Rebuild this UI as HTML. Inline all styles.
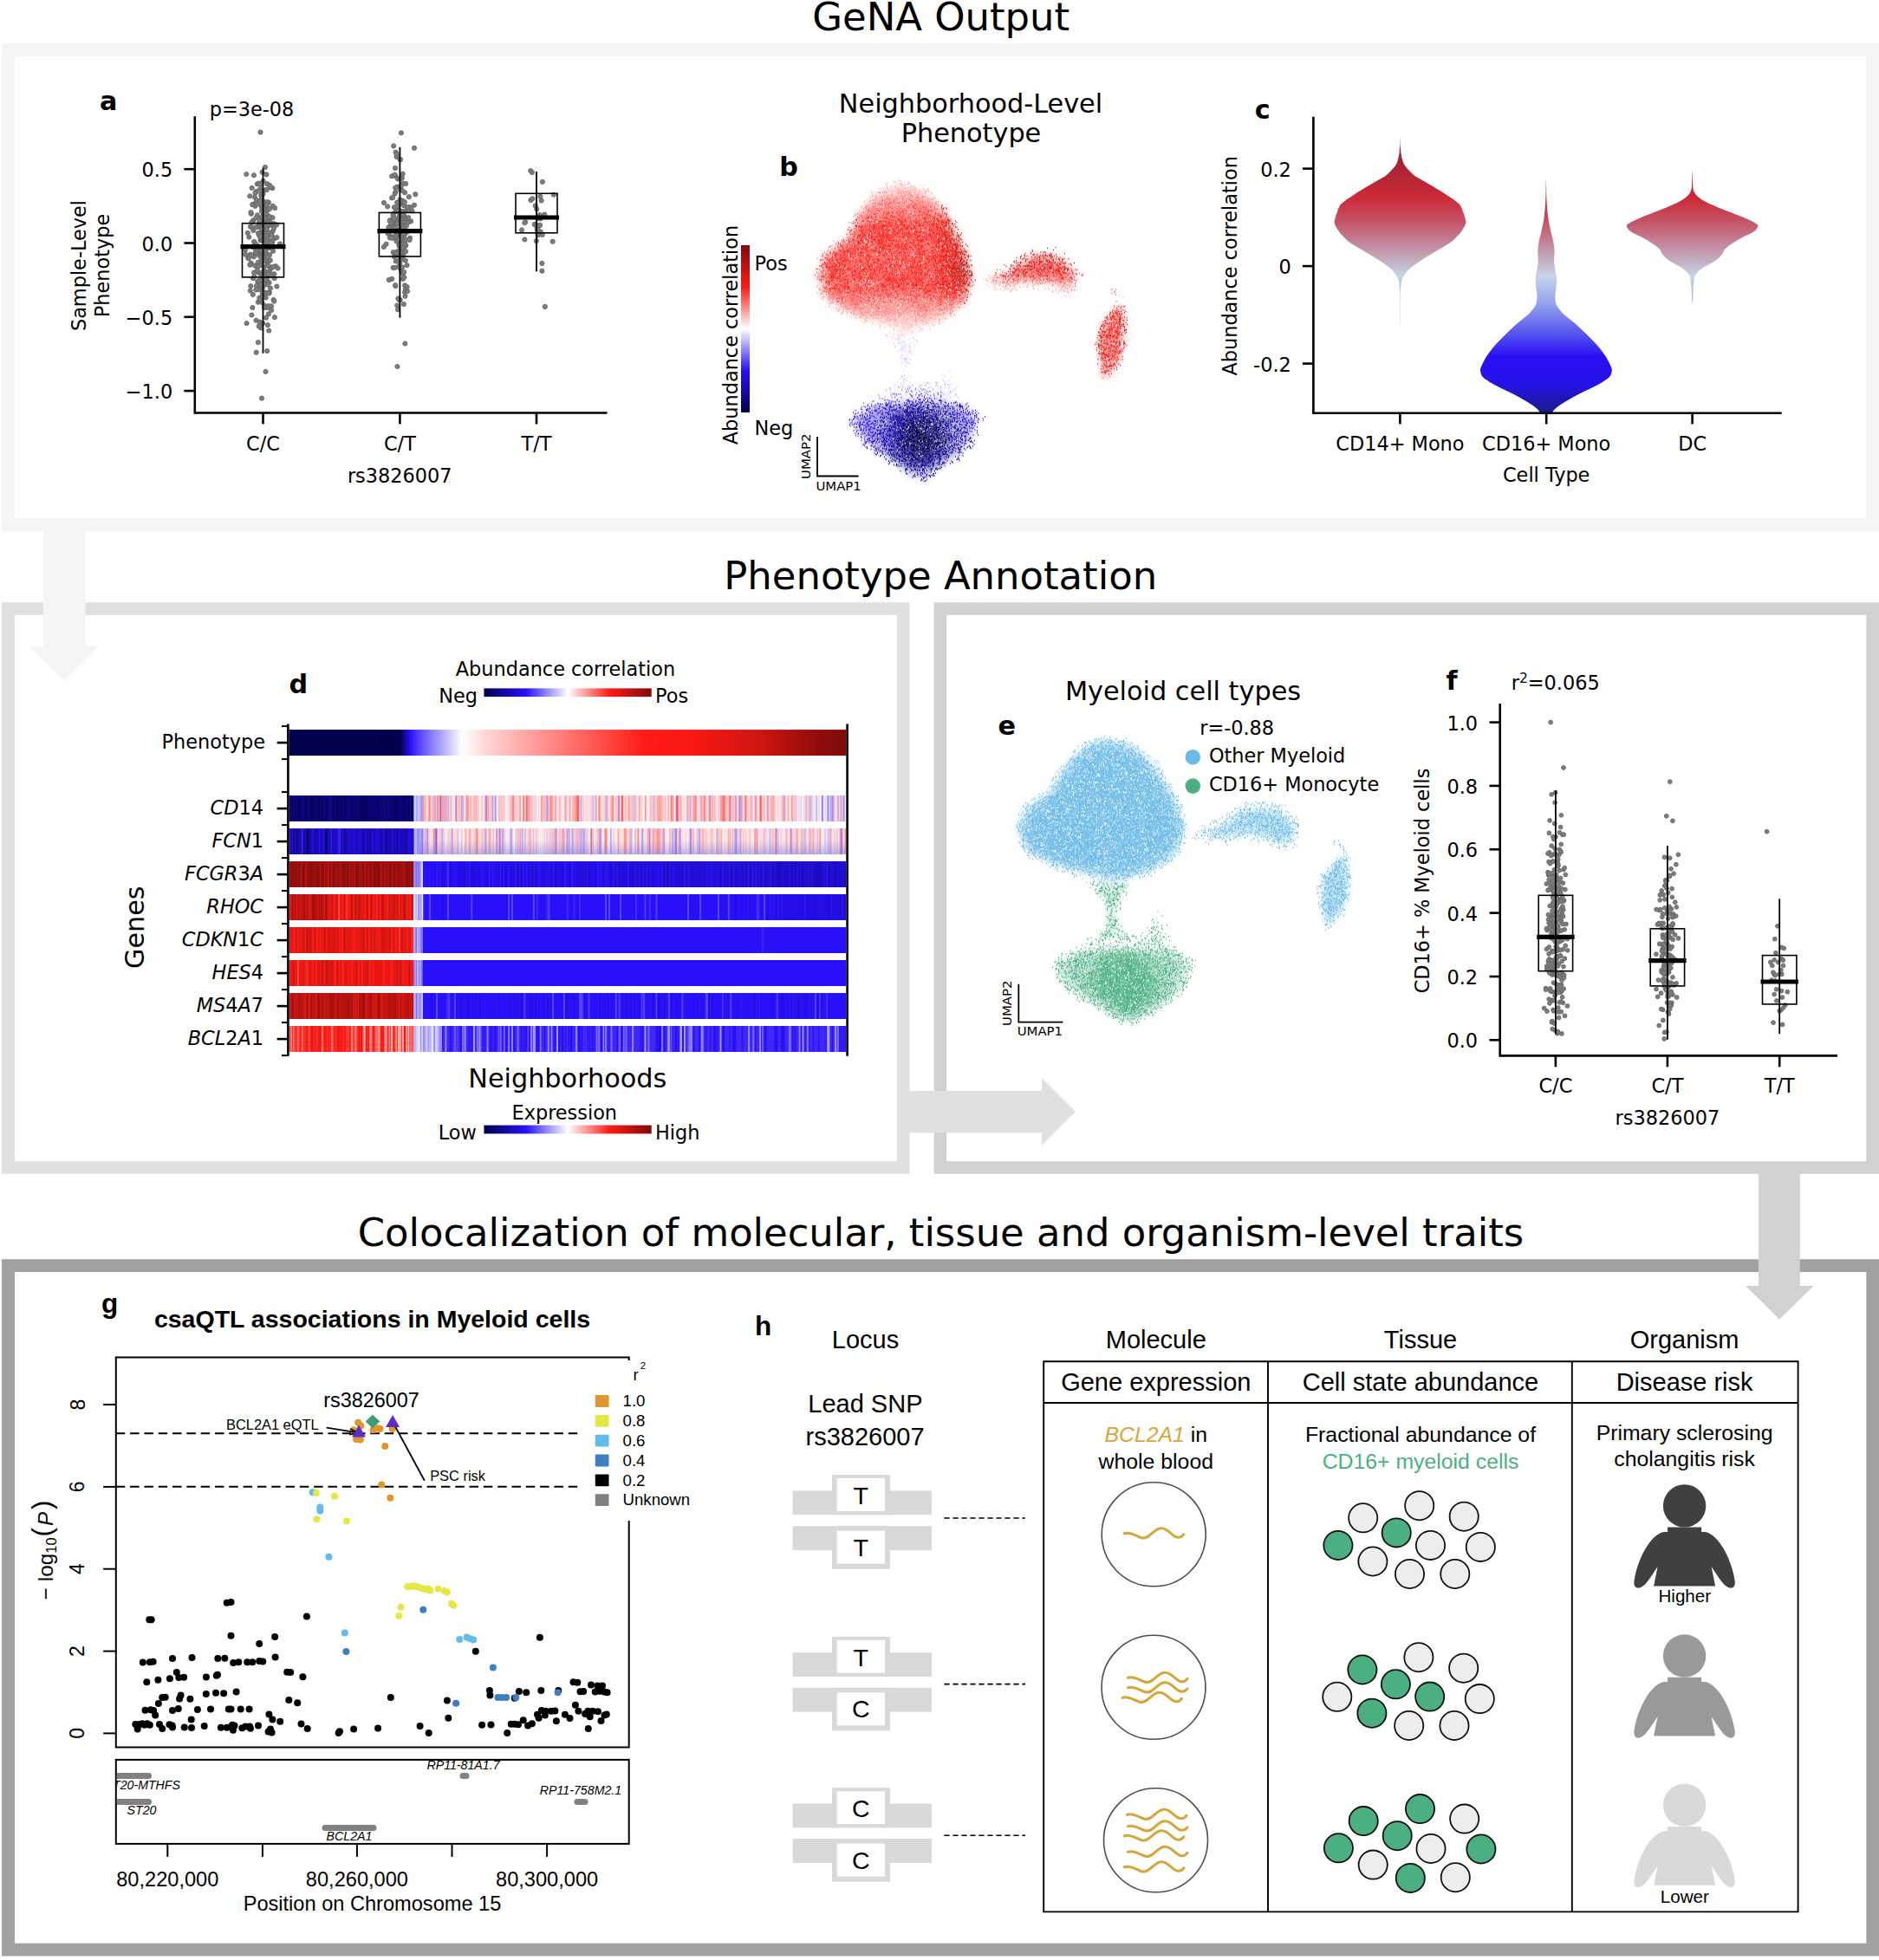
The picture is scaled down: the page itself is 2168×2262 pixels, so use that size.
<!DOCTYPE html><html><head><meta charset="utf-8"><title>GeNA figure</title><style>html,body{margin:0;padding:0;background:#fff}svg{display:block}text{font-family:"DejaVu Sans","Liberation Sans",sans-serif}text.l{font-family:"Liberation Sans","DejaVu Sans",sans-serif}</style></head><body><svg width="2168" height="2262" viewBox="0 0 2168 2262"><defs><linearGradient id="cbv" x1="0" x2="0" y1="0" y2="1"><stop offset="0.0" stop-color="#7f0a0a"/><stop offset="0.25" stop-color="#ff1a14"/><stop offset="0.5" stop-color="#ffffff"/><stop offset="0.75" stop-color="#2810f8"/><stop offset="1.0" stop-color="#00004c"/></linearGradient><linearGradient id="vg" gradientUnits="userSpaceOnUse" x1="0" y1="155.2" x2="0" y2="475.9"><stop offset="0.0000" stop-color="#8e1f33"/><stop offset="0.0789" stop-color="#a02234"/><stop offset="0.2298" stop-color="#cc2a36"/><stop offset="0.3184" stop-color="#c4566b"/><stop offset="0.3947" stop-color="#c4889c"/><stop offset="0.4572" stop-color="#c3b0c3"/><stop offset="0.5088" stop-color="#c5d5e8"/><stop offset="0.6140" stop-color="#8fa0ec"/><stop offset="0.7088" stop-color="#5a5cf0"/><stop offset="0.7982" stop-color="#2a10f5"/><stop offset="0.8947" stop-color="#2412e8"/><stop offset="1.0000" stop-color="#1a1a8c"/></linearGradient><linearGradient id="cb1" x1="0" x2="1" y1="0" y2="0"><stop offset="0.0" stop-color="#00004c"/><stop offset="0.25" stop-color="#2810f8"/><stop offset="0.5" stop-color="#ffffff"/><stop offset="0.75" stop-color="#ff1a14"/><stop offset="1.0" stop-color="#7f0a0a"/></linearGradient><linearGradient id="cb2" x1="0" x2="1" y1="0" y2="0"><stop offset="0.0" stop-color="#00004c"/><stop offset="0.25" stop-color="#2810f8"/><stop offset="0.5" stop-color="#ffffff"/><stop offset="0.75" stop-color="#ff1a14"/><stop offset="1.0" stop-color="#7f0a0a"/></linearGradient><linearGradient id="phg" x1="0" x2="1" y1="0" y2="0"><stop offset="0" stop-color="#00004c"/><stop offset="0.2" stop-color="#00004c"/><stop offset="0.2" stop-color="#020156"/><stop offset="0.218" stop-color="#2810f8"/><stop offset="0.232" stop-color="#5340f9"/><stop offset="0.31" stop-color="#ffffff"/><stop offset="0.36" stop-color="#ffd1d0"/><stop offset="0.5" stop-color="#ff7672"/><stop offset="0.64" stop-color="#ff1a14"/><stop offset="0.72" stop-color="#fa1914"/><stop offset="0.85" stop-color="#cc1410"/><stop offset="0.95" stop-color="#910c0b"/><stop offset="1" stop-color="#7f0a0a"/></linearGradient><linearGradient id="fcg" x1="0" x2="0" y1="0" y2="1"><stop offset="0.45" stop-color="#7070e0" stop-opacity="0"/><stop offset="1" stop-color="#7070e0" stop-opacity="0.42"/></linearGradient><filter id="hb" x="0" y="-5%" width="100%" height="110%"><feGaussianBlur stdDeviation="0.7 0"/></filter><filter id="bl" x="-5%" y="-5%" width="110%" height="110%"><feGaussianBlur stdDeviation="3"/></filter></defs><rect width="2168" height="2262" fill="#fff"/><path fill="#f5f5f5" fill-rule="evenodd" d="M2,50H2168V613.2H2ZM17,65V598H2153V65Z"/><path fill="#dfe1e0" fill-rule="evenodd" d="M2,695.2H1049.5V1354.8H2ZM17,709.7V1340.2H1035V709.7Z"/><path fill="#d1d1d1" fill-rule="evenodd" d="M1077.7,695.2H2168V1354.8H1077.7ZM1092.2,709.7V1340.2H2153.3V709.7Z"/><path fill="#a1a1a1" fill-rule="evenodd" d="M2,1453.3H2168V2257.5H2ZM17,1467.9V2242.7H2153.3V1467.9Z"/><path fill="#f5f5f5" d="M49.8,600H98.5V746H114.4L74.5,786L34.6,746H49.8Z"/><path fill="#dfe1e0" d="M1036,1259H1202V1243.9L1241,1283L1202,1322.1V1307.3H1036Z"/><path fill="#d1d1d1" d="M2029,1342H2076.8V1484H2092.3L2053,1522.7L2014,1484H2029Z"/><text x="1085.7" y="35.2" font-size="44.9" text-anchor="middle">GeNA Output</text><text x="1085.2" y="679.8" font-size="44.9" text-anchor="middle">Phenotype Annotation</text><text x="1085.4" y="1438.3" font-size="44.9" text-anchor="middle">Colocalization of molecular, tissue and organism-level traits</text><text x="115.0" y="127.0" font-size="30.2" font-weight="bold">a</text><text x="241.8" y="134.3" font-size="22.4">p=3e-08</text><g fill="#7d7d7d" stroke="#666" stroke-width="0.9"><circle cx="307.3" cy="297.4" r="2.6"/><circle cx="301.1" cy="296.0" r="2.6"/><circle cx="301.9" cy="328.5" r="2.6"/><circle cx="306.7" cy="234.4" r="2.6"/><circle cx="305.4" cy="237.9" r="2.6"/><circle cx="304.9" cy="267.4" r="2.6"/><circle cx="309.9" cy="362.4" r="2.6"/><circle cx="307.2" cy="262.3" r="2.6"/><circle cx="290.4" cy="363.5" r="2.6"/><circle cx="300.0" cy="326.6" r="2.6"/><circle cx="303.2" cy="271.5" r="2.6"/><circle cx="298.7" cy="261.6" r="2.6"/><circle cx="306.5" cy="271.4" r="2.6"/><circle cx="316.4" cy="316.1" r="2.6"/><circle cx="312.5" cy="260.0" r="2.6"/><circle cx="298.0" cy="314.2" r="2.6"/><circle cx="302.7" cy="301.5" r="2.6"/><circle cx="305.4" cy="256.5" r="2.6"/><circle cx="296.3" cy="306.2" r="2.6"/><circle cx="312.7" cy="309.6" r="2.6"/><circle cx="305.3" cy="322.8" r="2.6"/><circle cx="292.3" cy="266.0" r="2.6"/><circle cx="313.3" cy="283.4" r="2.6"/><circle cx="301.1" cy="378.4" r="2.6"/><circle cx="297.4" cy="290.5" r="2.6"/><circle cx="303.0" cy="262.7" r="2.6"/><circle cx="309.7" cy="353.1" r="2.6"/><circle cx="310.6" cy="254.8" r="2.6"/><circle cx="306.2" cy="219.3" r="2.6"/><circle cx="293.8" cy="280.1" r="2.6"/><circle cx="298.9" cy="257.3" r="2.6"/><circle cx="294.0" cy="306.5" r="2.6"/><circle cx="299.5" cy="330.2" r="2.6"/><circle cx="288.3" cy="226.3" r="2.6"/><circle cx="305.3" cy="352.8" r="2.6"/><circle cx="307.8" cy="219.1" r="2.6"/><circle cx="284.6" cy="373.1" r="2.6"/><circle cx="298.0" cy="269.2" r="2.6"/><circle cx="310.8" cy="337.2" r="2.6"/><circle cx="304.7" cy="234.9" r="2.6"/><circle cx="306.8" cy="274.3" r="2.6"/><circle cx="308.1" cy="212.2" r="2.6"/><circle cx="307.6" cy="261.7" r="2.6"/><circle cx="313.1" cy="357.9" r="2.6"/><circle cx="307.5" cy="241.6" r="2.6"/><circle cx="298.7" cy="376.5" r="2.6"/><circle cx="289.9" cy="246.8" r="2.6"/><circle cx="311.1" cy="294.1" r="2.6"/><circle cx="315.6" cy="346.0" r="2.6"/><circle cx="302.4" cy="260.2" r="2.6"/><circle cx="308.4" cy="270.7" r="2.6"/><circle cx="312.1" cy="280.1" r="2.6"/><circle cx="300.4" cy="316.1" r="2.6"/><circle cx="303.7" cy="237.6" r="2.6"/><circle cx="310.6" cy="326.2" r="2.6"/><circle cx="300.2" cy="218.1" r="2.6"/><circle cx="302.5" cy="349.2" r="2.6"/><circle cx="301.3" cy="292.5" r="2.6"/><circle cx="295.8" cy="220.9" r="2.6"/><circle cx="294.0" cy="227.6" r="2.6"/><circle cx="308.2" cy="321.9" r="2.6"/><circle cx="309.9" cy="233.6" r="2.6"/><circle cx="304.6" cy="269.7" r="2.6"/><circle cx="307.8" cy="278.6" r="2.6"/><circle cx="305.6" cy="293.7" r="2.6"/><circle cx="303.5" cy="259.2" r="2.6"/><circle cx="307.7" cy="250.4" r="2.6"/><circle cx="305.9" cy="193.0" r="2.6"/><circle cx="300.7" cy="305.3" r="2.6"/><circle cx="310.4" cy="286.2" r="2.6"/><circle cx="306.4" cy="301.1" r="2.6"/><circle cx="284.3" cy="201.0" r="2.6"/><circle cx="305.3" cy="337.4" r="2.6"/><circle cx="305.3" cy="267.3" r="2.6"/><circle cx="308.4" cy="305.5" r="2.6"/><circle cx="299.6" cy="272.6" r="2.6"/><circle cx="299.3" cy="269.3" r="2.6"/><circle cx="301.8" cy="290.2" r="2.6"/><circle cx="283.0" cy="288.5" r="2.6"/><circle cx="311.1" cy="308.0" r="2.6"/><circle cx="303.0" cy="339.4" r="2.6"/><circle cx="309.9" cy="241.7" r="2.6"/><circle cx="290.7" cy="216.9" r="2.6"/><circle cx="300.9" cy="301.9" r="2.6"/><circle cx="311.7" cy="256.9" r="2.6"/><circle cx="292.6" cy="235.5" r="2.6"/><circle cx="292.3" cy="254.2" r="2.6"/><circle cx="312.5" cy="277.5" r="2.6"/><circle cx="304.9" cy="292.5" r="2.6"/><circle cx="304.6" cy="248.9" r="2.6"/><circle cx="315.0" cy="289.7" r="2.6"/><circle cx="301.3" cy="237.3" r="2.6"/><circle cx="310.4" cy="338.4" r="2.6"/><circle cx="304.5" cy="297.9" r="2.6"/><circle cx="305.2" cy="253.1" r="2.6"/><circle cx="292.0" cy="256.2" r="2.6"/><circle cx="308.1" cy="355.1" r="2.6"/><circle cx="295.8" cy="330.0" r="2.6"/><circle cx="313.0" cy="353.3" r="2.6"/><circle cx="314.5" cy="251.2" r="2.6"/><circle cx="303.5" cy="328.8" r="2.6"/><circle cx="309.2" cy="338.1" r="2.6"/><circle cx="296.8" cy="212.4" r="2.6"/><circle cx="310.9" cy="213.7" r="2.6"/><circle cx="288.7" cy="293.8" r="2.6"/><circle cx="302.8" cy="220.8" r="2.6"/><circle cx="306.5" cy="313.4" r="2.6"/><circle cx="314.7" cy="266.7" r="2.6"/><circle cx="312.0" cy="332.6" r="2.6"/><circle cx="314.4" cy="217.1" r="2.6"/><circle cx="297.9" cy="293.9" r="2.6"/><circle cx="304.4" cy="238.7" r="2.6"/><circle cx="314.2" cy="279.9" r="2.6"/><circle cx="286.3" cy="297.8" r="2.6"/><circle cx="289.6" cy="303.5" r="2.6"/><circle cx="305.9" cy="247.9" r="2.6"/><circle cx="303.4" cy="313.8" r="2.6"/><circle cx="304.1" cy="247.3" r="2.6"/><circle cx="303.0" cy="224.5" r="2.6"/><circle cx="314.7" cy="237.7" r="2.6"/><circle cx="298.5" cy="211.5" r="2.6"/><circle cx="289.4" cy="245.1" r="2.6"/><circle cx="288.8" cy="335.5" r="2.6"/><circle cx="294.3" cy="236.4" r="2.6"/><circle cx="302.1" cy="286.2" r="2.6"/><circle cx="299.1" cy="286.9" r="2.6"/><circle cx="316.9" cy="274.9" r="2.6"/><circle cx="307.5" cy="283.6" r="2.6"/><circle cx="302.0" cy="239.5" r="2.6"/><circle cx="299.3" cy="343.6" r="2.6"/><circle cx="291.2" cy="236.2" r="2.6"/><circle cx="311.1" cy="313.2" r="2.6"/><circle cx="303.6" cy="249.1" r="2.6"/><circle cx="304.7" cy="248.5" r="2.6"/><circle cx="291.8" cy="339.9" r="2.6"/><circle cx="310.4" cy="315.0" r="2.6"/><circle cx="296.7" cy="311.7" r="2.6"/><circle cx="292.0" cy="321.1" r="2.6"/><circle cx="294.7" cy="291.0" r="2.6"/><circle cx="285.8" cy="268.8" r="2.6"/><circle cx="298.7" cy="270.5" r="2.6"/><circle cx="308.9" cy="375.1" r="2.6"/><circle cx="286.8" cy="298.3" r="2.6"/><circle cx="305.7" cy="325.9" r="2.6"/><circle cx="309.3" cy="306.7" r="2.6"/><circle cx="308.5" cy="251.2" r="2.6"/><circle cx="313.5" cy="270.6" r="2.6"/><circle cx="306.9" cy="255.2" r="2.6"/><circle cx="310.2" cy="381.6" r="2.6"/><circle cx="301.3" cy="225.3" r="2.6"/><circle cx="318.1" cy="307.2" r="2.6"/><circle cx="307.0" cy="366.6" r="2.6"/><circle cx="308.7" cy="328.3" r="2.6"/><circle cx="302.6" cy="198.7" r="2.6"/><circle cx="310.3" cy="259.8" r="2.6"/><circle cx="302.8" cy="327.3" r="2.6"/><circle cx="309.7" cy="272.1" r="2.6"/><circle cx="302.0" cy="287.2" r="2.6"/><circle cx="300.8" cy="332.4" r="2.6"/><circle cx="304.3" cy="244.5" r="2.6"/><circle cx="297.2" cy="324.9" r="2.6"/><circle cx="308.3" cy="233.1" r="2.6"/><circle cx="308.2" cy="405.1" r="2.6"/><circle cx="316.1" cy="263.5" r="2.6"/><circle cx="303.0" cy="265.9" r="2.6"/><circle cx="288.9" cy="261.6" r="2.6"/><circle cx="305.9" cy="238.0" r="2.6"/><circle cx="313.4" cy="318.0" r="2.6"/><circle cx="293.0" cy="202.3" r="2.6"/><circle cx="305.7" cy="316.3" r="2.6"/><circle cx="300.5" cy="277.2" r="2.6"/><circle cx="319.4" cy="330.5" r="2.6"/><circle cx="294.5" cy="237.8" r="2.6"/><circle cx="316.3" cy="347.6" r="2.6"/><circle cx="317.2" cy="240.1" r="2.6"/><circle cx="297.0" cy="248.3" r="2.6"/><circle cx="287.3" cy="273.6" r="2.6"/><circle cx="303.1" cy="320.1" r="2.6"/><circle cx="298.0" cy="261.5" r="2.6"/><circle cx="306.9" cy="291.3" r="2.6"/><circle cx="308.3" cy="268.3" r="2.6"/><circle cx="301.1" cy="276.0" r="2.6"/><circle cx="303.9" cy="249.3" r="2.6"/><circle cx="298.8" cy="323.7" r="2.6"/><circle cx="302.7" cy="285.6" r="2.6"/><circle cx="303.5" cy="278.4" r="2.6"/><circle cx="302.5" cy="277.5" r="2.6"/><circle cx="306.7" cy="343.6" r="2.6"/><circle cx="306.8" cy="237.1" r="2.6"/><circle cx="306.8" cy="294.3" r="2.6"/><circle cx="289.3" cy="330.1" r="2.6"/><circle cx="296.5" cy="282.9" r="2.6"/><circle cx="295.4" cy="251.5" r="2.6"/><circle cx="295.7" cy="406.7" r="2.6"/><circle cx="300.6" cy="212.9" r="2.6"/><circle cx="297.8" cy="348.7" r="2.6"/><circle cx="307.2" cy="261.6" r="2.6"/><circle cx="314.6" cy="277.5" r="2.6"/><circle cx="303.3" cy="253.1" r="2.6"/><circle cx="315.9" cy="258.1" r="2.6"/><circle cx="311.2" cy="240.9" r="2.6"/><circle cx="302.4" cy="335.5" r="2.6"/><circle cx="301.3" cy="252.0" r="2.6"/><circle cx="308.0" cy="236.4" r="2.6"/><circle cx="301.9" cy="243.8" r="2.6"/><circle cx="301.9" cy="228.5" r="2.6"/><circle cx="323.0" cy="281.4" r="2.6"/><circle cx="310.1" cy="301.4" r="2.6"/><circle cx="303.5" cy="240.5" r="2.6"/><circle cx="304.9" cy="339.4" r="2.6"/><circle cx="312.0" cy="269.1" r="2.6"/><circle cx="303.7" cy="249.6" r="2.6"/><circle cx="307.5" cy="246.3" r="2.6"/><circle cx="303.9" cy="276.1" r="2.6"/><circle cx="308.6" cy="296.8" r="2.6"/><circle cx="298.8" cy="334.2" r="2.6"/><circle cx="292.5" cy="285.4" r="2.6"/><circle cx="288.4" cy="305.7" r="2.6"/><circle cx="307.8" cy="317.1" r="2.6"/><circle cx="303.1" cy="259.5" r="2.6"/><circle cx="292.9" cy="296.3" r="2.6"/><circle cx="307.4" cy="201.4" r="2.6"/><circle cx="296.9" cy="235.3" r="2.6"/><circle cx="289.9" cy="294.2" r="2.6"/><circle cx="310.5" cy="249.7" r="2.6"/><circle cx="303.1" cy="373.0" r="2.6"/><circle cx="290.3" cy="256.6" r="2.6"/><circle cx="295.5" cy="369.7" r="2.6"/><circle cx="293.0" cy="314.6" r="2.6"/><circle cx="305.4" cy="284.2" r="2.6"/><circle cx="308.8" cy="256.4" r="2.6"/><circle cx="312.2" cy="216.4" r="2.6"/><circle cx="299.7" cy="346.0" r="2.6"/><circle cx="295.4" cy="334.5" r="2.6"/><circle cx="303.5" cy="289.4" r="2.6"/><circle cx="291.6" cy="263.0" r="2.6"/><circle cx="303.3" cy="342.6" r="2.6"/><circle cx="301.2" cy="294.8" r="2.6"/><circle cx="297.8" cy="288.5" r="2.6"/><circle cx="306.2" cy="253.3" r="2.6"/><circle cx="298.5" cy="289.7" r="2.6"/><circle cx="283.1" cy="293.6" r="2.6"/><circle cx="303.8" cy="330.8" r="2.6"/><circle cx="305.0" cy="354.9" r="2.6"/><circle cx="293.2" cy="278.8" r="2.6"/><circle cx="301.1" cy="297.2" r="2.6"/><circle cx="308.1" cy="264.4" r="2.6"/><circle cx="297.1" cy="287.3" r="2.6"/><circle cx="303.0" cy="292.3" r="2.6"/><circle cx="305.7" cy="251.8" r="2.6"/><circle cx="293.3" cy="318.9" r="2.6"/><circle cx="297.9" cy="302.8" r="2.6"/><circle cx="302.6" cy="336.8" r="2.6"/><circle cx="304.3" cy="308.2" r="2.6"/><circle cx="300.4" cy="261.5" r="2.6"/><circle cx="311.8" cy="300.4" r="2.6"/><circle cx="311.9" cy="280.0" r="2.6"/><circle cx="297.9" cy="395.1" r="2.6"/><circle cx="308.0" cy="274.2" r="2.6"/><circle cx="313.1" cy="270.8" r="2.6"/><circle cx="310.6" cy="250.3" r="2.6"/><circle cx="302.3" cy="262.1" r="2.6"/><circle cx="295.4" cy="262.2" r="2.6"/><circle cx="295.9" cy="231.2" r="2.6"/><circle cx="319.4" cy="274.1" r="2.6"/><circle cx="303.6" cy="295.9" r="2.6"/><circle cx="303.7" cy="232.0" r="2.6"/><circle cx="305.4" cy="322.8" r="2.6"/><circle cx="308.8" cy="258.8" r="2.6"/><circle cx="316.6" cy="321.2" r="2.6"/><circle cx="303.6" cy="208.8" r="2.6"/><circle cx="300.3" cy="273.2" r="2.6"/><circle cx="298.2" cy="220.5" r="2.6"/><circle cx="299.9" cy="254.6" r="2.6"/><circle cx="308.9" cy="317.6" r="2.6"/><circle cx="303.4" cy="224.2" r="2.6"/><circle cx="309.6" cy="316.8" r="2.6"/><circle cx="305.8" cy="287.9" r="2.6"/><circle cx="312.0" cy="215.5" r="2.6"/><circle cx="320.6" cy="309.6" r="2.6"/><circle cx="309.4" cy="285.5" r="2.6"/><circle cx="303.2" cy="315.4" r="2.6"/><circle cx="316.9" cy="366.2" r="2.6"/><circle cx="294.4" cy="222.7" r="2.6"/><circle cx="291.3" cy="355.0" r="2.6"/><circle cx="300.1" cy="231.5" r="2.6"/><circle cx="301.2" cy="288.4" r="2.6"/><circle cx="295.3" cy="291.2" r="2.6"/><circle cx="292.7" cy="284.5" r="2.6"/><circle cx="305.8" cy="288.9" r="2.6"/><circle cx="301.8" cy="264.1" r="2.6"/><circle cx="304.7" cy="327.2" r="2.6"/><circle cx="315.2" cy="307.9" r="2.6"/><circle cx="302.6" cy="250.3" r="2.6"/><circle cx="298.2" cy="307.3" r="2.6"/><circle cx="300.9" cy="328.8" r="2.6"/><circle cx="307.4" cy="272.0" r="2.6"/><circle cx="319.2" cy="259.4" r="2.6"/><circle cx="303.6" cy="318.1" r="2.6"/><circle cx="299.6" cy="371.6" r="2.6"/><circle cx="300.5" cy="152.6" r="2.6"/><circle cx="306.5" cy="428.9" r="2.6"/><circle cx="302.0" cy="459.6" r="2.6"/><circle cx="462.6" cy="261.9" r="2.6"/><circle cx="459.6" cy="252.6" r="2.6"/><circle cx="461.8" cy="254.2" r="2.6"/><circle cx="447.2" cy="238.3" r="2.6"/><circle cx="461.4" cy="303.3" r="2.6"/><circle cx="453.6" cy="309.0" r="2.6"/><circle cx="456.5" cy="243.9" r="2.6"/><circle cx="467.0" cy="243.6" r="2.6"/><circle cx="465.2" cy="256.5" r="2.6"/><circle cx="450.8" cy="272.7" r="2.6"/><circle cx="464.8" cy="269.7" r="2.6"/><circle cx="460.7" cy="289.3" r="2.6"/><circle cx="454.8" cy="239.2" r="2.6"/><circle cx="475.4" cy="243.4" r="2.6"/><circle cx="462.5" cy="290.3" r="2.6"/><circle cx="473.0" cy="274.5" r="2.6"/><circle cx="468.1" cy="256.1" r="2.6"/><circle cx="461.3" cy="295.6" r="2.6"/><circle cx="448.1" cy="268.9" r="2.6"/><circle cx="468.1" cy="212.0" r="2.6"/><circle cx="467.0" cy="337.2" r="2.6"/><circle cx="464.8" cy="273.7" r="2.6"/><circle cx="450.2" cy="254.2" r="2.6"/><circle cx="472.6" cy="276.9" r="2.6"/><circle cx="453.7" cy="291.1" r="2.6"/><circle cx="452.2" cy="321.9" r="2.6"/><circle cx="474.1" cy="255.4" r="2.6"/><circle cx="463.2" cy="251.7" r="2.6"/><circle cx="457.5" cy="180.9" r="2.6"/><circle cx="465.4" cy="295.0" r="2.6"/><circle cx="453.8" cy="247.0" r="2.6"/><circle cx="463.6" cy="314.5" r="2.6"/><circle cx="451.6" cy="258.9" r="2.6"/><circle cx="457.3" cy="276.5" r="2.6"/><circle cx="460.5" cy="250.5" r="2.6"/><circle cx="458.7" cy="271.9" r="2.6"/><circle cx="471.8" cy="227.2" r="2.6"/><circle cx="467.7" cy="283.0" r="2.6"/><circle cx="461.9" cy="298.3" r="2.6"/><circle cx="472.8" cy="239.1" r="2.6"/><circle cx="460.8" cy="283.6" r="2.6"/><circle cx="450.2" cy="260.9" r="2.6"/><circle cx="456.3" cy="267.9" r="2.6"/><circle cx="452.9" cy="254.0" r="2.6"/><circle cx="461.7" cy="346.1" r="2.6"/><circle cx="457.3" cy="258.3" r="2.6"/><circle cx="459.4" cy="233.7" r="2.6"/><circle cx="465.0" cy="292.3" r="2.6"/><circle cx="456.3" cy="330.1" r="2.6"/><circle cx="467.8" cy="269.4" r="2.6"/><circle cx="463.7" cy="274.9" r="2.6"/><circle cx="463.7" cy="294.3" r="2.6"/><circle cx="456.3" cy="203.3" r="2.6"/><circle cx="456.6" cy="175.7" r="2.6"/><circle cx="462.7" cy="267.9" r="2.6"/><circle cx="452.1" cy="228.4" r="2.6"/><circle cx="465.9" cy="351.0" r="2.6"/><circle cx="466.1" cy="237.3" r="2.6"/><circle cx="463.3" cy="260.5" r="2.6"/><circle cx="464.2" cy="232.1" r="2.6"/><circle cx="452.1" cy="203.3" r="2.6"/><circle cx="467.5" cy="283.3" r="2.6"/><circle cx="468.3" cy="283.2" r="2.6"/><circle cx="461.4" cy="184.0" r="2.6"/><circle cx="457.7" cy="278.5" r="2.6"/><circle cx="456.7" cy="301.4" r="2.6"/><circle cx="461.7" cy="243.5" r="2.6"/><circle cx="460.1" cy="266.0" r="2.6"/><circle cx="465.1" cy="232.7" r="2.6"/><circle cx="466.4" cy="274.1" r="2.6"/><circle cx="452.8" cy="274.5" r="2.6"/><circle cx="464.9" cy="211.5" r="2.6"/><circle cx="469.5" cy="306.1" r="2.6"/><circle cx="449.7" cy="255.0" r="2.6"/><circle cx="463.9" cy="205.4" r="2.6"/><circle cx="462.9" cy="233.6" r="2.6"/><circle cx="449.8" cy="274.4" r="2.6"/><circle cx="461.6" cy="230.4" r="2.6"/><circle cx="464.0" cy="279.8" r="2.6"/><circle cx="466.5" cy="265.5" r="2.6"/><circle cx="461.1" cy="283.1" r="2.6"/><circle cx="458.2" cy="352.5" r="2.6"/><circle cx="471.4" cy="242.0" r="2.6"/><circle cx="460.5" cy="282.8" r="2.6"/><circle cx="459.0" cy="206.4" r="2.6"/><circle cx="474.0" cy="239.8" r="2.6"/><circle cx="470.6" cy="267.0" r="2.6"/><circle cx="463.0" cy="296.4" r="2.6"/><circle cx="462.3" cy="271.6" r="2.6"/><circle cx="479.3" cy="224.2" r="2.6"/><circle cx="457.1" cy="294.7" r="2.6"/><circle cx="453.5" cy="249.0" r="2.6"/><circle cx="465.7" cy="249.1" r="2.6"/><circle cx="465.4" cy="279.4" r="2.6"/><circle cx="467.1" cy="329.4" r="2.6"/><circle cx="456.2" cy="329.2" r="2.6"/><circle cx="458.4" cy="290.4" r="2.6"/><circle cx="462.0" cy="234.9" r="2.6"/><circle cx="465.5" cy="284.2" r="2.6"/><circle cx="461.4" cy="206.5" r="2.6"/><circle cx="470.7" cy="254.2" r="2.6"/><circle cx="451.8" cy="258.0" r="2.6"/><circle cx="478.0" cy="170.8" r="2.6"/><circle cx="461.1" cy="346.4" r="2.6"/><circle cx="468.6" cy="252.2" r="2.6"/><circle cx="459.4" cy="242.3" r="2.6"/><circle cx="462.2" cy="309.9" r="2.6"/><circle cx="453.2" cy="228.0" r="2.6"/><circle cx="461.2" cy="308.9" r="2.6"/><circle cx="459.4" cy="344.6" r="2.6"/><circle cx="464.8" cy="285.7" r="2.6"/><circle cx="454.8" cy="296.1" r="2.6"/><circle cx="461.0" cy="284.0" r="2.6"/><circle cx="461.5" cy="294.6" r="2.6"/><circle cx="470.3" cy="239.1" r="2.6"/><circle cx="455.5" cy="201.7" r="2.6"/><circle cx="442.8" cy="285.0" r="2.6"/><circle cx="456.0" cy="194.0" r="2.6"/><circle cx="465.3" cy="269.9" r="2.6"/><circle cx="464.9" cy="321.9" r="2.6"/><circle cx="447.7" cy="269.6" r="2.6"/><circle cx="470.4" cy="257.1" r="2.6"/><circle cx="467.5" cy="341.8" r="2.6"/><circle cx="465.0" cy="260.3" r="2.6"/><circle cx="471.2" cy="251.2" r="2.6"/><circle cx="468.0" cy="277.3" r="2.6"/><circle cx="466.9" cy="284.6" r="2.6"/><circle cx="460.6" cy="300.5" r="2.6"/><circle cx="464.7" cy="200.6" r="2.6"/><circle cx="452.8" cy="274.8" r="2.6"/><circle cx="462.9" cy="299.6" r="2.6"/><circle cx="464.6" cy="231.7" r="2.6"/><circle cx="461.1" cy="248.0" r="2.6"/><circle cx="458.5" cy="215.5" r="2.6"/><circle cx="468.1" cy="290.1" r="2.6"/><circle cx="459.3" cy="266.1" r="2.6"/><circle cx="459.5" cy="291.2" r="2.6"/><circle cx="464.1" cy="244.1" r="2.6"/><circle cx="464.6" cy="316.0" r="2.6"/><circle cx="453.9" cy="261.5" r="2.6"/><circle cx="459.3" cy="238.2" r="2.6"/><circle cx="467.4" cy="281.7" r="2.6"/><circle cx="456.2" cy="216.7" r="2.6"/><circle cx="454.8" cy="251.4" r="2.6"/><circle cx="457.7" cy="177.8" r="2.6"/><circle cx="456.5" cy="221.7" r="2.6"/><circle cx="478.0" cy="236.7" r="2.6"/><circle cx="465.2" cy="285.6" r="2.6"/><circle cx="456.4" cy="272.2" r="2.6"/><circle cx="462.0" cy="184.1" r="2.6"/><circle cx="467.8" cy="333.1" r="2.6"/><circle cx="470.0" cy="336.1" r="2.6"/><circle cx="462.5" cy="291.2" r="2.6"/><circle cx="462.3" cy="219.1" r="2.6"/><circle cx="448.7" cy="323.1" r="2.6"/><circle cx="467.0" cy="222.2" r="2.6"/><circle cx="467.8" cy="300.6" r="2.6"/><circle cx="466.3" cy="249.1" r="2.6"/><circle cx="459.1" cy="357.2" r="2.6"/><circle cx="466.9" cy="233.2" r="2.6"/><circle cx="443.0" cy="234.0" r="2.6"/><circle cx="465.1" cy="261.9" r="2.6"/><circle cx="454.2" cy="168.4" r="2.6"/><circle cx="461.7" cy="281.5" r="2.6"/><circle cx="458.1" cy="233.8" r="2.6"/><circle cx="455.5" cy="223.5" r="2.6"/><circle cx="457.4" cy="258.1" r="2.6"/><circle cx="456.2" cy="262.4" r="2.6"/><circle cx="469.6" cy="331.2" r="2.6"/><circle cx="457.2" cy="256.7" r="2.6"/><circle cx="468.8" cy="260.7" r="2.6"/><circle cx="460.6" cy="306.9" r="2.6"/><circle cx="465.3" cy="247.4" r="2.6"/><circle cx="445.6" cy="281.7" r="2.6"/><circle cx="463.9" cy="219.8" r="2.6"/><circle cx="459.3" cy="268.0" r="2.6"/><circle cx="458.2" cy="258.2" r="2.6"/><circle cx="455.9" cy="308.8" r="2.6"/><circle cx="456.8" cy="292.0" r="2.6"/><circle cx="466.2" cy="314.0" r="2.6"/><circle cx="466.3" cy="320.0" r="2.6"/><circle cx="464.0" cy="308.4" r="2.6"/><circle cx="462.9" cy="214.6" r="2.6"/><circle cx="461.8" cy="297.2" r="2.6"/><circle cx="448.4" cy="262.7" r="2.6"/><circle cx="462.9" cy="153.4" r="2.6"/><circle cx="467.4" cy="396.5" r="2.6"/><circle cx="458.4" cy="423.0" r="2.6"/><circle cx="620.2" cy="268.1" r="2.6"/><circle cx="619.6" cy="264.3" r="2.6"/><circle cx="624.7" cy="231.5" r="2.6"/><circle cx="623.4" cy="226.8" r="2.6"/><circle cx="618.9" cy="259.4" r="2.6"/><circle cx="616.7" cy="258.9" r="2.6"/><circle cx="606.1" cy="256.4" r="2.6"/><circle cx="618.8" cy="260.6" r="2.6"/><circle cx="618.8" cy="278.1" r="2.6"/><circle cx="617.8" cy="237.4" r="2.6"/><circle cx="605.3" cy="257.1" r="2.6"/><circle cx="638.9" cy="224.7" r="2.6"/><circle cx="622.9" cy="248.0" r="2.6"/><circle cx="623.1" cy="259.8" r="2.6"/><circle cx="625.4" cy="312.7" r="2.6"/><circle cx="619.2" cy="241.3" r="2.6"/><circle cx="623.8" cy="267.5" r="2.6"/><circle cx="620.7" cy="264.7" r="2.6"/><circle cx="602.1" cy="265.4" r="2.6"/><circle cx="620.5" cy="252.4" r="2.6"/><circle cx="612.4" cy="230.9" r="2.6"/><circle cx="623.6" cy="252.4" r="2.6"/><circle cx="628.3" cy="247.5" r="2.6"/><circle cx="612.2" cy="197.1" r="2.6"/><circle cx="625.4" cy="303.9" r="2.6"/><circle cx="625.9" cy="209.8" r="2.6"/><circle cx="614.4" cy="229.3" r="2.6"/><circle cx="625.7" cy="271.0" r="2.6"/><circle cx="605.4" cy="276.4" r="2.6"/><circle cx="637.7" cy="278.7" r="2.6"/><circle cx="613.9" cy="199.0" r="2.6"/><circle cx="620.7" cy="271.4" r="2.6"/><circle cx="628.8" cy="353.9" r="2.6"/></g><path d="M303.5,193.7V407.8" stroke="#000" stroke-width="1.8" fill="none"/><rect x="279.5" y="257.7" width="48.0" height="62.2" fill="none" stroke="#000" stroke-width="1.6"/><path d="M277.5,284.6H329.5" stroke="#000" stroke-width="5.2" fill="none"/><path d="M461.4,169.8V366.7" stroke="#000" stroke-width="1.8" fill="none"/><rect x="437.4" y="245.4" width="48.0" height="50.6" fill="none" stroke="#000" stroke-width="1.6"/><path d="M435.4,266.7H487.4" stroke="#000" stroke-width="5.2" fill="none"/><path d="M619.0,197.9V313.3" stroke="#000" stroke-width="1.8" fill="none"/><rect x="595.0" y="223.3" width="48.0" height="45.5" fill="none" stroke="#000" stroke-width="1.6"/><path d="M593.0,251.0H645.0" stroke="#000" stroke-width="5.2" fill="none"/><path d="M224.8,135.6V476.5H699.2" stroke="#000" stroke-width="2.6" fill="none" stroke-linecap="square"/><path d="M212.4,195.2L224.7,195.2" stroke="#000" stroke-width="2.6" /><text x="199.2" y="204.2" font-size="22.4" text-anchor="end">0.5</text><path d="M212.4,280.5L224.7,280.5" stroke="#000" stroke-width="2.6" /><text x="199.2" y="289.5" font-size="22.4" text-anchor="end">0.0</text><path d="M212.4,365.8L224.7,365.8" stroke="#000" stroke-width="2.6" /><text x="199.2" y="374.8" font-size="22.4" text-anchor="end">−0.5</text><path d="M212.4,451.1L224.7,451.1" stroke="#000" stroke-width="2.6" /><text x="199.2" y="460.1" font-size="22.4" text-anchor="end">−1.0</text><path d="M303.5,476.5L303.5,489.4" stroke="#000" stroke-width="2.6" /><text x="303.5" y="519.9" font-size="22.4" text-anchor="middle">C/C</text><path d="M461.4,476.5L461.4,489.4" stroke="#000" stroke-width="2.6" /><text x="461.4" y="519.9" font-size="22.4" text-anchor="middle">C/T</text><path d="M619.0,476.5L619.0,489.4" stroke="#000" stroke-width="2.6" /><text x="619.0" y="519.9" font-size="22.4" text-anchor="middle">T/T</text><text x="461.2" y="556.7" font-size="22.4" text-anchor="middle">rs3826007</text><text x="99.0" y="306.5" font-size="22.4" text-anchor="middle" transform="rotate(-90 99.0 306.5)">Sample-Level</text><text x="125.6" y="306.5" font-size="22.4" text-anchor="middle" transform="rotate(-90 125.6 306.5)">Phenotype</text><text x="1120.0" y="130.3" font-size="30.3" text-anchor="middle">Neighborhood-Level</text><text x="1120.5" y="163.9" font-size="30.3" text-anchor="middle">Phenotype</text><text x="899.3" y="203.0" font-size="30.2" font-weight="bold">b</text><rect x="855.0" y="283.0" width="10.0" height="193.0" fill="url(#cbv)" /><text x="851.0" y="386.5" font-size="22.4" text-anchor="middle" transform="rotate(-90 851.0 386.5)">Abundance correlation</text><text x="870.6" y="312.0" font-size="22.4">Pos</text><text x="870.6" y="502.0" font-size="22.4">Neg</text><g filter="url(#bl)"><path fill="#ffeae9" d="M939,315h7.9v8.8h-7.9zM946,290h7.9v8.8h-7.9zM968,273h7.9v8.8h-7.9zM1013,365h7.9v8.8h-7.9zM1020,215h7.9v8.8h-7.9zM1050,215h7.9v8.8h-7.9zM1079,232h7.9v8.8h-7.9z"/><path fill="#ffd4d3" d="M946,298h7.9v8.8h-7.9zM953,340h7.9v8.8h-7.9zM968,349h7.9v8.8h-7.9zM983,257h7.9v8.8h-7.9zM983,357h7.9v8.8h-7.9zM990,240h7.9v8.8h-7.9zM1035,349h7.9v8.8h-7.9zM1042,374h7.9v8.8h-7.9zM1064,223h7.9v8.8h-7.9zM1087,357h7.9v8.8h-7.9zM1101,349h7.9v8.8h-7.9zM1149,318h7.9v8.8h-7.9zM1179,318h7.9v8.8h-7.9zM1223,326h7.9v8.8h-7.9zM1270,429h7.9v8.8h-7.9z"/><path fill="#ffbebd" d="M946,307h7.9v8.8h-7.9zM946,323h7.9v8.8h-7.9zM953,290h7.9v8.8h-7.9zM976,273h7.9v8.8h-7.9zM1172,318h7.9v8.8h-7.9zM1194,318h7.9v8.8h-7.9zM1201,318h7.9v8.8h-7.9zM1231,318h7.9v8.8h-7.9z"/><path fill="#ffa9a7" d="M946,315h7.9v8.8h-7.9zM990,248h7.9v8.8h-7.9zM990,349h7.9v8.8h-7.9zM990,357h7.9v8.8h-7.9zM998,273h7.9v8.8h-7.9zM998,323h7.9v8.8h-7.9zM998,340h7.9v8.8h-7.9zM998,349h7.9v8.8h-7.9zM1005,248h7.9v8.8h-7.9zM1005,340h7.9v8.8h-7.9zM1005,349h7.9v8.8h-7.9zM1005,357h7.9v8.8h-7.9zM1013,232h7.9v8.8h-7.9zM1013,240h7.9v8.8h-7.9zM1013,349h7.9v8.8h-7.9zM1013,357h7.9v8.8h-7.9zM1020,223h7.9v8.8h-7.9zM1020,340h7.9v8.8h-7.9zM1020,349h7.9v8.8h-7.9zM1027,223h7.9v8.8h-7.9zM1027,232h7.9v8.8h-7.9zM1027,240h7.9v8.8h-7.9zM1027,340h7.9v8.8h-7.9zM1027,349h7.9v8.8h-7.9zM1027,357h7.9v8.8h-7.9zM1035,223h7.9v8.8h-7.9zM1035,232h7.9v8.8h-7.9zM1035,357h7.9v8.8h-7.9zM1042,223h7.9v8.8h-7.9zM1042,232h7.9v8.8h-7.9zM1042,240h7.9v8.8h-7.9zM1042,349h7.9v8.8h-7.9zM1042,357h7.9v8.8h-7.9zM1050,223h7.9v8.8h-7.9zM1050,240h7.9v8.8h-7.9zM1050,248h7.9v8.8h-7.9zM1050,290h7.9v8.8h-7.9zM1050,349h7.9v8.8h-7.9zM1050,357h7.9v8.8h-7.9zM1057,332h7.9v8.8h-7.9zM1057,340h7.9v8.8h-7.9zM1057,357h7.9v8.8h-7.9zM1064,357h7.9v8.8h-7.9zM1072,349h7.9v8.8h-7.9zM1072,357h7.9v8.8h-7.9zM1079,240h7.9v8.8h-7.9zM1079,349h7.9v8.8h-7.9zM1087,248h7.9v8.8h-7.9zM1094,349h7.9v8.8h-7.9zM1164,310h7.9v8.8h-7.9zM1164,318h7.9v8.8h-7.9zM1209,318h7.9v8.8h-7.9zM1216,318h7.9v8.8h-7.9zM1223,301h7.9v8.8h-7.9zM1231,310h7.9v8.8h-7.9zM1270,412h7.9v8.8h-7.9zM1270,421h7.9v8.8h-7.9zM1278,362h7.9v8.8h-7.9zM1285,354h7.9v8.8h-7.9z"/><path fill="#ffe2e2" d="M946,332h7.9v8.8h-7.9zM961,282h7.9v8.8h-7.9zM976,265h7.9v8.8h-7.9zM998,232h7.9v8.8h-7.9zM1005,223h7.9v8.8h-7.9zM1005,365h7.9v8.8h-7.9zM1027,215h7.9v8.8h-7.9zM1035,374h7.9v8.8h-7.9zM1072,365h7.9v8.8h-7.9zM1087,240h7.9v8.8h-7.9zM1142,318h7.9v8.8h-7.9zM1157,310h7.9v8.8h-7.9zM1216,326h7.9v8.8h-7.9zM1231,326h7.9v8.8h-7.9zM1263,396h7.9v8.8h-7.9zM1293,362h7.9v8.8h-7.9zM1293,371h7.9v8.8h-7.9zM1293,387h7.9v8.8h-7.9z"/><path fill="#ff706c" d="M953,298h7.9v8.8h-7.9zM961,290h7.9v8.8h-7.9zM1101,282h7.9v8.8h-7.9zM1172,310h7.9v8.8h-7.9zM1179,310h7.9v8.8h-7.9zM1186,301h7.9v8.8h-7.9zM1186,310h7.9v8.8h-7.9zM1194,301h7.9v8.8h-7.9zM1194,310h7.9v8.8h-7.9zM1201,310h7.9v8.8h-7.9zM1209,310h7.9v8.8h-7.9zM1216,310h7.9v8.8h-7.9zM1223,310h7.9v8.8h-7.9z"/><path fill="#ff534f" d="M953,307h7.9v8.8h-7.9zM953,315h7.9v8.8h-7.9zM961,298h7.9v8.8h-7.9zM961,315h7.9v8.8h-7.9zM961,332h7.9v8.8h-7.9zM968,290h7.9v8.8h-7.9zM968,298h7.9v8.8h-7.9zM968,307h7.9v8.8h-7.9zM968,323h7.9v8.8h-7.9zM976,282h7.9v8.8h-7.9zM976,290h7.9v8.8h-7.9zM976,323h7.9v8.8h-7.9zM983,282h7.9v8.8h-7.9zM983,307h7.9v8.8h-7.9zM983,315h7.9v8.8h-7.9zM990,257h7.9v8.8h-7.9zM990,265h7.9v8.8h-7.9zM990,298h7.9v8.8h-7.9zM998,265h7.9v8.8h-7.9zM998,290h7.9v8.8h-7.9zM998,307h7.9v8.8h-7.9zM1005,257h7.9v8.8h-7.9zM1005,273h7.9v8.8h-7.9zM1005,307h7.9v8.8h-7.9zM1005,315h7.9v8.8h-7.9zM1013,257h7.9v8.8h-7.9zM1013,265h7.9v8.8h-7.9zM1013,273h7.9v8.8h-7.9zM1013,282h7.9v8.8h-7.9zM1013,298h7.9v8.8h-7.9zM1013,323h7.9v8.8h-7.9zM1020,257h7.9v8.8h-7.9zM1020,265h7.9v8.8h-7.9zM1020,273h7.9v8.8h-7.9zM1020,282h7.9v8.8h-7.9zM1020,315h7.9v8.8h-7.9zM1020,323h7.9v8.8h-7.9zM1027,265h7.9v8.8h-7.9zM1027,273h7.9v8.8h-7.9zM1027,282h7.9v8.8h-7.9zM1027,290h7.9v8.8h-7.9zM1027,315h7.9v8.8h-7.9zM1035,240h7.9v8.8h-7.9zM1035,265h7.9v8.8h-7.9zM1035,282h7.9v8.8h-7.9zM1035,315h7.9v8.8h-7.9zM1035,323h7.9v8.8h-7.9zM1042,257h7.9v8.8h-7.9zM1042,265h7.9v8.8h-7.9zM1042,282h7.9v8.8h-7.9zM1042,290h7.9v8.8h-7.9zM1042,298h7.9v8.8h-7.9zM1042,315h7.9v8.8h-7.9zM1042,332h7.9v8.8h-7.9zM1050,257h7.9v8.8h-7.9zM1050,273h7.9v8.8h-7.9zM1050,298h7.9v8.8h-7.9zM1050,307h7.9v8.8h-7.9zM1050,315h7.9v8.8h-7.9zM1050,323h7.9v8.8h-7.9zM1057,257h7.9v8.8h-7.9zM1057,273h7.9v8.8h-7.9zM1057,282h7.9v8.8h-7.9zM1057,290h7.9v8.8h-7.9zM1057,298h7.9v8.8h-7.9zM1057,307h7.9v8.8h-7.9zM1057,315h7.9v8.8h-7.9zM1057,323h7.9v8.8h-7.9zM1064,248h7.9v8.8h-7.9zM1064,265h7.9v8.8h-7.9zM1064,290h7.9v8.8h-7.9zM1064,332h7.9v8.8h-7.9zM1072,257h7.9v8.8h-7.9zM1072,265h7.9v8.8h-7.9zM1072,273h7.9v8.8h-7.9zM1072,290h7.9v8.8h-7.9zM1072,298h7.9v8.8h-7.9zM1072,323h7.9v8.8h-7.9zM1072,332h7.9v8.8h-7.9zM1079,257h7.9v8.8h-7.9zM1079,265h7.9v8.8h-7.9zM1079,290h7.9v8.8h-7.9zM1079,298h7.9v8.8h-7.9zM1079,307h7.9v8.8h-7.9zM1079,315h7.9v8.8h-7.9zM1079,323h7.9v8.8h-7.9zM1087,282h7.9v8.8h-7.9zM1087,290h7.9v8.8h-7.9zM1087,298h7.9v8.8h-7.9zM1087,315h7.9v8.8h-7.9zM1087,323h7.9v8.8h-7.9zM1087,332h7.9v8.8h-7.9zM1094,282h7.9v8.8h-7.9zM1094,332h7.9v8.8h-7.9zM1101,332h7.9v8.8h-7.9z"/><path fill="#ff7e7b" d="M953,323h7.9v8.8h-7.9zM961,323h7.9v8.8h-7.9zM968,315h7.9v8.8h-7.9zM968,332h7.9v8.8h-7.9zM968,340h7.9v8.8h-7.9zM976,298h7.9v8.8h-7.9zM976,307h7.9v8.8h-7.9zM976,315h7.9v8.8h-7.9zM976,332h7.9v8.8h-7.9zM976,340h7.9v8.8h-7.9zM983,273h7.9v8.8h-7.9zM983,290h7.9v8.8h-7.9zM983,298h7.9v8.8h-7.9zM983,323h7.9v8.8h-7.9zM983,332h7.9v8.8h-7.9zM983,340h7.9v8.8h-7.9zM983,349h7.9v8.8h-7.9zM990,273h7.9v8.8h-7.9zM990,282h7.9v8.8h-7.9zM990,290h7.9v8.8h-7.9zM990,307h7.9v8.8h-7.9zM990,315h7.9v8.8h-7.9zM990,323h7.9v8.8h-7.9zM990,332h7.9v8.8h-7.9zM990,340h7.9v8.8h-7.9zM998,248h7.9v8.8h-7.9zM998,257h7.9v8.8h-7.9zM998,282h7.9v8.8h-7.9zM998,298h7.9v8.8h-7.9zM998,315h7.9v8.8h-7.9zM998,332h7.9v8.8h-7.9zM1005,240h7.9v8.8h-7.9zM1005,265h7.9v8.8h-7.9zM1005,282h7.9v8.8h-7.9zM1005,290h7.9v8.8h-7.9zM1005,298h7.9v8.8h-7.9zM1005,323h7.9v8.8h-7.9zM1005,332h7.9v8.8h-7.9zM1013,248h7.9v8.8h-7.9zM1013,290h7.9v8.8h-7.9zM1013,307h7.9v8.8h-7.9zM1013,315h7.9v8.8h-7.9zM1013,332h7.9v8.8h-7.9zM1013,340h7.9v8.8h-7.9zM1020,232h7.9v8.8h-7.9zM1020,240h7.9v8.8h-7.9zM1020,248h7.9v8.8h-7.9zM1020,290h7.9v8.8h-7.9zM1020,298h7.9v8.8h-7.9zM1020,307h7.9v8.8h-7.9zM1020,332h7.9v8.8h-7.9zM1020,357h7.9v8.8h-7.9zM1027,248h7.9v8.8h-7.9zM1027,257h7.9v8.8h-7.9zM1027,298h7.9v8.8h-7.9zM1027,307h7.9v8.8h-7.9zM1027,332h7.9v8.8h-7.9zM1035,248h7.9v8.8h-7.9zM1035,257h7.9v8.8h-7.9zM1035,273h7.9v8.8h-7.9zM1035,290h7.9v8.8h-7.9zM1035,298h7.9v8.8h-7.9zM1035,307h7.9v8.8h-7.9zM1035,332h7.9v8.8h-7.9zM1035,340h7.9v8.8h-7.9zM1042,248h7.9v8.8h-7.9zM1042,273h7.9v8.8h-7.9zM1042,307h7.9v8.8h-7.9zM1042,323h7.9v8.8h-7.9zM1042,340h7.9v8.8h-7.9zM1050,232h7.9v8.8h-7.9zM1050,265h7.9v8.8h-7.9zM1050,282h7.9v8.8h-7.9zM1050,332h7.9v8.8h-7.9zM1050,340h7.9v8.8h-7.9zM1057,232h7.9v8.8h-7.9zM1057,240h7.9v8.8h-7.9zM1057,248h7.9v8.8h-7.9zM1057,265h7.9v8.8h-7.9zM1057,349h7.9v8.8h-7.9zM1064,232h7.9v8.8h-7.9zM1064,240h7.9v8.8h-7.9zM1064,257h7.9v8.8h-7.9zM1064,273h7.9v8.8h-7.9zM1064,282h7.9v8.8h-7.9zM1064,298h7.9v8.8h-7.9zM1064,307h7.9v8.8h-7.9zM1064,315h7.9v8.8h-7.9zM1064,323h7.9v8.8h-7.9zM1064,340h7.9v8.8h-7.9zM1064,349h7.9v8.8h-7.9zM1072,240h7.9v8.8h-7.9zM1072,248h7.9v8.8h-7.9zM1072,282h7.9v8.8h-7.9zM1072,307h7.9v8.8h-7.9zM1072,315h7.9v8.8h-7.9zM1072,340h7.9v8.8h-7.9zM1079,248h7.9v8.8h-7.9zM1079,282h7.9v8.8h-7.9zM1079,332h7.9v8.8h-7.9zM1079,340h7.9v8.8h-7.9zM1087,340h7.9v8.8h-7.9zM1087,349h7.9v8.8h-7.9zM1094,340h7.9v8.8h-7.9z"/><path fill="#ff9491" d="M953,332h7.9v8.8h-7.9zM961,340h7.9v8.8h-7.9zM976,349h7.9v8.8h-7.9zM998,240h7.9v8.8h-7.9zM1101,340h7.9v8.8h-7.9zM1223,318h7.9v8.8h-7.9z"/><path fill="#e7504d" d="M961,307h7.9v8.8h-7.9zM1027,323h7.9v8.8h-7.9zM1079,273h7.9v8.8h-7.9zM1087,257h7.9v8.8h-7.9zM1087,265h7.9v8.8h-7.9zM1087,273h7.9v8.8h-7.9zM1087,307h7.9v8.8h-7.9zM1094,273h7.9v8.8h-7.9zM1094,290h7.9v8.8h-7.9zM1094,298h7.9v8.8h-7.9zM1094,307h7.9v8.8h-7.9zM1094,315h7.9v8.8h-7.9zM1094,323h7.9v8.8h-7.9zM1101,290h7.9v8.8h-7.9zM1101,315h7.9v8.8h-7.9zM1101,323h7.9v8.8h-7.9z"/><path fill="#fff1f0" d="M961,349h7.9v8.8h-7.9zM976,357h7.9v8.8h-7.9zM998,365h7.9v8.8h-7.9zM1050,374h7.9v8.8h-7.9zM1057,215h7.9v8.8h-7.9zM1072,223h7.9v8.8h-7.9zM1079,365h7.9v8.8h-7.9zM1094,357h7.9v8.8h-7.9zM1046,401h7.9v8.8h-7.9zM1157,326h7.9v8.8h-7.9z"/><path fill="#ff8c8a" d="M968,282h7.9v8.8h-7.9zM983,265h7.9v8.8h-7.9zM1109,332h7.9v8.8h-7.9zM1216,301h7.9v8.8h-7.9zM1270,379h7.9v8.8h-7.9zM1270,396h7.9v8.8h-7.9zM1270,404h7.9v8.8h-7.9zM1278,371h7.9v8.8h-7.9zM1278,379h7.9v8.8h-7.9zM1278,387h7.9v8.8h-7.9zM1278,412h7.9v8.8h-7.9zM1285,362h7.9v8.8h-7.9zM1285,371h7.9v8.8h-7.9zM1285,379h7.9v8.8h-7.9zM1285,387h7.9v8.8h-7.9z"/><path fill="#ffb7b6" d="M998,357h7.9v8.8h-7.9zM1005,232h7.9v8.8h-7.9zM1013,223h7.9v8.8h-7.9zM1035,215h7.9v8.8h-7.9zM1042,365h7.9v8.8h-7.9zM1057,223h7.9v8.8h-7.9zM1079,357h7.9v8.8h-7.9z"/><path fill="#fff8f8" d="M1013,215h7.9v8.8h-7.9zM1027,374h7.9v8.8h-7.9zM1035,207h7.9v8.8h-7.9zM1057,374h7.9v8.8h-7.9zM1031,385h7.9v8.8h-7.9zM1209,326h7.9v8.8h-7.9z"/><path fill="#ffc6c4" d="M1020,365h7.9v8.8h-7.9zM1064,365h7.9v8.8h-7.9zM1072,232h7.9v8.8h-7.9zM1109,340h7.9v8.8h-7.9zM1157,318h7.9v8.8h-7.9zM1186,318h7.9v8.8h-7.9zM1270,371h7.9v8.8h-7.9zM1285,412h7.9v8.8h-7.9z"/><path fill="#ffdbda" d="M1027,365h7.9v8.8h-7.9zM1035,365h7.9v8.8h-7.9zM1050,365h7.9v8.8h-7.9zM1057,365h7.9v8.8h-7.9z"/><path fill="#f7c5c4" d="M1094,257h7.9v8.8h-7.9zM1172,301h7.9v8.8h-7.9zM1186,293h7.9v8.8h-7.9zM1209,293h7.9v8.8h-7.9zM1278,421h7.9v8.8h-7.9z"/><path fill="#ef8a88" d="M1094,265h7.9v8.8h-7.9zM1270,387h7.9v8.8h-7.9zM1278,396h7.9v8.8h-7.9zM1278,404h7.9v8.8h-7.9zM1285,396h7.9v8.8h-7.9zM1285,404h7.9v8.8h-7.9z"/><path fill="#fbe2e1" d="M1101,265h7.9v8.8h-7.9zM1109,282h7.9v8.8h-7.9zM1116,323h7.9v8.8h-7.9zM1216,293h7.9v8.8h-7.9zM1293,379h7.9v8.8h-7.9z"/><path fill="#e7a6a5" d="M1101,273h7.9v8.8h-7.9zM1109,290h7.9v8.8h-7.9z"/><path fill="#cf4d4b" d="M1101,298h7.9v8.8h-7.9zM1101,307h7.9v8.8h-7.9z"/><path fill="#df8887" d="M1109,298h7.9v8.8h-7.9z"/><path fill="#d76b69" d="M1109,307h7.9v8.8h-7.9zM1109,315h7.9v8.8h-7.9zM1209,301h7.9v8.8h-7.9z"/><path fill="#eb6d6b" d="M1109,323h7.9v8.8h-7.9zM1201,301h7.9v8.8h-7.9z"/><path fill="#f7e1e1" d="M1116,307h7.9v8.8h-7.9z"/><path fill="#efc4c3" d="M1116,315h7.9v8.8h-7.9z"/><path fill="#f8f8ff" d="M1024,385h7.9v8.8h-7.9zM1031,443h7.9v8.8h-7.9zM1038,443h7.9v8.8h-7.9zM1046,443h7.9v8.8h-7.9zM1089,450h7.9v8.8h-7.9z"/><path fill="#f2f0fe" d="M1038,393h7.9v8.8h-7.9zM1038,410h7.9v8.8h-7.9z"/><path fill="#e4e1fe" d="M985,475h7.9v8.8h-7.9zM985,492h7.9v8.8h-7.9zM993,500h7.9v8.8h-7.9zM1000,467h7.9v8.8h-7.9zM1000,508h7.9v8.8h-7.9zM1030,458h7.9v8.8h-7.9zM1045,458h7.9v8.8h-7.9zM1067,458h7.9v8.8h-7.9zM1111,467h7.9v8.8h-7.9zM1119,475h7.9v8.8h-7.9zM1119,492h7.9v8.8h-7.9z"/><path fill="#c9c3fd" d="M985,483h7.9v8.8h-7.9zM993,475h7.9v8.8h-7.9zM1119,483h7.9v8.8h-7.9z"/><path fill="#aea5fc" d="M993,483h7.9v8.8h-7.9zM993,492h7.9v8.8h-7.9zM1000,475h7.9v8.8h-7.9zM1000,483h7.9v8.8h-7.9zM1000,492h7.9v8.8h-7.9zM1000,500h7.9v8.8h-7.9zM1008,467h7.9v8.8h-7.9zM1111,475h7.9v8.8h-7.9z"/><path fill="#aba4ec" d="M1008,475h7.9v8.8h-7.9zM1008,483h7.9v8.8h-7.9zM1008,492h7.9v8.8h-7.9zM1008,500h7.9v8.8h-7.9zM1008,508h7.9v8.8h-7.9zM1015,467h7.9v8.8h-7.9zM1015,475h7.9v8.8h-7.9zM1022,467h7.9v8.8h-7.9zM1059,542h7.9v8.8h-7.9zM1082,467h7.9v8.8h-7.9zM1089,467h7.9v8.8h-7.9zM1096,467h7.9v8.8h-7.9zM1104,475h7.9v8.8h-7.9zM1104,483h7.9v8.8h-7.9zM1104,508h7.9v8.8h-7.9zM1111,483h7.9v8.8h-7.9zM1111,500h7.9v8.8h-7.9z"/><path fill="#e3e1f9" d="M1008,517h7.9v8.8h-7.9zM1022,525h7.9v8.8h-7.9zM1037,458h7.9v8.8h-7.9zM1045,542h7.9v8.8h-7.9zM1059,458h7.9v8.8h-7.9zM1074,458h7.9v8.8h-7.9zM1082,458h7.9v8.8h-7.9zM1082,533h7.9v8.8h-7.9zM1111,508h7.9v8.8h-7.9z"/><path fill="#a7a2dc" d="M1015,483h7.9v8.8h-7.9zM1030,525h7.9v8.8h-7.9zM1074,533h7.9v8.8h-7.9zM1096,475h7.9v8.8h-7.9zM1096,483h7.9v8.8h-7.9zM1096,492h7.9v8.8h-7.9zM1096,500h7.9v8.8h-7.9zM1096,508h7.9v8.8h-7.9zM1096,517h7.9v8.8h-7.9zM1104,492h7.9v8.8h-7.9zM1104,500h7.9v8.8h-7.9zM1111,492h7.9v8.8h-7.9z"/><path fill="#8a84d0" d="M1015,492h7.9v8.8h-7.9zM1015,500h7.9v8.8h-7.9zM1022,483h7.9v8.8h-7.9zM1022,517h7.9v8.8h-7.9zM1037,467h7.9v8.8h-7.9zM1045,533h7.9v8.8h-7.9zM1067,467h7.9v8.8h-7.9zM1074,467h7.9v8.8h-7.9zM1082,475h7.9v8.8h-7.9zM1082,525h7.9v8.8h-7.9zM1089,483h7.9v8.8h-7.9zM1089,492h7.9v8.8h-7.9zM1089,508h7.9v8.8h-7.9zM1089,517h7.9v8.8h-7.9z"/><path fill="#8e86e6" d="M1015,508h7.9v8.8h-7.9zM1022,475h7.9v8.8h-7.9zM1030,467h7.9v8.8h-7.9z"/><path fill="#c7c2f2" d="M1015,517h7.9v8.8h-7.9zM1104,467h7.9v8.8h-7.9z"/><path fill="#6c65c5" d="M1022,492h7.9v8.8h-7.9zM1022,508h7.9v8.8h-7.9zM1030,483h7.9v8.8h-7.9zM1037,475h7.9v8.8h-7.9zM1045,467h7.9v8.8h-7.9zM1052,467h7.9v8.8h-7.9zM1059,533h7.9v8.8h-7.9zM1067,533h7.9v8.8h-7.9zM1074,475h7.9v8.8h-7.9z"/><path fill="#7267e0" d="M1022,500h7.9v8.8h-7.9z"/><path fill="#6662aa" d="M1030,475h7.9v8.8h-7.9zM1030,517h7.9v8.8h-7.9zM1037,525h7.9v8.8h-7.9zM1052,533h7.9v8.8h-7.9zM1059,467h7.9v8.8h-7.9zM1067,475h7.9v8.8h-7.9zM1074,483h7.9v8.8h-7.9zM1074,525h7.9v8.8h-7.9zM1082,483h7.9v8.8h-7.9zM1082,492h7.9v8.8h-7.9zM1082,500h7.9v8.8h-7.9zM1082,517h7.9v8.8h-7.9z"/><path fill="#4f46b9" d="M1030,492h7.9v8.8h-7.9zM1030,500h7.9v8.8h-7.9zM1030,508h7.9v8.8h-7.9zM1037,500h7.9v8.8h-7.9zM1037,517h7.9v8.8h-7.9zM1045,475h7.9v8.8h-7.9zM1045,525h7.9v8.8h-7.9zM1052,475h7.9v8.8h-7.9zM1059,475h7.9v8.8h-7.9z"/><path fill="#474399" d="M1037,483h7.9v8.8h-7.9zM1037,492h7.9v8.8h-7.9zM1045,483h7.9v8.8h-7.9zM1045,492h7.9v8.8h-7.9zM1045,517h7.9v8.8h-7.9zM1052,500h7.9v8.8h-7.9zM1052,525h7.9v8.8h-7.9zM1059,483h7.9v8.8h-7.9zM1059,517h7.9v8.8h-7.9zM1059,525h7.9v8.8h-7.9zM1067,483h7.9v8.8h-7.9zM1067,492h7.9v8.8h-7.9zM1067,517h7.9v8.8h-7.9zM1067,525h7.9v8.8h-7.9zM1074,492h7.9v8.8h-7.9zM1074,500h7.9v8.8h-7.9zM1074,517h7.9v8.8h-7.9z"/><path fill="#404079" d="M1037,508h7.9v8.8h-7.9zM1045,500h7.9v8.8h-7.9zM1045,508h7.9v8.8h-7.9zM1052,483h7.9v8.8h-7.9zM1052,492h7.9v8.8h-7.9zM1052,508h7.9v8.8h-7.9zM1052,517h7.9v8.8h-7.9zM1059,492h7.9v8.8h-7.9zM1059,500h7.9v8.8h-7.9zM1059,508h7.9v8.8h-7.9zM1067,500h7.9v8.8h-7.9zM1067,508h7.9v8.8h-7.9zM1074,508h7.9v8.8h-7.9z"/><path fill="#c4c1e8" d="M1037,533h7.9v8.8h-7.9zM1052,542h7.9v8.8h-7.9zM1067,542h7.9v8.8h-7.9zM1089,525h7.9v8.8h-7.9z"/><path fill="#ebe9fe" d="M1052,458h7.9v8.8h-7.9zM1074,450h7.9v8.8h-7.9zM1089,458h7.9v8.8h-7.9z"/><path fill="#f2f0ff" d="M1082,450h7.9v8.8h-7.9z"/><path fill="#60608f" d="M1082,508h7.9v8.8h-7.9z"/><path fill="#a3a1cc" d="M1089,475h7.9v8.8h-7.9z"/><path fill="#8080a6" d="M1089,500h7.9v8.8h-7.9z"/><path fill="#e2e0f3" d="M1104,517h7.9v8.8h-7.9z"/><path fill="#f3a8a6" d="M1179,301h7.9v8.8h-7.9zM1194,293h7.9v8.8h-7.9zM1201,293h7.9v8.8h-7.9z"/></g><g transform="scale(.5)" stroke-width="2.9" fill="none"><path stroke="#fff" d="M2075,438h2m-23,7h2m7,1h2m12,0h2m8,-4h2m5,5h2m1,-4h2m5,3h2m-70,4h2m12,-2h2m0,-1h2m-1,0h2m8,5h2m1,-3h2m1,0h2m10,-1h2m1,2h2m7,2h2m19,-2h2m-83,7h2m4,-1h2m11,-2h2m17,-1h2m-1,2h2m11,4h2m12,-5h2m7,3h2m6,1h2m-81,2h2m5,0h2m1,4h2m9,0h2m9,1h2m4,-2h2m-1,-1h2m5,-2h2m9,4h2m-1,-3h2m10,-1h2m-91,7h2m18,0h2m10,3h2m37,0h2m8,-1h2m-1,-2h2m11,0h2m-104,9h2m13,-2h2m10,0h2m9,2h2m2,-3h2m19,0h2m3,0h2m-1,1h2m17,3h2m18,-2h2m2,-1h2m-1,-1h2m0,-1h2m5,3h2m-127,5h2m22,2h2m-2,-4h2m2,0h2m3,5h2m11,-1h2m20,-3h2m5,1h2m1,0h2m24,1h2m29,-3h2m0,4h2m1,0h2m-129,6h2m4,-5h2m10,2h2m11,-1h2m8,3h2m8,2h2m2,-3h2m1,-2h2m6,4h2m21,-2h2m16,-1h2m16,2h2m16,2h2m-164,6h2m-1,-2h2m-1,-2h2m-1,-1h2m0,3h2m4,1h2m2,-2h2m3,-2h2m0,0h2m5,4h2m30,-3h2m27,4h2m4,-5h2m9,1h2m27,3h2m4,-3h2m5,1h2m2,1h2m-142,5h2m5,-3h2m43,1h2m10,0h2m19,2h2m6,0h2m20,1h2m20,-4h2m2,3h2m2,3h2m-157,6h2m-2,-5h2m0,5h2m9,-3h2m2,1h2m-1,-1h2m-2,3h2m0,-4h2m0,1h2m2,2h2m3,0h2m-1,1h2m14,-6h2m0,1h2m1,4h2m1,-3h2m-1,1h2m4,3h2m53,-6h2m1,4h2m16,1h2m2,-1h2m-2,-1h2m-154,7h2m13,-4h2m11,5h2m-2,-2h2m1,-1h2m9,3h2m5,-4h2m6,2h2m0,1h2m1,-3h2m42,1h2m18,2h2m5,-3h2m9,1h2m4,-1h2m-158,7h2m23,-1h2m5,-1h2m16,6h2m-2,-4h2m8,0h2m3,3h2m16,-2h2m18,-3h2m14,5h2m13,0h2m1,-2h2m-1,-2h2m16,3h2m6,-1h2m3,-3h2m2,2h2m4,3h2m-147,6h2m17,0h2m11,-4h2m10,1h2m7,-1h2m1,4h2m0,-3h2m20,2h2m21,1h2m37,-2h2m-1,-1h2m3,2h2m12,-1h2m0,3h2m-208,3h2m17,-2h2m0,3h2m8,1h2m26,-3h2m8,-1h2m2,2h2m19,-1h2m-2,-1h2m11,0h2m19,4h2m4,-1h2m1,-4h2m-1,5h2m-1,-4h2m16,3h2m2,-2h2m23,1h2m3,-1h2m8,1h2m-202,9h2m9,-2h2m38,2h2m6,-2h2m7,0h2m3,-3h2m31,1h2m10,0h2m3,-1h2m0,3h2m18,-3h2m0,-1h2m1,1h2m2,1h2m-1,1h2m1,2h2m1,-2h2m2,3h2m5,-1h2m10,-1h2m1,-2h2m5,-1h2m-194,6h2m20,3h2m-1,-3h2m17,4h2m11,-4h2m11,0h2m0,1h2m20,3h2m1,-3h2m21,-2h2m9,1h2m15,-1h2m5,4h2m19,-1h2m-2,0h2m9,-1h2m15,2h2m-216,6h2m1,-1h2m14,1h2m-1,2h2m5,-6h2m20,1h2m4,1h2m35,4h2m2,-2h2m-2,-2h2m19,4h2m-1,-6h2m-1,5h2m12,0h2m4,-1h2m0,-2h2m0,0h2m4,1h2m6,-3h2m30,5h2m-1,-4h2m8,4h2m27,0h2m-230,4h2m10,0h2m6,1h2m6,-4h2m1,5h2m7,0h2m5,0h2m19,-4h2m0,0h2m8,0h2m5,0h2m4,-1h2m24,1h2m25,1h2m0,-1h2m37,3h2m-1,-2h2m11,0h2m1,0h2m7,3h2m2,-2h2m1,1h2m-230,4h2m15,-2h2m8,5h2m-1,-3h2m19,0h2m-1,-1h2m10,3h2m10,-4h2m6,3h2m1,1h2m16,-3h2m17,3h2m11,-2h2m10,3h2m14,0h2m7,-1h2m13,-1h2m41,1h2m0,1h2m-233,5h2m7,-3h2m6,0h2m1,4h2m1,-3h2m4,-2h2m-1,4h2m6,-1h2m8,3h2m2,-1h2m20,-4h2m4,2h2m13,-2h2m26,4h2m-1,-4h2m6,3h2m31,-3h2m-1,2h2m2,0h2m9,1h2m20,-2h2m1,-1h2m31,1h2m-262,10h2m8,-3h2m1,-1h2m6,0h2m17,0h2m4,2h2m16,1h2m22,-3h2m8,1h2m3,1h2m6,-3h2m3,1h2m-2,0h2m6,-1h2m33,2h2m9,1h2m35,1h2m-1,-4h2m19,1h2m2,1h2m0,-2h2m5,4h2m6,1h2m3,-3h2m-256,4h2m32,4h2m6,1h2m37,-4h2m0,0h2m0,-1h2m6,3h2m6,-4h2m6,0h2m3,4h2m3,0h2m-1,-2h2m6,2h2m17,-4h2m6,4h2m6,-3h2m21,1h2m9,4h2m16,-2h2m4,1h2m1,-5h2m16,5h2m4,-4h2m-1,0h2m-239,10h2m22,-4h2m30,-1h2m3,0h2m8,0h2m14,2h2m1,2h2m8,-4h2m27,1h2m-1,4h2m6,-2h2m8,0h2m12,0h2m16,1h2m11,-4h2m11,6h2m4,-4h2m18,1h2m-1,0h2m18,-1h2m-293,10h2m33,-5h2m0,3h2m-2,2h2m14,-2h2m1,-2h2m7,2h2m6,0h2m-1,-1h2m16,0h2m6,1h2m0,-2h2m14,2h2m8,-2h2m3,-1h2m4,1h2m-1,-2h2m3,2h2m3,4h2m9,-6h2m9,1h2m-1,5h2m-1,-6h2m12,5h2m-2,-1h2m0,1h2m6,0h2m5,-5h2m2,6h2m5,-2h2m5,-2h2m1,1h2m1,3h2m7,-3h2m13,-3h2m11,2h2m22,2h2m-1,2h2m2,-2h2m-283,5h2m-2,-1h2m-1,-1h2m15,4h2m0,-3h2m8,3h2m6,-2h2m0,-2h2m10,4h2m27,0h2m39,-2h2m2,-2h2m0,2h2m17,-3h2m25,4h2m-1,-3h2m18,-1h2m-2,6h2m-1,-3h2m12,1h2m33,0h2m2,-1h2m1,3h2m12,-2h2m1,0h2m-1,-1h2m1,3h2m185,-5h2m-468,7h2m4,3h2m7,-4h2m1,0h2m12,1h2m30,0h2m7,0h2m3,3h2m11,0h2m15,-2h2m10,3h2m-2,-1h2m11,-3h2m10,0h2m1,3h2m41,-4h2m8,1h2m15,3h2m12,-1h2m1,-3h2m11,5h2m7,-3h2m6,-2h2m5,2h2m2,1h2m2,2h2m2,-4h2m160,4h2m19,-6h2m12,4h2m19,-1h2m-516,5h2m6,-2h2m2,4h2m24,-2h2m6,0h2m20,4h2m4,-4h2m4,3h2m12,0h2m3,-2h2m-1,-1h2m3,1h2m5,-1h2m2,2h2m-2,0h2m15,1h2m7,0h2m-1,-4h2m11,4h2m1,-3h2m5,3h2m-1,-4h2m12,3h2m1,-1h2m22,1h2m1,-2h2m12,0h2m6,-1h2m0,0h2m25,0h2m0,4h2m6,-2h2m185,3h2m13,-4h2m10,3h2m2,-3h2m2,-1h2m26,2h2m-517,7h2m8,-1h2m11,0h2m22,-1h2m9,0h2m-1,2h2m-1,-1h2m0,-3h2m0,4h2m-2,-1h2m4,0h2m18,0h2m5,-2h2m16,3h2m9,-1h2m6,2h2m33,-2h2m0,0h2m1,-1h2m12,-1h2m7,-1h2m4,0h2m1,5h2m-2,0h2m-1,0h2m-1,0h2m32,-4h2m2,1h2m11,-1h2m-1,5h2m0,-5h2m28,4h2m145,-5h2m69,4h2m13,-1h2m-543,3h2m0,4h2m12,1h2m1,-3h2m-1,1h2m8,-1h2m4,-2h2m2,5h2m1,-2h2m2,2h2m18,-4h2m11,3h2m0,-1h2m-1,0h2m21,-3h2m7,0h2m15,6h2m43,-5h2m2,0h2m26,4h2m15,-1h2m6,-1h2m7,-2h2m5,4h2m5,-4h2m-1,4h2m2,-3h2m4,-2h2m4,2h2m7,4h2m0,-1h2m21,0h2m1,1h2m-1,-3h2m3,1h2m123,-1h2m1,-2h2m5,2h2m1,-1h2m16,2h2m18,2h2m2,-2h2m-1,-2h2m11,3h2m10,0h2m18,1h2m-553,1h2m-2,4h2m32,1h2m6,-4h2m39,-2h2m13,2h2m13,-2h2m11,4h2m11,-3h2m8,-1h2m5,4h2m7,1h2m16,-4h2m9,5h2m9,-2h2m8,2h2m12,-1h2m6,-1h2m6,2h2m24,-6h2m5,6h2m6,-5h2m2,1h2m11,3h2m-2,-1h2m3,-4h2m0,3h2m11,2h2m4,-2h2m115,-3h2m0,0h2m2,0h2m11,5h2m-1,-5h2m0,5h2m8,0h2m1,-2h2m16,0h2m2,-3h2m10,5h2m5,-2h2m1,-1h2m0,1h2m19,1h2m1,0h2m6,1h2m-1,-4h2m-2,4h2m1,1h2m-565,5h2m0,-3h2m9,0h2m2,2h2m35,-1h2m1,0h2m1,-3h2m7,4h2m17,-1h2m4,0h2m0,2h2m7,-2h2m3,-3h2m14,3h2m2,-1h2m10,3h2m19,-3h2m4,1h2m2,-1h2m8,1h2m7,-3h2m-2,3h2m2,3h2m1,0h2m3,-2h2m11,2h2m5,-6h2m-2,4h2m2,-1h2m11,3h2m1,-1h2m23,0h2m13,-1h2m6,0h2m141,1h2m11,-5h2m4,5h2m19,0h2m10,-4h2m-2,0h2m10,4h2m48,-5h2m0,4h2m0,2h2m-2,-3h2m-547,6h2m0,3h2m17,-3h2m2,-2h2m19,0h2m12,5h2m18,-5h2m6,2h2m5,1h2m3,-1h2m5,0h2m26,2h2m10,-4h2m6,2h2m1,-3h2m3,4h2m1,-2h2m25,4h2m12,-1h2m0,-3h2m3,3h2m0,-1h2m23,1h2m3,-1h2m-1,-3h2m-1,0h2m6,0h2m11,5h2m0,-4h2m2,3h2m1,-4h2m33,0h2m-2,0h2m115,3h2m-1,1h2m53,-3h2m26,3h2m25,-3h2m-1,4h2m12,0h2m-1,-1h2m-566,7h2m13,-1h2m1,-5h2m16,2h2m6,-2h2m42,5h2m7,-4h2m9,1h2m6,3h2m37,-3h2m7,4h2m8,-5h2m50,4h2m9,-1h2m5,1h2m10,-3h2m32,2h2m7,-2h2m16,0h2m-1,4h2m90,-2h2m12,1h2m26,-5h2m3,1h2m1,0h2m11,2h2m26,2h2m9,-1h2m2,-3h2m5,1h2m35,2h2m-562,5h2m7,-2h2m13,3h2m-1,-3h2m4,4h2m0,-2h2m0,3h2m2,-5h2m17,1h2m3,-2h2m-1,2h2m1,3h2m0,-4h2m3,0h2m12,2h2m5,-2h2m3,0h2m1,3h2m4,2h2m8,-5h2m3,5h2m6,-1h2m4,-4h2m9,4h2m12,-5h2m6,4h2m0,1h2m4,-1h2m10,-1h2m13,-1h2m24,1h2m2,-2h2m-1,4h2m12,-4h2m8,5h2m-1,-5h2m2,1h2m34,0h2m2,0h2m123,-2h2m0,3h2m68,-2h2m37,0h2m6,2h2m-552,4h2m3,1h2m15,4h2m14,-5h2m2,3h2m-1,-2h2m10,0h2m2,2h2m3,-3h2m3,0h2m8,1h2m2,2h2m-1,-2h2m10,1h2m8,-1h2m6,2h2m-2,-1h2m6,0h2m4,-3h2m5,4h2m9,-1h2m4,-1h2m8,-1h2m16,2h2m17,0h2m2,-3h2m16,1h2m21,-1h2m15,1h2m5,-1h2m1,4h2m6,-1h2m7,2h2m3,-1h2m-2,1h2m10,-3h2m-2,-2h2m2,1h2m5,5h2m0,-5h2m229,5h2m9,-3h2m0,0h2m-551,8h2m0,-4h2m13,0h2m26,1h2m-2,1h2m6,-2h2m11,0h2m10,3h2m9,0h2m5,0h2m11,2h2m39,-5h2m0,3h2m3,-2h2m-2,1h2m22,-1h2m2,-2h2m-1,3h2m28,-2h2m30,0h2m0,-1h2m6,3h2m6,1h2m12,-1h2m-1,-2h2m10,5h2m16,-3h2m222,-1h2m-531,5h2m2,2h2m8,-1h2m5,1h2m9,-2h2m3,1h2m9,4h2m41,-3h2m10,-2h2m8,1h2m12,-1h2m27,-1h2m-1,0h2m17,4h2m6,-4h2m2,5h2m1,-1h2m5,-4h2m3,6h2m34,-3h2m3,1h2m16,-3h2m7,4h2m12,-4h2m0,0h2m2,2h2m1,-3h2m-303,11h2m4,-4h2m24,-1h2m-2,1h2m8,3h2m1,-3h2m2,5h2m32,0h2m11,-3h2m-1,2h2m0,-2h2m6,-3h2m8,0h2m-1,4h2m5,-2h2m16,1h2m-2,-2h2m4,2h2m32,1h2m18,1h2m7,-4h2m21,4h2m1,1h2m9,-5h2m12,0h2m3,1h2m5,-1h2m0,1h2m1,0h2m6,0h2m5,2h2m1,0h2m-1,1h2m5,-2h2m-308,8h2m31,-5h2m-2,5h2m4,-2h2m2,-3h2m-1,4h2m10,-3h2m-1,5h2m3,-2h2m5,2h2m9,-5h2m9,4h2m33,-4h2m22,2h2m4,3h2m3,-1h2m27,-3h2m34,1h2m6,-1h2m5,3h2m3,0h2m19,-3h2m0,2h2m27,0h2m1,-1h2m-287,9h2m1,-3h2m15,-2h2m38,0h2m1,4h2m2,-1h2m2,-4h2m5,2h2m26,3h2m28,-4h2m6,4h2m3,-4h2m2,2h2m7,2h2m1,-2h2m3,2h2m8,0h2m33,-1h2m14,2h2m1,-5h2m12,4h2m-1,0h2m5,-2h2m0,0h2m-1,-1h2m7,3h2m-263,6h2m-1,0h2m7,-1h2m5,-4h2m32,4h2m30,-2h2m3,1h2m-1,2h2m1,-5h2m3,3h2m11,-1h2m4,1h2m23,-3h2m-1,1h2m14,-1h2m3,4h2m-2,-2h2m2,-2h2m22,3h2m23,1h2m25,2h2m7,-2h2m2,-1h2m-260,4h2m10,0h2m24,1h2m24,3h2m2,-1h2m20,-3h2m4,4h2m9,-4h2m-1,4h2m3,-3h2m8,3h2m4,-1h2m15,-2h2m7,1h2m1,0h2m0,-1h2m20,4h2m4,-6h2m7,1h2m1,3h2m-1,-3h2m0,-1h2m2,4h2m13,-4h2m-1,4h2m22,0h2m-2,-2h2m0,0h2m-1,1h2m-202,5h2m-1,3h2m-2,1h2m8,-1h2m0,-1h2m6,-4h2m14,0h2m1,6h2m10,-2h2m18,0h2m18,0h2m-1,1h2m4,-2h2m24,1h2m3,-2h2m7,-1h2m12,4h2m3,0h2m-1,0h2m1,-2h2m25,-2h2m-2,1h2m3,2h2m0,2h2m3,-4h2m1,-1h2m-225,7h2m1,-2h2m4,5h2m12,-2h2m6,-2h2m5,1h2m8,3h2m1,-2h2m13,1h2m13,-2h2m6,-1h2m0,4h2m1,1h2m33,-6h2m9,5h2m-2,0h2m7,-2h2m7,-1h2m22,3h2m16,-1h2m4,-2h2m1,3h2m10,-3h2m-209,7h2m9,2h2m19,0h2m-1,-2h2m16,1h2m1,0h2m4,-3h2m13,1h2m15,-2h2m1,0h2m26,3h2m-1,-1h2m8,1h2m41,-2h2m-162,8h2m12,2h2m1,-3h2m-1,4h2m-2,-5h2m0,1h2m12,3h2m5,1h2m17,-2h2m8,-3h2m0,1h2m3,-2h2m-1,6h2m0,-3h2m11,0h2m0,-3h2m12,6h2m15,-1h2m2,1h2m23,-3h2m9,-2h2m-2,0h2m7,3h2m-1,-1h2m-163,3h2m25,2h2m0,3h2m13,-2h2m2,1h2m-2,1h2m3,-5h2m4,4h2m15,-2h2m-1,3h2m1,1h2m9,-6h2m-1,5h2m17,-4h2m31,1h2m-121,10h2m10,-6h2m1,1h2m22,3h2m5,-3h2m8,2h2m-1,1h2m-1,-3h2m1,-1h2m-63,9h2m23,1h2m24,-4h2m-1,2h2m12,1h2m14,1h2m7,-3h2m4,3h2m-1,-3h2m437,3h2m-517,3h2m-1,-1h2m4,5h2m27,-1h2m1,-2h2m4,-2h2m464,3h2m-516,3h2m50,3h2m466,1h2m-1,-1h2m-511,6h2m13,-2h2m0,2h2m491,-2h2m2,5h2m-14,4h2m-19,5h2m15,1h2m7,7h2m-17,8h2m-2,11h2m2,-1h2m0,-2h2m1,2h2m-19,6h2m-4,3h2m11,-2h2m-2,6h2m-15,16h2m6,1h2m-9,2h2m0,1h2m1,10h2m1,-6h2m-8,11h2m-397,61h2m22,6h2m-122,4h2m35,0h2m12,0h2m4,0h2m33,2h2m0,-6h2m20,4h2m-121,8h2m0,-1h2m6,0h2m107,-1h2m-1,0h2m-122,6h2m3,0h2m4,2h2m12,-4h2m35,-1h2m0,1h2m43,1h2m24,-1h2m-141,10h2m16,-1h2m60,-3h2m7,0h2m24,3h2m3,-1h2m-114,8h2m20,-1h2m24,-3h2m-1,4h2m-1,-2h2m11,-2h2m28,2h2m10,-1h2m-156,8h2m5,0h2m6,0h2m53,-4h2m-2,3h2m1,1h2m18,-3h2m23,4h2m9,-3h2m0,2h2m9,-1h2m9,-1h2m6,3h2m20,-2h2m2,-1h2m-200,8h2m65,-5h2m-1,5h2m20,-2h2m31,0h2m3,-3h2m6,6h2m-1,-2h2m1,1h2m10,-2h2m12,2h2m-125,1h2m0,0h2m-2,1h2m9,2h2m22,2h2m14,-1h2m9,-3h2m5,4h2m17,1h2m0,-2h2m6,0h2m25,1h2m7,-2h2m-190,6h2m2,-2h2m61,1h2m38,0h2m8,-2h2m3,1h2m9,2h2m0,-2h2m33,4h2m2,-3h2m7,1h2m4,2h2m14,-2h2m13,1h2m4,-2h2m-2,-1h2m-1,-1h2m2,4h2m-2,-4h2m-221,10h2m8,-2h2m0,-1h2m22,0h2m12,1h2m19,3h2m10,-2h2m21,-3h2m2,3h2m1,1h2m8,-2h2m3,0h2m2,-1h2m23,3h2m9,-2h2m31,3h2m0,1h2m-232,3h2m56,-3h2m-1,2h2m0,2h2m2,-2h2m-2,-2h2m3,4h2m2,-3h2m2,3h2m3,-3h2m6,0h2m-1,2h2m9,-1h2m23,4h2m-2,-4h2m7,4h2m-1,-6h2m13,3h2m12,-2h2m9,2h2m3,0h2m26,0h2m21,-1h2m14,3h2m2,-1h2m-202,8h2m15,-4h2m-1,2h2m33,-2h2m20,0h2m6,1h2m0,1h2m7,-4h2m1,5h2m-1,-2h2m13,2h2m-2,-2h2m0,2h2m12,-1h2m31,-1h2m-1,0h2m17,-3h2m-205,6h2m4,3h2m0,2h2m11,-1h2m1,1h2m11,-3h2m15,0h2m0,3h2m15,-1h2m6,-1h2m1,-2h2m14,0h2m16,1h2m0,1h2m5,0h2m0,2h2m6,-4h2m9,1h2m12,0h2m27,0h2m1,-1h2m10,2h2m1,-1h2m-236,5h2m-1,2h2m18,3h2m3,-3h2m44,-1h2m4,4h2m7,-5h2m-1,1h2m0,3h2m0,-1h2m9,0h2m-1,-4h2m0,0h2m5,0h2m8,4h2m3,-1h2m3,-2h2m0,2h2m4,-2h2m4,4h2m1,-3h2m2,-1h2m0,-1h2m6,5h2m-2,-2h2m11,3h2m10,-5h2m0,2h2m38,3h2m-198,0h2m40,3h2m0,-3h2m13,0h2m0,6h2m0,-1h2m4,-1h2m5,1h2m-2,0h2m10,-3h2m1,2h2m11,0h2m0,-3h2m-1,1h2m4,-1h2m17,4h2m12,-2h2m12,-3h2m11,0h2m-1,3h2m1,-1h2m-182,4h2m2,4h2m60,-2h2m0,-1h2m7,5h2m-1,-5h2m6,3h2m2,1h2m32,-2h2m8,0h2m18,1h2m2,-1h2m0,1h2m-2,-4h2m-2,1h2m13,0h2m-1,-1h2m0,1h2m2,5h2m8,-1h2m3,-5h2m-2,4h2m-215,8h2m18,-6h2m41,1h2m-2,2h2m61,-1h2m1,-1h2m10,5h2m9,-1h2m51,-4h2m9,2h2m-164,6h2m-1,-3h2m8,1h2m18,2h2m44,1h2m14,-3h2m6,2h2m45,-1h2m13,-1h2m-182,10h2m8,-1h2m0,0h2m4,0h2m13,-2h2m-1,0h2m4,-2h2m14,5h2m19,-5h2m6,2h2m7,0h2m18,-1h2m-2,2h2m1,-1h2m6,1h2m23,-2h2m11,3h2m-179,4h2m14,0h2m18,0h2m-1,2h2m-2,0h2m-1,-1h2m13,-1h2m1,0h2m1,-2h2m3,5h2m4,-4h2m1,0h2m8,3h2m1,2h2m32,-1h2m17,0h2m0,-3h2m0,1h2m18,0h2m28,-2h2m-196,6h2m-1,0h2m4,-1h2m5,4h2m24,-3h2m5,3h2m-2,1h2m3,-5h2m8,3h2m30,-3h2m-1,2h2m11,1h2m4,0h2m-1,-2h2m1,4h2m9,-4h2m4,2h2m-1,-1h2m11,3h2m1,-3h2m1,2h2m20,-1h2m0,-1h2m-148,10h2m7,-1h2m48,-5h2m0,2h2m10,2h2m9,-2h2m5,3h2m3,-1h2m15,1h2m-1,-3h2m6,-1h2m16,4h2m-128,3h2m16,2h2m18,-1h2m3,-1h2m0,0h2m-1,3h2m4,-3h2m6,1h2m27,3h2m5,-5h2m4,5h2m-107,4h2m15,0h2m-1,2h2m3,-2h2m0,2h2m21,-5h2m6,3h2m19,2h2m3,-6h2m-1,3h2m4,0h2m20,0h2m-93,9h2m4,0h2m0,-1h2m12,-3h2m-1,-2h2m7,0h2m-1,5h2m-2,-1h2m34,-2h2m12,-2h2m-69,7h2m-1,0h2m5,5h2m6,-3h2m14,-2h2m-1,4h2m16,1h2m8,-5h2m-72,7h2m9,-1h2m12,3h2m-28,6h2m20,-3h2m32,-1h2m-26,8h2m3,-2h2m-12,9h2m4,2h2m0,-2h2m4,-2h2"/><path stroke="#ff534f" d="M2040,442h2m48,0h2m8,10h2m-1,0h2m-91,1h2m32,5h2m12,-5h2m7,5h2m12,-1h2m-2,2h2m30,-4h2m-1,1h2m10,-2h2m10,5h2m13,-2h2m-121,4h2m-2,2h2m5,-2h2m7,-1h2m7,2h2m0,2h2m25,0h2m-2,-2h2m4,-1h2m2,2h2m-1,0h2m12,0h2m47,2h2m-149,3h2m-1,2h2m8,-3h2m0,3h2m3,-4h2m4,3h2m4,-3h2m5,2h2m0,0h2m2,-1h2m1,-1h2m4,2h2m4,0h2m9,1h2m-2,-1h2m13,2h2m1,-4h2m14,2h2m6,-3h2m0,0h2m9,2h2m9,3h2m5,-3h2m-2,4h2m-149,6h2m10,-5h2m-1,1h2m2,0h2m2,2h2m-2,-1h2m-1,-3h2m6,3h2m3,-1h2m1,1h2m21,2h2m6,-4h2m-2,2h2m-2,-1h2m10,2h2m-1,1h2m0,1h2m-1,-3h2m-2,1h2m0,-2h2m5,3h2m-1,-2h2m-2,-1h2m4,2h2m-2,0h2m7,2h2m0,-1h2m2,0h2m5,1h2m5,-3h2m6,1h2m4,1h2m5,-4h2m7,2h2m-2,2h2m0,-2h2m-178,8h2m-1,-5h2m4,3h2m6,3h2m0,-5h2m3,3h2m2,1h2m0,0h2m3,1h2m-1,-1h2m0,-3h2m8,2h2m2,-4h2m1,2h2m1,2h2m-2,-3h2m2,4h2m6,-5h2m1,5h2m0,1h2m1,-6h2m-1,2h2m1,2h2m3,0h2m1,0h2m5,-2h2m-1,-1h2m0,2h2m-1,-2h2m4,4h2m2,-2h2m1,0h2m-2,3h2m0,-2h2m3,1h2m0,1h2m3,-1h2m3,-5h2m0,1h2m2,0h2m-1,0h2m8,0h2m-2,-1h2m0,1h2m5,2h2m-1,-1h2m3,3h2m9,-1h2m-1,1h2m9,0h2m-182,4h2m3,2h2m9,0h2m0,-3h2m0,3h2m-2,-3h2m0,1h2m-1,0h2m-1,-1h2m1,1h2m2,-2h2m2,1h2m-2,2h2m12,0h2m3,-3h2m2,1h2m-1,1h2m-1,0h2m2,3h2m1,-1h2m1,-4h2m0,-1h2m-2,4h2m-1,-2h2m0,2h2m-2,1h2m0,-2h2m1,2h2m-1,-3h2m0,2h2m-1,-1h2m-1,0h2m-1,-3h2m-1,2h2m-1,1h2m5,-1h2m0,3h2m18,0h2m0,-5h2m-2,6h2m1,-3h2m0,2h2m-1,-4h2m-1,4h2m4,-5h2m2,3h2m-2,0h2m-1,0h2m-1,0h2m2,2h2m-2,-1h2m-2,0h2m-1,-2h2m-1,-1h2m-2,2h2m0,0h2m-2,-1h2m5,-2h2m5,1h2m8,1h2m-198,8h2m7,-1h2m3,-2h2m8,4h2m0,-3h2m1,4h2m-1,-5h2m-1,-1h2m1,2h2m3,3h2m-1,-1h2m2,-1h2m-1,0h2m5,-1h2m1,3h2m-2,0h2m2,-1h2m0,2h2m-2,-4h2m-2,3h2m0,-4h2m-1,-1h2m-1,3h2m1,-1h2m0,0h2m-2,-1h2m0,2h2m-1,-2h2m3,-1h2m2,0h2m0,2h2m1,0h2m1,3h2m-2,1h2m1,-2h2m-1,1h2m-1,0h2m1,-2h2m-1,0h2m2,-3h2m1,5h2m4,-3h2m-2,3h2m-2,-2h2m-1,-2h2m-2,4h2m3,1h2m1,-2h2m-1,0h2m0,0h2m6,-2h2m3,-1h2m2,2h2m8,0h2m6,1h2m4,1h2m6,-4h2m0,5h2m2,-4h2m5,1h2m-2,0h2m0,2h2m-2,1h2m-2,-1h2m6,-1h2m-207,6h2m3,-3h2m2,4h2m2,-4h2m1,1h2m-2,2h2m0,-1h2m2,0h2m3,2h2m1,-3h2m0,4h2m3,-1h2m1,-2h2m0,1h2m2,1h2m2,1h2m-1,-4h2m-1,0h2m6,2h2m-2,-2h2m-1,3h2m0,-1h2m1,-1h2m0,1h2m2,2h2m2,-5h2m4,4h2m1,-3h2m-2,3h2m-1,0h2m-1,-2h2m0,0h2m1,0h2m-2,-1h2m5,-1h2m7,4h2m0,-2h2m1,1h2m1,-1h2m7,0h2m-2,2h2m-1,-2h2m-1,-1h2m0,3h2m0,1h2m-1,-5h2m-2,5h2m-1,-6h2m3,2h2m-1,3h2m-2,-1h2m-1,-1h2m-1,-2h2m-1,0h2m-1,0h2m-1,0h2m-1,4h2m2,0h2m-2,-2h2m0,1h2m-1,-3h2m-1,-1h2m1,1h2m-1,3h2m0,-2h2m-2,-1h2m2,5h2m2,-4h2m-2,-2h2m3,2h2m3,1h2m11,-3h2m12,1h2m1,2h2m-203,8h2m-1,0h2m1,-1h2m0,-3h2m-1,0h2m4,0h2m-1,0h2m5,3h2m2,-4h2m-1,4h2m0,-4h2m-2,1h2m-2,0h2m-1,1h2m3,1h2m-1,0h2m-2,-3h2m-1,2h2m-2,1h2m0,0h2m-2,3h2m2,0h2m-1,-1h2m-1,0h2m-1,-4h2m-2,4h2m-1,-4h2m0,1h2m-1,4h2m-2,-1h2m1,-1h2m0,-2h2m-1,1h2m-1,-2h2m1,1h2m-2,1h2m4,0h2m-1,-1h2m-1,-2h2m-1,2h2m3,4h2m0,-2h2m2,-2h2m-2,4h2m8,-5h2m0,2h2m-2,-3h2m1,3h2m3,1h2m1,-3h2m0,3h2m-1,-1h2m-1,-1h2m-1,2h2m1,-3h2m-2,-1h2m-2,1h2m1,4h2m-1,-3h2m2,1h2m-1,-1h2m3,1h2m0,2h2m-1,-5h2m2,6h2m4,-1h2m-1,-1h2m1,-1h2m3,-1h2m4,3h2m-1,-4h2m-1,3h2m0,-3h2m2,0h2m0,0h2m-1,1h2m0,1h2m-1,1h2m2,0h2m-1,0h2m1,-4h2m-1,4h2m0,-3h2m-1,1h2m-1,0h2m0,2h2m-1,-2h2m1,1h2m8,0h2m13,3h2m-228,6h2m7,-2h2m3,-3h2m6,0h2m6,3h2m-1,-1h2m-1,1h2m-2,-4h2m-1,3h2m5,1h2m3,-1h2m-1,0h2m8,1h2m1,1h2m-2,-1h2m2,-4h2m1,1h2m-2,1h2m2,1h2m0,0h2m-1,1h2m0,2h2m1,-2h2m0,1h2m-1,-2h2m0,2h2m-1,1h2m-2,-4h2m-1,0h2m1,-1h2m2,4h2m0,-2h2m1,-1h2m-1,3h2m1,-1h2m1,-3h2m1,3h2m3,-2h2m0,0h2m-2,0h2m-2,-1h2m-1,1h2m-1,2h2m-1,-4h2m-2,4h2m1,-2h2m0,-1h2m-1,0h2m6,1h2m-1,4h2m0,-4h2m3,1h2m-1,0h2m0,-2h2m0,3h2m-2,1h2m-1,-3h2m2,1h2m1,-2h2m2,4h2m2,-4h2m-1,5h2m1,-4h2m6,4h2m8,-3h2m-2,3h2m0,-3h2m-1,0h2m0,-2h2m1,1h2m2,-1h2m-1,1h2m1,-1h2m10,1h2m0,2h2m8,1h2m-215,4h2m26,2h2m10,-2h2m-1,-2h2m-2,0h2m6,3h2m3,-2h2m4,1h2m1,2h2m5,-1h2m3,-2h2m8,3h2m-1,1h2m2,-3h2m6,0h2m-1,-2h2m8,4h2m0,-2h2m-1,2h2m0,-4h2m-1,3h2m4,-3h2m7,2h2m-1,-3h2m1,4h2m1,2h2m1,-6h2m4,2h2m-2,-1h2m-2,1h2m-1,2h2m-2,-4h2m7,3h2m-1,-2h2m0,4h2m-1,0h2m2,-4h2m1,3h2m-1,1h2m0,-4h2m7,5h2m-1,-3h2m2,-1h2m-2,3h2m0,-1h2m-2,-1h2m-1,0h2m0,0h2m2,1h2m1,2h2m5,-3h2m4,1h2m2,-3h2m-209,7h2m4,1h2m2,0h2m2,0h2m-1,0h2m2,0h2m3,2h2m-1,-3h2m0,3h2m3,-2h2m1,-2h2m0,1h2m4,3h2m0,-3h2m7,2h2m-1,-1h2m-1,1h2m-1,1h2m1,-2h2m-2,-1h2m2,3h2m9,1h2m-2,0h2m1,-2h2m2,-2h2m-1,-1h2m-1,2h2m1,1h2m3,-3h2m2,3h2m-1,-2h2m-1,-1h2m3,-1h2m1,5h2m-1,-4h2m5,1h2m-1,-1h2m4,1h2m-2,1h2m5,1h2m5,1h2m-2,0h2m9,-5h2m-1,1h2m0,0h2m3,1h2m0,3h2m-2,-1h2m-1,2h2m-1,-6h2m-2,0h2m1,5h2m-1,1h2m0,-4h2m0,-2h2m-2,4h2m-2,-3h2m1,-1h2m0,0h2m1,5h2m0,-5h2m-1,3h2m1,-1h2m-2,1h2m7,3h2m2,-3h2m-206,9h2m11,-1h2m2,-2h2m2,-2h2m0,0h2m-1,2h2m-1,1h2m-1,0h2m2,0h2m-2,-2h2m-2,2h2m10,-1h2m-1,1h2m-2,1h2m3,-4h2m-1,2h2m0,3h2m2,-1h2m1,-1h2m0,-2h2m0,0h2m0,-2h2m1,1h2m9,4h2m18,-5h2m1,3h2m0,0h2m4,-3h2m4,5h2m-2,-5h2m1,5h2m-1,-1h2m5,-1h2m7,0h2m2,0h2m7,-1h2m6,4h2m0,-3h2m0,-2h2m-1,0h2m0,2h2m4,3h2m-1,-2h2m0,-2h2m2,-2h2m2,4h2m-1,-2h2m4,1h2m1,0h2m-2,3h2m0,-5h2m-2,0h2m-197,7h2m0,0h2m6,3h2m0,1h2m3,-4h2m4,3h2m-1,-4h2m-1,2h2m0,-1h2m-1,0h2m9,3h2m4,0h2m0,-4h2m3,3h2m0,0h2m3,-3h2m4,4h2m0,-1h2m3,-1h2m-2,-1h2m-1,0h2m-1,0h2m1,1h2m-2,-3h2m-1,5h2m0,0h2m0,-4h2m13,3h2m0,-2h2m1,4h2m-1,-6h2m-1,5h2m0,-5h2m-2,0h2m10,1h2m-2,4h2m4,0h2m-1,-1h2m1,-3h2m-1,3h2m7,-2h2m-1,2h2m8,-1h2m-2,0h2m1,1h2m2,-4h2m-2,4h2m6,1h2m0,0h2m-1,1h2m-1,-2h2m1,1h2m0,-1h2m-1,0h2m2,-4h2m2,2h2m4,3h2m-1,0h2m-1,-3h2m-2,4h2m2,-1h2m-1,0h2m-2,-1h2m9,0h2m5,-2h2m-209,8h2m-1,-1h2m-1,2h2m1,-2h2m6,1h2m5,-3h2m2,5h2m2,-5h2m10,1h2m-2,3h2m7,-1h2m0,-3h2m-1,0h2m6,3h2m-2,-2h2m-2,-1h2m2,0h2m-1,3h2m33,1h2m2,0h2m2,-5h2m7,0h2m3,1h2m2,5h2m-1,-4h2m-1,-2h2m-1,6h2m-1,-5h2m4,3h2m5,-1h2m-1,1h2m-1,0h2m5,2h2m3,-1h2m-2,1h2m-1,-2h2m0,-3h2m4,3h2m2,-1h2m0,1h2m5,-4h2m-2,3h2m-1,1h2m5,-2h2m5,1h2m7,1h2m-212,5h2m8,0h2m-2,0h2m-1,0h2m5,2h2m3,-4h2m6,2h2m1,2h2m1,-5h2m4,2h2m-2,1h2m2,3h2m0,-1h2m-1,-2h2m-2,-3h2m-1,5h2m-2,-1h2m-1,-3h2m-1,-1h2m3,3h2m2,3h2m1,-4h2m-1,-1h2m0,-1h2m-1,2h2m1,-1h2m-1,0h2m0,3h2m1,-2h2m-1,3h2m-2,0h2m7,-3h2m-2,0h2m4,1h2m7,2h2m9,-2h2m2,1h2m1,1h2m-1,-4h2m13,2h2m-1,-1h2m0,2h2m2,2h2m1,-5h2m-1,0h2m3,4h2m-2,0h2m1,0h2m1,-1h2m-1,-3h2m10,3h2m5,-3h2m-1,2h2m-2,-3h2m0,4h2m7,1h2m12,0h2m-2,0h2m0,-3h2m4,3h2m-232,7h2m8,0h2m0,-6h2m2,1h2m2,1h2m2,3h2m8,-5h2m2,2h2m8,4h2m-1,-2h2m-1,-1h2m-1,-2h2m1,-1h2m-1,2h2m5,0h2m1,-1h2m6,-1h2m-2,4h2m0,-1h2m6,-3h2m3,3h2m3,3h2m2,-3h2m2,1h2m0,0h2m2,1h2m-1,-1h2m1,0h2m-1,-1h2m-2,-1h2m-2,-1h2m10,0h2m8,3h2m-2,0h2m0,-1h2m9,3h2m1,-6h2m-1,4h2m0,0h2m5,-3h2m9,3h2m0,0h2m0,1h2m1,-1h2m0,-2h2m1,1h2m6,-1h2m2,3h2m-1,0h2m-1,-4h2m0,2h2m0,3h2m3,0h2m7,-3h2m1,3h2m3,0h2m7,-4h2m-243,8h2m13,-1h2m8,1h2m1,2h2m1,-1h2m0,-5h2m-1,1h2m0,-1h2m-1,4h2m5,-2h2m5,-2h2m0,0h2m0,4h2m-2,-3h2m-1,5h2m10,-1h2m0,0h2m-2,-1h2m4,0h2m-1,-2h2m0,0h2m-2,0h2m0,-2h2m2,1h2m-2,1h2m8,1h2m0,3h2m0,0h2m4,-4h2m0,-1h2m-1,4h2m0,-4h2m-1,5h2m-1,-1h2m2,1h2m-1,-2h2m1,-3h2m0,4h2m-1,-3h2m-2,2h2m-2,-1h2m1,-1h2m3,-2h2m0,2h2m4,-1h2m-2,0h2m0,3h2m1,-1h2m-1,0h2m-1,0h2m1,3h2m-1,-4h2m1,1h2m0,-2h2m2,3h2m4,-1h2m-1,1h2m-1,0h2m5,-3h2m0,2h2m12,0h2m3,2h2m-1,-3h2m1,3h2m8,-3h2m6,0h2m0,3h2m-1,-1h2m4,0h2m1,1h2m0,-5h2m11,4h2m-251,4h2m3,3h2m3,-2h2m-2,3h2m7,-1h2m1,-4h2m20,4h2m0,-2h2m-1,0h2m0,2h2m3,0h2m1,-1h2m2,-3h2m5,2h2m-1,2h2m-1,1h2m0,-2h2m-1,-4h2m-1,1h2m3,0h2m0,3h2m2,1h2m-1,-2h2m0,2h2m0,1h2m2,-3h2m3,3h2m-1,-1h2m-2,1h2m2,-2h2m-1,-3h2m6,1h2m-1,2h2m9,1h2m4,-3h2m-2,-1h2m1,3h2m3,0h2m2,1h2m-1,-4h2m-1,4h2m5,-2h2m-2,-1h2m-2,3h2m3,1h2m6,-3h2m-2,2h2m6,-5h2m11,4h2m2,-3h2m2,-1h2m1,3h2m-1,3h2m0,-1h2m2,-4h2m-2,1h2m-1,1h2m-1,-2h2m-1,5h2m0,-2h2m3,-1h2m0,0h2m7,0h2m0,-2h2m1,2h2m3,-1h2m-254,8h2m1,-2h2m-1,0h2m2,-1h2m5,4h2m11,-5h2m-1,3h2m-2,-1h2m0,1h2m4,2h2m1,-1h2m0,-3h2m-2,1h2m0,1h2m2,1h2m4,2h2m-2,-5h2m0,5h2m2,-4h2m0,3h2m-1,0h2m-2,-1h2m-2,1h2m0,-4h2m2,3h2m-2,-3h2m2,2h2m2,-3h2m0,6h2m-2,-6h2m6,3h2m0,0h2m0,1h2m15,1h2m-1,-1h2m-1,0h2m0,1h2m3,-3h2m2,2h2m0,-1h2m2,1h2m1,0h2m2,2h2m0,-1h2m0,1h2m4,-6h2m0,6h2m6,-5h2m-1,0h2m-2,4h2m-1,1h2m-2,-2h2m1,-1h2m0,2h2m2,-3h2m-1,3h2m-1,-1h2m0,-1h2m3,3h2m0,-2h2m-1,-3h2m0,1h2m0,2h2m8,2h2m-2,-6h2m13,4h2m2,-4h2m0,4h2m-1,1h2m5,-1h2m5,1h2m-1,-1h2m7,0h2m-1,2h2m2,-4h2m0,2h2m4,-2h2m0,3h2m8,-1h2m-265,8h2m7,-4h2m5,0h2m8,3h2m0,0h2m-1,0h2m2,-1h2m-1,-2h2m1,-2h2m0,4h2m-2,0h2m0,-1h2m1,1h2m-2,-1h2m-1,3h2m-1,-4h2m-1,-1h2m4,0h2m4,3h2m0,-1h2m12,1h2m-1,-1h2m0,3h2m0,-4h2m5,1h2m-2,1h2m-1,-4h2m-2,3h2m0,-3h2m-1,0h2m-1,4h2m2,0h2m3,-2h2m3,-2h2m-1,6h2m1,-4h2m-2,0h2m-2,1h2m-2,2h2m-1,-2h2m-1,-2h2m-1,0h2m-2,4h2m3,-4h2m2,-1h2m3,2h2m5,0h2m-1,0h2m0,1h2m7,2h2m0,-2h2m0,0h2m5,-1h2m3,0h2m2,-2h2m-1,3h2m2,2h2m0,0h2m-1,0h2m-2,-1h2m-1,0h2m-1,-4h2m6,0h2m4,3h2m0,2h2m12,-2h2m3,0h2m-2,2h2m9,0h2m1,-2h2m0,2h2m0,-2h2m3,-2h2m6,4h2m2,-5h2m-1,5h2m0,-3h2m-246,6h2m4,3h2m-1,-4h2m-1,4h2m0,-3h2m2,3h2m-2,-1h2m-2,2h2m0,-4h2m-2,4h2m1,-3h2m3,-2h2m2,3h2m0,-1h2m4,2h2m-1,-3h2m-2,-1h2m-1,0h2m6,1h2m-1,3h2m2,0h2m1,-4h2m0,3h2m-1,1h2m6,-3h2m-1,-2h2m1,5h2m4,-4h2m-1,0h2m-1,4h2m0,0h2m-1,-2h2m0,-1h2m6,-1h2m1,4h2m0,-4h2m2,2h2m-2,-1h2m-1,1h2m9,-2h2m-1,3h2m1,-1h2m6,-1h2m9,1h2m2,-2h2m0,1h2m1,1h2m2,-3h2m9,5h2m-2,-3h2m-1,1h2m-1,1h2m0,-2h2m-1,3h2m6,-2h2m-1,1h2m-2,-2h2m-2,-1h2m-1,4h2m-2,1h2m-1,-3h2m1,3h2m0,-2h2m0,-3h2m-2,1h2m-1,1h2m1,2h2m0,-5h2m1,3h2m0,-2h2m0,3h2m7,1h2m-2,-4h2m-2,1h2m-1,2h2m1,-4h2m-2,4h2m-2,-2h2m2,-1h2m-2,0h2m1,1h2m0,-1h2m-1,2h2m-1,1h2m5,2h2m0,-5h2m-1,2h2m-1,0h2m4,-2h2m2,3h2m1,0h2m2,-1h2m12,-2h2m3,-1h2m-286,12h2m0,-5h2m5,0h2m3,3h2m-1,1h2m7,-3h2m2,1h2m1,2h2m-2,-4h2m5,3h2m-1,-3h2m0,0h2m1,2h2m-2,1h2m-1,-3h2m-2,0h2m1,3h2m8,0h2m-2,1h2m-2,0h2m5,-2h2m9,-2h2m-1,2h2m2,0h2m0,-2h2m1,4h2m-1,-4h2m-1,3h2m-2,1h2m3,-1h2m0,-1h2m5,1h2m0,-2h2m3,0h2m23,0h2m-2,3h2m-1,-3h2m3,0h2m6,3h2m0,-3h2m11,-1h2m2,5h2m-1,-6h2m9,4h2m-2,-3h2m3,1h2m-1,1h2m-2,1h2m1,1h2m-2,0h2m1,-4h2m0,5h2m-1,-4h2m7,1h2m11,-2h2m-1,0h2m0,2h2m3,2h2m-2,-4h2m4,1h2m-1,3h2m-1,-4h2m0,-1h2m2,3h2m2,-1h2m2,4h2m-2,-3h2m10,2h2m0,0h2m0,1h2m1,-5h2m1,3h2m-268,2h2m3,4h2m-1,1h2m3,-1h2m8,2h2m-1,-5h2m4,1h2m-1,3h2m-1,-1h2m-1,2h2m-2,-1h2m1,-2h2m1,1h2m-1,-3h2m6,0h2m0,2h2m1,1h2m-2,-1h2m3,-2h2m6,0h2m2,3h2m0,-2h2m-1,0h2m-2,2h2m1,-3h2m7,2h2m2,1h2m-1,2h2m4,-5h2m2,4h2m7,-1h2m-2,-1h2m0,-2h2m0,0h2m0,0h2m2,1h2m-1,3h2m0,1h2m1,-2h2m-2,1h2m-2,-3h2m0,-2h2m-1,5h2m4,0h2m5,-5h2m-1,1h2m-1,1h2m-1,-1h2m-2,1h2m-2,0h2m-1,1h2m-2,-2h2m6,2h2m4,2h2m0,-3h2m1,-2h2m0,1h2m3,4h2m-1,0h2m0,0h2m2,-4h2m4,5h2m-1,-2h2m3,-1h2m9,-2h2m3,2h2m1,-2h2m0,0h2m0,3h2m-2,1h2m5,-3h2m2,0h2m11,0h2m3,3h2m3,1h2m0,-3h2m-2,2h2m3,-1h2m-1,-3h2m0,1h2m-1,-1h2m2,-1h2m-2,3h2m3,1h2m-2,0h2m4,2h2m3,-3h2m0,1h2m-286,6h2m-1,-1h2m1,-1h2m1,1h2m7,0h2m2,1h2m1,-2h2m3,3h2m16,-1h2m7,-3h2m-1,5h2m2,-6h2m-1,4h2m5,2h2m9,-1h2m9,-5h2m2,4h2m2,-1h2m-2,2h2m1,-4h2m0,1h2m3,0h2m-1,1h2m0,1h2m-1,-3h2m0,2h2m-1,0h2m-2,-3h2m3,1h2m-1,3h2m5,-1h2m2,1h2m-1,-2h2m-2,2h2m0,1h2m2,1h2m9,-6h2m-1,3h2m-2,-2h2m1,1h2m5,0h2m0,-2h2m5,3h2m1,-1h2m3,2h2m2,-2h2m-1,2h2m0,0h2m4,2h2m2,-3h2m8,-2h2m-2,3h2m2,-1h2m1,1h2m13,-4h2m2,4h2m-1,1h2m2,-1h2m0,2h2m4,-6h2m-1,3h2m-1,-2h2m-1,0h2m0,2h2m-1,1h2m1,-4h2m-2,2h2m2,0h2m0,2h2m1,1h2m5,0h2m1,-2h2m2,0h2m-269,6h2m1,2h2m2,-1h2m3,-3h2m1,2h2m-2,3h2m0,-5h2m4,2h2m-2,2h2m5,1h2m-1,-5h2m1,4h2m-2,0h2m5,-5h2m1,5h2m-1,-4h2m2,3h2m-1,1h2m2,-2h2m-2,-2h2m6,2h2m1,0h2m0,0h2m4,-1h2m-1,-2h2m9,4h2m8,0h2m4,-2h2m-1,1h2m5,2h2m-2,-5h2m1,5h2m3,-1h2m1,0h2m3,-4h2m-2,6h2m5,-4h2m4,-1h2m-1,3h2m-2,1h2m4,-1h2m0,2h2m-2,-4h2m-1,1h2m-1,1h2m-1,-3h2m0,-1h2m-1,4h2m0,-1h2m2,2h2m-1,-5h2m2,0h2m0,3h2m0,-1h2m1,3h2m-2,-2h2m5,-2h2m-1,2h2m0,3h2m3,-2h2m-2,2h2m5,-2h2m4,2h2m-2,-2h2m-1,1h2m-1,-4h2m1,0h2m10,4h2m5,0h2m1,-4h2m3,0h2m3,4h2m-2,-2h2m2,-1h2m-2,2h2m-1,0h2m4,0h2m-2,-4h2m0,0h2m4,2h2m1,3h2m-2,-1h2m4,1h2m1,1h2m-280,5h2m4,0h2m-2,-4h2m-2,0h2m-1,-1h2m-1,2h2m0,-1h2m-1,2h2m3,0h2m-1,3h2m-1,-2h2m-2,-3h2m3,0h2m1,2h2m0,0h2m3,0h2m1,1h2m-2,-3h2m3,0h2m3,3h2m5,0h2m-1,0h2m-1,-2h2m0,2h2m11,-1h2m-1,2h2m-1,-3h2m0,1h2m1,1h2m1,0h2m5,-1h2m2,-2h2m6,3h2m-1,-1h2m4,3h2m3,-5h2m1,4h2m2,-4h2m-1,3h2m-1,-1h2m1,-1h2m1,0h2m-2,3h2m-1,-1h2m5,-1h2m2,2h2m-1,-3h2m-2,4h2m-1,-3h2m1,2h2m4,-5h2m4,3h2m0,0h2m1,1h2m0,-1h2m10,1h2m1,-4h2m1,2h2m-1,-2h2m18,5h2m0,-3h2m-2,-1h2m-1,1h2m11,-2h2m1,5h2m-2,-3h2m-1,0h2m-2,2h2m2,0h2m-1,0h2m-1,1h2m2,-1h2m4,-1h2m-1,0h2m-1,-2h2m-1,2h2m-1,0h2m-1,-2h2m2,4h2m-1,0h2m0,0h2m-2,-1h2m-2,-2h2m4,3h2m-2,-3h2m0,1h2m-1,2h2m-1,-3h2m1,-1h2m14,0h2m-287,10h2m1,1h2m11,-2h2m4,-4h2m1,5h2m-1,-5h2m8,1h2m10,1h2m-2,-1h2m12,4h2m-1,-2h2m3,-1h2m1,1h2m0,1h2m-2,0h2m1,1h2m10,1h2m2,-5h2m0,3h2m0,2h2m13,-1h2m-1,-3h2m-2,-1h2m1,3h2m0,2h2m4,-4h2m3,0h2m-2,4h2m-1,-6h2m8,2h2m-2,4h2m-1,-4h2m-1,0h2m-1,0h2m-2,-1h2m3,0h2m-1,2h2m2,0h2m0,0h2m-2,-3h2m-2,5h2m2,1h2m9,-3h2m0,1h2m-1,-4h2m-1,5h2m1,-1h2m-1,1h2m3,-1h2m4,-3h2m-1,2h2m0,1h2m7,1h2m3,-5h2m20,6h2m-2,-5h2m2,2h2m3,-2h2m0,4h2m-1,0h2m-2,-2h2m0,2h2m-1,-4h2m5,3h2m-2,0h2m0,-2h2m-1,2h2m-1,-1h2m-2,-3h2m13,2h2m0,1h2m-1,-3h2m1,0h2m0,3h2m-2,1h2m-1,0h2m-1,-3h2m-2,5h2m-273,1h2m7,2h2m-2,2h2m10,-2h2m-1,-2h2m1,1h2m-1,3h2m-1,-5h2m-2,5h2m-1,-4h2m-2,0h2m0,0h2m4,3h2m-2,0h2m1,0h2m10,-4h2m0,5h2m-1,-2h2m1,-3h2m-1,4h2m0,-3h2m2,0h2m-1,0h2m0,-1h2m0,5h2m-1,-5h2m1,2h2m0,-1h2m14,3h2m1,-3h2m-1,2h2m3,-3h2m19,5h2m5,0h2m6,0h2m-1,-4h2m-1,4h2m6,-5h2m-1,3h2m1,-2h2m4,0h2m4,-1h2m-1,5h2m-1,0h2m-2,1h2m0,-1h2m-1,-2h2m5,2h2m2,1h2m4,-1h2m-1,-4h2m2,0h2m0,0h2m-1,-1h2m2,4h2m-2,-1h2m-1,1h2m1,-3h2m1,0h2m2,2h2m-1,-3h2m2,3h2m0,1h2m3,-3h2m1,4h2m0,-1h2m12,0h2m10,2h2m-2,-3h2m2,3h2m18,-4h2m6,4h2m2,-5h2m4,3h2m116,-2h2m5,0h2m65,0h2m58,2h2m20,-1h2m-574,5h2m6,-2h2m2,4h2m1,-1h2m17,-1h2m-2,0h2m2,3h2m3,-1h2m-1,1h2m5,-3h2m-1,-2h2m0,3h2m-2,-2h2m3,4h2m0,1h2m4,-3h2m1,-1h2m-1,1h2m8,2h2m0,0h2m7,-2h2m10,2h2m3,-1h2m1,-2h2m-1,1h2m-1,0h2m0,-1h2m-2,-1h2m5,4h2m0,0h2m1,1h2m1,-3h2m0,-1h2m1,-1h2m5,2h2m-2,1h2m0,-3h2m2,5h2m2,-5h2m4,3h2m0,-3h2m-1,3h2m-2,-1h2m-1,0h2m-2,-3h2m0,1h2m4,5h2m8,-6h2m1,3h2m7,2h2m0,-4h2m8,2h2m1,1h2m-2,0h2m0,-3h2m1,3h2m1,1h2m0,-3h2m3,-1h2m-2,2h2m6,0h2m-2,-3h2m-1,2h2m6,3h2m-1,-3h2m2,-2h2m-2,4h2m2,1h2m6,-2h2m2,-2h2m1,0h2m3,0h2m-2,1h2m-2,3h2m-1,-2h2m-1,2h2m3,-4h2m0,0h2m-1,0h2m1,0h2m2,5h2m125,-5h2m-2,3h2m-1,1h2m39,-4h2m15,1h2m2,3h2m7,-4h2m18,3h2m28,1h2m13,-1h2m11,0h2m4,1h2m20,-1h2m4,2h2m7,-2h2m-612,4h2m7,-1h2m8,2h2m1,3h2m5,-1h2m-1,1h2m1,-5h2m-1,1h2m-2,1h2m3,2h2m-1,-5h2m-1,4h2m3,-4h2m8,4h2m0,2h2m-1,-2h2m4,1h2m2,-5h2m9,0h2m-1,4h2m3,-3h2m0,1h2m-1,1h2m-1,-2h2m4,1h2m3,-2h2m3,1h2m0,5h2m-1,-3h2m0,-3h2m-1,1h2m5,1h2m-2,-1h2m8,4h2m1,-2h2m0,-3h2m8,0h2m0,1h2m1,5h2m0,-4h2m14,-1h2m-2,4h2m0,-4h2m-1,5h2m0,-6h2m-2,0h2m0,5h2m1,-1h2m3,1h2m-2,0h2m0,-5h2m2,2h2m-1,3h2m0,-3h2m5,3h2m1,0h2m-2,-3h2m1,0h2m0,1h2m2,1h2m0,-1h2m2,0h2m-2,0h2m3,-2h2m0,0h2m-1,3h2m0,0h2m2,-3h2m2,4h2m3,0h2m0,-1h2m8,-1h2m-2,1h2m1,-1h2m-2,-3h2m4,3h2m0,2h2m0,-1h2m-2,-1h2m0,-1h2m4,1h2m-2,0h2m-2,2h2m8,-2h2m132,0h2m13,2h2m3,-1h2m1,0h2m-2,0h2m-1,0h2m8,-4h2m2,5h2m5,-4h2m12,4h2m1,-5h2m-1,0h2m1,5h2m3,0h2m9,1h2m-1,-4h2m0,1h2m-1,3h2m-1,-4h2m9,2h2m4,-1h2m4,1h2m8,1h2m3,-2h2m0,3h2m6,0h2m-1,-2h2m3,1h2m-2,1h2m4,0h2m0,-4h2m-1,-1h2m0,3h2m-1,1h2m-1,-4h2m17,1h2m6,2h2m18,-2h2m-613,8h2m1,-3h2m3,5h2m1,-3h2m-1,-2h2m5,3h2m2,-3h2m1,-1h2m-1,1h2m-1,3h2m-2,0h2m3,1h2m-1,-4h2m0,3h2m5,0h2m-2,-1h2m3,1h2m0,-4h2m1,5h2m2,0h2m0,-1h2m-1,2h2m0,-2h2m-1,-4h2m-1,4h2m0,-2h2m9,-1h2m-1,5h2m0,-2h2m-2,2h2m0,-5h2m13,0h2m-2,2h2m-1,1h2m1,1h2m1,-3h2m1,-1h2m2,-1h2m-2,0h2m-1,3h2m4,2h2m2,-3h2m-1,3h2m18,-4h2m2,3h2m0,-1h2m2,1h2m4,-3h2m10,2h2m-2,1h2m0,-2h2m0,0h2m0,2h2m-2,-1h2m-1,3h2m1,-5h2m1,4h2m6,-5h2m1,2h2m-1,4h2m2,-3h2m-2,2h2m0,-3h2m2,-1h2m-2,2h2m3,-1h2m0,3h2m3,-4h2m1,1h2m-2,4h2m1,-4h2m0,3h2m0,-2h2m4,1h2m2,2h2m-2,-3h2m-1,1h2m0,-1h2m-1,-1h2m-1,1h2m-2,1h2m-1,2h2m4,-5h2m4,3h2m3,-3h2m8,4h2m2,-4h2m-1,5h2m0,-4h2m-2,3h2m26,-2h2m105,-1h2m0,-1h2m2,1h2m4,-2h2m1,5h2m1,-4h2m0,-1h2m-2,6h2m-1,-6h2m-2,4h2m-2,-2h2m5,2h2m2,0h2m-2,-1h2m3,2h2m0,1h2m5,-5h2m2,-1h2m-1,5h2m3,-3h2m2,0h2m2,0h2m11,-2h2m-1,5h2m4,-4h2m-1,4h2m1,0h2m0,-3h2m0,-1h2m4,4h2m-1,-3h2m-2,4h2m0,-6h2m5,5h2m5,0h2m-1,0h2m0,0h2m1,0h2m-2,-3h2m1,-1h2m0,5h2m4,-6h2m12,2h2m-2,-1h2m2,0h2m-2,1h2m-1,1h2m0,1h2m-1,1h2m0,-4h2m1,2h2m0,-2h2m4,4h2m-1,-3h2m-1,0h2m1,1h2m-2,-2h2m0,3h2m3,-3h2m-590,6h2m-1,-1h2m1,5h2m14,-1h2m0,0h2m0,1h2m19,-2h2m-1,2h2m0,-2h2m1,-2h2m0,0h2m2,4h2m-1,-3h2m6,3h2m-1,-1h2m0,-4h2m0,3h2m-1,-1h2m-1,-1h2m-2,3h2m3,-3h2m0,3h2m-2,0h2m-1,2h2m5,-2h2m4,0h2m2,-3h2m3,-1h2m16,1h2m-2,3h2m1,-3h2m4,1h2m1,1h2m1,-2h2m3,4h2m2,-1h2m-1,2h2m2,-6h2m0,1h2m-1,1h2m2,1h2m1,-1h2m-2,0h2m11,3h2m-1,-1h2m0,-3h2m1,3h2m0,-2h2m7,-1h2m0,2h2m-1,2h2m-1,-3h2m-1,1h2m0,1h2m-1,1h2m-2,-3h2m-1,3h2m-2,-2h2m-2,3h2m-1,-3h2m2,1h2m5,0h2m6,-2h2m-2,2h2m1,2h2m-1,-3h2m-1,3h2m1,-3h2m-1,1h2m10,1h2m0,-5h2m-2,5h2m2,-4h2m-2,2h2m3,0h2m0,2h2m10,-5h2m0,3h2m-2,0h2m1,0h2m0,1h2m150,1h2m8,-2h2m0,-2h2m-1,0h2m9,-1h2m-2,3h2m-1,-2h2m1,2h2m1,-2h2m0,3h2m-1,2h2m-2,0h2m-1,-4h2m-2,-2h2m3,1h2m6,0h2m2,2h2m0,0h2m10,-1h2m0,4h2m-2,-5h2m-1,0h2m6,2h2m-2,-2h2m-1,1h2m4,4h2m0,-6h2m-1,2h2m3,1h2m0,-3h2m6,3h2m-1,0h2m2,0h2m0,-2h2m0,2h2m1,0h2m0,1h2m2,-1h2m1,-1h2m2,-2h2m0,5h2m-2,-3h2m1,2h2m0,1h2m1,0h2m1,-5h2m6,0h2m2,0h2m-1,5h2m3,1h2m-2,0h2m4,-5h2m1,0h2m-579,7h2m3,0h2m-1,1h2m-2,3h2m2,-2h2m6,-3h2m0,1h2m0,3h2m23,-3h2m3,0h2m-2,1h2m1,-1h2m8,0h2m-1,0h2m-1,-2h2m5,3h2m0,2h2m-2,-1h2m3,-1h2m0,-2h2m6,4h2m1,-4h2m2,4h2m-2,-1h2m2,1h2m6,-5h2m3,4h2m2,1h2m1,-4h2m7,4h2m0,0h2m2,-4h2m0,3h2m0,2h2m-1,-1h2m-2,-5h2m4,3h2m-1,1h2m3,-2h2m4,1h2m-2,-2h2m0,0h2m0,0h2m-1,2h2m-1,-1h2m0,-2h2m0,2h2m1,0h2m-1,0h2m0,-1h2m2,0h2m-1,-1h2m-2,5h2m-1,-2h2m-2,-2h2m-1,4h2m-1,0h2m0,-4h2m-1,-1h2m3,0h2m-2,3h2m3,-1h2m3,-1h2m1,2h2m1,2h2m6,-4h2m0,2h2m-1,2h2m2,0h2m0,0h2m8,-4h2m0,5h2m-1,-3h2m-1,-1h2m0,2h2m1,1h2m0,-4h2m9,2h2m-2,-1h2m-1,-2h2m-1,3h2m-1,-3h2m11,2h2m-2,1h2m134,-1h2m2,-2h2m4,1h2m7,-1h2m3,0h2m22,1h2m1,-1h2m25,2h2m2,3h2m3,-2h2m3,0h2m4,-2h2m22,1h2m9,0h2m7,0h2m-1,2h2m-1,-2h2m21,2h2m-583,5h2m17,-3h2m2,2h2m2,1h2m3,0h2m-1,2h2m7,0h2m-1,-2h2m0,1h2m2,-1h2m-2,-2h2m0,1h2m5,0h2m2,3h2m11,-1h2m-2,1h2m-1,-3h2m0,2h2m0,-3h2m-1,4h2m5,-1h2m-1,2h2m2,-5h2m0,4h2m1,0h2m1,0h2m6,-4h2m-1,5h2m4,-4h2m-2,1h2m3,3h2m-2,0h2m0,-1h2m3,-1h2m31,-2h2m-2,2h2m7,-2h2m6,3h2m-1,1h2m2,0h2m4,-3h2m1,2h2m-1,-3h2m13,3h2m5,0h2m-1,-3h2m8,3h2m-1,-3h2m-2,4h2m-2,-4h2m4,1h2m0,1h2m-1,-1h2m0,0h2m-1,0h2m1,0h2m0,1h2m-2,-3h2m4,2h2m4,-2h2m-2,5h2m0,-6h2m2,3h2m-2,0h2m-2,1h2m4,2h2m-1,-6h2m-1,6h2m9,-5h2m11,0h2m135,1h2m7,2h2m139,-1h2m-592,8h2m8,-4h2m-1,0h2m0,0h2m0,4h2m0,-1h2m5,0h2m0,0h2m1,2h2m-2,-5h2m-1,0h2m-1,1h2m2,2h2m0,-2h2m5,1h2m-1,1h2m6,0h2m-1,1h2m2,-3h2m-1,0h2m-1,3h2m-1,-5h2m0,4h2m0,-3h2m-1,2h2m1,2h2m10,-1h2m0,-2h2m3,2h2m-1,-4h2m-2,5h2m-1,0h2m-1,-3h2m-2,-1h2m1,0h2m-1,2h2m-1,1h2m-1,1h2m-1,0h2m-1,-4h2m-2,3h2m-1,-1h2m8,0h2m1,-2h2m0,4h2m-2,-1h2m0,-2h2m-1,2h2m-1,-3h2m-1,-1h2m1,2h2m2,2h2m1,2h2m1,-3h2m2,-3h2m-2,2h2m1,1h2m-1,2h2m0,-3h2m2,0h2m2,-2h2m3,3h2m-1,0h2m3,0h2m1,-1h2m1,2h2m1,-2h2m12,0h2m0,3h2m6,1h2m-1,0h2m-1,-5h2m-1,-1h2m0,2h2m4,3h2m-2,-2h2m6,0h2m-2,2h2m1,-1h2m0,-2h2m7,-1h2m-1,1h2m0,1h2m-1,-1h2m-1,2h2m0,-1h2m0,2h2m0,-2h2m2,-2h2m-1,4h2m0,0h2m-1,-5h2m-1,4h2m0,2h2m0,-3h2m6,-1h2m2,2h2m8,2h2m0,-5h2m7,1h2m-1,3h2m2,0h2m-2,0h2m2,-3h2m20,3h2m357,0h2m-670,3h2m2,1h2m0,0h2m1,2h2m-1,-1h2m2,0h2m-1,0h2m0,-3h2m11,2h2m3,0h2m2,-3h2m-2,5h2m-2,-1h2m0,-1h2m-2,-1h2m-1,1h2m1,1h2m-1,0h2m-1,-2h2m-1,-2h2m0,2h2m-1,3h2m-1,1h2m3,0h2m1,-5h2m2,1h2m0,0h2m4,-1h2m-1,2h2m7,2h2m3,-1h2m3,-1h2m0,-2h2m-2,1h2m0,1h2m-2,0h2m1,2h2m2,-3h2m3,-1h2m3,3h2m0,1h2m-1,-4h2m0,3h2m0,2h2m3,-4h2m2,1h2m0,-2h2m-1,3h2m2,-2h2m-1,1h2m0,-1h2m-1,0h2m-1,3h2m1,-5h2m-2,5h2m-1,-1h2m9,0h2m-1,0h2m-2,-3h2m-2,3h2m-1,-3h2m5,4h2m0,-2h2m0,0h2m2,0h2m-1,-1h2m2,-1h2m5,1h2m17,2h2m1,-3h2m0,4h2m5,-4h2m-2,5h2m-1,-1h2m1,-4h2m-2,0h2m-1,4h2m7,-5h2m0,4h2m0,0h2m0,-3h2m7,0h2m-2,1h2m-2,1h2m0,-2h2m0,3h2m-2,-2h2m1,3h2m3,1h2m1,-3h2m-2,2h2m-1,0h2m-1,1h2m-1,-3h2m4,-1h2m0,1h2m0,3h2m1,-3h2m3,0h2m-1,2h2m0,-5h2m1,3h2m4,-2h2m-2,3h2m-1,0h2m0,1h2m0,-1h2m-1,-2h2m3,3h2m0,-3h2m-1,2h2m8,-1h2m355,2h2m1,-5h2m-682,8h2m16,-1h2m-2,3h2m-1,-2h2m4,2h2m0,-2h2m-1,3h2m-1,-3h2m6,3h2m2,-3h2m2,3h2m-1,-4h2m-1,1h2m0,0h2m3,2h2m3,-2h2m3,-1h2m0,4h2m4,1h2m-1,-1h2m-2,-1h2m1,-2h2m-2,2h2m1,0h2m6,-2h2m-1,-1h2m-1,-1h2m-2,3h2m0,2h2m0,-4h2m1,4h2m1,1h2m-1,-5h2m-1,0h2m0,2h2m-1,2h2m0,-2h2m1,2h2m-1,-2h2m2,-2h2m-2,5h2m-1,-1h2m-1,-4h2m-1,-1h2m1,3h2m-1,1h2m0,0h2m0,-2h2m2,2h2m-1,0h2m4,2h2m-1,-4h2m3,2h2m0,-2h2m1,-1h2m-1,0h2m0,-1h2m-2,3h2m0,-1h2m0,-1h2m-1,5h2m-1,-2h2m-1,-2h2m1,1h2m-1,2h2m-2,0h2m1,1h2m3,-1h2m-2,-4h2m2,2h2m-1,0h2m3,2h2m-2,-2h2m-1,0h2m8,1h2m0,0h2m-2,-3h2m2,-1h2m0,5h2m-1,-2h2m-2,3h2m-1,-5h2m-2,-1h2m-1,1h2m-2,-1h2m5,6h2m8,-5h2m4,5h2m-2,-5h2m-1,1h2m1,0h2m0,2h2m1,-4h2m2,4h2m-1,2h2m-2,-1h2m-1,-4h2m-2,-1h2m4,4h2m0,-1h2m0,3h2m1,-1h2m-1,0h2m-1,0h2m-2,-4h2m2,1h2m-2,0h2m0,-2h2m3,1h2m0,0h2m3,0h2m2,1h2m-2,1h2m-1,1h2m-1,-4h2m-2,4h2m0,1h2m-1,-2h2m-1,-3h2m0,6h2m0,0h2m3,-3h2m6,-2h2m1,0h2m3,5h2m4,-3h2m7,3h2m347,-4h2m7,3h2m-662,3h2m1,-2h2m1,3h2m2,2h2m10,-3h2m1,4h2m-1,-6h2m4,4h2m-2,-1h2m-1,0h2m3,1h2m0,0h2m-2,1h2m0,-5h2m10,0h2m-1,1h2m-2,3h2m-1,-3h2m5,3h2m-1,-2h2m0,0h2m-2,3h2m8,1h2m1,-4h2m-2,0h2m1,3h2m1,0h2m-2,-4h2m1,0h2m-2,4h2m-1,1h2m-2,-1h2m-1,0h2m4,-2h2m-1,-3h2m-2,3h2m2,2h2m-2,-3h2m0,-1h2m7,0h2m3,2h2m3,0h2m0,3h2m-1,-3h2m2,1h2m1,-3h2m0,2h2m-2,3h2m-1,-2h2m0,-3h2m-1,-1h2m-2,3h2m1,1h2m-2,2h2m-1,-5h2m1,3h2m1,-1h2m-2,-3h2m1,5h2m2,0h2m-1,-3h2m-2,-1h2m0,3h2m4,-2h2m9,0h2m5,-1h2m3,0h2m0,4h2m-1,-4h2m1,4h2m-2,-4h2m-1,1h2m-1,-1h2m-1,3h2m-1,0h2m-1,2h2m0,-2h2m2,-1h2m-1,-2h2m0,0h2m-1,1h2m2,3h2m1,-5h2m-1,5h2m-1,0h2m7,-5h2m4,1h2m3,4h2m1,-1h2m-2,-3h2m1,3h2m1,-3h2m-1,2h2m-1,2h2m-1,-4h2m4,3h2m1,2h2m-1,-3h2m0,1h2m-1,0h2m0,2h2m-1,0h2m1,-4h2m1,3h2m2,-4h2m-1,3h2m1,-2h2m0,1h2m0,2h2m1,-4h2m-2,5h2m-1,-4h2m1,1h2m-2,0h2m0,2h2m4,-3h2m2,-1h2m8,3h2m2,1h2m-319,4h2m2,-2h2m4,1h2m5,0h2m3,0h2m-1,1h2m25,1h2m-2,-3h2m1,4h2m-1,-4h2m2,-1h2m-2,1h2m7,2h2m1,2h2m-1,-4h2m-2,0h2m3,3h2m0,-3h2m-2,0h2m1,3h2m7,0h2m0,-3h2m-1,-1h2m4,2h2m0,1h2m-1,1h2m-1,-3h2m-2,0h2m3,4h2m2,-3h2m1,4h2m0,-4h2m-1,2h2m-1,-3h2m1,2h2m1,-1h2m9,-2h2m0,4h2m-2,1h2m3,-3h2m-2,-1h2m7,1h2m8,-1h2m0,1h2m2,2h2m1,1h2m0,0h2m-2,-1h2m4,-1h2m1,1h2m-1,-1h2m1,0h2m-1,-2h2m-1,4h2m-1,1h2m-2,-5h2m-2,3h2m9,-2h2m-1,1h2m7,0h2m12,2h2m-1,0h2m6,0h2m-1,-2h2m-1,1h2m-2,0h2m-1,2h2m6,-5h2m0,0h2m2,1h2m2,4h2m-2,-4h2m-1,1h2m-2,3h2m0,-3h2m0,2h2m-2,-1h2m5,0h2m9,-2h2m-1,3h2m4,-3h2m21,-2h2m-1,4h2m6,1h2m-312,6h2m9,-2h2m0,0h2m-2,-2h2m0,2h2m5,-3h2m-1,3h2m0,2h2m4,-2h2m-1,0h2m12,-1h2m1,-1h2m2,0h2m-1,0h2m12,-1h2m-1,6h2m-1,0h2m5,-5h2m-1,1h2m-2,1h2m-2,-2h2m0,1h2m0,3h2m3,-3h2m4,2h2m2,-1h2m-1,2h2m-1,-3h2m9,0h2m-1,-1h2m5,2h2m-1,0h2m-1,1h2m-1,0h2m0,1h2m-1,-2h2m2,1h2m0,0h2m15,0h2m4,-4h2m7,4h2m4,-2h2m0,-1h2m3,4h2m-2,0h2m-1,-5h2m-1,3h2m-2,-2h2m-1,4h2m0,-1h2m0,-2h2m1,-1h2m2,3h2m-1,1h2m0,0h2m-1,-2h2m1,2h2m-2,-4h2m-1,3h2m4,-4h2m-1,6h2m-1,0h2m18,-4h2m5,-1h2m1,2h2m5,2h2m0,-5h2m-2,6h2m0,-6h2m-1,0h2m-1,3h2m-1,0h2m-1,-2h2m1,3h2m-1,-3h2m3,4h2m1,1h2m0,-6h2m1,4h2m5,-2h2m4,-2h2m-1,5h2m6,-1h2m2,1h2m2,-2h2m3,-1h2m1,1h2m-287,6h2m4,-2h2m0,1h2m3,-1h2m7,4h2m1,-3h2m-1,4h2m-1,-1h2m3,-2h2m0,1h2m1,-2h2m0,2h2m-2,-1h2m3,0h2m2,-3h2m1,2h2m3,-1h2m2,-1h2m2,1h2m4,4h2m-1,-1h2m2,-1h2m4,2h2m2,-3h2m2,1h2m25,-3h2m0,0h2m13,5h2m4,-4h2m3,3h2m-2,-2h2m3,0h2m16,3h2m-2,-4h2m8,0h2m-1,2h2m-1,1h2m0,2h2m8,-2h2m-2,1h2m11,-1h2m-1,-2h2m-1,0h2m2,-1h2m1,5h2m9,-6h2m0,1h2m1,3h2m0,1h2m-1,0h2m-2,-3h2m1,-1h2m14,2h2m1,1h2m0,-4h2m-1,5h2m-2,-1h2m-2,-1h2m-1,0h2m10,0h2m6,1h2m-269,4h2m20,3h2m-1,1h2m15,0h2m5,-3h2m12,1h2m2,1h2m4,-4h2m-1,1h2m0,1h2m2,3h2m7,-4h2m2,0h2m1,-2h2m9,3h2m3,0h2m7,-2h2m2,0h2m1,4h2m2,-5h2m4,0h2m3,5h2m11,-3h2m-1,0h2m9,3h2m0,-5h2m4,5h2m7,-2h2m6,-2h2m15,2h2m3,-1h2m2,-2h2m15,3h2m7,-2h2m1,5h2m2,-3h2m11,1h2m361,2h2m3,-4h2m3,1h2m3,-1h2m0,1h2m0,-2h2m-643,6h2m15,2h2m11,0h2m1,-3h2m17,0h2m18,1h2m19,0h2m22,4h2m-2,1h2m49,-3h2m12,3h2m0,-2h2m29,1h2m-2,-4h2m3,2h2m-2,1h2m2,-3h2m397,1h2m8,4h2m6,0h2m-595,5h2m10,0h2m0,-1h2m11,-1h2m43,2h2m35,-3h2m79,4h2m4,-5h2m361,2h2m-622,5h2m26,-1h2m17,-1h2m70,0h2m58,0h2m13,2h2m17,3h2m426,-4h2m-1,-1h2m-600,10h2m70,-3h2m14,1h2m38,0h2m10,-1h2m433,7h2m11,9h2m7,-5h2m8,9h2m-16,9h2m14,-2h2m-57,14h2m25,4h2m11,4h2m-28,10h2m11,9h2m-38,5h2m5,17h2m34,4h2m-24,38h2m5,3h2m-1,-2h2m-2,0h2m-1,6h2"/><path stroke="#ff8c8a" d="M2063,420h2m-21,4h2m31,0h2m1,2h2m3,2h2m7,-3h2m-49,9h2m16,-2h2m-1,0h2m26,1h2m4,0h2m3,-3h2m4,3h2m-63,5h2m1,1h2m17,-3h2m-2,4h2m3,-1h2m9,-4h2m5,5h2m1,-1h2m1,0h2m5,1h2m-1,-2h2m1,1h2m8,1h2m7,-4h2m8,2h2m-132,7h2m12,-1h2m1,0h2m0,1h2m4,-1h2m3,0h2m1,-1h2m-1,1h2m-2,-1h2m-2,1h2m10,-2h2m11,4h2m-1,-1h2m-1,-1h2m-1,-2h2m3,2h2m4,2h2m-2,-4h2m-1,3h2m-2,-2h2m2,0h2m-1,-1h2m0,0h2m1,2h2m-2,-2h2m-1,3h2m-2,1h2m0,-3h2m-1,2h2m1,0h2m5,1h2m-1,-2h2m-2,0h2m-2,3h2m7,-5h2m12,3h2m-1,-3h2m-1,3h2m-2,-4h2m4,1h2m-124,10h2m18,-2h2m11,0h2m3,-1h2m0,3h2m8,1h2m-2,-1h2m0,-3h2m3,-2h2m2,0h2m-1,4h2m-2,0h2m1,-4h2m0,4h2m-2,1h2m1,0h2m0,-3h2m-1,0h2m-1,-1h2m3,0h2m-1,1h2m0,-2h2m0,4h2m10,-1h2m-1,0h2m0,-2h2m-2,1h2m15,4h2m12,-6h2m-144,9h2m12,-1h2m0,0h2m4,2h2m2,-1h2m-2,0h2m-1,-1h2m-1,1h2m-1,2h2m3,-4h2m4,2h2m-2,1h2m-1,-2h2m0,1h2m-1,-1h2m10,0h2m0,3h2m3,-2h2m1,2h2m-2,-5h2m4,1h2m1,-1h2m-1,1h2m-2,1h2m-2,2h2m-2,-1h2m4,1h2m1,-2h2m-1,3h2m0,-3h2m1,2h2m-2,-2h2m-2,1h2m1,2h2m2,-4h2m6,1h2m3,3h2m-1,-3h2m-2,4h2m6,0h2m2,-5h2m-125,8h2m3,1h2m-1,-1h2m1,1h2m-2,-2h2m1,0h2m-1,-2h2m4,6h2m1,-1h2m1,-1h2m-1,-2h2m5,3h2m-1,-4h2m5,1h2m0,1h2m-1,2h2m2,1h2m-2,0h2m8,-5h2m0,-1h2m-1,4h2m4,-2h2m-2,-1h2m2,3h2m1,-2h2m-1,2h2m0,-3h2m-1,1h2m-1,0h2m-1,-2h2m-2,4h2m8,-1h2m6,1h2m0,-3h2m-2,3h2m2,0h2m-1,-3h2m-2,3h2m5,-2h2m-2,1h2m1,2h2m-2,-5h2m3,1h2m0,5h2m-1,0h2m5,-3h2m1,-3h2m0,5h2m0,-4h2m2,0h2m-2,1h2m1,-1h2m-2,0h2m-159,5h2m8,1h2m-1,-1h2m4,5h2m-2,0h2m0,0h2m4,-3h2m2,1h2m-1,3h2m1,-4h2m9,4h2m3,-2h2m-2,-2h2m0,2h2m0,-1h2m0,1h2m-1,1h2m-1,-2h2m0,2h2m5,-1h2m-1,-3h2m0,0h2m0,0h2m-1,0h2m-2,1h2m-2,3h2m-1,-3h2m2,3h2m-1,-3h2m-1,3h2m-1,-4h2m-1,1h2m3,1h2m-2,3h2m0,-6h2m4,2h2m-1,2h2m10,-1h2m-2,1h2m-2,-1h2m-1,1h2m-2,1h2m1,-4h2m-2,5h2m-1,0h2m-2,-3h2m-2,-1h2m0,2h2m-2,-1h2m-1,0h2m-1,0h2m3,-3h2m-2,6h2m0,-4h2m-1,2h2m-2,1h2m0,0h2m-2,-3h2m0,0h2m-1,0h2m-1,2h2m17,1h2m-1,-3h2m0,2h2m0,0h2m-2,-1h2m5,2h2m1,-3h2m-162,5h2m-2,2h2m2,0h2m2,-2h2m1,3h2m0,2h2m0,-2h2m1,0h2m1,-2h2m4,-2h2m-1,1h2m0,4h2m3,0h2m-2,-3h2m0,1h2m5,-2h2m-2,4h2m-1,0h2m-1,-4h2m1,2h2m2,1h2m4,0h2m4,-2h2m-2,-2h2m-1,1h2m0,0h2m-1,4h2m-2,-3h2m-1,3h2m2,-3h2m2,-1h2m-2,0h2m11,-1h2m7,3h2m-1,2h2m5,-4h2m0,1h2m-2,-1h2m-1,4h2m8,-3h2m-1,0h2m1,0h2m0,0h2m0,3h2m-1,-2h2m2,-1h2m-2,-1h2m5,-1h2m-1,3h2m1,0h2m-1,1h2m0,0h2m-2,1h2m15,-1h2m-180,2h2m4,4h2m2,-3h2m-1,3h2m-2,-1h2m-1,-1h2m6,0h2m1,2h2m-1,1h2m1,-4h2m-1,2h2m-2,2h2m-1,1h2m1,-4h2m-1,-2h2m-1,1h2m5,2h2m5,-2h2m3,0h2m-2,2h2m-1,3h2m-1,-6h2m1,1h2m3,1h2m9,0h2m-1,-1h2m0,3h2m1,1h2m0,1h2m1,0h2m-1,-5h2m-1,1h2m-1,2h2m0,-1h2m-2,2h2m-1,-5h2m1,1h2m3,4h2m2,-2h2m4,-2h2m1,2h2m2,2h2m-1,-2h2m0,1h2m7,-2h2m-2,2h2m-1,1h2m-2,-2h2m-2,2h2m4,0h2m-2,-4h2m0,4h2m0,-5h2m0,2h2m9,4h2m2,-4h2m3,3h2m6,-4h2m-155,7h2m0,3h2m8,-2h2m-1,1h2m1,-1h2m3,-1h2m0,0h2m-2,-1h2m6,0h2m-1,1h2m9,2h2m-1,-3h2m-1,-1h2m0,5h2m0,-2h2m0,-1h2m0,4h2m1,-3h2m-2,-2h2m1,1h2m1,2h2m2,-2h2m0,3h2m-2,-1h2m0,-3h2m-1,2h2m-1,2h2m0,-4h2m12,0h2m9,1h2m1,1h2m-2,0h2m4,1h2m0,-2h2m-1,2h2m11,-2h2m3,1h2m-2,-1h2m-1,3h2m5,-1h2m-1,0h2m2,-4h2m5,5h2m0,0h2m3,-3h2m14,0h2m-167,10h2m0,-5h2m1,4h2m5,-2h2m7,0h2m1,1h2m7,-1h2m4,2h2m2,-4h2m4,1h2m12,1h2m15,-1h2m8,1h2m17,0h2m3,2h2m3,-4h2m1,-1h2m-2,1h2m-148,8h2m10,-1h2m3,0h2m10,1h2m-1,-2h2m3,-1h2m8,5h2m-2,-4h2m-1,2h2m-1,1h2m1,-1h2m4,-3h2m9,2h2m8,-1h2m-2,4h2m3,-1h2m13,1h2m0,0h2m1,0h2m4,-2h2m1,3h2m1,-3h2m3,0h2m9,-1h2m-131,6h2m6,3h2m65,-4h2m0,0h2m44,1h2m5,2h2m-2,-2h2m4,3h2m-149,4h2m37,-2h2m27,-1h2m6,1h2m24,0h2m24,3h2m16,-1h2m-137,3h2m22,2h2m3,2h2m107,-2h2m3,1h2m-147,6h2m136,2h2m14,1h2m14,0h2m-175,4h2m11,2h2m41,-3h2m58,-2h2m15,4h2m-130,2h2m44,5h2m-1,-2h2m48,-1h2m55,0h2m-34,4h2m38,1h2m-115,8h2m-78,7h2m14,0h2m162,1h2m-218,2h2m5,3h2m167,-2h2m-174,7h2m-1,-1h2m1,9h2m12,-4h2m4,4h2m49,-4h2m117,-2h2m12,1h2m2,2h2m-216,6h2m90,2h2m37,1h2m-156,3h2m56,-1h2m17,-1h2m-1,2h2m87,0h2m30,2h2m45,1h2m-120,5h2m56,-2h2m-205,8h2m19,-2h2m23,0h2m76,-1h2m-119,6h2m1,1h2m-1,1h2m58,1h2m35,1h2m15,-1h2m1,-4h2m38,4h2m-158,6h2m101,-1h2m84,2h2m8,-6h2m-206,11h2m1,0h2m14,-2h2m6,-1h2m12,-2h2m5,5h2m-2,-2h2m31,3h2m52,-3h2m89,0h2m-237,8h2m124,-1h2m-128,4h2m115,-1h2m57,3h2m41,1h2m-215,5h2m89,-2h2m83,2h2m80,1h2m-262,5h2m139,-1h2m251,0h2m10,2h2m0,-2h2m63,2h2m-477,6h2m-2,-5h2m30,4h2m20,-1h2m20,0h2m93,-2h2m229,0h2m2,4h2m0,-2h2m16,-1h2m27,2h2m26,1h2m0,0h2m23,-5h2m15,5h2m32,-1h2m4,2h2m5,-1h2m-422,3h2m4,2h2m228,-2h2m13,1h2m0,2h2m-2,-3h2m-2,2h2m1,-1h2m0,-1h2m-1,2h2m-1,-1h2m10,-1h2m15,1h2m18,0h2m4,-1h2m19,3h2m16,-3h2m3,-1h2m17,2h2m1,3h2m-1,-2h2m4,-1h2m4,-3h2m4,3h2m11,3h2m9,-1h2m2,-2h2m3,3h2m8,0h2m-1,-3h2m1,-3h2m-564,12h2m44,-5h2m130,5h2m20,-5h2m161,0h2m3,3h2m1,2h2m0,-3h2m-2,0h2m-1,-1h2m3,0h2m2,1h2m-2,-2h2m7,0h2m3,3h2m-1,-4h2m-2,4h2m-2,0h2m-2,0h2m-1,-3h2m0,4h2m1,0h2m5,-2h2m5,1h2m2,0h2m-1,0h2m2,-4h2m29,2h2m3,2h2m15,-3h2m11,1h2m9,3h2m12,-4h2m11,3h2m0,-1h2m5,-3h2m4,5h2m2,-5h2m-592,12h2m0,-4h2m33,-2h2m9,3h2m74,-1h2m3,-1h2m291,0h2m5,4h2m-2,-1h2m4,1h2m-1,-3h2m1,1h2m14,-2h2m11,5h2m7,-1h2m6,0h2m-1,0h2m-1,-5h2m9,4h2m1,-3h2m41,1h2m-1,-1h2m9,0h2m1,1h2m2,-1h2m2,2h2m-1,2h2m-1,-3h2m1,1h2m3,-3h2m0,2h2m2,0h2m-1,0h2m-2,4h2m5,-1h2m-587,4h2m-1,0h2m81,-2h2m53,0h2m4,0h2m35,0h2m38,4h2m18,-1h2m174,1h2m9,-2h2m4,0h2m7,2h2m-1,0h2m4,-2h2m41,0h2m9,2h2m12,-3h2m8,1h2m15,2h2m10,-3h2m8,0h2m2,2h2m-1,-1h2m6,2h2m-588,7h2m4,-5h2m5,4h2m1,-1h2m20,-4h2m32,1h2m5,2h2m24,2h2m12,0h2m34,-2h2m1,1h2m53,-2h2m8,1h2m12,0h2m8,-2h2m2,4h2m28,-4h2m17,5h2m110,-6h2m31,2h2m1,2h2m10,-3h2m81,2h2m17,-2h2m5,1h2m-1,-2h2m6,5h2m7,-4h2m4,0h2m-1,0h2m91,3h2m-683,7h2m13,-1h2m-2,0h2m9,1h2m5,-3h2m42,1h2m5,0h2m-2,-1h2m16,1h2m0,0h2m15,-2h2m3,3h2m-1,1h2m0,0h2m-1,1h2m35,-5h2m-1,0h2m5,2h2m-2,-3h2m14,2h2m3,0h2m3,0h2m1,1h2m5,-3h2m16,4h2m8,0h2m12,-2h2m5,3h2m17,-2h2m269,-2h2m128,0h2m-674,9h2m-1,0h2m8,1h2m1,-4h2m1,3h2m14,-1h2m5,-3h2m0,4h2m10,-1h2m2,0h2m9,2h2m2,-2h2m-1,2h2m5,0h2m-1,0h2m4,0h2m0,0h2m4,-2h2m2,1h2m6,-3h2m3,1h2m9,1h2m-1,2h2m1,-2h2m7,0h2m5,-1h2m10,4h2m27,-2h2m-1,-3h2m17,2h2m1,-1h2m18,2h2m11,1h2m2,-2h2m6,-2h2m2,4h2m25,-1h2m-290,3h2m1,3h2m11,-3h2m7,4h2m-1,-3h2m12,3h2m7,-3h2m-2,3h2m0,-5h2m3,4h2m1,-2h2m14,1h2m7,0h2m3,0h2m3,-3h2m0,0h2m2,0h2m-1,1h2m4,0h2m1,4h2m7,0h2m2,0h2m-1,0h2m1,1h2m-1,-5h2m3,2h2m3,-1h2m1,2h2m9,1h2m2,0h2m3,-3h2m1,2h2m8,-2h2m6,0h2m7,1h2m0,2h2m-1,0h2m0,-4h2m-1,5h2m5,-1h2m-1,-2h2m-2,-3h2m4,5h2m0,0h2m-1,1h2m0,-4h2m22,-2h2m-1,4h2m-2,0h2m-1,1h2m15,-4h2m12,0h2m0,0h2m2,1h2m-1,-1h2m-266,5h2m3,3h2m2,3h2m-1,-1h2m8,0h2m3,-4h2m1,3h2m3,0h2m-1,-4h2m7,1h2m2,2h2m1,2h2m-1,-4h2m16,0h2m-1,0h2m-1,4h2m-1,-5h2m-1,2h2m9,-1h2m-1,5h2m1,-4h2m2,-1h2m-1,0h2m1,4h2m0,0h2m1,-2h2m8,2h2m1,-3h2m-1,2h2m1,-4h2m-1,5h2m-1,-5h2m5,0h2m6,1h2m0,4h2m0,-4h2m0,4h2m0,-1h2m-2,2h2m-1,-5h2m-2,3h2m-1,-3h2m-2,0h2m-1,3h2m-1,-2h2m4,-1h2m6,1h2m1,2h2m1,2h2m-2,-2h2m3,0h2m0,1h2m10,-4h2m1,1h2m8,0h2m0,-1h2m10,5h2m5,-4h2m4,-2h2m-2,1h2m-1,4h2m0,-2h2m2,1h2m-2,-1h2m2,2h2m0,0h2m0,0h2m7,-2h2m4,0h2m6,2h2m27,-4h2m11,4h2m1,-1h2m-309,4h2m1,0h2m11,1h2m7,-3h2m-2,0h2m0,1h2m10,5h2m7,-3h2m-1,1h2m0,-4h2m0,5h2m-2,-5h2m9,3h2m1,1h2m-2,2h2m-1,-3h2m1,-1h2m0,-1h2m1,-1h2m-1,2h2m4,-2h2m6,5h2m-2,-3h2m5,1h2m-1,2h2m-2,-3h2m1,3h2m3,-2h2m3,2h2m1,0h2m-1,-5h2m3,6h2m2,-5h2m10,2h2m0,1h2m5,-1h2m0,0h2m0,-2h2m-1,1h2m0,0h2m1,2h2m-1,-2h2m1,3h2m-1,-2h2m3,-2h2m-2,0h2m0,4h2m-1,0h2m-2,-1h2m5,-1h2m-1,1h2m2,-2h2m1,3h2m-2,-1h2m6,-1h2m2,-2h2m4,0h2m-1,1h2m1,-1h2m-2,3h2m1,0h2m-1,-2h2m2,2h2m-2,-3h2m1,0h2m1,2h2m10,2h2m3,-1h2m3,-1h2m2,0h2m-1,0h2m-2,1h2m0,-1h2m1,2h2m2,-3h2m1,2h2m1,2h2m0,-3h2m0,-2h2m4,-1h2m8,1h2m2,1h2m3,-2h2m-293,8h2m24,-1h2m-1,3h2m2,-1h2m0,2h2m-1,-3h2m4,2h2m9,-1h2m1,0h2m5,1h2m-1,1h2m2,-3h2m-1,0h2m-1,-1h2m-1,2h2m0,1h2m-1,-2h2m4,-1h2m2,-1h2m-2,3h2m5,0h2m-2,1h2m10,1h2m0,-2h2m1,-2h2m3,4h2m0,-2h2m-1,-2h2m-1,2h2m3,1h2m-2,-2h2m-2,1h2m2,0h2m0,1h2m-2,-1h2m1,2h2m-1,1h2m-1,-5h2m0,0h2m0,0h2m5,1h2m-2,0h2m2,0h2m3,-1h2m-2,-1h2m-1,6h2m13,-1h2m0,-1h2m-1,-1h2m4,3h2m-2,-1h2m2,1h2m-1,-3h2m-2,3h2m-2,-2h2m-1,2h2m2,-5h2m-2,3h2m-1,0h2m-1,-3h2m2,3h2m3,1h2m2,-2h2m1,0h2m-2,1h2m8,-2h2m0,0h2m-1,1h2m7,1h2m-2,-3h2m2,1h2m11,1h2m2,-2h2m0,0h2m-1,1h2m1,3h2m9,0h2m-2,-2h2m-2,0h2m6,2h2m-2,-1h2m17,2h2m4,-1h2m1,-1h2m8,0h2m353,-2h2m2,1h2m4,-1h2m-661,5h2m4,1h2m-2,3h2m8,-1h2m-2,2h2m3,-4h2m3,1h2m0,1h2m-2,-2h2m1,-1h2m7,3h2m1,0h2m-1,-3h2m-1,1h2m-1,0h2m2,2h2m1,-4h2m-1,1h2m-1,0h2m-1,5h2m1,-3h2m-1,-2h2m3,1h2m-2,2h2m6,-4h2m-2,1h2m-1,4h2m1,0h2m6,-5h2m-1,2h2m2,1h2m-2,-2h2m-1,0h2m0,5h2m1,-2h2m7,0h2m-2,-4h2m6,4h2m2,0h2m-1,-3h2m-1,4h2m-1,-4h2m3,1h2m-1,1h2m0,-2h2m1,1h2m2,2h2m10,-2h2m-1,-1h2m0,0h2m0,3h2m0,-1h2m1,0h2m0,2h2m-1,1h2m-1,-4h2m-1,3h2m3,0h2m1,0h2m-2,-1h2m1,1h2m2,-5h2m3,5h2m-2,1h2m0,-6h2m2,6h2m-1,-2h2m0,1h2m6,0h2m0,0h2m-1,-4h2m0,4h2m-1,-1h2m8,1h2m-1,-4h2m2,4h2m0,0h2m0,0h2m-2,-4h2m1,1h2m4,0h2m3,2h2m0,-1h2m1,2h2m3,-3h2m-2,-2h2m-2,1h2m0,4h2m-1,-4h2m1,0h2m-2,2h2m1,2h2m-1,-4h2m2,1h2m0,-2h2m-2,3h2m0,2h2m-264,3h2m8,2h2m8,-3h2m-1,5h2m6,-2h2m-1,0h2m-1,1h2m1,-3h2m2,0h2m3,3h2m-2,0h2m10,-1h2m6,-1h2m-2,2h2m0,-2h2m1,0h2m-1,-1h2m2,1h2m0,1h2m-2,0h2m4,-1h2m1,0h2m0,-1h2m3,0h2m0,0h2m4,1h2m0,-1h2m1,1h2m0,3h2m3,-5h2m-1,2h2m1,3h2m-1,-4h2m-1,1h2m-1,0h2m0,3h2m0,-2h2m1,-3h2m1,5h2m-1,-5h2m2,1h2m-2,0h2m-2,0h2m-1,1h2m4,1h2m1,-1h2m-2,-2h2m0,4h2m1,-4h2m0,1h2m2,0h2m2,2h2m-2,0h2m9,-2h2m-1,1h2m6,0h2m-1,-1h2m0,-1h2m7,1h2m0,3h2m0,-2h2m1,-1h2m0,0h2m-2,0h2m0,2h2m-1,1h2m-1,-1h2m0,-4h2m-2,1h2m-1,-1h2m3,5h2m-1,-4h2m-2,2h2m-1,-2h2m1,1h2m14,-1h2m5,-1h2m1,6h2m-1,-1h2m0,0h2m-2,-1h2m3,2h2m-1,-5h2m4,5h2m1,-5h2m0,3h2m-1,1h2m-230,3h2m3,3h2m1,-3h2m7,4h2m4,-2h2m-1,1h2m-1,-2h2m4,0h2m6,-1h2m-1,3h2m-2,0h2m0,0h2m2,0h2m1,-4h2m0,5h2m-1,0h2m-1,-4h2m0,1h2m0,0h2m0,2h2m4,-4h2m1,4h2m1,0h2m-2,-2h2m-1,1h2m-1,-4h2m0,4h2m3,-1h2m1,-1h2m3,2h2m0,-2h2m0,0h2m0,2h2m-1,2h2m-1,0h2m-2,-6h2m-1,1h2m4,1h2m1,3h2m0,-1h2m-2,-3h2m1,1h2m-2,2h2m4,-4h2m-1,4h2m5,0h2m7,-3h2m4,1h2m5,1h2m0,0h2m-1,-1h2m0,0h2m-1,3h2m-2,-1h2m1,-3h2m3,4h2m-1,-3h2m-1,-1h2m-1,3h2m1,0h2m-2,1h2m9,-4h2m7,2h2m-2,1h2m0,1h2m3,-3h2m0,0h2m-1,2h2m-1,-1h2m2,1h2m-2,-3h2m3,0h2m0,1h2m13,0h2m-1,4h2m-2,0h2m6,-3h2m-228,8h2m20,-3h2m-2,3h2m4,-1h2m8,-3h2m0,5h2m4,-2h2m0,0h2m8,1h2m14,-2h2m-1,-1h2m6,-1h2m13,2h2m7,2h2m12,-2h2m3,0h2m0,-2h2m1,2h2m6,0h2m4,-2h2m1,2h2m2,-2h2m5,2h2m-2,-1h2m9,3h2m-1,1h2m13,-4h2m16,4h2m-187,2h2m0,3h2m27,-4h2m6,4h2m10,-1h2m2,-1h2m-1,-2h2m1,4h2m-1,-4h2m-2,2h2m3,-2h2m0,3h2m0,-2h2m-2,4h2m0,-5h2m0,1h2m11,2h2m7,0h2m-2,-1h2m2,-2h2m8,3h2m2,0h2m2,0h2m-1,1h2m-2,-4h2m1,2h2m2,-2h2m2,3h2m1,0h2m0,2h2m1,-5h2m0,0h2m2,4h2m10,-5h2m6,1h2m7,3h2m-1,-2h2m-2,2h2m6,-3h2m5,0h2m-185,5h2m30,2h2m3,1h2m3,0h2m22,-1h2m-2,-2h2m2,5h2m9,0h2m8,-2h2m20,-2h2m2,0h2m0,1h2m10,0h2m6,3h2m26,1h2m-137,4h2m28,-2h2m3,3h2m33,-2h2m1,0h2m9,0h2m37,1h2m-73,5h2m42,4h2m-25,5h2m437,107h2m0,0h2m2,-4h2m5,7h2"/><path stroke="#ff1a14" d="M2051,470h2m58,1h2m-6,6h2m63,1h2m1,4h2m-1,1h2m-1,-3h2m3,0h2m-181,5h2m104,3h2m10,0h2m18,0h2m31,0h2m-160,6h2m4,-1h2m22,2h2m1,-2h2m-1,-1h2m6,-1h2m11,-2h2m59,2h2m4,4h2m0,-6h2m16,4h2m18,0h2m0,-1h2m1,3h2m-1,-2h2m-130,4h2m5,3h2m9,-3h2m6,3h2m23,-1h2m35,-1h2m9,3h2m-1,-2h2m7,-2h2m-1,0h2m1,3h2m-1,-3h2m-2,1h2m0,2h2m8,-4h2m-1,3h2m-186,5h2m3,-2h2m14,-1h2m15,4h2m5,-2h2m0,1h2m-2,0h2m3,2h2m5,-4h2m0,5h2m-1,-4h2m-2,-1h2m9,4h2m14,0h2m7,-2h2m14,0h2m16,1h2m0,-1h2m0,3h2m9,-2h2m7,0h2m4,-1h2m-1,2h2m0,1h2m4,-5h2m7,4h2m5,1h2m-1,-1h2m4,0h2m-219,2h2m13,2h2m8,1h2m7,0h2m6,-3h2m7,3h2m1,-1h2m-1,3h2m3,-4h2m-1,1h2m2,2h2m1,1h2m5,0h2m-1,-2h2m1,2h2m1,-5h2m5,1h2m0,3h2m0,-5h2m4,1h2m0,4h2m0,-2h2m-1,2h2m2,0h2m1,-2h2m-2,-1h2m-1,-1h2m1,4h2m8,-1h2m6,1h2m2,-2h2m-2,-1h2m0,4h2m5,-5h2m10,4h2m-1,0h2m9,0h2m7,-1h2m6,-3h2m-1,2h2m-1,2h2m0,-1h2m3,-1h2m-2,2h2m-1,-3h2m0,4h2m-2,-2h2m0,-3h2m0,3h2m1,-1h2m-1,2h2m-2,-2h2m3,-2h2m-2,3h2m0,-1h2m-227,5h2m5,-1h2m4,0h2m21,4h2m3,-4h2m6,5h2m1,-6h2m2,4h2m2,0h2m0,-2h2m8,4h2m9,-3h2m0,1h2m-1,-3h2m-1,0h2m1,4h2m2,-3h2m3,2h2m3,2h2m-2,-2h2m4,2h2m0,-5h2m0,3h2m0,-3h2m-2,4h2m20,-3h2m7,0h2m-1,0h2m6,2h2m-2,-1h2m-1,2h2m3,-3h2m1,2h2m8,-4h2m2,5h2m3,0h2m-2,-1h2m1,1h2m0,-3h2m-1,2h2m3,-2h2m0,3h2m2,-2h2m2,0h2m-2,1h2m-1,1h2m0,-4h2m6,2h2m-2,0h2m-2,2h2m-1,-3h2m-2,-1h2m4,1h2m-231,10h2m12,-5h2m-1,2h2m0,-1h2m-2,3h2m4,0h2m-2,-1h2m1,0h2m0,2h2m-1,-2h2m6,0h2m-2,0h2m6,2h2m0,-5h2m2,4h2m1,1h2m0,-3h2m-1,-3h2m-2,5h2m-1,-3h2m3,4h2m-1,-2h2m8,-2h2m1,1h2m0,0h2m0,0h2m-1,-3h2m0,3h2m0,-2h2m0,3h2m1,0h2m-2,0h2m2,-3h2m0,1h2m5,0h2m2,0h2m-2,2h2m2,-1h2m4,-2h2m4,0h2m-1,2h2m1,-3h2m-2,4h2m4,1h2m2,-3h2m8,-2h2m-1,5h2m-1,-1h2m-1,1h2m7,-2h2m0,-1h2m-2,4h2m0,-5h2m2,2h2m-1,-1h2m-2,0h2m22,0h2m-1,1h2m5,2h2m-2,-4h2m1,3h2m1,-3h2m2,4h2m5,0h2m0,-2h2m8,3h2m-227,6h2m6,-3h2m9,3h2m2,0h2m10,-2h2m0,0h2m2,1h2m7,-2h2m1,0h2m-2,-3h2m6,6h2m0,-4h2m4,1h2m0,-2h2m-1,3h2m-1,1h2m5,-3h2m-1,3h2m4,1h2m2,-6h2m0,3h2m1,3h2m0,-3h2m3,-2h2m2,-1h2m-1,6h2m-1,-6h2m1,5h2m0,-2h2m0,0h2m0,2h2m3,-4h2m1,3h2m-1,-4h2m-2,3h2m-2,0h2m-1,-2h2m-1,1h2m-2,1h2m-1,-2h2m5,0h2m0,3h2m2,0h2m1,-3h2m-1,4h2m2,-2h2m19,-2h2m6,5h2m-2,-2h2m16,-2h2m-2,3h2m4,-3h2m-1,0h2m-2,-2h2m-1,1h2m-1,5h2m0,-4h2m13,0h2m6,0h2m-227,8h2m15,-2h2m2,-1h2m1,3h2m8,-4h2m0,3h2m-1,-1h2m-2,1h2m5,-3h2m2,6h2m-1,-3h2m6,1h2m5,1h2m-2,0h2m2,0h2m2,1h2m3,-2h2m12,-2h2m0,1h2m6,2h2m2,-2h2m4,1h2m13,0h2m4,1h2m5,0h2m0,-2h2m0,0h2m4,2h2m2,-4h2m5,5h2m4,-1h2m-2,-4h2m5,1h2m2,-2h2m16,3h2m-1,-1h2m1,2h2m1,-2h2m-2,-1h2m-2,2h2m4,1h2m-1,-2h2m-1,2h2m1,0h2m8,-1h2m-1,1h2m-1,-2h2m-245,8h2m5,-4h2m0,4h2m9,0h2m7,2h2m0,-1h2m-1,1h2m0,-6h2m-1,0h2m0,2h2m1,4h2m-2,-4h2m0,4h2m13,-6h2m-1,2h2m3,0h2m7,-2h2m-2,4h2m0,0h2m0,0h2m5,-2h2m0,0h2m-1,-1h2m6,4h2m1,0h2m8,-4h2m2,4h2m-2,-1h2m1,-2h2m1,0h2m1,0h2m4,1h2m5,-1h2m2,0h2m-2,4h2m3,-5h2m-1,2h2m-1,-1h2m0,4h2m-1,0h2m3,-3h2m1,1h2m-1,0h2m-1,-3h2m2,3h2m-2,-4h2m0,1h2m12,-1h2m4,4h2m4,2h2m1,0h2m-2,-1h2m-2,-2h2m6,-2h2m-1,0h2m3,4h2m-1,-3h2m-1,1h2m2,-1h2m-1,1h2m0,1h2m3,-2h2m0,1h2m2,1h2m-2,-3h2m0,3h2m15,1h2m-230,4h2m-1,0h2m5,3h2m-2,-3h2m1,-2h2m-1,0h2m-2,2h2m-1,-2h2m1,5h2m2,-4h2m-2,2h2m-1,0h2m0,-2h2m2,-1h2m-2,-1h2m5,1h2m-1,-1h2m4,5h2m-2,-2h2m-2,-3h2m7,4h2m-1,-3h2m-1,2h2m5,-1h2m-1,1h2m2,-2h2m-1,1h2m0,2h2m-1,-3h2m0,5h2m3,-1h2m-2,-5h2m-1,5h2m-2,0h2m0,-1h2m-2,-1h2m5,-3h2m10,3h2m0,1h2m3,-4h2m0,4h2m4,0h2m-1,1h2m-2,-1h2m0,-1h2m2,-3h2m-1,0h2m0,2h2m1,4h2m1,-1h2m2,-4h2m1,3h2m3,1h2m0,-4h2m-1,0h2m-1,4h2m0,-4h2m-2,4h2m-1,-2h2m-1,2h2m-1,-2h2m-1,-2h2m0,4h2m-2,-4h2m4,2h2m1,0h2m0,1h2m1,1h2m7,-4h2m-1,-1h2m-1,4h2m4,0h2m5,1h2m3,-4h2m6,1h2m-1,1h2m5,2h2m-2,-3h2m-1,0h2m4,-1h2m-244,9h2m9,0h2m-2,2h2m6,-5h2m1,2h2m-2,0h2m0,2h2m3,0h2m7,1h2m0,-3h2m-2,-1h2m7,-1h2m1,1h2m-1,3h2m-2,0h2m0,-2h2m1,-3h2m3,4h2m0,-3h2m-2,-1h2m0,5h2m-2,0h2m-2,-5h2m1,6h2m-1,-2h2m-1,0h2m-1,0h2m4,1h2m3,0h2m2,-1h2m4,-3h2m-1,-1h2m1,6h2m-2,-5h2m4,5h2m0,-5h2m-1,-1h2m-2,4h2m4,-4h2m-1,0h2m6,6h2m24,-6h2m-1,5h2m10,0h2m7,-1h2m-1,1h2m-1,1h2m3,-1h2m3,1h2m-1,-3h2m4,0h2m0,2h2m0,-3h2m7,-2h2m4,4h2m6,-1h2m-1,1h2m-1,1h2m-2,0h2m-1,-2h2m15,1h2m1,-2h2m2,3h2m3,-2h2m17,0h2m-272,7h2m1,-2h2m-2,0h2m9,0h2m1,1h2m1,-2h2m4,5h2m7,-2h2m-1,1h2m0,0h2m-2,-3h2m2,-1h2m-2,5h2m1,-6h2m0,3h2m1,2h2m7,-5h2m-1,4h2m-2,0h2m0,-3h2m4,3h2m-1,1h2m-2,-1h2m2,-4h2m2,2h2m4,-2h2m-1,2h2m-2,3h2m-1,-4h2m4,5h2m-1,-1h2m-2,-4h2m-1,1h2m6,-1h2m8,0h2m4,-1h2m0,0h2m4,2h2m1,0h2m3,-1h2m12,5h2m-2,-4h2m3,2h2m3,-1h2m6,1h2m10,-3h2m2,3h2m-2,-4h2m0,0h2m-1,3h2m2,-2h2m19,3h2m-1,-1h2m1,0h2m2,0h2m2,0h2m-1,-1h2m-1,1h2m4,-2h2m3,0h2m-2,2h2m1,1h2m1,-3h2m3,0h2m1,1h2m-259,5h2m2,0h2m5,2h2m8,0h2m0,-2h2m7,4h2m1,-4h2m9,1h2m-1,0h2m1,-1h2m5,-1h2m4,3h2m0,0h2m-1,1h2m11,0h2m10,-1h2m-1,0h2m1,-3h2m0,2h2m3,2h2m3,-1h2m-1,3h2m-1,-1h2m3,1h2m-1,-2h2m1,1h2m4,-4h2m-2,1h2m4,4h2m-1,0h2m2,-2h2m0,-2h2m-1,2h2m6,-2h2m0,-1h2m2,4h2m1,1h2m-2,-3h2m0,-1h2m-1,1h2m4,-2h2m2,-1h2m2,1h2m1,4h2m5,0h2m1,0h2m6,0h2m6,-1h2m1,-4h2m-1,0h2m-1,2h2m-2,1h2m0,0h2m4,-1h2m9,3h2m-1,-1h2m2,-4h2m-1,1h2m7,1h2m2,1h2m13,-2h2m9,0h2m-273,7h2m0,3h2m4,-5h2m0,1h2m9,1h2m4,-2h2m9,2h2m8,4h2m3,-1h2m0,-4h2m2,1h2m-2,2h2m2,-1h2m3,1h2m-1,-1h2m3,-3h2m11,3h2m6,1h2m-1,-1h2m-1,0h2m1,1h2m1,0h2m-1,2h2m-2,-3h2m-1,-2h2m-2,-1h2m3,3h2m2,-1h2m0,0h2m2,0h2m0,0h2m4,0h2m4,1h2m2,-2h2m0,2h2m-1,0h2m4,-2h2m6,1h2m0,4h2m6,-5h2m-1,2h2m-1,1h2m-1,0h2m1,1h2m1,-4h2m2,2h2m-1,-3h2m-1,6h2m8,-6h2m0,3h2m-2,2h2m0,-3h2m-2,2h2m-1,-3h2m15,-1h2m3,4h2m-1,1h2m0,-3h2m-1,3h2m3,-2h2m-1,0h2m-1,-1h2m1,2h2m-1,-1h2m-1,-1h2m-1,-1h2m3,2h2m-2,-3h2m0,6h2m-2,-4h2m-1,0h2m-1,-2h2m0,4h2m6,1h2m3,-4h2m5,3h2m4,-2h2m-271,8h2m4,0h2m1,-4h2m-1,0h2m8,5h2m-1,1h2m5,-6h2m6,4h2m5,-3h2m-2,2h2m-2,-1h2m0,3h2m6,-3h2m2,0h2m1,0h2m-1,2h2m-2,-3h2m1,2h2m-1,3h2m7,-3h2m0,2h2m-2,1h2m2,-2h2m0,2h2m1,-4h2m-2,-2h2m6,3h2m4,-1h2m2,0h2m-1,1h2m0,-1h2m6,0h2m1,1h2m-1,1h2m4,0h2m6,2h2m0,-1h2m1,-4h2m8,0h2m-1,1h2m4,0h2m2,1h2m11,1h2m1,-2h2m6,-2h2m0,2h2m-1,0h2m3,1h2m6,3h2m-2,-5h2m4,4h2m7,1h2m-1,-1h2m7,-2h2m7,-2h2m0,5h2m0,-1h2m-1,-2h2m0,1h2m2,-2h2m-1,0h2m6,3h2m-1,0h2m1,0h2m0,0h2m9,0h2m-291,5h2m8,0h2m11,-3h2m5,2h2m0,-1h2m-2,-1h2m0,1h2m5,2h2m-2,-2h2m-1,-1h2m0,0h2m0,3h2m4,0h2m5,-3h2m4,4h2m2,-2h2m0,0h2m0,2h2m-1,-2h2m10,0h2m12,-2h2m2,0h2m-2,0h2m-1,-1h2m4,5h2m0,-1h2m-2,-3h2m4,0h2m-1,0h2m5,2h2m0,3h2m5,-3h2m-1,0h2m2,3h2m9,-1h2m6,0h2m-1,-1h2m1,0h2m3,1h2m1,-2h2m5,3h2m2,-2h2m-2,0h2m13,-1h2m0,-3h2m2,4h2m-1,-3h2m7,1h2m0,0h2m-1,1h2m11,2h2m-2,0h2m2,-4h2m1,2h2m7,-2h2m5,4h2m-1,0h2m1,-4h2m-1,3h2m-1,2h2m-1,-4h2m5,-1h2m-1,0h2m-1,2h2m0,-2h2m16,5h2m218,0h2m-519,3h2m6,-2h2m9,2h2m-1,3h2m-1,0h2m-2,-5h2m0,1h2m6,2h2m7,-2h2m0,1h2m10,-2h2m-1,5h2m2,-5h2m4,0h2m-1,1h2m5,2h2m3,0h2m-1,1h2m-2,0h2m-2,-5h2m4,4h2m8,-1h2m1,2h2m10,-1h2m10,0h2m6,0h2m-1,0h2m-1,-1h2m0,0h2m3,-2h2m1,4h2m4,-5h2m-1,1h2m-1,2h2m8,2h2m2,-3h2m8,1h2m4,-2h2m4,3h2m1,1h2m12,-1h2m0,-3h2m2,2h2m2,-2h2m-1,4h2m0,-5h2m-2,2h2m2,-1h2m-1,1h2m-2,0h2m2,0h2m1,4h2m13,-5h2m3,4h2m1,-1h2m2,-3h2m-1,2h2m2,0h2m0,3h2m-1,-1h2m3,1h2m5,-1h2m-1,-1h2m179,2h2m20,-3h2m12,2h2m20,1h2m-2,-3h2m8,3h2m-530,4h2m13,1h2m-1,-3h2m17,-2h2m-1,6h2m-1,-1h2m1,-1h2m7,-1h2m-2,2h2m0,-5h2m6,1h2m3,4h2m4,-4h2m11,-1h2m4,3h2m3,2h2m1,-5h2m2,3h2m2,-2h2m0,0h2m2,4h2m10,-5h2m22,5h2m5,-2h2m6,-2h2m3,0h2m8,0h2m5,-1h2m-1,5h2m-1,-1h2m3,-4h2m7,3h2m-2,1h2m4,0h2m1,-1h2m5,2h2m3,0h2m10,0h2m2,1h2m0,-5h2m0,-1h2m3,0h2m0,3h2m0,1h2m5,-3h2m7,-1h2m0,3h2m2,0h2m2,2h2m1,0h2m4,-3h2m12,1h2m-1,-2h2m139,3h2m-439,2h2m1,2h2m1,0h2m3,2h2m0,0h2m6,-2h2m-1,1h2m0,0h2m3,-2h2m5,4h2m-2,1h2m-1,-3h2m1,0h2m-2,-2h2m-1,5h2m-2,-3h2m2,3h2m0,-4h2m0,4h2m-2,-2h2m3,0h2m10,-2h2m5,3h2m2,-3h2m12,0h2m-1,3h2m2,-4h2m6,1h2m2,2h2m7,1h2m-1,-4h2m-2,2h2m-1,1h2m7,0h2m9,-2h2m-2,1h2m0,-1h2m-1,-1h2m-2,2h2m-1,0h2m-2,2h2m4,1h2m-1,-3h2m-1,-2h2m5,0h2m3,1h2m7,2h2m1,-3h2m-1,0h2m3,4h2m6,1h2m1,0h2m4,-4h2m-1,1h2m1,-1h2m10,4h2m-1,0h2m2,-5h2m10,0h2m2,4h2m0,0h2m1,-4h2m5,0h2m-1,1h2m0,3h2m-2,-1h2m7,-3h2m-1,1h2m-1,2h2m-1,0h2m1,1h2m1,0h2m-1,-1h2m5,2h2m-2,-4h2m4,0h2m9,-1h2m9,3h2m153,-3h2m1,0h2m20,2h2m18,1h2m-512,5h2m-1,2h2m2,0h2m3,-5h2m-2,1h2m1,2h2m4,2h2m12,0h2m0,0h2m3,1h2m15,-1h2m0,-3h2m4,-2h2m3,5h2m1,-4h2m-2,-1h2m7,0h2m-1,2h2m0,-1h2m2,2h2m-2,-2h2m4,3h2m2,-1h2m-1,2h2m-1,-5h2m3,6h2m4,-2h2m0,-1h2m-1,-1h2m0,0h2m-1,0h2m-1,0h2m-1,3h2m2,0h2m0,-5h2m2,6h2m-2,-1h2m3,-1h2m3,-2h2m-1,0h2m-1,3h2m6,-1h2m15,2h2m10,-5h2m4,2h2m3,-1h2m11,0h2m-2,0h2m3,-1h2m8,1h2m13,4h2m-1,-4h2m4,1h2m-1,-1h2m5,-2h2m0,3h2m4,-3h2m-1,2h2m3,1h2m0,-3h2m2,1h2m1,5h2m6,-4h2m0,0h2m2,1h2m6,-2h2m-1,2h2m187,0h2m13,1h2m38,-1h2m16,1h2m-566,7h2m9,-2h2m14,1h2m3,2h2m0,-5h2m0,3h2m4,2h2m-2,0h2m-1,-3h2m-2,2h2m3,-4h2m3,3h2m-1,2h2m-1,-4h2m-1,1h2m3,-2h2m0,5h2m12,-3h2m-1,3h2m5,-5h2m3,3h2m0,-2h2m1,-2h2m-1,4h2m1,-1h2m2,-2h2m3,3h2m0,1h2m-2,0h2m4,0h2m0,-1h2m-1,-1h2m10,1h2m5,0h2m-1,-2h2m2,3h2m0,-3h2m12,1h2m-1,2h2m-1,-3h2m0,-1h2m1,0h2m1,4h2m-1,-3h2m-2,3h2m2,-1h2m1,0h2m1,0h2m2,2h2m-2,-3h2m10,2h2m1,1h2m5,-1h2m-2,-4h2m2,5h2m0,-4h2m8,-1h2m-1,3h2m-2,-1h2m2,1h2m1,0h2m1,1h2m4,-5h2m2,2h2m2,2h2m11,1h2m-2,-4h2m0,4h2m2,-5h2m-2,6h2m2,-6h2m6,4h2m-2,1h2m2,0h2m0,1h2m2,-1h2m1,0h2m11,0h2m8,1h2m139,-3h2m0,2h2m19,0h2m4,0h2m-1,0h2m14,-4h2m9,3h2m14,0h2m2,2h2m12,-1h2m4,-3h2m-551,7h2m7,-1h2m0,-1h2m1,2h2m-1,0h2m0,0h2m1,-1h2m1,0h2m2,-2h2m-1,4h2m-1,-3h2m-1,4h2m-2,-4h2m18,1h2m7,3h2m1,-3h2m1,4h2m1,-3h2m4,-3h2m6,2h2m3,3h2m-1,-4h2m4,5h2m0,-3h2m10,-1h2m-1,-1h2m4,5h2m7,-5h2m-1,0h2m3,1h2m1,3h2m1,-1h2m8,-2h2m-1,3h2m0,0h2m3,-4h2m6,3h2m3,-2h2m3,2h2m3,2h2m0,-5h2m13,4h2m-1,-1h2m3,-1h2m2,1h2m-1,-4h2m-1,2h2m-2,-1h2m2,1h2m3,0h2m1,3h2m2,-1h2m1,0h2m6,-1h2m0,-3h2m0,4h2m1,2h2m0,-4h2m1,2h2m4,0h2m-1,-1h2m6,-1h2m3,3h2m0,-2h2m2,2h2m-1,-2h2m1,3h2m-2,-1h2m3,-1h2m2,-1h2m7,3h2m-2,-4h2m10,1h2m117,-3h2m9,1h2m5,4h2m4,-4h2m4,4h2m29,0h2m-1,-2h2m7,2h2m5,-3h2m1,4h2m5,-1h2m4,1h2m-1,-3h2m3,2h2m-2,-2h2m-2,-3h2m0,2h2m0,2h2m-2,-4h2m3,5h2m14,-2h2m0,1h2m1,0h2m3,1h2m-558,4h2m9,-3h2m11,1h2m2,0h2m-1,4h2m0,-1h2m-2,-1h2m-2,-2h2m6,-1h2m0,2h2m1,1h2m-1,0h2m-2,0h2m7,-3h2m1,3h2m0,-2h2m4,3h2m3,0h2m-1,0h2m-2,2h2m-1,0h2m-1,-2h2m2,-2h2m6,3h2m2,-1h2m-2,0h2m-1,-3h2m0,1h2m-1,3h2m-1,-5h2m-2,6h2m0,-6h2m-1,0h2m0,1h2m1,2h2m3,-1h2m0,-1h2m-2,2h2m5,-2h2m0,2h2m-2,3h2m-2,-2h2m3,-2h2m4,1h2m-1,-2h2m5,4h2m2,-1h2m3,1h2m10,-2h2m-2,1h2m5,-2h2m1,1h2m15,-1h2m8,4h2m-2,-3h2m4,1h2m0,0h2m17,0h2m1,1h2m-2,-2h2m-1,-1h2m8,-2h2m0,5h2m1,0h2m-1,-2h2m0,-2h2m0,2h2m3,0h2m3,2h2m0,-2h2m-2,-2h2m1,2h2m0,1h2m5,-3h2m-1,3h2m-1,0h2m3,0h2m1,2h2m2,-3h2m-2,-2h2m1,4h2m5,0h2m7,-5h2m15,5h2m104,1h2m3,0h2m8,-1h2m-1,-3h2m0,-2h2m2,2h2m1,2h2m0,-2h2m2,0h2m0,-2h2m-1,5h2m0,-1h2m-1,0h2m1,-4h2m2,0h2m-2,1h2m4,2h2m-1,-1h2m0,0h2m-1,4h2m8,-2h2m-1,-4h2m1,4h2m-1,1h2m-1,-4h2m-2,1h2m1,-1h2m4,1h2m0,-1h2m0,4h2m6,-2h2m0,1h2m2,-3h2m-2,-1h2m5,3h2m1,1h2m1,-3h2m-1,2h2m-2,2h2m-1,-3h2m0,2h2m0,0h2m-2,-4h2m-1,1h2m-1,4h2m4,1h2m-1,-2h2m-2,1h2m1,-4h2m0,0h2m4,3h2m-2,-3h2m1,1h2m5,2h2m-1,0h2m6,-3h2m2,1h2m-592,4h2m7,6h2m11,0h2m-2,-3h2m3,-2h2m12,4h2m6,-2h2m-2,3h2m-1,-1h2m2,-3h2m14,1h2m0,-1h2m4,2h2m6,1h2m-2,0h2m-2,-2h2m-1,-1h2m-2,0h2m0,2h2m2,-3h2m17,4h2m0,-3h2m3,1h2m4,3h2m6,-5h2m-1,2h2m3,-1h2m1,-1h2m2,5h2m0,-2h2m-1,-4h2m6,4h2m1,0h2m0,1h2m-1,0h2m-2,-5h2m2,1h2m1,0h2m12,0h2m1,2h2m-1,0h2m2,-1h2m3,1h2m3,2h2m5,-3h2m-2,2h2m-1,-1h2m3,0h2m1,-3h2m-2,1h2m-1,5h2m-2,-4h2m3,0h2m1,2h2m-1,0h2m-1,-1h2m-1,1h2m0,-2h2m-1,-1h2m4,2h2m0,3h2m-2,0h2m0,-2h2m1,2h2m19,-2h2m3,-1h2m0,0h2m-2,0h2m-2,1h2m-2,-3h2m3,2h2m-2,-3h2m12,3h2m3,3h2m2,-2h2m1,-1h2m0,0h2m-1,3h2m108,-5h2m4,3h2m1,1h2m11,1h2m-1,-5h2m-1,0h2m-1,4h2m-1,-2h2m-1,-1h2m0,-2h2m7,1h2m-2,1h2m7,0h2m-2,-2h2m-1,6h2m2,-4h2m-1,4h2m-2,-1h2m-2,-4h2m0,0h2m-1,1h2m8,3h2m-2,0h2m4,-4h2m6,-1h2m0,4h2m1,-3h2m0,3h2m2,-4h2m7,1h2m-2,0h2m1,1h2m3,-2h2m6,3h2m-1,-1h2m5,1h2m3,-1h2m1,1h2m-2,3h2m5,-3h2m-2,0h2m1,-2h2m-2,4h2m1,-2h2m-1,0h2m5,1h2m6,-2h2m-1,4h2m6,-1h2m-588,4h2m-1,2h2m1,1h2m15,-3h2m-2,2h2m0,-3h2m-1,4h2m0,-3h2m1,3h2m4,-1h2m3,-1h2m-1,-2h2m12,1h2m-1,2h2m0,-3h2m-1,-1h2m8,3h2m0,-2h2m1,-1h2m-1,2h2m5,2h2m1,-2h2m0,2h2m5,-5h2m3,2h2m0,-2h2m3,6h2m0,-4h2m0,-1h2m-2,5h2m-1,-2h2m-1,0h2m3,-1h2m7,0h2m2,3h2m8,-4h2m1,3h2m-2,-1h2m1,0h2m6,-2h2m6,-1h2m-1,0h2m1,-1h2m-1,2h2m2,0h2m1,-1h2m2,3h2m2,-3h2m1,1h2m2,2h2m6,-3h2m-2,5h2m-1,-4h2m20,2h2m0,-2h2m2,2h2m0,-2h2m-1,0h2m5,1h2m0,-2h2m2,0h2m-2,1h2m3,-1h2m7,5h2m-2,-1h2m-2,-2h2m1,-1h2m3,4h2m-2,-2h2m-1,0h2m-2,-1h2m-1,1h2m2,-3h2m2,1h2m-1,1h2m1,3h2m1,0h2m-1,-2h2m0,-3h2m-2,3h2m-1,0h2m0,1h2m18,-1h2m101,-3h2m0,1h2m2,0h2m-1,3h2m-1,-2h2m2,1h2m4,1h2m0,-1h2m1,-4h2m-2,1h2m2,3h2m1,-1h2m4,-1h2m2,-1h2m-2,3h2m0,-3h2m-2,0h2m-1,4h2m-2,-3h2m10,2h2m9,0h2m-1,-4h2m3,6h2m3,-1h2m-2,-1h2m7,-4h2m1,2h2m0,0h2m1,-1h2m0,0h2m0,4h2m2,-2h2m2,1h2m-2,-3h2m1,5h2m-2,-3h2m12,0h2m15,-1h2m0,0h2m-2,0h2m12,-1h2m-2,3h2m19,-4h2m9,3h2m0,-3h2m-605,6h2m20,4h2m-1,-1h2m-2,-1h2m-1,-2h2m-2,1h2m1,2h2m-1,-3h2m3,2h2m2,3h2m1,-3h2m0,3h2m-1,-1h2m6,-3h2m2,5h2m-2,-1h2m18,-1h2m1,1h2m2,-4h2m3,1h2m1,2h2m-1,0h2m-1,-1h2m-2,-3h2m-1,2h2m5,0h2m4,3h2m0,-3h2m-1,4h2m0,-4h2m2,3h2m-2,-2h2m-1,0h2m-2,0h2m0,-1h2m1,2h2m1,0h2m1,1h2m12,-4h2m1,-1h2m3,5h2m2,-1h2m-1,-3h2m-2,-1h2m2,1h2m-1,3h2m0,-2h2m2,4h2m1,-3h2m2,3h2m13,-3h2m-1,0h2m-1,-1h2m1,3h2m-1,0h2m2,0h2m0,-3h2m1,3h2m1,-5h2m-1,4h2m9,-4h2m-1,5h2m3,-5h2m1,3h2m6,-1h2m1,3h2m0,-4h2m2,2h2m-1,0h2m4,0h2m-2,0h2m1,2h2m-1,0h2m0,0h2m6,-3h2m-1,-1h2m0,5h2m0,-4h2m5,3h2m3,-3h2m-2,0h2m-1,1h2m-2,2h2m2,-1h2m14,-3h2m5,3h2m3,-3h2m135,-1h2m20,0h2m6,1h2m9,2h2m27,1h2m28,0h2m1,1h2m0,-4h2m0,1h2m-2,3h2m16,-4h2m0,2h2m-581,4h2m-1,0h2m4,0h2m5,2h2m-2,1h2m3,0h2m4,-2h2m5,1h2m-2,1h2m5,0h2m3,1h2m0,-1h2m-1,0h2m-1,1h2m-2,-5h2m7,0h2m2,1h2m0,0h2m6,4h2m4,-4h2m0,0h2m-1,0h2m6,4h2m0,-4h2m2,5h2m2,-5h2m0,3h2m5,1h2m-2,-3h2m16,3h2m7,-5h2m0,2h2m-2,1h2m14,-1h2m0,2h2m0,0h2m-1,-4h2m-2,4h2m-1,-3h2m-1,-1h2m2,5h2m1,-1h2m2,0h2m0,-3h2m1,4h2m-1,0h2m3,-2h2m1,-2h2m-2,3h2m2,-3h2m-1,2h2m-2,-2h2m7,0h2m8,2h2m1,3h2m9,-2h2m2,-3h2m1,1h2m-1,-1h2m-1,3h2m-1,-2h2m-1,-1h2m5,0h2m2,4h2m4,-3h2m0,3h2m0,-4h2m1,3h2m1,0h2m2,-2h2m4,1h2m0,2h2m-1,1h2m0,-3h2m3,0h2m-2,1h2m-1,-3h2m0,5h2m-1,-4h2m-2,4h2m-1,-1h2m0,0h2m-2,1h2m4,-3h2m14,2h2m10,-3h2m24,0h2m195,-2h2m30,3h2m2,-3h2m-568,8h2m3,0h2m13,4h2m4,-2h2m4,2h2m3,-3h2m2,-1h2m4,-1h2m0,2h2m38,2h2m0,-2h2m2,1h2m-1,2h2m-2,0h2m1,-6h2m-1,3h2m22,1h2m0,-1h2m1,3h2m11,-1h2m1,-2h2m-1,-2h2m4,1h2m10,0h2m-2,1h2m6,-2h2m-2,0h2m-1,3h2m1,2h2m-1,-5h2m6,2h2m-1,2h2m0,0h2m-1,1h2m7,-1h2m0,-2h2m11,-2h2m2,1h2m1,-1h2m-1,0h2m-1,1h2m-1,0h2m7,4h2m1,-2h2m9,2h2m0,0h2m1,-1h2m0,-2h2m0,1h2m0,-1h2m-1,-3h2m2,4h2m-2,-3h2m-2,4h2m2,-1h2m-2,-2h2m-1,1h2m-1,0h2m0,2h2m2,-1h2m-1,0h2m-1,-2h2m1,3h2m0,-2h2m-1,2h2m5,1h2m3,-4h2m0,1h2m2,-2h2m14,0h2m1,2h2m-2,3h2m-322,6h2m5,-5h2m9,5h2m2,-4h2m0,-1h2m-1,1h2m8,0h2m4,4h2m1,-4h2m-1,3h2m2,-1h2m0,2h2m-1,-2h2m9,-3h2m4,-1h2m-2,2h2m3,0h2m5,3h2m3,-3h2m2,-1h2m1,3h2m6,-4h2m14,4h2m-1,-1h2m7,-1h2m-1,0h2m1,3h2m0,-2h2m-1,2h2m0,-1h2m14,2h2m0,-4h2m4,2h2m3,-2h2m-2,0h2m0,-1h2m-1,2h2m-2,2h2m0,-5h2m7,2h2m5,-1h2m4,2h2m1,-1h2m0,-2h2m1,1h2m-1,3h2m0,-1h2m0,-3h2m-1,1h2m0,2h2m-1,-2h2m4,1h2m4,0h2m-1,0h2m-1,1h2m8,-1h2m3,0h2m3,-2h2m0,5h2m6,-4h2m9,0h2m-1,0h2m3,5h2m5,-5h2m-2,2h2m10,2h2m0,0h2m3,0h2m-1,-4h2m8,0h2m-1,4h2m2,-2h2m2,-1h2m13,2h2m-336,5h2m6,2h2m2,-3h2m2,1h2m1,0h2m0,0h2m1,-1h2m-1,2h2m3,1h2m1,-1h2m5,-3h2m3,3h2m-1,-3h2m3,1h2m0,0h2m0,-1h2m-1,2h2m6,1h2m4,-2h2m1,3h2m1,-4h2m2,0h2m0,3h2m11,2h2m0,-3h2m8,-2h2m1,3h2m-1,-2h2m7,4h2m1,-3h2m6,-3h2m0,6h2m-1,-6h2m6,2h2m13,3h2m-1,-5h2m-1,5h2m5,-5h2m1,0h2m3,2h2m2,1h2m-1,3h2m-1,-6h2m-1,4h2m3,-1h2m13,-2h2m1,2h2m2,0h2m2,2h2m2,-3h2m1,4h2m-2,-2h2m1,-1h2m3,2h2m1,-3h2m0,1h2m16,-1h2m1,2h2m-1,-1h2m-2,-1h2m0,3h2m3,-2h2m1,0h2m0,-1h2m0,-1h2m0,2h2m1,2h2m-2,-5h2m2,1h2m3,4h2m1,-1h2m-2,-3h2m4,1h2m0,2h2m8,0h2m3,-3h2m3,4h2m-1,0h2m6,-2h2m-311,6h2m20,1h2m21,-1h2m0,-1h2m3,2h2m-2,1h2m1,-3h2m-1,2h2m3,-2h2m4,0h2m0,0h2m17,1h2m-1,-2h2m2,-1h2m7,3h2m3,0h2m10,-1h2m3,-2h2m2,1h2m-1,0h2m19,3h2m-1,1h2m33,-1h2m5,-2h2m8,1h2m10,-3h2m-1,1h2m3,3h2m-1,-2h2m1,0h2m3,-1h2m1,4h2m5,-2h2m16,-1h2m-1,2h2m1,-3h2m2,2h2m-1,0h2m-2,-1h2m3,4h2m11,-5h2m-2,4h2m-2,-1h2m-1,0h2m3,-3h2m5,2h2m-1,0h2m6,2h2m-2,-2h2m2,3h2m0,-6h2m-276,7h2m-1,-1h2m3,1h2m23,0h2m7,1h2m50,4h2m7,-4h2m12,3h2m28,-1h2m13,-1h2m3,3h2m12,-4h2m-1,-1h2m1,-1h2m5,6h2m25,-6h2m8,2h2m-1,2h2m0,1h2m-2,-4h2m3,4h2m2,-1h2m1,-2h2m-1,1h2m0,-2h2m1,1h2m2,-2h2m3,5h2m-1,1h2m2,-4h2m-2,0h2m1,-1h2m5,5h2m3,-1h2m-291,7h2m72,-6h2m8,3h2m2,-2h2m81,0h2m15,4h2m5,0h2m14,-4h2m14,1h2m6,2h2m1,0h2m1,-1h2m-2,3h2m4,-6h2m6,5h2m3,-2h2m0,-3h2m5,0h2m-1,2h2m-2,-1h2m17,4h2m-303,2h2m10,3h2m40,-3h2m15,5h2m2,-6h2m58,0h2m10,4h2m33,-3h2m32,0h2m19,0h2m22,0h2m7,2h2m-2,-2h2m3,0h2m6,1h2m2,2h2m3,-3h2m-240,8h2m18,0h2m47,-2h2m114,4h2m24,-5h2m16,3h2m14,-3h2m-63,10h2m53,-3h2m-1,0h2m-1,0h2m342,7h2m14,5h2m-27,11h2m3,-3h2m4,-1h2m0,3h2m0,1h2m-10,0h2m-2,3h2m8,1h2m3,0h2m-1,1h2m-37,5h2m2,0h2m7,0h2m-1,2h2m0,-4h2m-2,0h2m0,-1h2m-2,0h2m0,0h2m0,1h2m-2,2h2m10,0h2m0,0h2m2,1h2m3,-2h2m3,1h2m-50,7h2m-2,0h2m2,-4h2m14,1h2m2,4h2m4,-4h2m0,1h2m-2,2h2m6,0h2m0,-1h2m-50,4h2m2,-2h2m-1,4h2m28,-2h2m15,2h2m-56,4h2m2,2h2m0,1h2m19,-2h2m6,-2h2m-1,5h2m1,-3h2m1,2h2m1,-3h2m-1,3h2m1,-4h2m-2,5h2m-56,4h2m3,-4h2m2,1h2m14,2h2m-1,-1h2m-1,3h2m2,-2h2m0,0h2m5,-1h2m-1,3h2m0,-3h2m1,0h2m8,-1h2m-43,10h2m-1,-4h2m3,4h2m-1,-4h2m-2,4h2m1,-4h2m8,3h2m0,1h2m-1,-5h2m0,4h2m-1,1h2m13,0h2m-2,-3h2m2,0h2m-66,6h2m6,-2h2m0,1h2m-1,0h2m2,1h2m-2,-1h2m7,3h2m0,-2h2m9,-1h2m2,4h2m0,-3h2m4,0h2m4,1h2m5,1h2m0,-2h2m-67,7h2m5,1h2m4,-1h2m0,-2h2m2,2h2m-2,2h2m-1,-3h2m0,2h2m3,-2h2m0,1h2m4,2h2m10,-5h2m1,2h2m-46,7h2m-1,-3h2m-1,3h2m-1,-2h2m-1,1h2m7,4h2m0,-4h2m-1,0h2m5,-2h2m2,0h2m0,1h2m3,2h2m1,-3h2m-2,0h2m-45,7h2m6,2h2m4,0h2m-1,1h2m3,1h2m14,-3h2m-1,3h2m10,-1h2m8,1h2m-68,7h2m1,-5h2m4,3h2m3,-3h2m4,2h2m1,0h2m2,3h2m-2,-2h2m0,1h2m-2,1h2m11,-5h2m0,0h2m2,2h2m-2,2h2m-1,-4h2m4,0h2m0,3h2m10,1h2m-63,5h2m4,-4h2m0,4h2m7,2h2m9,-5h2m2,3h2m-2,-1h2m16,-2h2m-2,0h2m6,0h2m0,4h2m-61,2h2m-2,1h2m4,4h2m-1,-5h2m3,3h2m0,2h2m5,-3h2m1,0h2m-1,-1h2m0,4h2m5,-6h2m2,1h2m-2,4h2m1,1h2m1,-4h2m6,3h2m2,-1h2m-1,-2h2m-64,5h2m4,3h2m20,0h2m1,0h2m6,-2h2m-1,3h2m2,1h2m6,-3h2m0,1h2m4,-1h2m-58,6h2m-1,0h2m-1,0h2m1,0h2m26,1h2m4,0h2m11,-2h2m-41,5h2m3,1h2m-2,-1h2m-1,1h2m-1,2h2m0,-2h2m0,2h2m2,-1h2m2,-1h2m-2,1h2m-1,1h2m9,1h2m-40,3h2m0,-2h2m0,3h2m-1,-2h2m-2,0h2m16,2h2m-2,1h2m0,-2h2m1,3h2m2,-3h2m-2,-1h2m3,0h2m10,4h2m-33,3h2m-2,-2h2m1,6h2m-2,-6h2m13,5h2m-46,4h2m18,-1h2m7,1h2m4,2h2m15,1h2m-44,1h2m1,3h2m4,-2h2m6,-1h2m0,0h2m4,1h2m-1,0h2m6,3h2m-38,4h2m11,2h2m1,1h2m6,-4h2m10,2h2m-37,6h2m0,0h2m2,0h2m-2,-1h2m0,3h2m-2,-5h2m-1,2h2m-1,0h2m8,-1h2m1,6h2"/><path stroke="#bf120f" d="M2189,520h2m13,4h2m1,0h2m-14,7h2m11,7h2m6,4h2m-9,1h2m-18,8h2m12,3h2m-42,1h2m25,6h2m16,-5h2m-12,7h2m2,2h2m6,1h2m-1,-5h2m11,3h2m-21,5h2m8,1h2m-1,-3h2m10,1h2m-57,8h2m17,-3h2m8,0h2m8,2h2m7,2h2m-46,2h2m22,0h2m2,3h2m4,2h2m0,-2h2m-1,-1h2m-1,1h2m2,-2h2m2,1h2m-1,-1h2m177,2h2m-225,9h2m15,-5h2m1,5h2m0,-3h2m1,-1h2m0,3h2m3,-4h2m2,0h2m1,-1h2m-1,3h2m1,0h2m140,3h2m21,-3h2m-179,9h2m1,-1h2m6,-2h2m6,0h2m3,-3h2m113,5h2m66,-5h2m-247,9h2m9,0h2m26,-1h2m0,0h2m210,3h2m12,-2h2m-245,9h2m2,-5h2m0,1h2m7,-1h2m0,3h2m0,0h2m2,-4h2m3,5h2m-1,-1h2m107,-4h2m25,0h2m23,2h2m29,0h2m3,1h2m18,3h2m-252,4h2m14,0h2m-2,1h2m1,-4h2m-1,3h2m2,-1h2m0,-1h2m0,1h2m0,-2h2m0,3h2m1,2h2m2,0h2m3,-3h2m89,0h2m52,-1h2m67,-2h2m10,1h2m-274,9h2m1,0h2m7,-1h2m-1,2h2m1,-1h2m1,-3h2m0,4h2m0,-4h2m3,3h2m5,-2h2m-25,8h2m4,-2h2m1,4h2m0,-5h2m1,4h2m-1,-4h2m7,4h2m2,-1h2m-1,2h2m1,-2h2m-26,7h2m1,-3h2m6,3h2m-1,1h2m-1,-5h2m3,4h2m6,-4h2m-1,4h2m-43,4h2m7,-1h2m3,2h2m6,-4h2m-1,3h2m0,0h2m-2,-1h2m2,0h2m3,1h2m0,1h2m1,-3h2m-26,10h2m-2,0h2m7,-5h2m3,1h2m-1,5h2m4,-4h2m-33,5h2m-1,3h2m2,-3h2m7,3h2m9,0h2m17,-2h2m-32,8h2m0,-1h2m-2,0h2m-1,-1h2m1,4h2m1,-6h2m6,2h2m4,-2h2m-36,8h2m4,-1h2m9,-1h2m5,1h2m0,-1h2m4,4h2m321,126h2"/><path stroke="#df1612" d="M2182,503h2m3,-1h2m-70,9h2m66,-3h2m-2,1h2m0,-1h2m2,2h2m9,0h2m1,3h2m-33,1h2m-1,0h2m5,4h2m-2,-4h2m1,0h2m-1,2h2m1,-1h2m3,1h2m-1,2h2m-2,-3h2m4,2h2m-120,4h2m76,3h2m9,-4h2m4,1h2m0,0h2m-1,0h2m6,2h2m7,-2h2m-246,9h2m191,1h2m16,-5h2m3,4h2m4,0h2m9,0h2m0,-4h2m1,4h2m14,-1h2m-162,3h2m51,-1h2m17,5h2m30,0h2m15,-3h2m2,4h2m11,-2h2m7,1h2m2,-2h2m-198,6h2m74,0h2m85,-2h2m5,2h2m5,-3h2m2,3h2m-1,2h2m0,1h2m-1,-5h2m4,1h2m1,2h2m17,-3h2m-186,11h2m143,-6h2m1,1h2m1,4h2m-1,1h2m2,-3h2m1,-2h2m12,0h2m1,4h2m-1,-3h2m-1,-2h2m-1,5h2m-228,3h2m28,1h2m105,1h2m45,-4h2m9,3h2m-1,-2h2m5,2h2m-1,2h2m3,-2h2m-1,-2h2m1,4h2m0,-1h2m2,-3h2m8,2h2m1,1h2m-240,4h2m48,2h2m138,-3h2m12,-1h2m6,1h2m-1,0h2m-1,4h2m3,-2h2m9,-1h2m8,2h2m-116,3h2m9,-1h2m60,1h2m2,3h2m0,0h2m3,2h2m-1,-6h2m4,2h2m-1,1h2m-2,2h2m1,0h2m0,-2h2m-2,0h2m1,-3h2m-1,5h2m-2,-4h2m0,5h2m-47,5h2m7,-1h2m0,-4h2m6,1h2m-1,4h2m1,0h2m6,-3h2m7,2h2m-2,-2h2m-1,1h2m1,3h2m-2,-4h2m5,-1h2m217,3h2m-284,6h2m21,1h2m7,1h2m-1,-1h2m-2,-2h2m7,3h2m-2,-4h2m1,0h2m0,4h2m2,-2h2m0,-1h2m-1,-1h2m9,3h2m3,-4h2m156,3h2m33,-4h2m12,4h2m-402,6h2m29,2h2m103,-5h2m3,0h2m4,1h2m11,1h2m-1,-1h2m4,0h2m-2,1h2m4,-2h2m-1,2h2m-1,2h2m0,-1h2m4,-1h2m1,3h2m10,-3h2m-1,-1h2m147,2h2m2,-3h2m17,2h2m7,0h2m-1,0h2m-241,9h2m6,-2h2m1,2h2m-2,-5h2m3,5h2m7,-3h2m-1,1h2m4,0h2m11,-1h2m15,1h2m120,2h2m5,-1h2m-2,-2h2m0,-3h2m11,0h2m3,3h2m-1,-1h2m19,4h2m-1,-3h2m3,1h2m-2,2h2m-1,-4h2m-1,3h2m1,1h2m2,-2h2m3,-2h2m-2,3h2m-1,1h2m8,-3h2m-2,0h2m18,-2h2m-457,5h2m68,5h2m39,-3h2m48,2h2m4,-3h2m6,0h2m-1,2h2m1,-2h2m1,2h2m10,-2h2m-2,5h2m5,-4h2m-1,-2h2m-2,4h2m0,-2h2m1,3h2m0,-5h2m-2,3h2m-1,-3h2m0,6h2m2,-5h2m14,0h2m119,1h2m7,2h2m15,-1h2m5,0h2m-1,-1h2m2,3h2m1,-3h2m0,-1h2m-1,3h2m7,-1h2m15,1h2m-2,0h2m-2,1h2m-1,-2h2m1,0h2m8,-1h2m3,4h2m0,-3h2m-424,5h2m58,1h2m91,0h2m1,3h2m-1,-1h2m1,-3h2m7,-1h2m-1,3h2m5,-3h2m-1,2h2m-1,-2h2m-2,-1h2m3,3h2m7,2h2m1,-4h2m1,5h2m120,-1h2m12,-4h2m1,-1h2m3,3h2m13,0h2m3,-1h2m10,0h2m-2,4h2m-1,-5h2m7,-1h2m3,0h2m-1,5h2m0,-1h2m2,0h2m5,-1h2m1,-2h2m4,0h2m4,0h2m6,-1h2m-1,2h2m-1,0h2m1,-2h2m8,1h2m-2,-1h2m-534,8h2m133,0h2m40,1h2m57,-1h2m15,3h2m-2,-2h2m3,-2h2m8,4h2m-1,-2h2m3,3h2m4,-4h2m3,3h2m120,-3h2m2,2h2m2,0h2m3,0h2m-1,-2h2m-1,2h2m17,-2h2m-2,3h2m1,-2h2m-2,-3h2m-1,3h2m-1,3h2m0,-5h2m1,0h2m0,4h2m-1,-3h2m2,1h2m4,-3h2m-1,4h2m0,-3h2m0,1h2m-1,-1h2m0,0h2m9,-1h2m1,2h2m0,0h2m-1,2h2m7,-1h2m1,0h2m8,2h2m1,-4h2m1,-1h2m0,4h2m1,-1h2m21,1h2m-399,2h2m41,1h2m42,2h2m2,3h2m-1,-2h2m1,0h2m6,-2h2m0,3h2m-2,-2h2m-2,1h2m0,1h2m0,-1h2m8,-2h2m-1,2h2m17,-1h2m95,-1h2m14,2h2m2,0h2m7,0h2m3,-2h2m0,2h2m8,1h2m1,0h2m1,-1h2m-1,0h2m1,-1h2m0,3h2m4,-1h2m4,-4h2m9,0h2m4,5h2m0,-6h2m4,1h2m3,0h2m-2,2h2m-2,-2h2m7,0h2m-1,1h2m7,1h2m-1,-2h2m1,1h2m3,0h2m9,4h2m12,-6h2m0,3h2m-563,5h2m93,0h2m27,1h2m18,-2h2m38,4h2m21,0h2m62,-4h2m-1,1h2m-1,3h2m3,-3h2m1,1h2m0,1h2m-1,1h2m-1,-1h2m0,-2h2m-1,-1h2m-1,3h2m0,-2h2m-1,1h2m6,3h2m116,-1h2m6,-2h2m1,1h2m7,-1h2m3,-2h2m4,0h2m2,-1h2m4,1h2m-2,0h2m2,4h2m2,-4h2m1,5h2m3,-3h2m-2,-2h2m20,2h2m-1,-1h2m-2,2h2m-1,0h2m8,0h2m3,0h2m13,1h2m0,-5h2m0,3h2m2,3h2m2,-5h2m1,0h2m0,2h2m-1,1h2m-1,1h2m2,-1h2m-1,1h2m-528,5h2m105,-4h2m16,2h2m102,2h2m2,-1h2m0,-2h2m12,4h2m4,-4h2m0,5h2m1,-5h2m2,1h2m-1,4h2m-1,-5h2m-1,4h2m-1,-4h2m1,4h2m-2,-5h2m2,1h2m9,4h2m104,-4h2m12,2h2m-1,-3h2m1,1h2m-2,-1h2m14,1h2m-1,0h2m11,0h2m20,-1h2m1,4h2m1,-3h2m34,5h2m0,-2h2m17,-2h2m6,-2h2m-545,12h2m228,-2h2m17,-1h2m11,2h2m4,-2h2m-1,-1h2m3,2h2m4,-1h2m1,0h2m9,-3h2m15,1h2m95,0h2m90,1h2m24,1h2m-264,4h2m-2,2h2m0,2h2m-1,-1h2m1,2h2m-1,-2h2m4,0h2m1,2h2m1,-2h2m0,2h2m2,-1h2m-1,-3h2m-2,0h2m1,2h2m-2,-2h2m0,3h2m16,-1h2m121,-2h2m73,-2h2m-398,12h2m30,-4h2m97,1h2m-1,-1h2m19,0h2m3,0h2m-2,0h2m-1,2h2m-1,-3h2m4,4h2m3,-1h2m-2,-1h2m3,-2h2m1,3h2m6,-1h2m1,0h2m-2,1h2m5,2h2m-336,6h2m12,-4h2m78,3h2m117,1h2m61,-1h2m1,-2h2m-2,0h2m10,0h2m-1,0h2m-2,1h2m-1,-4h2m-1,1h2m1,4h2m-2,-5h2m8,4h2m1,2h2m0,-1h2m-2,-5h2m-1,0h2m2,1h2m-1,5h2m-1,-3h2m2,0h2m-117,5h2m-2,3h2m60,1h2m7,0h2m3,-1h2m-1,-2h2m5,1h2m2,-2h2m5,3h2m2,-4h2m0,3h2m0,-3h2m4,2h2m-1,1h2m-1,0h2m2,-1h2m5,-2h2m-200,5h2m32,3h2m40,-2h2m23,0h2m33,-1h2m10,5h2m3,1h2m6,-3h2m0,2h2m1,-4h2m-2,1h2m-1,1h2m3,2h2m3,-2h2m4,0h2m10,-1h2m10,-1h2m-78,6h2m4,-1h2m21,4h2m1,-1h2m9,1h2m11,-2h2m2,3h2m-87,4h2m57,-2h2m1,0h2m2,0h2m3,-1h2m1,3h2m0,2h2m6,-5h2m-1,2h2m0,-2h2m-2,2h2m1,2h2m-281,2h2m227,1h2m17,1h2m-2,-1h2m34,3h2m326,37h2m7,1h2m13,-2h2m-31,7h2m9,1h2m2,-2h2m1,-2h2m-1,0h2m3,0h2m6,3h2m1,-3h2m-39,7h2m15,-1h2m3,-1h2m3,1h2m-1,-1h2m-38,10h2m0,-3h2m5,0h2m3,-1h2m-1,1h2m10,-1h2m-2,1h2m2,3h2m0,-4h2m-38,10h2m4,-2h2m7,0h2m-2,0h2m-1,-3h2m2,0h2m2,3h2m0,-1h2m6,4h2m-2,-5h2m-1,3h2m-1,-3h2m13,3h2m-53,7h2m2,1h2m-1,-1h2m4,0h2m2,1h2m2,-3h2m-1,0h2m5,1h2m3,-2h2m-1,4h2m0,-3h2m-44,8h2m1,-3h2m10,-1h2m5,1h2m7,-1h2m9,0h2m1,5h2m2,-5h2m7,1h2m-62,4h2m4,4h2m9,-3h2m0,4h2m0,-5h2m8,1h2m11,4h2m-1,0h2m-49,2h2m1,1h2m15,0h2m4,2h2m0,-1h2m9,3h2m2,-5h2m13,2h2m-63,4h2m0,3h2m6,-4h2m1,1h2m-1,0h2m14,3h2m7,-2h2m2,3h2m1,-1h2m0,-3h2m-49,9h2m0,0h2m3,-4h2m0,4h2m10,-2h2m-2,2h2m1,0h2m8,-1h2m-1,2h2m5,-2h2m1,-1h2m4,-1h2m0,2h2m-60,5h2m7,1h2m11,-2h2m1,1h2m2,2h2m-1,1h2m12,-1h2m-1,0h2m-1,0h2m0,-3h2m-45,8h2m2,2h2m-1,-2h2m45,-3h2m-56,11h2m13,-1h2m11,-4h2m11,0h2m-1,1h2m4,2h2m-2,1h2m-1,1h2m0,-5h2m5,4h2m-1,-4h2m-1,3h2m-65,3h2m2,2h2m-1,1h2m-1,0h2m-1,-1h2m2,1h2m2,3h2m9,-1h2m5,-3h2m4,2h2m6,0h2m2,-1h2m15,-1h2m-64,6h2m1,3h2m6,0h2m1,1h2m-1,-4h2m9,-2h2m10,0h2m-31,12h2m-1,-4h2m10,2h2m5,-1h2m5,1h2m2,1h2m7,-2h2m-47,4h2m-1,3h2m0,-1h2m-1,-1h2m0,1h2m-1,2h2m1,-1h2m3,1h2m1,0h2m19,-2h2m0,-3h2m-2,2h2m-42,6h2m4,4h2m0,-4h2m4,3h2m-1,0h2m10,0h2m0,-4h2m16,3h2m-58,6h2m15,-3h2m7,3h2m16,2h2m1,-2h2m-41,2h2m2,1h2m2,0h2m1,2h2m21,-2h2m-30,6h2m-2,4h2m0,1h2m19,-5h2m-2,3h2m-1,0h2m0,2h2m5,-3h2m-30,7h2m-1,-4h2m-1,5h2m1,-2h2m0,0h2m0,-1h2m0,1h2m-1,-2h2m-21,7h2m14,0h2m7,0h2m-19,5h2m2,0h2m-10,5h2"/><path stroke="#ffc6c4" d="M2075,416h2m0,1h2m-31,5h2m11,-5h2m3,3h2m-1,1h2m5,-3h2m4,2h2m5,0h2m5,-1h2m0,2h2m-53,5h2m13,-1h2m4,4h2m7,-5h2m11,1h2m0,3h2m4,-5h2m0,0h2m-1,5h2m0,-3h2m28,2h2m-105,7h2m7,-1h2m6,-3h2m-2,5h2m0,-4h2m7,1h2m-1,-2h2m23,1h2m-2,2h2m1,1h2m4,0h2m-2,0h2m1,0h2m2,-2h2m1,2h2m-2,-4h2m6,1h2m2,4h2m-84,2h2m4,0h2m7,1h2m2,-1h2m6,0h2m-1,1h2m2,2h2m4,-4h2m-2,1h2m-1,4h2m-1,-3h2m1,0h2m1,-1h2m0,3h2m2,-1h2m-2,0h2m4,0h2m5,-3h2m-1,3h2m4,1h2m-2,-2h2m-2,-3h2m-1,3h2m-1,-3h2m0,0h2m-2,4h2m1,-1h2m3,2h2m12,-1h2m7,-1h2m2,-3h2m-133,8h2m4,3h2m13,-2h2m-1,-1h2m-2,1h2m7,0h2m-2,2h2m-1,1h2m1,-2h2m7,1h2m-1,1h2m6,-4h2m-2,-2h2m-1,4h2m-1,-3h2m-2,-1h2m1,5h2m2,-5h2m-2,5h2m3,0h2m1,0h2m-2,-4h2m-1,2h2m1,2h2m5,-4h2m2,1h2m1,0h2m5,2h2m2,1h2m1,-1h2m0,-3h2m4,3h2m-2,2h2m-1,-3h2m-1,2h2m1,-3h2m4,4h2m0,-2h2m3,-4h2m2,1h2m2,1h2m-110,6h2m-1,-1h2m19,1h2m0,2h2m-2,-3h2m5,4h2m1,-3h2m-2,3h2m19,0h2m12,-3h2m10,4h2m6,-5h2m-123,7h2m27,2h2m5,-3h2m5,1h2m7,2h2m-1,-4h2m14,5h2m1,-2h2m5,0h2m-1,2h2m-2,-2h2m2,-1h2m-1,1h2m8,1h2m1,0h2m5,-4h2m18,5h2m23,-1h2m-160,5h2m4,3h2m44,0h2m24,-3h2m-2,-2h2m0,1h2m6,2h2m0,-1h2m6,2h2m10,-3h2m19,2h2m5,-1h2m5,-2h2m-141,6h2m2,1h2m25,0h2m28,3h2m-73,5h2m14,-1h2m56,1h2m-2,-1h2m13,-1h2m45,-2h2m6,6h2m-63,9h2m25,2h2m57,-3h2m102,156h2m4,2h2m5,-1h2m2,1h2m-19,4h2m8,1h2m0,2h2m13,-3h2m-20,10h2m8,-5h2m-6,10h2m6,-2h2m1,2h2m5,-4h2m167,4h2m-179,3h2m-2,2h2m0,-4h2m4,3h2m24,2h2m10,-1h2m26,0h2m20,-3h2m82,5h2m92,-2h2m-253,4h2m86,1h2m24,2h2m3,-3h2m5,0h2m-1,1h2m-1,0h2m0,-2h2m6,4h2m0,-1h2m2,-1h2m2,2h2m0,-1h2m2,1h2m13,-3h2m-594,9h2m1,-2h2m0,-1h2m550,2h2m12,-3h2m-328,6h2m310,4h2m5,-2h2m0,-1h2m5,-2h2m0,5h2m-328,5h2m-220,5h2m46,-1h2m125,3h2m-189,1h2m38,0h2m107,1h2m23,4h2m40,-2h2m26,2h2m-254,5h2m7,0h2m7,2h2m39,-3h2m17,1h2m12,-4h2m42,1h2m9,2h2m24,-1h2m75,-1h2m-238,7h2m11,1h2m40,0h2m20,0h2m9,-2h2m2,3h2m4,-2h2m-1,4h2m-1,-1h2m10,1h2m3,-1h2m9,-2h2m30,0h2m39,-1h2m-1,1h2m36,-1h2m-2,0h2m13,-1h2m0,0h2m-201,8h2m0,-1h2m-2,3h2m27,1h2m-2,-3h2m1,3h2m4,-1h2m27,-2h2m3,-3h2m-1,3h2m8,1h2m7,1h2m3,-4h2m-1,2h2m1,-2h2m9,3h2m10,2h2m1,-3h2m7,2h2m-2,-3h2m14,2h2m0,-1h2m1,3h2m5,-6h2m0,5h2m2,-5h2m29,6h2m2,0h2m20,-6h2m-265,6h2m30,5h2m1,-3h2m12,-1h2m19,3h2m15,-2h2m9,1h2m4,-2h2m1,-1h2m2,3h2m1,0h2m1,-1h2m3,1h2m2,-1h2m-2,4h2m10,-6h2m8,2h2m-2,2h2m0,-2h2m8,-1h2m2,5h2m16,-4h2m6,-1h2m4,3h2m3,-1h2m5,-3h2m20,5h2m3,-3h2m0,2h2m5,0h2m1,-1h2m12,2h2m-241,4h2m23,-3h2m13,6h2m2,-2h2m0,0h2m3,-2h2m4,-2h2m-1,4h2m18,0h2m11,-2h2m0,0h2m0,2h2m0,-3h2m0,5h2m1,-5h2m3,5h2m-1,-3h2m3,2h2m3,1h2m4,-2h2m-1,-1h2m3,-1h2m-1,-1h2m-2,-1h2m-1,3h2m9,-2h2m5,2h2m0,-2h2m-1,3h2m6,-2h2m11,0h2m0,0h2m-2,0h2m-2,-1h2m2,5h2m-1,-1h2m-2,-1h2m-2,-2h2m4,0h2m1,-2h2m5,2h2m-2,2h2m11,1h2m-1,-4h2m1,4h2m-193,7h2m6,-4h2m2,-2h2m23,5h2m1,-1h2m2,-2h2m-2,1h2m2,-3h2m1,6h2m5,-5h2m1,5h2m0,-5h2m3,-1h2m0,2h2m2,0h2m4,-1h2m1,1h2m-1,-1h2m-2,0h2m6,2h2m-1,0h2m0,0h2m1,0h2m-2,-3h2m-1,1h2m-1,4h2m0,1h2m-2,-2h2m-1,-1h2m6,-3h2m0,0h2m-1,2h2m-2,2h2m2,2h2m7,-6h2m0,1h2m-1,2h2m7,-2h2m0,3h2m-1,2h2m-1,-3h2m6,-1h2m1,2h2m9,0h2m0,-3h2m-2,2h2m0,0h2m27,-2h2m-194,8h2m18,-2h2m-1,5h2m20,-3h2m12,-3h2m-1,3h2m6,0h2m3,3h2m-1,-5h2m-2,0h2m0,-1h2m-1,5h2m-1,-4h2m0,-1h2m1,2h2m0,-2h2m4,0h2m1,5h2m-1,-2h2m1,0h2m-2,-3h2m-1,3h2m1,0h2m1,2h2m7,-1h2m3,-3h2m0,3h2m0,-2h2m1,-1h2m-1,0h2m7,5h2m1,-3h2m2,2h2m-2,-4h2m1,5h2m3,-1h2m6,-2h2m3,0h2m9,0h2m0,1h2m3,-3h2m2,1h2m-153,5h2m2,5h2m19,-3h2m0,0h2m-1,0h2m-1,-2h2m8,-1h2m2,2h2m-1,2h2m8,-3h2m-1,3h2m12,-3h2m3,4h2m1,0h2m-2,-2h2m3,-1h2m1,0h2m2,-1h2m3,0h2m7,2h2m-1,-1h2m17,0h2m-1,-1h2m-122,9h2m8,-3h2m-1,4h2m12,-4h2m-1,1h2m4,1h2m20,-2h2m-2,2h2m-1,0h2m8,0h2m0,3h2m2,-4h2m0,0h2m13,2h2m2,-2h2m20,4h2m-2,-5h2m-86,7h2m0,0h2m5,3h2m7,0h2m15,-3h2m25,-1h2m-1,2h2m4,0h2m14,-1h2m-95,7h2m7,3h2m8,0h2m7,0h2m9,0h2m11,-4h2m14,-2h2m-51,11h2m-1,-3h2m6,-1h2m2,2h2m1,1h2m14,-3h2m9,0h2m-59,7h2m15,2h2m10,-2h2m10,4h2m-3,11h2m10,1h2m-47,4h2m31,-1h2m-17,5h2m4,-1h2m-14,10h2m10,-2h2m-2,1h2m6,28h2m-13,17h2m-1,10h2m-3,9h2m5,3h2m78,-4h2m-48,23h2m-47,6h2"/><path stroke="#9f0e0c" d="M2212,582h2m19,9h2m-4,9h2m6,1h2m-12,4h2m0,2h2m0,5h2m6,1h2m-19,8h2m9,-3h2m-25,8h2m13,-1h2m3,0h2m-3,4h2m9,2h2m-5,4h2m1,1h2m-9,20h2"/><path stroke="#c9c3fd" d="M2582,683h2m7,4h2m-15,8h2m4,7h2m-487,31h2m-57,42h2m-1,0h2m-2,-1h2m29,0h2m2,1h2m-16,8h2m3,0h2m0,-4h2m-2,0h2m31,1h2m1,3h2m-38,1h2m7,4h2m20,1h2m9,-1h2m-1,-2h2m-56,7h2m8,-1h2m-1,-1h2m3,2h2m5,-4h2m-22,12h2m16,-2h2m3,-4h2m9,5h2m-23,7h2m2,-4h2m0,4h2m13,-5h2m-30,8h2m7,-3h2m16,1h2m0,2h2m-6,3h2m4,3h2m-24,5h2m-4,4h2m7,3h2m-1,-1h2m-2,4h2m0,-3h2m0,0h2m6,2h2m-22,7h2m7,-4h2m-2,-1h2m2,3h2m-5,3h2m5,1h2m-10,6h2m100,10h2m-20,10h2m-91,8h2m0,-5h2m13,1h2m75,-1h2m13,2h2m-118,4h2m9,2h2m86,3h2m11,-1h2m-107,3h2m-1,2h2m12,0h2m37,0h2m5,2h2m15,-1h2m0,-2h2m13,0h2m-2,0h2m-116,7h2m11,-3h2m3,3h2m36,-1h2m0,2h2m1,-1h2m32,-2h2m24,1h2m-1,0h2m-1,2h2m1,-3h2m2,-1h2m-122,8h2m-1,-1h2m3,-2h2m-1,0h2m-1,5h2m9,-3h2m4,1h2m38,2h2m4,-3h2m3,1h2m11,-1h2m14,2h2m6,1h2m0,-1h2m2,-3h2m11,2h2m-129,4h2m6,0h2m16,3h2m63,-1h2m24,2h2m2,-3h2m-1,-2h2m-143,11h2m110,-2h2m-1,0h2m3,3h2m6,-2h2m4,-1h2m8,-2h2m-30,6h2m12,0h2m9,4h2m2,-3h2m-14,6h2m14,-1h2m1,4h2m-14,5h2"/><path stroke="#9488fc" d="M2575,696h2m-497,173h2m58,15h2m17,-1h2m-56,6h2m29,0h2m21,1h2m19,-3h2m-129,9h2m17,-3h2m19,4h2m2,-5h2m-1,4h2m12,0h2m7,-3h2m1,4h2m17,-2h2m25,-1h2m-128,7h2m7,-1h2m25,0h2m8,2h2m2,-3h2m0,3h2m13,-2h2m-1,-1h2m5,0h2m9,0h2m-1,-1h2m1,2h2m2,2h2m12,-3h2m-99,7h2m5,3h2m25,-2h2m48,-2h2m2,-1h2m18,1h2m27,-1h2m-168,7h2m143,3h2m32,-3h2m-179,4h2m11,2h2m118,3h2m12,4h2m4,-2h2"/><path stroke="#00004c" d="M2104,965h2m15,3h2m7,-3h2m-1,2h2m2,0h2m-31,6h2m10,-4h2m0,3h2m2,1h2m5,-3h2m0,4h2m8,-4h2m9,4h2m-2,-1h2m-40,8h2m2,-2h2m2,-3h2m6,2h2m-2,1h2m-1,1h2m34,-2h2m-77,5h2m9,2h2m1,-2h2m-2,-1h2m-1,4h2m11,-2h2m-2,-2h2m-1,-1h2m4,5h2m5,-1h2m-2,-3h2m-1,3h2m-1,1h2m3,-4h2m-2,3h2m23,-2h2m-83,9h2m10,-4h2m0,2h2m-2,0h2m4,1h2m0,1h2m1,-4h2m-1,0h2m-1,3h2m1,0h2m17,-3h2m-2,4h2m1,-4h2m2,1h2m1,1h2m6,-2h2m-1,0h2m11,2h2m-80,7h2m0,-2h2m3,4h2m-2,-5h2m-2,4h2m0,0h2m-1,1h2m1,-3h2m-1,-3h2m-1,2h2m5,0h2m-1,-1h2m-1,4h2m-2,1h2m-1,-4h2m-2,2h2m-1,0h2m0,1h2m-2,-5h2m0,5h2m4,-2h2m6,1h2m-2,-3h2m3,2h2m-1,0h2m12,1h2m1,1h2m4,0h2m-72,1h2m-1,4h2m8,0h2m-1,0h2m-2,2h2m2,-3h2m-1,0h2m0,3h2m0,-2h2m0,-3h2m-2,1h2m-2,-2h2m-2,6h2m1,-6h2m0,2h2m-1,3h2m1,0h2m-2,-1h2m0,1h2m-2,-2h2m-2,0h2m1,-1h2m-1,-2h2m1,5h2m-1,-4h2m22,3h2m2,-3h2m0,4h2m4,-3h2m11,1h2m-92,7h2m3,-2h2m0,-2h2m0,5h2m0,-3h2m-1,2h2m0,1h2m-2,-3h2m-1,3h2m1,-3h2m-1,0h2m0,-1h2m-1,-1h2m2,1h2m-2,0h2m-2,3h2m8,1h2m-1,-2h2m-1,2h2m-1,-3h2m-2,4h2m-1,0h2m0,-5h2m-2,3h2m5,0h2m1,-1h2m0,-1h2m-2,0h2m-2,1h2m1,0h2m2,3h2m5,-2h2m2,2h2m-75,4h2m0,2h2m1,-5h2m-2,3h2m1,-1h2m0,2h2m1,-4h2m8,2h2m-2,-3h2m1,0h2m-1,2h2m1,-2h2m-2,1h2m1,4h2m2,-1h2m-1,0h2m-2,-2h2m2,3h2m-2,1h2m1,-6h2m-1,5h2m0,-2h2m0,0h2m-1,2h2m1,-2h2m-1,3h2m0,-3h2m-1,-1h2m1,-1h2m0,2h2m-70,6h2m-2,0h2m0,-2h2m1,4h2m1,1h2m3,-6h2m3,1h2m-1,2h2m-1,-2h2m-1,1h2m0,-2h2m2,2h2m-1,3h2m0,-2h2m2,-3h2m-2,0h2m0,1h2m1,5h2m1,-5h2m-1,3h2m-1,-2h2m0,1h2m-1,1h2m2,0h2m-1,-2h2m1,2h2m2,-2h2m-1,-1h2m-1,4h2m-1,1h2m6,-2h2m-1,0h2m1,2h2m4,-1h2m6,-4h2m-94,9h2m4,-2h2m0,2h2m9,-2h2m-2,3h2m0,0h2m-2,1h2m2,-2h2m-2,-2h2m-1,4h2m1,0h2m-2,-5h2m0,4h2m-1,-4h2m2,-1h2m0,2h2m-2,3h2m-1,-2h2m8,-1h2m0,1h2m-1,2h2m1,-3h2m0,1h2m-1,0h2m-1,-3h2m2,5h2m6,-4h2m0,3h2m1,-2h2m2,0h2m-81,8h2m14,0h2m-1,-2h2m-2,0h2m5,-1h2m1,4h2m0,-3h2m-1,1h2m2,0h2m2,3h2m-1,-5h2m-2,1h2m-2,1h2m2,-1h2m1,2h2m-2,2h2m0,-6h2m4,6h2m0,-4h2m-1,-2h2m-2,4h2m-1,0h2m-1,0h2m-1,-2h2m-2,2h2m4,1h2m-50,5h2m4,-1h2m4,-1h2m-2,2h2m0,-4h2m0,2h2m4,1h2m1,-1h2m-1,3h2m-2,-5h2m0,2h2m1,3h2m-1,-2h2m-1,-2h2m0,-1h2m1,2h2m0,4h2m0,-4h2m11,-1h2m10,2h2m-90,9h2m14,-2h2m10,0h2m0,-4h2m4,1h2m1,2h2m6,0h2m2,-2h2m3,1h2m0,0h2m-41,5h2m3,0h2m6,5h2m2,0h2m-1,-1h2m1,-2h2m4,-2h2m4,-1h2m-1,4h2m0,-3h2m5,0h2m-2,3h2m-31,7h2m7,-1h2m-2,0h2m11,-4h2m-1,5h2m-14,2h2m0,5h2"/><path stroke="#0a0477" d="M2109,944h2m8,-4h2m-1,3h2m16,-1h2m-46,7h2m-2,2h2m3,-1h2m16,-1h2m-1,-3h2m5,1h2m-1,-1h2m15,4h2m-59,1h2m1,2h2m4,-1h2m3,1h2m1,0h2m7,-1h2m5,-1h2m0,2h2m-1,2h2m6,-1h2m2,-1h2m1,1h2m0,-2h2m-1,2h2m7,-2h2m2,4h2m4,-1h2m9,-2h2m-97,9h2m4,-1h2m8,-1h2m9,-1h2m3,-1h2m-1,4h2m5,-3h2m-2,4h2m2,-4h2m-1,0h2m2,3h2m1,1h2m1,-3h2m2,2h2m-1,-1h2m0,0h2m1,-1h2m8,1h2m5,-2h2m-1,3h2m0,-4h2m13,0h2m-102,7h2m6,1h2m-1,1h2m0,1h2m-2,1h2m4,-2h2m-2,1h2m9,-1h2m0,-2h2m4,1h2m-1,-1h2m0,0h2m-1,0h2m4,-1h2m3,0h2m3,-1h2m0,1h2m5,2h2m3,-2h2m2,-1h2m-2,3h2m-1,1h2m0,1h2m6,-1h2m-2,-3h2m1,2h2m-1,1h2m-106,3h2m14,1h2m0,-1h2m0,-1h2m5,1h2m1,2h2m0,-1h2m-1,-2h2m2,6h2m-1,-6h2m2,2h2m5,2h2m2,0h2m6,1h2m-1,0h2m4,-2h2m0,1h2m5,-2h2m-2,3h2m1,-1h2m2,-2h2m1,3h2m-1,0h2m3,-2h2m7,2h2m3,-1h2m1,1h2m3,0h2m-111,2h2m8,1h2m-1,-1h2m-1,3h2m2,-1h2m0,-1h2m0,-1h2m-2,5h2m-1,-2h2m-1,-1h2m-2,1h2m-1,0h2m1,-2h2m1,3h2m-1,0h2m-2,-1h2m3,-3h2m-1,2h2m-1,-3h2m-1,3h2m0,-1h2m-2,3h2m-1,-3h2m0,-2h2m-1,6h2m2,-5h2m-2,2h2m5,0h2m6,-1h2m1,3h2m1,-4h2m1,1h2m1,-2h2m0,1h2m0,0h2m0,-1h2m5,6h2m1,-1h2m0,-3h2m4,1h2m1,1h2m-2,-1h2m-1,3h2m9,-1h2m-126,6h2m1,-2h2m1,0h2m2,2h2m3,-5h2m0,3h2m5,1h2m1,-3h2m-1,0h2m-2,0h2m2,2h2m0,3h2m0,-2h2m0,-2h2m-2,0h2m-1,0h2m1,3h2m-1,-3h2m-1,2h2m-1,1h2m-1,-1h2m-1,0h2m-1,2h2m1,-5h2m4,3h2m2,-4h2m3,5h2m3,-2h2m0,0h2m2,2h2m4,0h2m0,0h2m-1,1h2m2,-2h2m2,-1h2m1,-2h2m-1,2h2m2,-1h2m-2,-1h2m-2,0h2m-1,4h2m-1,-3h2m1,3h2m1,1h2m2,-5h2m2,5h2m-1,-1h2m11,0h2m-138,5h2m9,-4h2m7,1h2m5,3h2m-1,-3h2m0,2h2m-2,2h2m-2,-3h2m0,-1h2m7,-1h2m2,4h2m-1,0h2m5,-2h2m-2,1h2m0,-1h2m5,-2h2m15,1h2m-2,2h2m-2,1h2m2,-2h2m0,2h2m13,-1h2m0,2h2m0,0h2m0,-4h2m-1,4h2m-2,1h2m-1,-3h2m-1,-3h2m1,6h2m-2,-2h2m-1,-4h2m-1,5h2m8,-1h2m0,-2h2m1,1h2m1,-1h2m8,0h2m-134,9h2m5,-3h2m-1,4h2m0,-3h2m1,0h2m-1,1h2m0,2h2m-2,-5h2m0,2h2m2,2h2m-2,1h2m0,0h2m-2,-1h2m1,-1h2m3,-3h2m0,1h2m-1,2h2m-1,0h2m-1,-2h2m0,1h2m-2,3h2m1,-6h2m-2,3h2m5,-2h2m4,0h2m4,4h2m8,-5h2m10,6h2m7,-2h2m1,-3h2m2,1h2m1,0h2m8,3h2m-2,0h2m0,0h2m-1,-2h2m5,1h2m4,-3h2m-131,9h2m0,-2h2m-2,0h2m5,4h2m4,-5h2m-2,-1h2m-1,0h2m-2,5h2m1,1h2m0,0h2m4,-2h2m-2,-3h2m3,2h2m5,2h2m6,-4h2m6,4h2m17,0h2m7,-3h2m5,0h2m3,0h2m-1,1h2m1,-1h2m-1,3h2m6,-2h2m2,-2h2m4,2h2m0,-1h2m6,2h2m11,-2h2m-147,6h2m4,1h2m2,-1h2m1,-1h2m4,5h2m0,-6h2m-1,6h2m-2,-4h2m-2,3h2m-1,1h2m-2,-4h2m-2,1h2m2,1h2m0,1h2m2,-1h2m-2,-2h2m0,-1h2m-1,2h2m6,1h2m-2,-4h2m13,4h2m5,1h2m16,-4h2m3,1h2m6,3h2m-2,-2h2m4,-1h2m0,-1h2m1,4h2m0,-5h2m3,3h2m3,-1h2m0,0h2m-2,-2h2m2,4h2m-121,3h2m4,0h2m0,-1h2m-1,3h2m0,-2h2m-1,3h2m0,1h2m1,-3h2m-2,2h2m-1,-3h2m3,1h2m1,3h2m0,-1h2m2,-1h2m-2,-2h2m0,3h2m0,-1h2m15,2h2m18,-3h2m18,-2h2m0,2h2m2,-1h2m2,-1h2m1,1h2m-2,3h2m1,-3h2m12,1h2m-1,-2h2m0,1h2m-124,6h2m1,0h2m1,0h2m2,0h2m4,1h2m-2,1h2m3,-1h2m-1,-2h2m4,6h2m3,-2h2m10,-1h2m27,-2h2m6,2h2m6,3h2m3,0h2m-1,-2h2m0,2h2m5,-3h2m-1,3h2m4,-1h2m-2,-3h2m-1,2h2m-1,-2h2m-2,1h2m-2,2h2m-114,5h2m0,-3h2m0,0h2m-1,4h2m0,0h2m5,-5h2m-1,3h2m0,1h2m1,-2h2m-2,-2h2m-2,4h2m-1,-1h2m1,1h2m6,-1h2m0,2h2m0,0h2m17,-2h2m13,2h2m2,-4h2m0,2h2m4,3h2m8,-2h2m1,0h2m2,-2h2m7,4h2m6,-2h2m6,1h2m6,0h2m-148,2h2m10,1h2m0,2h2m2,-3h2m3,2h2m0,-1h2m-1,-1h2m-1,2h2m0,-1h2m0,-1h2m-2,4h2m2,-3h2m0,-1h2m-1,3h2m-1,-4h2m10,3h2m-1,0h2m28,-1h2m-1,4h2m3,0h2m4,-4h2m2,3h2m-1,-4h2m-1,0h2m2,1h2m-2,0h2m-2,-1h2m0,1h2m2,2h2m-1,-3h2m-1,2h2m0,0h2m1,-2h2m-1,-1h2m-2,2h2m2,-1h2m9,4h2m-128,7h2m8,-1h2m1,-1h2m0,-3h2m0,3h2m-1,0h2m-1,0h2m2,-3h2m0,2h2m2,3h2m-1,-4h2m-2,4h2m6,-4h2m2,3h2m-2,-4h2m-2,5h2m-1,-1h2m-1,-3h2m-1,3h2m-2,-5h2m12,2h2m1,1h2m4,2h2m3,-4h2m1,1h2m2,-1h2m-2,0h2m0,5h2m1,-3h2m3,3h2m0,-4h2m3,0h2m4,3h2m-1,1h2m1,-2h2m-1,-3h2m3,1h2m0,4h2m0,-6h2m0,0h2m-1,2h2m-105,9h2m2,-3h2m-1,1h2m0,-1h2m-1,1h2m1,3h2m1,0h2m-1,-1h2m1,1h2m-1,-2h2m1,0h2m5,-2h2m-2,0h2m3,3h2m3,-4h2m2,2h2m-2,1h2m3,-3h2m1,2h2m0,0h2m1,-1h2m3,4h2m-2,-5h2m10,-1h2m4,1h2m1,5h2m-2,-5h2m1,1h2m-2,1h2m-1,-1h2m3,0h2m1,-1h2m-1,4h2m2,-5h2m0,2h2m-1,0h2m11,1h2m-130,4h2m3,4h2m1,0h2m5,-1h2m3,1h2m-1,-1h2m0,-2h2m1,-2h2m0,2h2m-2,3h2m0,-2h2m5,-1h2m-1,1h2m-2,1h2m-1,1h2m-2,-2h2m-2,-1h2m-1,3h2m-1,-1h2m7,-1h2m6,-2h2m3,1h2m9,-1h2m-2,0h2m1,2h2m1,1h2m1,1h2m-1,0h2m-2,-5h2m-1,1h2m0,0h2m1,1h2m0,0h2m0,-2h2m0,4h2m-1,-2h2m-2,-1h2m-1,0h2m-1,-1h2m-1,5h2m-2,-3h2m6,2h2m-1,-3h2m0,1h2m1,-2h2m0,2h2m4,3h2m-115,3h2m7,3h2m4,-2h2m3,0h2m-1,-1h2m-2,2h2m-2,1h2m5,1h2m2,-4h2m0,0h2m-1,0h2m-1,3h2m-2,0h2m-1,-1h2m3,-4h2m3,4h2m7,-4h2m3,2h2m3,2h2m-1,0h2m0,-1h2m-1,-3h2m-1,2h2m0,-1h2m6,0h2m0,1h2m2,1h2m6,-3h2m-107,10h2m11,1h2m0,0h2m1,-4h2m0,-1h2m-1,1h2m-1,4h2m-1,-3h2m-2,3h2m8,-1h2m-1,0h2m-2,-2h2m-1,-1h2m1,1h2m-1,1h2m-2,1h2m-1,-1h2m3,-3h2m0,0h2m0,3h2m0,-1h2m-1,1h2m-2,-3h2m-1,6h2m1,-3h2m0,1h2m-1,0h2m0,1h2m-1,-5h2m-2,3h2m-1,-1h2m8,0h2m0,-2h2m-2,4h2m-1,0h2m-2,-3h2m0,3h2m-1,0h2m-1,1h2m-2,0h2m0,-3h2m-1,4h2m0,-6h2m-2,3h2m3,1h2m10,1h2m-2,-2h2m0,-2h2m9,0h2m-98,6h2m0,5h2m10,-4h2m-1,3h2m0,-4h2m6,1h2m-1,1h2m-1,2h2m2,-4h2m7,2h2m0,3h2m-1,-4h2m1,-2h2m-1,2h2m3,2h2m3,-2h2m2,0h2m1,-2h2m3,5h2m41,-3h2m-120,9h2m11,-3h2m1,-1h2m1,4h2m1,-3h2m4,0h2m-2,1h2m0,2h2m3,-2h2m3,3h2m5,-2h2m-1,-2h2m1,0h2m1,2h2m-2,2h2m-1,-6h2m1,4h2m3,1h2m-2,-1h2m8,2h2m-1,-5h2m-31,6h2m23,4h2m7,0h2m-1,-1h2m-30,4h2m5,1h2m16,1h2m-25,5h2"/><path stroke="#1e0ccd" d="M2134,921h2m-79,5h2m38,1h2m14,-1h2m4,1h2m10,-2h2m16,0h2m0,1h2m17,-2h2m-126,9h2m7,-1h2m17,-5h2m15,3h2m5,0h2m7,0h2m-2,-1h2m3,-1h2m1,3h2m0,1h2m2,-3h2m-1,2h2m0,-3h2m9,1h2m0,-1h2m6,1h2m0,1h2m-2,-1h2m0,3h2m3,-1h2m-2,0h2m1,2h2m2,-1h2m1,1h2m3,-5h2m0,5h2m8,-4h2m-1,1h2m4,2h2m-161,6h2m12,-4h2m-1,2h2m-1,2h2m-2,-2h2m6,0h2m-2,2h2m-1,-1h2m-1,0h2m4,1h2m-1,-2h2m2,-2h2m-1,2h2m4,-2h2m-1,0h2m-1,2h2m-2,-2h2m11,1h2m1,-2h2m9,1h2m1,4h2m-1,-4h2m2,4h2m2,-3h2m-1,2h2m8,-4h2m12,1h2m-1,4h2m-1,-3h2m-1,-1h2m12,3h2m-2,0h2m19,-3h2m3,4h2m2,-1h2m7,1h2m15,-1h2m0,-1h2m-1,1h2m0,0h2m-1,1h2m-185,2h2m3,2h2m-1,0h2m-1,2h2m-1,0h2m6,-4h2m-2,4h2m1,-4h2m-1,1h2m2,-1h2m7,4h2m5,-2h2m0,-2h2m-1,1h2m36,3h2m49,-5h2m2,5h2m0,-3h2m-2,0h2m-2,0h2m5,2h2m-2,-3h2m5,4h2m2,-2h2m-1,1h2m4,-3h2m-1,4h2m13,-4h2m-1,0h2m3,1h2m8,1h2m-213,5h2m0,3h2m22,-4h2m5,-1h2m-1,3h2m2,0h2m-2,-2h2m-1,3h2m0,-2h2m0,-2h2m0,2h2m-1,-1h2m8,4h2m100,-1h2m3,1h2m0,1h2m12,0h2m2,-3h2m4,-1h2m12,0h2m-2,4h2m4,-6h2m13,2h2m-271,8h2m49,-2h2m0,0h2m1,-2h2m1,5h2m0,-1h2m-1,-3h2m4,1h2m1,-1h2m0,1h2m-1,3h2m1,0h2m-2,-5h2m22,6h2m15,-6h2m35,4h2m28,0h2m20,-2h2m-1,1h2m5,2h2m0,-2h2m4,-2h2m1,5h2m-1,-5h2m5,3h2m2,-1h2m-1,2h2m1,-5h2m0,0h2m6,5h2m5,1h2m-1,-4h2m-2,2h2m21,-1h2m-265,7h2m36,1h2m5,-2h2m13,2h2m7,-3h2m109,3h2m18,-1h2m4,-3h2m0,0h2m4,-1h2m-2,4h2m4,-2h2m3,4h2m2,-3h2m-248,6h2m12,1h2m7,2h2m6,-4h2m11,0h2m7,-1h2m3,0h2m0,0h2m0,2h2m-1,-2h2m2,-1h2m1,1h2m8,0h2m0,0h2m8,1h2m10,-1h2m114,4h2m0,-4h2m0,3h2m0,-1h2m-2,-2h2m2,0h2m-1,3h2m2,-2h2m-1,1h2m8,2h2m1,-2h2m-2,1h2m39,-1h2m-249,6h2m1,3h2m-1,-4h2m4,0h2m0,3h2m-1,-3h2m0,-1h2m0,4h2m0,-2h2m-1,1h2m6,-1h2m2,2h2m-1,-1h2m141,-2h2m10,3h2m-1,-2h2m4,2h2m-1,0h2m2,-5h2m-1,2h2m-2,3h2m2,0h2m1,-2h2m1,2h2m2,-3h2m-2,1h2m2,-3h2m-1,5h2m3,0h2m-271,5h2m35,-2h2m14,4h2m7,-6h2m13,3h2m0,-3h2m5,2h2m150,3h2m1,0h2m7,0h2m2,1h2m-2,0h2m-2,-4h2m0,0h2m5,0h2m2,4h2m0,-4h2m9,-2h2m-291,6h2m7,5h2m33,0h2m4,-2h2m0,-2h2m5,4h2m2,-3h2m-1,1h2m-1,1h2m1,-3h2m17,0h2m1,4h2m6,-1h2m121,-3h2m11,3h2m-1,0h2m0,2h2m9,-2h2m11,-3h2m6,3h2m-252,7h2m10,0h2m5,-1h2m0,-1h2m2,2h2m2,-4h2m0,1h2m5,-2h2m-2,6h2m1,0h2m10,-1h2m2,-2h2m-1,0h2m143,0h2m13,-2h2m5,4h2m11,-5h2m1,1h2m2,1h2m7,-2h2m-238,12h2m2,-2h2m2,1h2m-1,-1h2m4,0h2m3,-3h2m4,5h2m-1,-5h2m-2,3h2m7,-3h2m7,0h2m154,1h2m-2,1h2m15,2h2m0,-3h2m1,3h2m-1,-1h2m0,2h2m0,-6h2m-2,5h2m7,-2h2m11,3h2m-277,2h2m10,1h2m16,3h2m6,-2h2m0,-2h2m-1,-1h2m-1,0h2m2,1h2m-1,1h2m0,-1h2m0,-1h2m-2,3h2m1,-1h2m153,0h2m25,-1h2m2,-2h2m0,1h2m2,-1h2m7,3h2m9,2h2m-235,3h2m1,-2h2m-1,1h2m3,1h2m1,-1h2m6,1h2m1,3h2m-1,0h2m-1,-5h2m165,4h2m10,1h2m0,-3h2m0,-2h2m2,2h2m0,2h2m0,-3h2m-2,1h2m8,3h2m-240,4h2m2,-2h2m0,0h2m4,0h2m1,4h2m2,-4h2m2,1h2m-1,3h2m-2,-2h2m-1,-3h2m0,3h2m2,-1h2m5,3h2m12,-5h2m142,0h2m5,3h2m11,-1h2m0,2h2m0,-2h2m5,0h2m4,3h2m0,1h2m-1,-4h2m0,-1h2m-239,7h2m2,2h2m-1,-4h2m1,0h2m0,3h2m0,1h2m-1,-2h2m0,0h2m2,4h2m0,-3h2m12,1h2m1,-1h2m-1,0h2m2,1h2m151,-2h2m7,0h2m6,0h2m0,1h2m3,2h2m2,1h2m-1,-5h2m0,-1h2m8,3h2m2,0h2m-234,8h2m1,-4h2m22,2h2m3,0h2m-1,0h2m-2,1h2m4,1h2m0,-4h2m1,0h2m17,1h2m138,2h2m4,-4h2m3,5h2m0,-5h2m0,1h2m-230,11h2m13,-3h2m1,-2h2m-1,4h2m2,0h2m2,-1h2m1,-3h2m4,5h2m1,-6h2m3,0h2m157,4h2m4,1h2m0,-1h2m2,1h2m-1,-3h2m0,0h2m-1,0h2m10,2h2m0,-2h2m3,0h2m-2,3h2m-223,6h2m1,-3h2m0,1h2m2,0h2m-2,0h2m-1,-1h2m2,3h2m4,-4h2m12,5h2m-2,-3h2m2,2h2m139,-3h2m15,0h2m0,3h2m7,-5h2m1,3h2m-212,8h2m5,-2h2m-2,2h2m3,-4h2m4,3h2m-1,2h2m9,-1h2m147,-4h2m-1,2h2m5,-3h2m3,3h2m1,0h2m-1,2h2m6,0h2m-191,5h2m2,-3h2m5,1h2m176,3h2m-193,1h2m8,2h2m12,2h2m5,-3h2m147,1h2m-2,1h2m0,3h2m-171,1h2m-1,0h2m4,4h2m-2,1h2m3,-2h2m-2,1h2m1,1h2m147,-4h2m-1,-1h2m1,0h2m0,3h2m-34,5h2m9,2h2m-126,3h2m-2,-2h2m5,5h2m16,-3h2m-3,9h2m0,-4h2m30,-1h2m44,2h2m-81,5h2m-5,7h2m1,3h2m29,-2h2m2,1h2m17,-3h2m-42,8h2m0,1h2m26,0h2m-1,-3h2m13,2h2m0,0h2m-31,8h2m7,-4h2m-10,6h2m2,3h2m5,-4h2"/><path stroke="#1408a2" d="M2086,930h2m38,0h2m6,3h2m16,-2h2m-68,5h2m2,1h2m-2,0h2m1,-4h2m-1,6h2m0,-1h2m2,-1h2m-1,-3h2m1,-1h2m0,4h2m2,-2h2m0,3h2m-1,-3h2m2,-2h2m3,5h2m0,-3h2m4,2h2m-1,1h2m7,0h2m10,-1h2m2,0h2m0,1h2m4,1h2m-1,-1h2m11,0h2m1,-2h2m3,-1h2m0,3h2m-123,7h2m5,-4h2m8,2h2m7,0h2m-2,-2h2m-1,2h2m2,-2h2m-1,0h2m2,0h2m0,3h2m-1,0h2m0,-1h2m6,0h2m-2,1h2m1,-1h2m1,-2h2m3,-1h2m10,1h2m-2,2h2m0,-3h2m-1,4h2m5,1h2m1,-5h2m0,5h2m-1,-6h2m2,3h2m0,-3h2m4,3h2m7,2h2m20,0h2m1,-2h2m-153,8h2m17,0h2m2,-2h2m8,-1h2m1,2h2m0,1h2m-1,-4h2m-2,-1h2m-1,5h2m-1,-4h2m-1,-1h2m-1,4h2m-2,-1h2m7,2h2m1,1h2m-1,-1h2m0,1h2m8,-6h2m9,0h2m1,4h2m3,-1h2m6,3h2m-2,-5h2m0,0h2m0,2h2m1,-1h2m2,3h2m2,-2h2m2,1h2m-1,0h2m-1,-1h2m2,1h2m4,0h2m3,1h2m3,-2h2m-139,5h2m9,2h2m12,-3h2m7,4h2m6,-1h2m-2,2h2m-1,-6h2m0,6h2m-1,-2h2m1,0h2m-1,0h2m2,-3h2m-2,2h2m1,-2h2m4,0h2m2,0h2m7,-1h2m2,1h2m-2,1h2m-1,0h2m0,-1h2m-1,0h2m6,4h2m0,-5h2m15,5h2m2,-2h2m3,3h2m-2,-1h2m8,-1h2m-1,1h2m9,-2h2m-1,2h2m1,1h2m1,-2h2m8,-2h2m11,4h2m-188,0h2m7,4h2m4,-4h2m2,0h2m4,4h2m-1,-2h2m-1,-2h2m0,4h2m0,-2h2m-2,4h2m0,-1h2m-2,-2h2m2,1h2m2,0h2m2,-2h2m1,1h2m7,-2h2m2,2h2m-1,-1h2m-1,-2h2m1,2h2m3,1h2m-2,-2h2m5,1h2m4,-1h2m3,0h2m4,-1h2m5,2h2m8,0h2m6,2h2m4,1h2m2,-3h2m13,-2h2m3,1h2m5,4h2m1,0h2m8,-5h2m-162,12h2m2,-3h2m2,0h2m-1,-1h2m-1,4h2m-1,-1h2m2,-2h2m-2,-2h2m0,5h2m0,-4h2m-1,3h2m1,1h2m0,-6h2m-2,4h2m-1,1h2m-2,1h2m0,-4h2m-1,3h2m-1,-4h2m2,1h2m-1,2h2m-2,0h2m-2,0h2m2,2h2m8,-5h2m14,0h2m0,1h2m4,1h2m5,3h2m5,-4h2m0,-1h2m2,5h2m3,-4h2m6,3h2m1,0h2m7,-2h2m11,1h2m5,-3h2m4,4h2m10,-4h2m-1,5h2m-2,0h2m23,-1h2m-211,4h2m17,2h2m18,1h2m-2,-5h2m-2,3h2m3,-4h2m0,4h2m4,-4h2m-2,3h2m0,-2h2m-2,0h2m-1,3h2m-2,0h2m-1,-1h2m-2,2h2m-1,-2h2m4,-2h2m16,-1h2m-2,2h2m-1,0h2m4,-2h2m21,2h2m13,2h2m8,-3h2m3,1h2m1,-2h2m-2,1h2m0,-1h2m0,2h2m3,2h2m2,-3h2m-2,5h2m-1,-2h2m1,0h2m-2,-4h2m2,6h2m2,-3h2m-1,1h2m2,1h2m-2,-4h2m0,3h2m1,0h2m-1,1h2m2,-2h2m2,2h2m3,-4h2m-194,7h2m20,2h2m19,1h2m-1,-3h2m-1,-2h2m-2,4h2m4,-3h2m-1,0h2m-1,1h2m-2,2h2m3,-3h2m-2,-1h2m-1,4h2m1,-1h2m0,0h2m76,1h2m6,-3h2m11,2h2m1,0h2m0,3h2m-2,-4h2m2,0h2m0,4h2m0,-1h2m-2,-1h2m16,0h2m-181,3h2m4,2h2m0,-2h2m2,1h2m-2,1h2m1,-1h2m1,1h2m3,1h2m-2,0h2m3,1h2m-2,1h2m1,-6h2m2,1h2m0,1h2m-1,0h2m0,0h2m2,0h2m1,-1h2m2,2h2m3,1h2m13,-3h2m55,4h2m18,-4h2m-2,0h2m-1,3h2m-1,-1h2m0,-1h2m5,-1h2m1,3h2m2,1h2m1,-4h2m0,-1h2m0,3h2m10,-3h2m2,5h2m-192,6h2m2,-3h2m1,2h2m7,-1h2m1,2h2m-2,-3h2m1,-1h2m-2,4h2m-2,-4h2m1,4h2m6,-2h2m8,0h2m4,-2h2m0,2h2m95,-3h2m19,1h2m3,3h2m-1,2h2m-1,-1h2m-1,-3h2m-2,2h2m5,0h2m0,-3h2m5,1h2m-198,5h2m4,5h2m0,-1h2m7,-1h2m-2,-1h2m1,-1h2m-1,-1h2m0,-1h2m-1,3h2m-2,-1h2m5,-1h2m-1,2h2m-2,1h2m1,1h2m-2,-1h2m0,-2h2m6,2h2m0,-3h2m91,0h2m8,-1h2m1,2h2m-2,-1h2m4,0h2m6,3h2m2,0h2m-1,1h2m-2,0h2m4,-3h2m2,0h2m1,1h2m-1,-3h2m-194,10h2m6,-4h2m3,2h2m5,1h2m2,1h2m2,2h2m-2,-4h2m0,3h2m-2,1h2m9,-1h2m-1,-2h2m-1,-1h2m-2,-2h2m-2,1h2m3,1h2m8,4h2m97,-3h2m1,2h2m1,0h2m2,-4h2m1,4h2m-2,-2h2m5,-1h2m4,1h2m1,-1h2m6,1h2m-182,9h2m-2,-4h2m3,2h2m1,-3h2m0,-1h2m0,1h2m1,1h2m5,2h2m-1,-1h2m4,1h2m10,-2h2m1,3h2m93,-5h2m9,4h2m-1,-3h2m0,5h2m-1,-5h2m0,1h2m-1,3h2m-1,-2h2m1,2h2m-1,-5h2m0,2h2m1,0h2m1,-1h2m0,4h2m0,-4h2m4,0h2m-202,11h2m18,0h2m0,-5h2m-2,3h2m1,1h2m0,-4h2m-1,0h2m2,3h2m5,0h2m3,1h2m-1,1h2m7,-1h2m3,1h2m102,-4h2m-1,3h2m-1,-1h2m4,1h2m-1,-2h2m3,3h2m0,-3h2m2,0h2m2,0h2m-1,-3h2m12,5h2m-188,2h2m-1,1h2m5,4h2m-1,-4h2m1,0h2m6,0h2m-1,3h2m0,-1h2m-1,-1h2m3,2h2m2,-3h2m97,2h2m2,1h2m19,0h2m-2,-5h2m1,4h2m10,-2h2m2,-2h2m-178,10h2m4,-2h2m-2,2h2m6,-1h2m9,-3h2m-2,5h2m0,-1h2m2,-2h2m-2,1h2m1,-1h2m0,0h2m-1,-1h2m-2,2h2m1,0h2m103,0h2m17,3h2m1,-3h2m-2,-3h2m0,3h2m1,-1h2m-1,4h2m0,-2h2m-1,-3h2m-172,7h2m2,3h2m6,-5h2m-2,1h2m2,-1h2m-2,2h2m0,0h2m1,1h2m-1,-1h2m14,2h2m97,1h2m1,0h2m4,-3h2m2,4h2m-1,-3h2m-1,0h2m2,-1h2m-1,-1h2m1,4h2m-1,-1h2m-170,8h2m6,-5h2m-1,5h2m0,-5h2m-1,2h2m3,2h2m-1,-2h2m0,0h2m0,-1h2m-1,2h2m-2,0h2m0,-1h2m0,1h2m1,0h2m0,-3h2m7,0h2m6,1h2m3,2h2m80,1h2m0,-1h2m1,-2h2m12,4h2m1,-3h2m-2,0h2m4,-2h2m0,3h2m-1,0h2m3,-3h2m-2,0h2m4,0h2m-1,3h2m-2,-2h2m1,0h2m-181,5h2m11,3h2m3,1h2m-2,-4h2m5,3h2m-1,0h2m5,2h2m-1,-2h2m-1,2h2m13,-1h2m71,-2h2m4,-2h2m7,5h2m-1,-5h2m5,4h2m-2,1h2m0,-5h2m5,3h2m2,1h2m17,-4h2m1,2h2m-170,5h2m1,2h2m1,-3h2m0,3h2m-2,-2h2m0,0h2m0,3h2m-1,-3h2m1,1h2m1,2h2m0,-4h2m2,2h2m2,3h2m85,-2h2m1,0h2m8,-3h2m0,0h2m2,3h2m0,-2h2m0,3h2m23,-1h2m-158,4h2m5,-1h2m-2,1h2m1,2h2m1,1h2m2,-5h2m-2,1h2m5,1h2m-1,-1h2m10,0h2m56,3h2m-2,0h2m7,1h2m2,-2h2m0,-2h2m-1,2h2m1,3h2m5,-3h2m2,-2h2m0,3h2m1,-2h2m-1,1h2m14,-2h2m-148,6h2m2,0h2m-2,3h2m1,2h2m1,-6h2m3,0h2m-1,3h2m-1,-1h2m2,2h2m0,0h2m-1,1h2m5,-2h2m0,-1h2m8,-2h2m2,3h2m-2,-1h2m1,1h2m-1,0h2m17,3h2m36,-5h2m0,-1h2m-2,5h2m15,-1h2m8,1h2m-145,4h2m20,-1h2m-2,-2h2m1,6h2m2,0h2m4,-1h2m3,-1h2m4,1h2m2,1h2m1,-6h2m14,1h2m10,0h2m3,3h2m0,-1h2m3,-1h2m4,3h2m0,-2h2m6,2h2m0,-2h2m1,0h2m-2,-2h2m-1,5h2m-2,-2h2m5,0h2m-1,2h2m-2,-4h2m0,0h2m-2,1h2m-1,1h2m17,-2h2m-149,4h2m10,2h2m3,2h2m-1,-2h2m1,0h2m14,3h2m4,-5h2m-1,4h2m5,0h2m-1,1h2m4,1h2m-2,-3h2m0,1h2m2,1h2m3,-1h2m4,-1h2m1,0h2m1,1h2m2,0h2m0,-1h2m6,2h2m4,-3h2m1,-2h2m-2,4h2m8,-2h2m2,-1h2m-1,5h2m1,-4h2m5,2h2m-110,2h2m17,4h2m7,-3h2m0,4h2m7,1h2m-1,-3h2m7,-1h2m8,4h2m1,-2h2m12,1h2m1,0h2m9,-2h2m-2,3h2m2,-1h2m1,-1h2m-1,0h2m-2,0h2m-94,6h2m9,0h2m-2,-4h2m0,2h2m9,-2h2m-1,3h2m1,0h2m-1,-1h2m2,-1h2m0,0h2m1,2h2m-1,-1h2m2,0h2m0,1h2m4,-3h2m-2,4h2m-2,-1h2m1,3h2m-1,-2h2m13,-2h2m-2,0h2m-1,1h2m12,-2h2m-73,10h2m6,-4h2m15,1h2m7,1h2m-2,0h2m25,3h2m0,-2h2m2,-1h2m-50,3h2m-1,5h2m3,-4h2m-1,-1h2m4,1h2m0,2h2m2,3h2m6,-6h2m4,3h2m0,0h2m2,-1h2m-46,5h2m23,3h2m0,-3h2m12,-1h2m-24,8h2m8,1h2m-1,0h2"/><path stroke="#2810f8" d="M2127,914h2m-13,4h2m13,2h2m-1,-4h2m4,3h2m3,0h2m0,0h2m9,1h2m12,-3h2m-131,6h2m4,0h2m2,2h2m17,-2h2m19,1h2m1,2h2m-1,-3h2m-2,-1h2m-1,4h2m-1,-1h2m2,1h2m2,0h2m6,-2h2m4,-2h2m0,0h2m0,1h2m-2,-2h2m6,3h2m7,-1h2m-2,3h2m6,-4h2m16,2h2m-2,0h2m0,0h2m0,0h2m0,2h2m31,1h2m-182,4h2m3,2h2m3,0h2m6,-2h2m-1,-2h2m4,2h2m-1,-2h2m2,1h2m5,-3h2m2,1h2m36,1h2m22,0h2m-2,-2h2m11,1h2m9,-1h2m0,4h2m15,-1h2m6,-2h2m13,2h2m4,0h2m-1,0h2m1,-1h2m8,3h2m15,-1h2m-240,7h2m7,-4h2m6,3h2m7,-2h2m-2,1h2m4,-3h2m2,5h2m0,-5h2m12,3h2m0,-1h2m-1,0h2m-1,-2h2m156,4h2m-1,-3h2m3,2h2m0,-2h2m3,4h2m6,-4h2m-243,6h2m-1,5h2m10,0h2m-1,-2h2m2,-4h2m-2,5h2m0,-1h2m9,-2h2m-1,4h2m4,-2h2m-2,1h2m1,-1h2m8,-1h2m175,-1h2m4,2h2m-250,4h2m23,-1h2m-1,2h2m0,-2h2m1,3h2m2,2h2m1,-3h2m4,1h2m-2,0h2m0,-1h2m1,-1h2m7,1h2m2,-1h2m177,-2h2m12,6h2m2,-3h2m11,2h2m3,-3h2m-284,5h2m9,1h2m7,-2h2m-1,5h2m5,-2h2m-1,1h2m7,-3h2m4,2h2m-1,-1h2m192,0h2m6,4h2m5,-5h2m2,2h2m2,2h2m4,-5h2m0,4h2m-2,2h2m3,-2h2m5,-2h2m0,4h2m-284,4h2m1,0h2m-2,0h2m2,0h2m4,-2h2m-1,1h2m0,-1h2m2,0h2m2,4h2m4,-5h2m-2,3h2m4,-3h2m1,2h2m2,0h2m1,1h2m5,-4h2m197,5h2m7,-4h2m15,2h2m-1,-1h2m1,4h2m-1,-3h2m17,2h2m-314,6h2m6,-1h2m-1,1h2m0,-3h2m-1,-1h2m5,0h2m5,2h2m-2,2h2m2,-4h2m4,0h2m-2,0h2m-1,4h2m-2,-3h2m1,3h2m2,-1h2m-1,0h2m-1,-3h2m-1,-1h2m10,1h2m17,2h2m183,-1h2m5,-1h2m8,0h2m-1,4h2m-2,-1h2m5,-2h2m6,1h2m0,2h2m-301,2h2m4,0h2m-2,4h2m11,1h2m1,-6h2m0,4h2m-1,1h2m5,1h2m0,-1h2m-2,-2h2m2,-2h2m4,3h2m0,-1h2m-2,0h2m0,0h2m7,-1h2m15,-2h2m182,3h2m15,-2h2m-2,1h2m8,0h2m1,-1h2m6,1h2m-297,9h2m-1,-4h2m2,2h2m3,1h2m-1,0h2m0,-3h2m6,4h2m1,-3h2m-1,3h2m1,0h2m0,-1h2m8,-3h2m-2,2h2m-1,-2h2m-2,4h2m-1,0h2m3,-1h2m1,-1h2m-1,0h2m-1,-3h2m1,6h2m-1,-2h2m5,2h2m205,-6h2m4,0h2m3,5h2m-1,-5h2m-1,5h2m2,-4h2m1,2h2m-291,5h2m7,3h2m10,-3h2m-2,1h2m-2,3h2m0,-5h2m-2,0h2m7,0h2m1,0h2m-1,2h2m-2,0h2m0,2h2m1,-2h2m0,-3h2m-1,4h2m1,2h2m-1,-2h2m212,-1h2m1,2h2m2,-4h2m4,2h2m4,-2h2m1,5h2m1,-4h2m4,3h2m-277,7h2m3,0h2m-1,-6h2m-1,3h2m4,-1h2m-1,1h2m2,-2h2m4,3h2m0,2h2m-1,0h2m5,-4h2m1,0h2m0,0h2m2,3h2m213,-3h2m4,0h2m-1,0h2m3,3h2m-2,0h2m-282,2h2m5,2h2m11,-2h2m1,0h2m3,1h2m6,0h2m6,3h2m10,-4h2m201,4h2m-1,0h2m6,-3h2m15,-1h2m-283,6h2m5,1h2m4,2h2m1,-4h2m3,1h2m-1,0h2m5,4h2m-2,-3h2m-1,4h2m1,-1h2m2,-5h2m3,3h2m213,-3h2m24,5h2m-284,1h2m3,2h2m5,1h2m-2,1h2m-1,1h2m6,-2h2m1,-3h2m9,4h2m2,-1h2m0,-2h2m210,1h2m-242,9h2m5,-3h2m7,3h2m-2,-4h2m-1,2h2m6,-2h2m214,2h2m10,3h2m-1,-6h2m5,6h2m-255,3h2m-2,-3h2m-2,5h2m0,1h2m-1,-3h2m10,1h2m-1,0h2m-1,-1h2m14,0h2m210,-1h2m2,3h2m-254,4h2m0,2h2m0,-4h2m249,2h2m-252,6h2m1,0h2m7,-2h2m2,-1h2m221,0h2m3,6h2m1,-5h2m-237,7h2m10,4h2m-3,8h2m0,0h2m106,55h2"/><path stroke="#5e4cfa" d="M2102,902h2m23,-1h2m-37,4h2m5,4h2m2,-4h2m9,2h2m5,-3h2m10,2h2m2,2h2m6,-5h2m16,5h2m5,-3h2m-117,7h2m2,-2h2m3,-1h2m1,4h2m-1,-3h2m3,0h2m2,0h2m21,1h2m0,2h2m-1,0h2m7,-2h2m5,0h2m-1,3h2m-1,-2h2m1,-2h2m-1,-1h2m-1,0h2m5,3h2m5,-1h2m4,2h2m6,-3h2m-1,4h2m7,-4h2m4,2h2m-143,8h2m4,0h2m20,-3h2m5,0h2m13,0h2m22,-1h2m0,-1h2m12,2h2m-109,10h2m1,-1h2m24,-2h2m8,1h2m16,-1h2m37,-3h2m-118,9h2m63,-2h2m148,1h2m-209,8h2m8,-4h2m1,5h2m218,1h2m-1,-2h2m-251,7h2m9,-4h2m3,4h2m250,6h2m-284,6h2m36,-2h2m231,-2h2m1,3h2m-261,4h2m2,2h2m257,0h2m-244,4h2m6,-1h2m251,6h2m-288,7h2m-2,3h2m6,0h2m6,-2h2m-26,9h2m20,-3h2m-23,8h2m12,-1h2m10,27h2m-14,9h2"/></g><path d="M943,504V549.5H990.6" stroke="#000" stroke-width="1.8" fill="none"/><text x="941.4" y="566.0" font-size="14.9">UMAP1</text><text x="935.5" y="526.8" font-size="14.9" text-anchor="middle" transform="rotate(-90 935.5 526.8)">UMAP2</text><text x="1447.8" y="137.3" font-size="30.2" font-weight="bold">c</text><path d="M1615.6,160.2C1615.6,161.9 1615.6,167.0 1615.9,170.3C1616.2,173.7 1616.3,177.1 1617.1,180.4C1617.9,183.8 1618.5,187.2 1620.6,190.6C1622.6,193.9 1626.6,198.0 1629.7,200.7C1632.7,203.4 1634.9,204.4 1638.8,206.7C1642.6,209.1 1647.9,211.8 1652.9,214.8C1658.0,217.9 1664.0,221.6 1669.1,224.9C1674.1,228.3 1680.0,231.7 1683.2,235.1C1686.5,238.4 1687.1,242.5 1688.3,245.2C1689.5,247.9 1689.8,249.2 1690.3,251.2C1690.8,253.3 1691.8,254.9 1691.3,257.3C1690.8,259.7 1689.1,262.7 1687.3,265.4C1685.5,268.1 1683.3,270.8 1680.6,273.5C1677.9,276.2 1675.6,278.5 1671.1,281.6C1666.7,284.6 1659.5,288.3 1653.9,291.7C1648.4,295.0 1642.6,298.4 1637.7,301.8C1632.9,305.2 1627.9,308.5 1624.6,311.9C1621.3,315.3 1619.3,318.6 1617.9,322.0C1616.5,325.4 1616.5,328.8 1616.1,332.1C1615.7,335.5 1615.8,334.5 1615.7,342.2C1615.6,350.0 1615.6,372.6 1615.5,378.6C1615.5,384.7 1615.5,384.7 1615.5,378.6C1615.4,372.6 1615.4,350.0 1615.3,342.2C1615.2,334.5 1615.3,335.5 1614.9,332.1C1614.5,328.8 1614.5,325.4 1613.1,322.0C1611.7,318.6 1609.7,315.3 1606.4,311.9C1603.1,308.5 1598.1,305.2 1593.3,301.8C1588.4,298.4 1582.6,295.0 1577.1,291.7C1571.5,288.3 1564.3,284.6 1559.9,281.6C1555.4,278.5 1553.1,276.2 1550.4,273.5C1547.7,270.8 1545.5,268.1 1543.7,265.4C1541.9,262.7 1540.2,259.7 1539.7,257.3C1539.2,254.9 1540.2,253.3 1540.7,251.2C1541.2,249.2 1541.5,247.9 1542.7,245.2C1543.9,242.5 1544.5,238.4 1547.8,235.1C1551.0,231.7 1556.9,228.3 1561.9,224.9C1567.0,221.6 1573.0,217.9 1578.1,214.8C1583.1,211.8 1588.4,209.1 1592.2,206.7C1596.1,204.4 1598.3,203.4 1601.3,200.7C1604.4,198.0 1608.4,193.9 1610.4,190.6C1612.5,187.2 1613.1,183.8 1613.9,180.4C1614.7,177.1 1614.8,173.7 1615.1,170.3C1615.4,167.0 1615.4,161.9 1615.4,160.2C1615.5,158.5 1615.5,158.5 1615.6,160.2Z" fill="url(#vg)"/><clipPath id="cc"><rect x="1500" y="100" width="600" height="376.7"/></clipPath><path d="M1784.0,208.8C1784.1,212.5 1784.1,223.9 1784.5,231.0C1784.9,238.1 1785.6,245.5 1786.3,251.2C1787.1,257.0 1788.0,261.0 1789.0,265.4C1789.9,269.8 1791.2,273.5 1792.0,277.5C1792.8,281.6 1793.4,285.6 1793.6,289.7C1793.8,293.7 1792.8,297.7 1793.0,301.8C1793.2,305.8 1794.5,310.6 1795.0,313.9C1795.5,317.3 1795.9,319.3 1796.0,322.0C1796.1,324.7 1795.9,326.7 1795.6,330.1C1795.4,333.5 1794.3,338.5 1794.4,342.2C1794.5,345.9 1794.4,349.0 1796.0,352.3C1797.7,355.7 1800.8,359.1 1804.1,362.5C1807.5,365.8 1812.4,369.2 1816.3,372.6C1820.1,375.9 1823.8,379.3 1827.4,382.7C1830.9,386.1 1834.3,389.4 1837.5,392.8C1840.7,396.2 1843.9,399.5 1846.6,402.9C1849.3,406.3 1851.6,409.6 1853.7,413.0C1855.7,416.4 1857.7,420.6 1858.7,423.1C1859.7,425.7 1860.1,426.2 1859.7,428.2C1859.4,430.2 1859.2,432.7 1856.7,435.3C1854.2,437.8 1850.0,440.3 1844.6,443.4C1839.2,446.4 1830.8,450.1 1824.3,453.5C1817.9,456.8 1811.1,460.5 1806.1,463.6C1801.2,466.6 1797.2,469.4 1794.4,471.7C1791.6,474.0 1791.8,476.4 1789.2,477.3C1786.5,478.3 1781.3,478.3 1778.6,477.3C1776.0,476.4 1776.2,474.0 1773.4,471.7C1770.6,469.4 1766.6,466.6 1761.7,463.6C1756.7,460.5 1749.9,456.8 1743.5,453.5C1737.0,450.1 1728.6,446.4 1723.2,443.4C1717.8,440.3 1713.6,437.8 1711.1,435.3C1708.6,432.7 1708.4,430.2 1708.1,428.2C1707.7,426.2 1708.1,425.7 1709.1,423.1C1710.1,420.6 1712.1,416.4 1714.1,413.0C1716.2,409.6 1718.5,406.3 1721.2,402.9C1723.9,399.5 1727.1,396.2 1730.3,392.8C1733.5,389.4 1736.9,386.1 1740.4,382.7C1744.0,379.3 1747.7,375.9 1751.5,372.6C1755.4,369.2 1760.3,365.8 1763.7,362.5C1767.0,359.1 1770.1,355.7 1771.8,352.3C1773.4,349.0 1773.3,345.9 1773.4,342.2C1773.5,338.5 1772.4,333.5 1772.2,330.1C1771.9,326.7 1771.7,324.7 1771.8,322.0C1771.9,319.3 1772.3,317.3 1772.8,313.9C1773.3,310.6 1774.6,305.8 1774.8,301.8C1775.0,297.7 1774.0,293.7 1774.2,289.7C1774.4,285.6 1775.0,281.6 1775.8,277.5C1776.6,273.5 1777.9,269.8 1778.8,265.4C1779.8,261.0 1780.7,257.0 1781.5,251.2C1782.2,245.5 1782.9,238.1 1783.3,231.0C1783.7,223.9 1783.7,212.5 1783.8,208.8C1784.0,205.1 1783.8,205.1 1784.0,208.8Z" fill="url(#vg)" clip-path="url(#cc)"/><path d="M1952.7,198.7C1952.9,201.5 1952.9,211.5 1953.3,215.5C1953.8,219.5 1953.8,220.5 1955.6,222.9C1957.3,225.4 1959.9,227.9 1963.8,230.4C1967.6,232.9 1973.1,235.4 1978.7,237.8C1984.3,240.3 1991.1,242.8 1997.3,245.3C2003.5,247.8 2011.1,250.6 2015.9,252.7C2020.8,254.9 2024.3,256.9 2026.4,258.3C2028.4,259.8 2028.7,259.8 2028.2,261.3C2027.7,262.9 2026.7,265.3 2023.4,267.6C2020.1,269.9 2013.8,272.0 2008.5,275.1C2003.2,278.2 1995.3,283.2 1991.7,286.3C1988.1,289.4 1989.0,291.2 1986.9,293.7C1984.7,296.2 1982.2,298.7 1978.7,301.2C1975.1,303.7 1969.2,306.1 1965.6,308.6C1962.0,311.1 1958.9,313.6 1957.1,316.1C1955.2,318.6 1955.1,319.8 1954.5,323.5C1953.8,327.2 1953.6,334.0 1953.3,338.4C1953.1,342.9 1952.9,348.4 1952.7,350.3C1952.6,352.3 1952.6,352.3 1952.5,350.3C1952.3,348.4 1952.1,342.9 1951.9,338.4C1951.6,334.0 1951.4,327.2 1950.7,323.5C1950.1,319.8 1950.0,318.6 1948.1,316.1C1946.3,313.6 1943.2,311.1 1939.6,308.6C1936.0,306.1 1930.1,303.7 1926.5,301.2C1923.0,298.7 1920.5,296.2 1918.3,293.7C1916.2,291.2 1917.1,289.4 1913.5,286.3C1909.9,283.2 1902.0,278.2 1896.7,275.1C1891.4,272.0 1885.1,269.9 1881.8,267.6C1878.5,265.3 1877.5,262.9 1877.0,261.3C1876.5,259.8 1876.8,259.8 1878.8,258.3C1880.9,256.9 1884.4,254.9 1889.3,252.7C1894.1,250.6 1901.7,247.8 1907.9,245.3C1914.1,242.8 1920.9,240.3 1926.5,237.8C1932.1,235.4 1937.6,232.9 1941.4,230.4C1945.3,227.9 1947.9,225.4 1949.6,222.9C1951.4,220.5 1951.4,219.5 1951.9,215.5C1952.3,211.5 1952.3,201.5 1952.5,198.7C1952.6,195.9 1952.6,195.9 1952.7,198.7Z" fill="url(#vg)"/><path d="M1515.4,136V476.7H2054.3" stroke="#000" stroke-width="2.6" fill="none" stroke-linecap="square"/><path d="M1502.9,194.6L1515.2,194.6" stroke="#000" stroke-width="2.6" /><text x="1489.8" y="203.6" font-size="22.4" text-anchor="end">0.2</text><path d="M1502.9,307.1L1515.2,307.1" stroke="#000" stroke-width="2.6" /><text x="1489.8" y="316.1" font-size="22.4" text-anchor="end">0</text><path d="M1502.9,419.6L1515.2,419.6" stroke="#000" stroke-width="2.6" /><text x="1489.8" y="428.6" font-size="22.4" text-anchor="end">-0.2</text><path d="M1615.4,476.7L1615.4,489.4" stroke="#000" stroke-width="2.6" /><text x="1615.4" y="519.8" font-size="22.4" text-anchor="middle">CD14+ Mono</text><path d="M1784.2,476.7L1784.2,489.4" stroke="#000" stroke-width="2.6" /><text x="1784.2" y="519.8" font-size="22.4" text-anchor="middle">CD16+ Mono</text><path d="M1952.6,476.7L1952.6,489.4" stroke="#000" stroke-width="2.6" /><text x="1952.6" y="519.8" font-size="22.4" text-anchor="middle">DC</text><text x="1784.2" y="556.4" font-size="22.4" text-anchor="middle">Cell Type</text><text x="1426.6" y="306.8" font-size="22.4" text-anchor="middle" transform="rotate(-90 1426.6 306.8)">Abundance correlation</text><text x="333.6" y="799.9" font-size="30.2" font-weight="bold">d</text><text x="652.5" y="780.0" font-size="22.4" text-anchor="middle">Abundance correlation</text><rect x="558.4" y="794.4" width="193.3" height="9.7" fill="url(#cb1)" /><text x="551.0" y="810.8" font-size="22.4" text-anchor="end">Neg</text><text x="756.0" y="810.8" font-size="22.4">Pos</text><text x="654.8" y="1254.8" font-size="30.3" text-anchor="middle">Neighborhoods</text><text x="651.3" y="1292.3" font-size="22.4" text-anchor="middle">Expression</text><rect x="558.4" y="1298.6" width="193.3" height="9.8" fill="url(#cb2)" /><text x="549.8" y="1315.4" font-size="22.4" text-anchor="end">Low</text><text x="756.0" y="1315.4" font-size="22.4">High</text><text x="166.0" y="1070.2" font-size="30.2" text-anchor="middle" transform="rotate(-90 166.0 1070.2)">Genes</text><rect x="333.7" y="842.1" width="642.5" height="30.0" fill="url(#phg)" /><g stroke-width="1.8" fill="none" clip-path="url(#hc)"><path stroke="#ffd1d0" d="M489.7,918.1v30.0M502.7,918.1v30.0M509.2,918.1v30.0M513.1,918.1v30.0M515.7,918.1v30.0M546.9,918.1v30.0M562.5,918.1v30.0M575.5,918.1v30.0M579.4,918.1v30.0M580.7,918.1v30.0M587.2,918.1v30.0M615.8,918.1v30.0M623.6,918.1v30.0M634.0,918.1v30.0M636.6,918.1v30.0M644.4,918.1v30.0M648.3,918.1v30.0M649.6,918.1v30.0M650.9,918.1v30.0M656.1,918.1v30.0M657.4,918.1v30.0M661.3,918.1v30.0M671.7,918.1v30.0M674.3,918.1v30.0M678.2,918.1v30.0M680.8,918.1v30.0M686.0,918.1v30.0M688.6,918.1v30.0M693.8,918.1v30.0M699.0,918.1v30.0M702.9,918.1v30.0M717.2,918.1v30.0M721.1,918.1v30.0M722.4,918.1v30.0M723.7,918.1v30.0M731.5,918.1v30.0M734.1,918.1v30.0M735.4,918.1v30.0M739.3,918.1v30.0M749.7,918.1v30.0M753.6,918.1v30.0M754.9,918.1v30.0M756.2,918.1v30.0M760.1,918.1v30.0M766.6,918.1v30.0M767.9,918.1v30.0M773.1,918.1v30.0M788.7,918.1v30.0M800.4,918.1v30.0M810.8,918.1v30.0M816.0,918.1v30.0M822.5,918.1v30.0M830.3,918.1v30.0M851.1,918.1v30.0M857.6,918.1v30.0M879.7,918.1v30.0M882.3,918.1v30.0M883.6,918.1v30.0M884.9,918.1v30.0M896.6,918.1v30.0M897.9,918.1v30.0M900.5,918.1v30.0M908.3,918.1v30.0M910.9,918.1v30.0M923.9,918.1v30.0M938.2,918.1v30.0M946.0,918.1v30.0M947.3,918.1v30.0M951.2,918.1v30.0"/><path stroke="#ffe8e8" d="M492.3,918.1v30.0M493.6,918.1v30.0M497.5,918.1v30.0M498.8,918.1v30.0M527.4,918.1v30.0M544.3,918.1v30.0M548.2,918.1v30.0M550.8,918.1v30.0M565.1,918.1v30.0M567.7,918.1v30.0M576.8,918.1v30.0M595.0,918.1v30.0M596.3,918.1v30.0M602.8,918.1v30.0M605.4,918.1v30.0M606.7,918.1v30.0M610.6,918.1v30.0M613.2,918.1v30.0M618.4,918.1v30.0M621.0,918.1v30.0M626.2,918.1v30.0M639.2,918.1v30.0M643.1,918.1v30.0M660.0,918.1v30.0M675.6,918.1v30.0M695.1,918.1v30.0M708.1,918.1v30.0M709.4,918.1v30.0M715.9,918.1v30.0M719.8,918.1v30.0M736.7,918.1v30.0M740.6,918.1v30.0M743.2,918.1v30.0M745.8,918.1v30.0M748.4,918.1v30.0M752.3,918.1v30.0M757.5,918.1v30.0M761.4,918.1v30.0M770.5,918.1v30.0M771.8,918.1v30.0M778.3,918.1v30.0M779.6,918.1v30.0M786.1,918.1v30.0M790.0,918.1v30.0M797.8,918.1v30.0M817.3,918.1v30.0M821.2,918.1v30.0M825.1,918.1v30.0M826.4,918.1v30.0M844.6,918.1v30.0M862.8,918.1v30.0M869.3,918.1v30.0M874.5,918.1v30.0M888.8,918.1v30.0M891.4,918.1v30.0M899.2,918.1v30.0M912.2,918.1v30.0M933.0,918.1v30.0M939.5,918.1v30.0M944.7,918.1v30.0M961.6,918.1v30.0M973.3,918.1v30.0M975.9,918.1v30.0"/><path stroke="#ffbab8" d="M494.9,918.1v30.0M496.2,918.1v30.0M500.1,918.1v30.0M511.8,918.1v30.0M518.3,918.1v30.0M523.5,918.1v30.0M535.2,918.1v30.0M537.8,918.1v30.0M539.1,918.1v30.0M545.6,918.1v30.0M554.7,918.1v30.0M558.6,918.1v30.0M569.0,918.1v30.0M570.3,918.1v30.0M585.9,918.1v30.0M588.5,918.1v30.0M589.8,918.1v30.0M598.9,918.1v30.0M608.0,918.1v30.0M627.5,918.1v30.0M640.5,918.1v30.0M641.8,918.1v30.0M645.7,918.1v30.0M653.5,918.1v30.0M662.6,918.1v30.0M666.5,918.1v30.0M673.0,918.1v30.0M676.9,918.1v30.0M679.5,918.1v30.0M692.5,918.1v30.0M696.4,918.1v30.0M697.7,918.1v30.0M704.2,918.1v30.0M713.3,918.1v30.0M714.6,918.1v30.0M725.0,918.1v30.0M727.6,918.1v30.0M728.9,918.1v30.0M765.3,918.1v30.0M775.7,918.1v30.0M777.0,918.1v30.0M783.5,918.1v30.0M796.5,918.1v30.0M804.3,918.1v30.0M814.7,918.1v30.0M829.0,918.1v30.0M832.9,918.1v30.0M838.1,918.1v30.0M840.7,918.1v30.0M866.7,918.1v30.0M873.2,918.1v30.0M875.8,918.1v30.0M881.0,918.1v30.0M886.2,918.1v30.0M890.1,918.1v30.0M901.8,918.1v30.0M903.1,918.1v30.0M927.8,918.1v30.0M970.7,918.1v30.0"/><path stroke="#04025d" d="M335.0,918.1v30.0M337.6,918.1v30.0M340.2,918.1v30.0M341.5,918.1v30.0M348.0,918.1v30.0M351.9,918.1v30.0M353.2,918.1v30.0M355.8,918.1v30.0M359.7,918.1v30.0M361.0,918.1v30.0M362.3,918.1v30.0M363.6,918.1v30.0M364.9,918.1v30.0M368.8,918.1v30.0M374.0,918.1v30.0M376.6,918.1v30.0M379.2,918.1v30.0M381.8,918.1v30.0M385.7,918.1v30.0M388.3,918.1v30.0M389.6,918.1v30.0M390.9,918.1v30.0M393.5,918.1v30.0M397.4,918.1v30.0M400.0,918.1v30.0M405.2,918.1v30.0M409.1,918.1v30.0M413.0,918.1v30.0M415.6,918.1v30.0M416.9,918.1v30.0M418.2,918.1v30.0M419.5,918.1v30.0M420.8,918.1v30.0M422.1,918.1v30.0M423.4,918.1v30.0M426.0,918.1v30.0M427.3,918.1v30.0M435.1,918.1v30.0M439.0,918.1v30.0M442.9,918.1v30.0M450.7,918.1v30.0M453.3,918.1v30.0M455.9,918.1v30.0M457.2,918.1v30.0M461.1,918.1v30.0M467.6,918.1v30.0M471.5,918.1v30.0M472.8,918.1v30.0M476.7,918.1v30.0"/><path stroke="#08036e" d="M333.7,918.1v30.0M336.3,918.1v30.0M342.8,918.1v30.0M344.1,918.1v30.0M346.7,918.1v30.0M350.6,918.1v30.0M357.1,918.1v30.0M358.4,918.1v30.0M366.2,918.1v30.0M367.5,918.1v30.0M371.4,918.1v30.0M377.9,918.1v30.0M383.1,918.1v30.0M387.0,918.1v30.0M392.2,918.1v30.0M394.8,918.1v30.0M398.7,918.1v30.0M401.3,918.1v30.0M402.6,918.1v30.0M403.9,918.1v30.0M406.5,918.1v30.0M407.8,918.1v30.0M410.4,918.1v30.0M411.7,918.1v30.0M424.7,918.1v30.0M429.9,918.1v30.0M431.2,918.1v30.0M432.5,918.1v30.0M433.8,918.1v30.0M436.4,918.1v30.0M440.3,918.1v30.0M444.2,918.1v30.0M445.5,918.1v30.0M446.8,918.1v30.0M452.0,918.1v30.0M454.6,918.1v30.0M458.5,918.1v30.0M459.8,918.1v30.0M463.7,918.1v30.0M465.0,918.1v30.0M466.3,918.1v30.0M470.2,918.1v30.0M475.4,918.1v30.0"/><path stroke="#ffffff" d="M504.0,918.1v30.0M522.2,918.1v30.0M524.8,918.1v30.0M530.0,918.1v30.0M531.3,918.1v30.0M541.7,918.1v30.0M553.4,918.1v30.0M557.3,918.1v30.0M572.9,918.1v30.0M574.2,918.1v30.0M583.3,918.1v30.0M584.6,918.1v30.0M591.1,918.1v30.0M617.1,918.1v30.0M632.7,918.1v30.0M654.8,918.1v30.0M658.7,918.1v30.0M689.9,918.1v30.0M706.8,918.1v30.0M741.9,918.1v30.0M747.1,918.1v30.0M769.2,918.1v30.0M784.8,918.1v30.0M787.4,918.1v30.0M799.1,918.1v30.0M808.2,918.1v30.0M823.8,918.1v30.0M827.7,918.1v30.0M847.2,918.1v30.0M858.9,918.1v30.0M870.6,918.1v30.0M887.5,918.1v30.0M895.3,918.1v30.0M907.0,918.1v30.0M917.4,918.1v30.0M926.5,918.1v30.0M929.1,918.1v30.0M940.8,918.1v30.0M949.9,918.1v30.0M956.4,918.1v30.0M965.5,918.1v30.0M969.4,918.1v30.0M974.6,918.1v30.0"/><path stroke="#ffa3a1" d="M528.7,918.1v30.0M540.4,918.1v30.0M552.1,918.1v30.0M556.0,918.1v30.0M563.8,918.1v30.0M566.4,918.1v30.0M578.1,918.1v30.0M582.0,918.1v30.0M592.4,918.1v30.0M593.7,918.1v30.0M611.9,918.1v30.0M628.8,918.1v30.0M635.3,918.1v30.0M652.2,918.1v30.0M663.9,918.1v30.0M667.8,918.1v30.0M710.7,918.1v30.0M712.0,918.1v30.0M726.3,918.1v30.0M738.0,918.1v30.0M744.5,918.1v30.0M751.0,918.1v30.0M764.0,918.1v30.0M792.6,918.1v30.0M793.9,918.1v30.0M801.7,918.1v30.0M809.5,918.1v30.0M812.1,918.1v30.0M819.9,918.1v30.0M831.6,918.1v30.0M836.8,918.1v30.0M848.5,918.1v30.0M855.0,918.1v30.0M865.4,918.1v30.0M909.6,918.1v30.0M913.5,918.1v30.0M914.8,918.1v30.0M916.1,918.1v30.0M918.7,918.1v30.0M935.6,918.1v30.0"/><path stroke="#eae7fe" d="M479.3,918.1v30.0M481.9,918.1v30.0M483.2,918.1v30.0M506.6,918.1v30.0M536.5,918.1v30.0M597.6,918.1v30.0M601.5,918.1v30.0M614.5,918.1v30.0M619.7,918.1v30.0M682.1,918.1v30.0M700.3,918.1v30.0M701.6,918.1v30.0M791.3,918.1v30.0M805.6,918.1v30.0M839.4,918.1v30.0M852.4,918.1v30.0M861.5,918.1v30.0M864.1,918.1v30.0M868.0,918.1v30.0M892.7,918.1v30.0M894.0,918.1v30.0M920.0,918.1v30.0M921.3,918.1v30.0M922.6,918.1v30.0M925.2,918.1v30.0M931.7,918.1v30.0M943.4,918.1v30.0M953.8,918.1v30.0M968.1,918.1v30.0M972.0,918.1v30.0"/><path stroke="#ff8c8a" d="M491.0,918.1v30.0M514.4,918.1v30.0M520.9,918.1v30.0M543.0,918.1v30.0M559.9,918.1v30.0M624.9,918.1v30.0M665.2,918.1v30.0M684.7,918.1v30.0M705.5,918.1v30.0M758.8,918.1v30.0M762.7,918.1v30.0M803.0,918.1v30.0M813.4,918.1v30.0M853.7,918.1v30.0M877.1,918.1v30.0M905.7,918.1v30.0M960.3,918.1v30.0"/><path stroke="#0c0580" d="M338.9,918.1v30.0M345.4,918.1v30.0M349.3,918.1v30.0M370.1,918.1v30.0M372.7,918.1v30.0M375.3,918.1v30.0M384.4,918.1v30.0M396.1,918.1v30.0M414.3,918.1v30.0M428.6,918.1v30.0M437.7,918.1v30.0M449.4,918.1v30.0M462.4,918.1v30.0M468.9,918.1v30.0M474.1,918.1v30.0"/><path stroke="#d4cffe" d="M478.0,918.1v30.0M501.4,918.1v30.0M517.0,918.1v30.0M519.6,918.1v30.0M622.3,918.1v30.0M647.0,918.1v30.0M669.1,918.1v30.0M806.9,918.1v30.0M845.9,918.1v30.0M856.3,918.1v30.0M936.9,918.1v30.0M962.9,918.1v30.0M964.2,918.1v30.0"/><path stroke="#beb7fd" d="M484.5,918.1v30.0M485.8,918.1v30.0M687.3,918.1v30.0M730.2,918.1v30.0M732.8,918.1v30.0M795.2,918.1v30.0M818.6,918.1v30.0M843.3,918.1v30.0M849.8,918.1v30.0M952.5,918.1v30.0M957.7,918.1v30.0M959.0,918.1v30.0"/><path stroke="#9488fc" d="M487.1,918.1v30.0M507.9,918.1v30.0M510.5,918.1v30.0M532.6,918.1v30.0M670.4,918.1v30.0M904.4,918.1v30.0M934.3,918.1v30.0M948.6,918.1v30.0"/><path stroke="#ff7672" d="M505.3,918.1v30.0M600.2,918.1v30.0M630.1,918.1v30.0M637.9,918.1v30.0M718.5,918.1v30.0M834.2,918.1v30.0M878.4,918.1v30.0M930.4,918.1v30.0"/><path stroke="#a99ffc" d="M480.6,918.1v30.0M533.9,918.1v30.0M631.4,918.1v30.0M683.4,918.1v30.0M871.9,918.1v30.0M955.1,918.1v30.0M966.8,918.1v30.0"/><path stroke="#ff5f5a" d="M488.4,918.1v30.0M549.5,918.1v30.0M609.3,918.1v30.0M691.2,918.1v30.0M782.2,918.1v30.0"/><path stroke="#100691" d="M354.5,918.1v30.0M441.6,918.1v30.0M448.1,918.1v30.0"/><path stroke="#ff4843" d="M604.1,918.1v30.0M774.4,918.1v30.0M780.9,918.1v30.0"/><path stroke="#7e70fb" d="M526.1,918.1v30.0M942.1,918.1v30.0"/><path stroke="#ff312c" d="M842.0,918.1v30.0M860.2,918.1v30.0"/><path stroke="#180ab3" d="M380.5,918.1v30.0"/><path stroke="#5340f9" d="M561.2,918.1v30.0"/><path stroke="#6958fa" d="M571.6,918.1v30.0"/><path stroke="#ff1a14" d="M835.5,918.1v30.0"/></g><g stroke-width="1.8" fill="none" clip-path="url(#hc)" opacity="0.5"><path stroke="#ffd1d0" d="M491.6,918.1v30.0M498.1,918.1v30.0M525.4,918.1v30.0M528.0,918.1v30.0M537.1,918.1v30.0M541.0,918.1v30.0M543.6,918.1v30.0M544.9,918.1v30.0M551.4,918.1v30.0M556.6,918.1v30.0M561.9,918.1v30.0M564.4,918.1v30.0M565.8,918.1v30.0M573.5,918.1v30.0M583.9,918.1v30.0M593.0,918.1v30.0M598.2,918.1v30.0M599.5,918.1v30.0M600.9,918.1v30.0M603.4,918.1v30.0M621.6,918.1v30.0M628.1,918.1v30.0M630.8,918.1v30.0M639.9,918.1v30.0M651.5,918.1v30.0M654.1,918.1v30.0M655.4,918.1v30.0M673.6,918.1v30.0M693.1,918.1v30.0M694.4,918.1v30.0M702.2,918.1v30.0M704.9,918.1v30.0M710.0,918.1v30.0M720.4,918.1v30.0M724.4,918.1v30.0M732.1,918.1v30.0M734.8,918.1v30.0M750.4,918.1v30.0M751.6,918.1v30.0M756.9,918.1v30.0M758.1,918.1v30.0M762.0,918.1v30.0M777.6,918.1v30.0M782.9,918.1v30.0M786.8,918.1v30.0M788.0,918.1v30.0M789.4,918.1v30.0M794.5,918.1v30.0M795.9,918.1v30.0M798.4,918.1v30.0M823.1,918.1v30.0M828.4,918.1v30.0M836.1,918.1v30.0M840.1,918.1v30.0M856.9,918.1v30.0M866.1,918.1v30.0M876.4,918.1v30.0M879.1,918.1v30.0M884.2,918.1v30.0M897.2,918.1v30.0M898.6,918.1v30.0M902.4,918.1v30.0M910.2,918.1v30.0M919.4,918.1v30.0M927.1,918.1v30.0M929.7,918.1v30.0M933.6,918.1v30.0M934.9,918.1v30.0M937.6,918.1v30.0M964.9,918.1v30.0"/><path stroke="#ffbab8" d="M494.2,918.1v30.0M496.8,918.1v30.0M500.8,918.1v30.0M505.9,918.1v30.0M507.2,918.1v30.0M509.8,918.1v30.0M520.2,918.1v30.0M560.5,918.1v30.0M578.8,918.1v30.0M580.0,918.1v30.0M589.1,918.1v30.0M595.6,918.1v30.0M596.9,918.1v30.0M617.8,918.1v30.0M619.0,918.1v30.0M624.2,918.1v30.0M626.9,918.1v30.0M634.6,918.1v30.0M637.2,918.1v30.0M645.0,918.1v30.0M646.4,918.1v30.0M661.9,918.1v30.0M668.4,918.1v30.0M671.0,918.1v30.0M676.2,918.1v30.0M681.4,918.1v30.0M698.4,918.1v30.0M706.1,918.1v30.0M728.2,918.1v30.0M733.4,918.1v30.0M739.9,918.1v30.0M741.2,918.1v30.0M752.9,918.1v30.0M759.4,918.1v30.0M763.4,918.1v30.0M767.2,918.1v30.0M801.0,918.1v30.0M803.6,918.1v30.0M806.2,918.1v30.0M815.4,918.1v30.0M825.8,918.1v30.0M834.9,918.1v30.0M837.4,918.1v30.0M838.8,918.1v30.0M841.4,918.1v30.0M842.6,918.1v30.0M845.2,918.1v30.0M851.7,918.1v30.0M854.4,918.1v30.0M858.2,918.1v30.0M863.4,918.1v30.0M868.6,918.1v30.0M872.6,918.1v30.0M873.9,918.1v30.0M890.7,918.1v30.0M903.7,918.1v30.0M905.1,918.1v30.0M906.4,918.1v30.0M908.9,918.1v30.0M912.9,918.1v30.0M916.7,918.1v30.0M921.9,918.1v30.0M932.4,918.1v30.0M940.1,918.1v30.0M944.1,918.1v30.0M954.4,918.1v30.0"/><path stroke="#04025d" d="M335.6,918.1v30.0M338.2,918.1v30.0M339.5,918.1v30.0M340.8,918.1v30.0M344.7,918.1v30.0M346.0,918.1v30.0M347.3,918.1v30.0M352.5,918.1v30.0M353.8,918.1v30.0M355.1,918.1v30.0M357.7,918.1v30.0M359.0,918.1v30.0M360.3,918.1v30.0M361.6,918.1v30.0M364.2,918.1v30.0M368.1,918.1v30.0M369.4,918.1v30.0M370.7,918.1v30.0M372.0,918.1v30.0M373.3,918.1v30.0M378.5,918.1v30.0M379.8,918.1v30.0M383.7,918.1v30.0M385.0,918.1v30.0M386.3,918.1v30.0M387.6,918.1v30.0M390.2,918.1v30.0M391.5,918.1v30.0M395.4,918.1v30.0M398.0,918.1v30.0M399.3,918.1v30.0M404.5,918.1v30.0M405.8,918.1v30.0M408.4,918.1v30.0M414.9,918.1v30.0M416.2,918.1v30.0M417.5,918.1v30.0M421.4,918.1v30.0M424.0,918.1v30.0M430.5,918.1v30.0M442.2,918.1v30.0M446.1,918.1v30.0M451.3,918.1v30.0M456.5,918.1v30.0M459.1,918.1v30.0M461.8,918.1v30.0M468.2,918.1v30.0M470.8,918.1v30.0M472.1,918.1v30.0M474.8,918.1v30.0M476.0,918.1v30.0M477.3,918.1v30.0"/><path stroke="#ffe8e8" d="M490.3,918.1v30.0M492.9,918.1v30.0M511.1,918.1v30.0M521.5,918.1v30.0M522.9,918.1v30.0M529.4,918.1v30.0M531.9,918.1v30.0M535.9,918.1v30.0M550.1,918.1v30.0M554.0,918.1v30.0M557.9,918.1v30.0M585.2,918.1v30.0M594.4,918.1v30.0M602.1,918.1v30.0M643.8,918.1v30.0M647.6,918.1v30.0M669.8,918.1v30.0M672.4,918.1v30.0M678.9,918.1v30.0M682.8,918.1v30.0M684.0,918.1v30.0M689.2,918.1v30.0M690.5,918.1v30.0M697.0,918.1v30.0M711.4,918.1v30.0M712.6,918.1v30.0M715.2,918.1v30.0M719.1,918.1v30.0M726.9,918.1v30.0M738.6,918.1v30.0M746.4,918.1v30.0M747.8,918.1v30.0M764.6,918.1v30.0M765.9,918.1v30.0M769.9,918.1v30.0M773.8,918.1v30.0M790.6,918.1v30.0M791.9,918.1v30.0M814.0,918.1v30.0M820.5,918.1v30.0M830.9,918.1v30.0M847.9,918.1v30.0M860.9,918.1v30.0M864.7,918.1v30.0M899.9,918.1v30.0M901.1,918.1v30.0M907.6,918.1v30.0M951.9,918.1v30.0M957.1,918.1v30.0M975.2,918.1v30.0"/><path stroke="#ffffff" d="M548.9,918.1v30.0M552.8,918.1v30.0M555.4,918.1v30.0M569.6,918.1v30.0M570.9,918.1v30.0M577.4,918.1v30.0M582.6,918.1v30.0M586.5,918.1v30.0M606.0,918.1v30.0M612.5,918.1v30.0M620.4,918.1v30.0M622.9,918.1v30.0M638.5,918.1v30.0M642.4,918.1v30.0M648.9,918.1v30.0M650.2,918.1v30.0M659.4,918.1v30.0M674.9,918.1v30.0M677.5,918.1v30.0M680.1,918.1v30.0M686.6,918.1v30.0M695.8,918.1v30.0M703.5,918.1v30.0M708.8,918.1v30.0M723.0,918.1v30.0M736.0,918.1v30.0M742.5,918.1v30.0M743.9,918.1v30.0M778.9,918.1v30.0M816.6,918.1v30.0M850.4,918.1v30.0M875.1,918.1v30.0M880.4,918.1v30.0M882.9,918.1v30.0M888.1,918.1v30.0M895.9,918.1v30.0M911.6,918.1v30.0M915.4,918.1v30.0M925.9,918.1v30.0M941.4,918.1v30.0M942.7,918.1v30.0M946.6,918.1v30.0M947.9,918.1v30.0M950.6,918.1v30.0M953.1,918.1v30.0M963.6,918.1v30.0M976.6,918.1v30.0"/><path stroke="#08036e" d="M334.3,918.1v30.0M343.4,918.1v30.0M348.6,918.1v30.0M365.5,918.1v30.0M366.8,918.1v30.0M374.6,918.1v30.0M375.9,918.1v30.0M377.2,918.1v30.0M388.9,918.1v30.0M394.1,918.1v30.0M396.8,918.1v30.0M400.6,918.1v30.0M409.8,918.1v30.0M412.3,918.1v30.0M413.6,918.1v30.0M418.8,918.1v30.0M420.1,918.1v30.0M422.8,918.1v30.0M426.6,918.1v30.0M427.9,918.1v30.0M434.4,918.1v30.0M435.8,918.1v30.0M437.0,918.1v30.0M438.3,918.1v30.0M439.6,918.1v30.0M443.5,918.1v30.0M447.4,918.1v30.0M448.8,918.1v30.0M450.0,918.1v30.0M452.6,918.1v30.0M453.9,918.1v30.0M455.2,918.1v30.0M457.8,918.1v30.0M464.3,918.1v30.0M466.9,918.1v30.0M469.5,918.1v30.0M473.4,918.1v30.0"/><path stroke="#ffa3a1" d="M489.0,918.1v30.0M503.3,918.1v30.0M517.6,918.1v30.0M533.2,918.1v30.0M563.1,918.1v30.0M590.4,918.1v30.0M604.8,918.1v30.0M616.4,918.1v30.0M625.5,918.1v30.0M652.9,918.1v30.0M663.2,918.1v30.0M664.5,918.1v30.0M691.9,918.1v30.0M716.5,918.1v30.0M721.8,918.1v30.0M725.6,918.1v30.0M730.9,918.1v30.0M737.4,918.1v30.0M755.5,918.1v30.0M768.5,918.1v30.0M775.0,918.1v30.0M793.2,918.1v30.0M810.1,918.1v30.0M817.9,918.1v30.0M843.9,918.1v30.0M846.6,918.1v30.0M859.6,918.1v30.0M881.6,918.1v30.0M893.4,918.1v30.0M894.6,918.1v30.0M914.1,918.1v30.0M962.2,918.1v30.0"/><path stroke="#eae7fe" d="M487.8,918.1v30.0M524.1,918.1v30.0M542.4,918.1v30.0M546.2,918.1v30.0M559.2,918.1v30.0M567.0,918.1v30.0M574.9,918.1v30.0M581.4,918.1v30.0M587.9,918.1v30.0M609.9,918.1v30.0M615.1,918.1v30.0M629.4,918.1v30.0M685.4,918.1v30.0M729.5,918.1v30.0M749.0,918.1v30.0M772.4,918.1v30.0M804.9,918.1v30.0M807.5,918.1v30.0M869.9,918.1v30.0M920.6,918.1v30.0M923.2,918.1v30.0M931.1,918.1v30.0M938.9,918.1v30.0M945.4,918.1v30.0"/><path stroke="#ff8c8a" d="M499.4,918.1v30.0M516.4,918.1v30.0M526.8,918.1v30.0M539.8,918.1v30.0M547.5,918.1v30.0M576.1,918.1v30.0M611.2,918.1v30.0M613.9,918.1v30.0M633.4,918.1v30.0M641.1,918.1v30.0M660.6,918.1v30.0M687.9,918.1v30.0M700.9,918.1v30.0M745.1,918.1v30.0M771.1,918.1v30.0M776.4,918.1v30.0M808.9,918.1v30.0M832.2,918.1v30.0M833.6,918.1v30.0M862.1,918.1v30.0M867.4,918.1v30.0M871.2,918.1v30.0M889.4,918.1v30.0M967.4,918.1v30.0"/><path stroke="#0c0580" d="M336.9,918.1v30.0M351.2,918.1v30.0M356.4,918.1v30.0M362.9,918.1v30.0M382.4,918.1v30.0M392.8,918.1v30.0M403.2,918.1v30.0M407.1,918.1v30.0M411.0,918.1v30.0M425.3,918.1v30.0M429.2,918.1v30.0M431.8,918.1v30.0M440.9,918.1v30.0M444.8,918.1v30.0M460.4,918.1v30.0M463.0,918.1v30.0M465.6,918.1v30.0"/><path stroke="#d4cffe" d="M478.6,918.1v30.0M513.8,918.1v30.0M518.9,918.1v30.0M534.5,918.1v30.0M572.2,918.1v30.0M656.8,918.1v30.0M784.1,918.1v30.0M811.4,918.1v30.0M827.0,918.1v30.0M829.6,918.1v30.0M918.1,918.1v30.0M924.6,918.1v30.0M928.4,918.1v30.0M936.2,918.1v30.0M966.1,918.1v30.0M968.7,918.1v30.0M971.4,918.1v30.0"/><path stroke="#ff7672" d="M504.6,918.1v30.0M512.4,918.1v30.0M530.6,918.1v30.0M538.4,918.1v30.0M658.0,918.1v30.0M802.4,918.1v30.0M812.8,918.1v30.0M821.9,918.1v30.0M824.4,918.1v30.0M849.1,918.1v30.0M886.9,918.1v30.0"/><path stroke="#ff5f5a" d="M495.5,918.1v30.0M635.9,918.1v30.0M665.9,918.1v30.0M760.8,918.1v30.0M781.5,918.1v30.0M799.8,918.1v30.0M819.2,918.1v30.0M892.1,918.1v30.0M970.1,918.1v30.0"/><path stroke="#9488fc" d="M486.4,918.1v30.0M502.0,918.1v30.0M632.0,918.1v30.0M699.6,918.1v30.0M780.2,918.1v30.0M855.6,918.1v30.0M885.6,918.1v30.0M972.6,918.1v30.0"/><path stroke="#a99ffc" d="M481.2,918.1v30.0M482.5,918.1v30.0M485.1,918.1v30.0M754.2,918.1v30.0M797.1,918.1v30.0M958.4,918.1v30.0M959.6,918.1v30.0"/><path stroke="#beb7fd" d="M479.9,918.1v30.0M483.8,918.1v30.0M515.0,918.1v30.0M608.6,918.1v30.0"/><path stroke="#7e70fb" d="M568.4,918.1v30.0M853.1,918.1v30.0M955.7,918.1v30.0M960.9,918.1v30.0"/><path stroke="#100691" d="M342.1,918.1v30.0M381.1,918.1v30.0M433.1,918.1v30.0"/><path stroke="#1408a2" d="M349.9,918.1v30.0M401.9,918.1v30.0"/><path stroke="#ff312c" d="M508.5,918.1v30.0M591.8,918.1v30.0"/><path stroke="#f21813" d="M607.4,918.1v30.0M707.4,918.1v30.0"/><path stroke="#ff1a14" d="M667.1,918.1v30.0M717.9,918.1v30.0"/><path stroke="#6958fa" d="M713.9,918.1v30.0M949.2,918.1v30.0"/><path stroke="#ff4843" d="M785.4,918.1v30.0M877.7,918.1v30.0"/><path stroke="#5340f9" d="M973.9,918.1v30.0"/></g><rect x="330.7" y="914.1" width="648.5" height="4.0" fill="#fff" /><rect x="330.7" y="948.1" width="648.5" height="4.0" fill="#fff" /><g stroke-width="1.8" fill="none" clip-path="url(#hc)"><path stroke="#ffe8e8" d="M505.3,956.1v30.0M506.6,956.1v30.0M513.1,956.1v30.0M514.4,956.1v30.0M523.5,956.1v30.0M535.2,956.1v30.0M540.4,956.1v30.0M553.4,956.1v30.0M554.7,956.1v30.0M557.3,956.1v30.0M583.3,956.1v30.0M592.4,956.1v30.0M601.5,956.1v30.0M608.0,956.1v30.0M617.1,956.1v30.0M622.3,956.1v30.0M624.9,956.1v30.0M627.5,956.1v30.0M630.1,956.1v30.0M632.7,956.1v30.0M657.4,956.1v30.0M669.1,956.1v30.0M673.0,956.1v30.0M674.3,956.1v30.0M684.7,956.1v30.0M686.0,956.1v30.0M687.3,956.1v30.0M688.6,956.1v30.0M693.8,956.1v30.0M695.1,956.1v30.0M706.8,956.1v30.0M710.7,956.1v30.0M714.6,956.1v30.0M718.5,956.1v30.0M719.8,956.1v30.0M723.7,956.1v30.0M726.3,956.1v30.0M734.1,956.1v30.0M738.0,956.1v30.0M745.8,956.1v30.0M752.3,956.1v30.0M756.2,956.1v30.0M762.7,956.1v30.0M764.0,956.1v30.0M765.3,956.1v30.0M769.2,956.1v30.0M778.3,956.1v30.0M782.2,956.1v30.0M787.4,956.1v30.0M790.0,956.1v30.0M792.6,956.1v30.0M797.8,956.1v30.0M800.4,956.1v30.0M808.2,956.1v30.0M809.5,956.1v30.0M813.4,956.1v30.0M816.0,956.1v30.0M817.3,956.1v30.0M829.0,956.1v30.0M830.3,956.1v30.0M831.6,956.1v30.0M836.8,956.1v30.0M847.2,956.1v30.0M866.7,956.1v30.0M875.8,956.1v30.0M883.6,956.1v30.0M884.9,956.1v30.0M899.2,956.1v30.0M905.7,956.1v30.0M910.9,956.1v30.0M922.6,956.1v30.0M926.5,956.1v30.0M927.8,956.1v30.0M929.1,956.1v30.0M931.7,956.1v30.0M936.9,956.1v30.0M939.5,956.1v30.0M940.8,956.1v30.0M942.1,956.1v30.0M956.4,956.1v30.0M957.7,956.1v30.0"/><path stroke="#ffffff" d="M492.3,956.1v30.0M520.9,956.1v30.0M531.3,956.1v30.0M533.9,956.1v30.0M544.3,956.1v30.0M563.8,956.1v30.0M567.7,956.1v30.0M570.3,956.1v30.0M584.6,956.1v30.0M587.2,956.1v30.0M591.1,956.1v30.0M593.7,956.1v30.0M606.7,956.1v30.0M614.5,956.1v30.0M619.7,956.1v30.0M626.2,956.1v30.0M643.1,956.1v30.0M647.0,956.1v30.0M658.7,956.1v30.0M675.6,956.1v30.0M680.8,956.1v30.0M696.4,956.1v30.0M700.3,956.1v30.0M701.6,956.1v30.0M702.9,956.1v30.0M709.4,956.1v30.0M712.0,956.1v30.0M715.9,956.1v30.0M717.2,956.1v30.0M725.0,956.1v30.0M730.2,956.1v30.0M731.5,956.1v30.0M739.3,956.1v30.0M743.2,956.1v30.0M757.5,956.1v30.0M761.4,956.1v30.0M767.9,956.1v30.0M770.5,956.1v30.0M783.5,956.1v30.0M788.7,956.1v30.0M801.7,956.1v30.0M803.0,956.1v30.0M818.6,956.1v30.0M822.5,956.1v30.0M825.1,956.1v30.0M826.4,956.1v30.0M834.2,956.1v30.0M838.1,956.1v30.0M839.4,956.1v30.0M843.3,956.1v30.0M844.6,956.1v30.0M862.8,956.1v30.0M874.5,956.1v30.0M877.1,956.1v30.0M878.4,956.1v30.0M886.2,956.1v30.0M887.5,956.1v30.0M896.6,956.1v30.0M903.1,956.1v30.0M917.4,956.1v30.0M921.3,956.1v30.0M944.7,956.1v30.0M947.3,956.1v30.0M949.9,956.1v30.0M953.8,956.1v30.0M960.3,956.1v30.0M968.1,956.1v30.0"/><path stroke="#ffd1d0" d="M488.4,956.1v30.0M536.5,956.1v30.0M539.1,956.1v30.0M545.6,956.1v30.0M556.0,956.1v30.0M558.6,956.1v30.0M571.6,956.1v30.0M578.1,956.1v30.0M582.0,956.1v30.0M589.8,956.1v30.0M604.1,956.1v30.0M605.4,956.1v30.0M613.2,956.1v30.0M623.6,956.1v30.0M631.4,956.1v30.0M636.6,956.1v30.0M650.9,956.1v30.0M652.2,956.1v30.0M653.5,956.1v30.0M661.3,956.1v30.0M666.5,956.1v30.0M667.8,956.1v30.0M676.9,956.1v30.0M678.2,956.1v30.0M692.5,956.1v30.0M697.7,956.1v30.0M708.1,956.1v30.0M735.4,956.1v30.0M741.9,956.1v30.0M751.0,956.1v30.0M753.6,956.1v30.0M786.1,956.1v30.0M791.3,956.1v30.0M795.2,956.1v30.0M799.1,956.1v30.0M810.8,956.1v30.0M821.2,956.1v30.0M823.8,956.1v30.0M835.5,956.1v30.0M848.5,956.1v30.0M849.8,956.1v30.0M858.9,956.1v30.0M860.2,956.1v30.0M864.1,956.1v30.0M879.7,956.1v30.0M901.8,956.1v30.0M908.3,956.1v30.0M913.5,956.1v30.0M951.2,956.1v30.0M959.0,956.1v30.0M964.2,956.1v30.0M973.3,956.1v30.0"/><path stroke="#eae7fe" d="M496.2,956.1v30.0M497.5,956.1v30.0M500.1,956.1v30.0M507.9,956.1v30.0M515.7,956.1v30.0M518.3,956.1v30.0M526.1,956.1v30.0M530.0,956.1v30.0M549.5,956.1v30.0M569.0,956.1v30.0M585.9,956.1v30.0M621.0,956.1v30.0M634.0,956.1v30.0M645.7,956.1v30.0M665.2,956.1v30.0M683.4,956.1v30.0M704.2,956.1v30.0M705.5,956.1v30.0M748.4,956.1v30.0M771.8,956.1v30.0M774.4,956.1v30.0M793.9,956.1v30.0M805.6,956.1v30.0M832.9,956.1v30.0M856.3,956.1v30.0M868.0,956.1v30.0M869.3,956.1v30.0M873.2,956.1v30.0M892.7,956.1v30.0M904.4,956.1v30.0M909.6,956.1v30.0M916.1,956.1v30.0M918.7,956.1v30.0M925.2,956.1v30.0M930.4,956.1v30.0M933.0,956.1v30.0M948.6,956.1v30.0M961.6,956.1v30.0M962.9,956.1v30.0M965.5,956.1v30.0M966.8,956.1v30.0M974.6,956.1v30.0"/><path stroke="#ffbab8" d="M494.9,956.1v30.0M498.8,956.1v30.0M511.8,956.1v30.0M517.0,956.1v30.0M522.2,956.1v30.0M524.8,956.1v30.0M527.4,956.1v30.0M537.8,956.1v30.0M546.9,956.1v30.0M550.8,956.1v30.0M552.1,956.1v30.0M559.9,956.1v30.0M565.1,956.1v30.0M575.5,956.1v30.0M588.5,956.1v30.0M598.9,956.1v30.0M609.3,956.1v30.0M610.6,956.1v30.0M618.4,956.1v30.0M628.8,956.1v30.0M635.3,956.1v30.0M639.2,956.1v30.0M644.4,956.1v30.0M648.3,956.1v30.0M699.0,956.1v30.0M744.5,956.1v30.0M760.1,956.1v30.0M766.6,956.1v30.0M812.1,956.1v30.0M814.7,956.1v30.0M819.9,956.1v30.0M855.0,956.1v30.0M857.6,956.1v30.0M881.0,956.1v30.0M882.3,956.1v30.0M891.4,956.1v30.0M894.0,956.1v30.0M907.0,956.1v30.0M920.0,956.1v30.0M923.9,956.1v30.0"/><path stroke="#1408a2" d="M341.5,956.1v30.0M349.3,956.1v30.0M351.9,956.1v30.0M358.4,956.1v30.0M361.0,956.1v30.0M363.6,956.1v30.0M367.5,956.1v30.0M374.0,956.1v30.0M377.9,956.1v30.0M383.1,956.1v30.0M387.0,956.1v30.0M396.1,956.1v30.0M397.4,956.1v30.0M398.7,956.1v30.0M400.0,956.1v30.0M409.1,956.1v30.0M416.9,956.1v30.0M432.5,956.1v30.0M439.0,956.1v30.0M449.4,956.1v30.0M454.6,956.1v30.0M458.5,956.1v30.0M461.1,956.1v30.0"/><path stroke="#180ab3" d="M333.7,956.1v30.0M336.3,956.1v30.0M342.8,956.1v30.0M350.6,956.1v30.0M353.2,956.1v30.0M357.1,956.1v30.0M364.9,956.1v30.0M389.6,956.1v30.0M394.8,956.1v30.0M406.5,956.1v30.0M423.4,956.1v30.0M426.0,956.1v30.0M436.4,956.1v30.0M440.3,956.1v30.0M441.6,956.1v30.0M455.9,956.1v30.0M459.8,956.1v30.0M463.7,956.1v30.0M468.9,956.1v30.0M472.8,956.1v30.0M474.1,956.1v30.0"/><path stroke="#ffa3a1" d="M489.7,956.1v30.0M519.6,956.1v30.0M541.7,956.1v30.0M561.2,956.1v30.0M566.4,956.1v30.0M596.3,956.1v30.0M597.6,956.1v30.0M611.9,956.1v30.0M654.8,956.1v30.0M727.6,956.1v30.0M732.8,956.1v30.0M773.1,956.1v30.0M827.7,956.1v30.0M840.7,956.1v30.0M853.7,956.1v30.0M861.5,956.1v30.0M870.6,956.1v30.0M890.1,956.1v30.0M900.5,956.1v30.0M946.0,956.1v30.0M975.9,956.1v30.0"/><path stroke="#1c0bc4" d="M344.1,956.1v30.0M345.4,956.1v30.0M359.7,956.1v30.0M362.3,956.1v30.0M375.3,956.1v30.0M380.5,956.1v30.0M393.5,956.1v30.0M407.8,956.1v30.0M420.8,956.1v30.0M437.7,956.1v30.0M442.9,956.1v30.0M444.2,956.1v30.0M445.5,956.1v30.0M448.1,956.1v30.0M457.2,956.1v30.0M462.4,956.1v30.0M465.0,956.1v30.0M466.3,956.1v30.0M475.4,956.1v30.0"/><path stroke="#beb7fd" d="M478.0,956.1v30.0M480.6,956.1v30.0M484.5,956.1v30.0M501.4,956.1v30.0M528.7,956.1v30.0M595.0,956.1v30.0M615.8,956.1v30.0M637.9,956.1v30.0M656.1,956.1v30.0M660.0,956.1v30.0M662.6,956.1v30.0M728.9,956.1v30.0M754.9,956.1v30.0M779.6,956.1v30.0M796.5,956.1v30.0M851.1,956.1v30.0M943.4,956.1v30.0"/><path stroke="#d4cffe" d="M509.2,956.1v30.0M562.5,956.1v30.0M574.2,956.1v30.0M679.5,956.1v30.0M740.6,956.1v30.0M747.1,956.1v30.0M775.7,956.1v30.0M777.0,956.1v30.0M780.9,956.1v30.0M804.3,956.1v30.0M845.9,956.1v30.0M852.4,956.1v30.0M888.8,956.1v30.0M914.8,956.1v30.0M952.5,956.1v30.0"/><path stroke="#ff8c8a" d="M532.6,956.1v30.0M543.0,956.1v30.0M548.2,956.1v30.0M640.5,956.1v30.0M663.9,956.1v30.0M671.7,956.1v30.0M689.9,956.1v30.0M691.2,956.1v30.0M722.4,956.1v30.0M736.7,956.1v30.0M865.4,956.1v30.0M934.3,956.1v30.0M935.6,956.1v30.0M938.2,956.1v30.0"/><path stroke="#240ee7" d="M372.7,956.1v30.0M381.8,956.1v30.0M388.3,956.1v30.0M402.6,956.1v30.0M405.2,956.1v30.0M410.4,956.1v30.0M419.5,956.1v30.0M422.1,956.1v30.0M428.6,956.1v30.0M429.9,956.1v30.0M431.2,956.1v30.0M471.5,956.1v30.0"/><path stroke="#200dd6" d="M335.0,956.1v30.0M340.2,956.1v30.0M371.4,956.1v30.0M379.2,956.1v30.0M385.7,956.1v30.0M411.7,956.1v30.0M413.0,956.1v30.0M433.8,956.1v30.0M467.6,956.1v30.0M470.2,956.1v30.0M476.7,956.1v30.0"/><path stroke="#a99ffc" d="M479.3,956.1v30.0M483.2,956.1v30.0M485.8,956.1v30.0M502.7,956.1v30.0M579.4,956.1v30.0M580.7,956.1v30.0M600.2,956.1v30.0M649.6,956.1v30.0M897.9,956.1v30.0M955.1,956.1v30.0"/><path stroke="#100691" d="M348.0,956.1v30.0M366.2,956.1v30.0M370.1,956.1v30.0M384.4,956.1v30.0M403.9,956.1v30.0M414.3,956.1v30.0M427.3,956.1v30.0M446.8,956.1v30.0M452.0,956.1v30.0"/><path stroke="#2810f8" d="M337.6,956.1v30.0M346.7,956.1v30.0M368.8,956.1v30.0M401.3,956.1v30.0M415.6,956.1v30.0M435.1,956.1v30.0M453.3,956.1v30.0M970.7,956.1v30.0"/><path stroke="#ff7672" d="M493.6,956.1v30.0M504.0,956.1v30.0M721.1,956.1v30.0M758.8,956.1v30.0M842.0,956.1v30.0M871.9,956.1v30.0M912.2,956.1v30.0M969.4,956.1v30.0"/><path stroke="#7e70fb" d="M491.0,956.1v30.0M510.5,956.1v30.0M572.9,956.1v30.0M670.4,956.1v30.0M784.8,956.1v30.0M895.3,956.1v30.0"/><path stroke="#9488fc" d="M481.9,956.1v30.0M487.1,956.1v30.0M602.8,956.1v30.0M806.9,956.1v30.0M972.0,956.1v30.0"/><path stroke="#08036e" d="M354.5,956.1v30.0M355.8,956.1v30.0M376.6,956.1v30.0"/><path stroke="#0c0580" d="M418.2,956.1v30.0M424.7,956.1v30.0M450.7,956.1v30.0"/><path stroke="#6958fa" d="M576.8,956.1v30.0M641.8,956.1v30.0"/><path stroke="#ff5f5a" d="M713.3,956.1v30.0M749.7,956.1v30.0"/><path stroke="#00004c" d="M338.9,956.1v30.0"/><path stroke="#3e28f9" d="M390.9,956.1v30.0"/><path stroke="#5340f9" d="M392.2,956.1v30.0"/><path stroke="#ff1a14" d="M682.1,956.1v30.0"/></g><g stroke-width="1.8" fill="none" clip-path="url(#hc)" opacity="0.5"><path stroke="#ffe8e8" d="M490.3,956.1v30.0M494.2,956.1v30.0M495.5,956.1v30.0M496.8,956.1v30.0M498.1,956.1v30.0M504.6,956.1v30.0M517.6,956.1v30.0M529.4,956.1v30.0M531.9,956.1v30.0M533.2,956.1v30.0M538.4,956.1v30.0M546.2,956.1v30.0M563.1,956.1v30.0M572.2,956.1v30.0M578.8,956.1v30.0M581.4,956.1v30.0M583.9,956.1v30.0M586.5,956.1v30.0M587.9,956.1v30.0M594.4,956.1v30.0M595.6,956.1v30.0M596.9,956.1v30.0M603.4,956.1v30.0M604.8,956.1v30.0M617.8,956.1v30.0M621.6,956.1v30.0M625.5,956.1v30.0M645.0,956.1v30.0M659.4,956.1v30.0M664.5,956.1v30.0M669.8,956.1v30.0M672.4,956.1v30.0M681.4,956.1v30.0M686.6,956.1v30.0M689.2,956.1v30.0M695.8,956.1v30.0M710.0,956.1v30.0M711.4,956.1v30.0M717.9,956.1v30.0M729.5,956.1v30.0M730.9,956.1v30.0M738.6,956.1v30.0M743.9,956.1v30.0M746.4,956.1v30.0M751.6,956.1v30.0M769.9,956.1v30.0M785.4,956.1v30.0M791.9,956.1v30.0M793.2,956.1v30.0M794.5,956.1v30.0M812.8,956.1v30.0M828.4,956.1v30.0M830.9,956.1v30.0M833.6,956.1v30.0M836.1,956.1v30.0M851.7,956.1v30.0M853.1,956.1v30.0M855.6,956.1v30.0M859.6,956.1v30.0M860.9,956.1v30.0M863.4,956.1v30.0M867.4,956.1v30.0M868.6,956.1v30.0M879.1,956.1v30.0M880.4,956.1v30.0M889.4,956.1v30.0M890.7,956.1v30.0M893.4,956.1v30.0M897.2,956.1v30.0M898.6,956.1v30.0M911.6,956.1v30.0M932.4,956.1v30.0M937.6,956.1v30.0M940.1,956.1v30.0M949.2,956.1v30.0M950.6,956.1v30.0M953.1,956.1v30.0M954.4,956.1v30.0M973.9,956.1v30.0"/><path stroke="#ffd1d0" d="M502.0,956.1v30.0M505.9,956.1v30.0M509.8,956.1v30.0M512.4,956.1v30.0M513.8,956.1v30.0M518.9,956.1v30.0M524.1,956.1v30.0M526.8,956.1v30.0M528.0,956.1v30.0M544.9,956.1v30.0M548.9,956.1v30.0M551.4,956.1v30.0M565.8,956.1v30.0M574.9,956.1v30.0M577.4,956.1v30.0M591.8,956.1v30.0M598.2,956.1v30.0M599.5,956.1v30.0M602.1,956.1v30.0M609.9,956.1v30.0M620.4,956.1v30.0M633.4,956.1v30.0M635.9,956.1v30.0M637.2,956.1v30.0M638.5,956.1v30.0M641.1,956.1v30.0M642.4,956.1v30.0M647.6,956.1v30.0M648.9,956.1v30.0M655.4,956.1v30.0M676.2,956.1v30.0M707.4,956.1v30.0M708.8,956.1v30.0M713.9,956.1v30.0M715.2,956.1v30.0M719.1,956.1v30.0M723.0,956.1v30.0M724.4,956.1v30.0M737.4,956.1v30.0M739.9,956.1v30.0M742.5,956.1v30.0M750.4,956.1v30.0M768.5,956.1v30.0M798.4,956.1v30.0M802.4,956.1v30.0M806.2,956.1v30.0M814.0,956.1v30.0M815.4,956.1v30.0M816.6,956.1v30.0M817.9,956.1v30.0M820.5,956.1v30.0M825.8,956.1v30.0M837.4,956.1v30.0M838.8,956.1v30.0M842.6,956.1v30.0M843.9,956.1v30.0M858.2,956.1v30.0M872.6,956.1v30.0M876.4,956.1v30.0M881.6,956.1v30.0M886.9,956.1v30.0M894.6,956.1v30.0M903.7,956.1v30.0M910.2,956.1v30.0M914.1,956.1v30.0M915.4,956.1v30.0M916.7,956.1v30.0M921.9,956.1v30.0M941.4,956.1v30.0M942.7,956.1v30.0M944.1,956.1v30.0M945.4,956.1v30.0M960.9,956.1v30.0M962.2,956.1v30.0M976.6,956.1v30.0"/><path stroke="#ffffff" d="M489.0,956.1v30.0M491.6,956.1v30.0M511.1,956.1v30.0M515.0,956.1v30.0M520.2,956.1v30.0M525.4,956.1v30.0M530.6,956.1v30.0M534.5,956.1v30.0M535.9,956.1v30.0M539.8,956.1v30.0M543.6,956.1v30.0M547.5,956.1v30.0M554.0,956.1v30.0M561.9,956.1v30.0M570.9,956.1v30.0M593.0,956.1v30.0M608.6,956.1v30.0M613.9,956.1v30.0M616.4,956.1v30.0M622.9,956.1v30.0M624.2,956.1v30.0M629.4,956.1v30.0M652.9,956.1v30.0M663.2,956.1v30.0M678.9,956.1v30.0M680.1,956.1v30.0M702.2,956.1v30.0M706.1,956.1v30.0M712.6,956.1v30.0M732.1,956.1v30.0M734.8,956.1v30.0M745.1,956.1v30.0M755.5,956.1v30.0M763.4,956.1v30.0M771.1,956.1v30.0M773.8,956.1v30.0M781.5,956.1v30.0M834.9,956.1v30.0M841.4,956.1v30.0M846.6,956.1v30.0M862.1,956.1v30.0M864.7,956.1v30.0M866.1,956.1v30.0M869.9,956.1v30.0M899.9,956.1v30.0M901.1,956.1v30.0M923.2,956.1v30.0M947.9,956.1v30.0M955.7,956.1v30.0M964.9,956.1v30.0M967.4,956.1v30.0M972.6,956.1v30.0"/><path stroke="#ffbab8" d="M507.2,956.1v30.0M508.5,956.1v30.0M541.0,956.1v30.0M555.4,956.1v30.0M556.6,956.1v30.0M557.9,956.1v30.0M568.4,956.1v30.0M573.5,956.1v30.0M600.9,956.1v30.0M607.4,956.1v30.0M611.2,956.1v30.0M615.1,956.1v30.0M619.0,956.1v30.0M626.9,956.1v30.0M632.0,956.1v30.0M639.9,956.1v30.0M651.5,956.1v30.0M658.0,956.1v30.0M677.5,956.1v30.0M700.9,956.1v30.0M716.5,956.1v30.0M721.8,956.1v30.0M725.6,956.1v30.0M733.4,956.1v30.0M759.4,956.1v30.0M772.4,956.1v30.0M775.0,956.1v30.0M788.0,956.1v30.0M795.9,956.1v30.0M801.0,956.1v30.0M808.9,956.1v30.0M840.1,956.1v30.0M850.4,956.1v30.0M871.2,956.1v30.0M882.9,956.1v30.0M892.1,956.1v30.0M920.6,956.1v30.0M924.6,956.1v30.0M933.6,956.1v30.0M938.9,956.1v30.0M963.6,956.1v30.0M970.1,956.1v30.0"/><path stroke="#eae7fe" d="M499.4,956.1v30.0M516.4,956.1v30.0M522.9,956.1v30.0M552.8,956.1v30.0M567.0,956.1v30.0M585.2,956.1v30.0M628.1,956.1v30.0M643.8,956.1v30.0M661.9,956.1v30.0M671.0,956.1v30.0M685.4,956.1v30.0M690.5,956.1v30.0M694.4,956.1v30.0M697.0,956.1v30.0M703.5,956.1v30.0M767.2,956.1v30.0M777.6,956.1v30.0M786.8,956.1v30.0M789.4,956.1v30.0M790.6,956.1v30.0M803.6,956.1v30.0M819.2,956.1v30.0M823.1,956.1v30.0M824.4,956.1v30.0M856.9,956.1v30.0M875.1,956.1v30.0M902.4,956.1v30.0M905.1,956.1v30.0M906.4,956.1v30.0M908.9,956.1v30.0M931.1,956.1v30.0M934.9,956.1v30.0M936.2,956.1v30.0M959.6,956.1v30.0"/><path stroke="#180ab3" d="M334.3,956.1v30.0M335.6,956.1v30.0M336.9,956.1v30.0M338.2,956.1v30.0M339.5,956.1v30.0M340.8,956.1v30.0M344.7,956.1v30.0M349.9,956.1v30.0M351.2,956.1v30.0M352.5,956.1v30.0M359.0,956.1v30.0M365.5,956.1v30.0M383.7,956.1v30.0M387.6,956.1v30.0M405.8,956.1v30.0M411.0,956.1v30.0M422.8,956.1v30.0M427.9,956.1v30.0M429.2,956.1v30.0M435.8,956.1v30.0M453.9,956.1v30.0"/><path stroke="#ffa3a1" d="M537.1,956.1v30.0M569.6,956.1v30.0M576.1,956.1v30.0M580.0,956.1v30.0M667.1,956.1v30.0M691.9,956.1v30.0M720.4,956.1v30.0M726.9,956.1v30.0M752.9,956.1v30.0M758.1,956.1v30.0M804.9,956.1v30.0M810.1,956.1v30.0M811.4,956.1v30.0M821.9,956.1v30.0M907.6,956.1v30.0M918.1,956.1v30.0M929.7,956.1v30.0M966.1,956.1v30.0M971.4,956.1v30.0"/><path stroke="#200dd6" d="M360.3,956.1v30.0M364.2,956.1v30.0M366.8,956.1v30.0M370.7,956.1v30.0M392.8,956.1v30.0M401.9,956.1v30.0M407.1,956.1v30.0M408.4,956.1v30.0M421.4,956.1v30.0M430.5,956.1v30.0M452.6,956.1v30.0M456.5,956.1v30.0M460.4,956.1v30.0M461.8,956.1v30.0M463.0,956.1v30.0M465.6,956.1v30.0M476.0,956.1v30.0M477.3,956.1v30.0"/><path stroke="#100691" d="M346.0,956.1v30.0M372.0,956.1v30.0M377.2,956.1v30.0M381.1,956.1v30.0M386.3,956.1v30.0M396.8,956.1v30.0M398.0,956.1v30.0M412.3,956.1v30.0M418.8,956.1v30.0M431.8,956.1v30.0M434.4,956.1v30.0M444.8,956.1v30.0M446.1,956.1v30.0M447.4,956.1v30.0M457.8,956.1v30.0"/><path stroke="#1408a2" d="M342.1,956.1v30.0M353.8,956.1v30.0M356.4,956.1v30.0M357.7,956.1v30.0M362.9,956.1v30.0M374.6,956.1v30.0M394.1,956.1v30.0M414.9,956.1v30.0M426.6,956.1v30.0M438.3,956.1v30.0M439.6,956.1v30.0M440.9,956.1v30.0M455.2,956.1v30.0M464.3,956.1v30.0"/><path stroke="#d4cffe" d="M478.6,956.1v30.0M542.4,956.1v30.0M559.2,956.1v30.0M582.6,956.1v30.0M612.5,956.1v30.0M630.8,956.1v30.0M634.6,956.1v30.0M687.9,956.1v30.0M884.2,956.1v30.0M885.6,956.1v30.0M927.1,956.1v30.0M951.9,956.1v30.0M968.7,956.1v30.0"/><path stroke="#9488fc" d="M482.5,956.1v30.0M483.8,956.1v30.0M492.9,956.1v30.0M560.5,956.1v30.0M654.1,956.1v30.0M656.8,956.1v30.0M660.6,956.1v30.0M674.9,956.1v30.0M776.4,956.1v30.0M847.9,956.1v30.0M912.9,956.1v30.0M928.4,956.1v30.0M957.1,956.1v30.0"/><path stroke="#1c0bc4" d="M369.4,956.1v30.0M388.9,956.1v30.0M391.5,956.1v30.0M404.5,956.1v30.0M409.8,956.1v30.0M425.3,956.1v30.0M443.5,956.1v30.0M448.8,956.1v30.0M451.3,956.1v30.0M459.1,956.1v30.0M466.9,956.1v30.0M470.8,956.1v30.0"/><path stroke="#ff7672" d="M564.4,956.1v30.0M684.0,956.1v30.0M747.8,956.1v30.0M756.9,956.1v30.0M760.8,956.1v30.0M762.0,956.1v30.0M764.6,956.1v30.0M778.9,956.1v30.0M832.2,956.1v30.0M895.9,956.1v30.0M958.4,956.1v30.0M975.2,956.1v30.0"/><path stroke="#ff8c8a" d="M646.4,956.1v30.0M650.2,956.1v30.0M665.9,956.1v30.0M754.2,956.1v30.0M782.9,956.1v30.0M784.1,956.1v30.0M799.8,956.1v30.0M829.6,956.1v30.0M845.2,956.1v30.0M919.4,956.1v30.0M925.9,956.1v30.0M946.6,956.1v30.0"/><path stroke="#240ee7" d="M361.6,956.1v30.0M379.8,956.1v30.0M395.4,956.1v30.0M399.3,956.1v30.0M416.2,956.1v30.0M417.5,956.1v30.0M424.0,956.1v30.0M433.1,956.1v30.0M450.0,956.1v30.0M473.4,956.1v30.0M474.8,956.1v30.0"/><path stroke="#a99ffc" d="M481.2,956.1v30.0M485.1,956.1v30.0M486.4,956.1v30.0M589.1,956.1v30.0M606.0,956.1v30.0M668.4,956.1v30.0M736.0,956.1v30.0M749.0,956.1v30.0M827.0,956.1v30.0M854.4,956.1v30.0M888.1,956.1v30.0"/><path stroke="#2810f8" d="M368.1,956.1v30.0M373.3,956.1v30.0M385.0,956.1v30.0M390.2,956.1v30.0M403.2,956.1v30.0M413.6,956.1v30.0M437.0,956.1v30.0M442.2,956.1v30.0M472.1,956.1v30.0"/><path stroke="#0c0580" d="M347.3,956.1v30.0M378.5,956.1v30.0M400.6,956.1v30.0M420.1,956.1v30.0M468.2,956.1v30.0M469.5,956.1v30.0"/><path stroke="#7e70fb" d="M487.8,956.1v30.0M521.5,956.1v30.0M590.4,956.1v30.0M704.9,956.1v30.0M741.2,956.1v30.0M765.9,956.1v30.0"/><path stroke="#beb7fd" d="M479.9,956.1v30.0M682.8,956.1v30.0M728.2,956.1v30.0M807.5,956.1v30.0M877.7,956.1v30.0"/><path stroke="#6958fa" d="M673.6,956.1v30.0M693.1,956.1v30.0M797.1,956.1v30.0M849.1,956.1v30.0"/><path stroke="#ff4843" d="M550.1,956.1v30.0M698.4,956.1v30.0M699.6,956.1v30.0"/><path stroke="#04025d" d="M343.4,956.1v30.0M355.1,956.1v30.0"/><path stroke="#5340f9" d="M348.6,956.1v30.0M780.2,956.1v30.0"/><path stroke="#3e28f9" d="M382.4,956.1v30.0M503.3,956.1v30.0"/><path stroke="#ff5f5a" d="M500.8,956.1v30.0M873.9,956.1v30.0"/><path stroke="#08036e" d="M375.9,956.1v30.0"/></g><rect x="483.9" y="956.1" width="492.3" height="30.0" fill="url(#fcg)" /><rect x="330.7" y="952.1" width="648.5" height="4.0" fill="#fff" /><rect x="330.7" y="986.1" width="648.5" height="4.0" fill="#fff" /><g stroke-width="1.8" fill="none" clip-path="url(#hc)"><path stroke="#240ee7" d="M489.7,994.1v30.0M493.6,994.1v30.0M501.4,994.1v30.0M502.7,994.1v30.0M505.3,994.1v30.0M509.2,994.1v30.0M510.5,994.1v30.0M511.8,994.1v30.0M513.1,994.1v30.0M519.6,994.1v30.0M520.9,994.1v30.0M522.2,994.1v30.0M527.4,994.1v30.0M528.7,994.1v30.0M530.0,994.1v30.0M531.3,994.1v30.0M532.6,994.1v30.0M533.9,994.1v30.0M535.2,994.1v30.0M536.5,994.1v30.0M539.1,994.1v30.0M540.4,994.1v30.0M543.0,994.1v30.0M544.3,994.1v30.0M546.9,994.1v30.0M548.2,994.1v30.0M549.5,994.1v30.0M550.8,994.1v30.0M552.1,994.1v30.0M553.4,994.1v30.0M557.3,994.1v30.0M559.9,994.1v30.0M561.2,994.1v30.0M562.5,994.1v30.0M563.8,994.1v30.0M566.4,994.1v30.0M570.3,994.1v30.0M571.6,994.1v30.0M572.9,994.1v30.0M574.2,994.1v30.0M575.5,994.1v30.0M576.8,994.1v30.0M582.0,994.1v30.0M583.3,994.1v30.0M585.9,994.1v30.0M588.5,994.1v30.0M589.8,994.1v30.0M591.1,994.1v30.0M592.4,994.1v30.0M597.6,994.1v30.0M600.2,994.1v30.0M601.5,994.1v30.0M605.4,994.1v30.0M606.7,994.1v30.0M610.6,994.1v30.0M611.9,994.1v30.0M614.5,994.1v30.0M615.8,994.1v30.0M618.4,994.1v30.0M619.7,994.1v30.0M621.0,994.1v30.0M624.9,994.1v30.0M626.2,994.1v30.0M627.5,994.1v30.0M628.8,994.1v30.0M630.1,994.1v30.0M634.0,994.1v30.0M636.6,994.1v30.0M637.9,994.1v30.0M641.8,994.1v30.0M643.1,994.1v30.0M644.4,994.1v30.0M645.7,994.1v30.0M647.0,994.1v30.0M648.3,994.1v30.0M650.9,994.1v30.0M654.8,994.1v30.0M656.1,994.1v30.0M661.3,994.1v30.0M663.9,994.1v30.0M665.2,994.1v30.0M667.8,994.1v30.0M669.1,994.1v30.0M674.3,994.1v30.0M675.6,994.1v30.0M676.9,994.1v30.0M680.8,994.1v30.0M682.1,994.1v30.0M686.0,994.1v30.0M687.3,994.1v30.0M691.2,994.1v30.0M693.8,994.1v30.0M696.4,994.1v30.0M697.7,994.1v30.0M701.6,994.1v30.0M702.9,994.1v30.0M704.2,994.1v30.0M706.8,994.1v30.0M709.4,994.1v30.0M712.0,994.1v30.0M715.9,994.1v30.0M717.2,994.1v30.0M719.8,994.1v30.0M721.1,994.1v30.0M722.4,994.1v30.0M727.6,994.1v30.0M731.5,994.1v30.0M732.8,994.1v30.0M738.0,994.1v30.0M739.3,994.1v30.0M741.9,994.1v30.0M747.1,994.1v30.0M748.4,994.1v30.0M751.0,994.1v30.0M752.3,994.1v30.0M754.9,994.1v30.0M756.2,994.1v30.0M757.5,994.1v30.0M758.8,994.1v30.0M760.1,994.1v30.0M761.4,994.1v30.0M762.7,994.1v30.0M765.3,994.1v30.0M767.9,994.1v30.0M771.8,994.1v30.0M774.4,994.1v30.0M777.0,994.1v30.0M778.3,994.1v30.0M790.0,994.1v30.0M792.6,994.1v30.0M795.2,994.1v30.0M800.4,994.1v30.0M805.6,994.1v30.0M809.5,994.1v30.0M816.0,994.1v30.0M817.3,994.1v30.0M818.6,994.1v30.0M821.2,994.1v30.0M822.5,994.1v30.0M827.7,994.1v30.0M834.2,994.1v30.0M835.5,994.1v30.0M839.4,994.1v30.0M842.0,994.1v30.0M845.9,994.1v30.0M852.4,994.1v30.0M857.6,994.1v30.0M864.1,994.1v30.0M868.0,994.1v30.0M870.6,994.1v30.0M871.9,994.1v30.0M878.4,994.1v30.0M881.0,994.1v30.0M888.8,994.1v30.0M909.6,994.1v30.0M952.5,994.1v30.0M955.1,994.1v30.0"/><path stroke="#200dd6" d="M518.3,994.1v30.0M537.8,994.1v30.0M545.6,994.1v30.0M579.4,994.1v30.0M584.6,994.1v30.0M593.7,994.1v30.0M596.3,994.1v30.0M598.9,994.1v30.0M602.8,994.1v30.0M609.3,994.1v30.0M613.2,994.1v30.0M617.1,994.1v30.0M632.7,994.1v30.0M635.3,994.1v30.0M640.5,994.1v30.0M649.6,994.1v30.0M657.4,994.1v30.0M658.7,994.1v30.0M666.5,994.1v30.0M670.4,994.1v30.0M671.7,994.1v30.0M673.0,994.1v30.0M678.2,994.1v30.0M679.5,994.1v30.0M684.7,994.1v30.0M695.1,994.1v30.0M699.0,994.1v30.0M705.5,994.1v30.0M710.7,994.1v30.0M713.3,994.1v30.0M714.6,994.1v30.0M718.5,994.1v30.0M723.7,994.1v30.0M726.3,994.1v30.0M728.9,994.1v30.0M730.2,994.1v30.0M734.1,994.1v30.0M735.4,994.1v30.0M736.7,994.1v30.0M740.6,994.1v30.0M743.2,994.1v30.0M744.5,994.1v30.0M745.8,994.1v30.0M749.7,994.1v30.0M753.6,994.1v30.0M764.0,994.1v30.0M766.6,994.1v30.0M769.2,994.1v30.0M773.1,994.1v30.0M775.7,994.1v30.0M779.6,994.1v30.0M780.9,994.1v30.0M782.2,994.1v30.0M783.5,994.1v30.0M784.8,994.1v30.0M786.1,994.1v30.0M787.4,994.1v30.0M788.7,994.1v30.0M791.3,994.1v30.0M793.9,994.1v30.0M796.5,994.1v30.0M797.8,994.1v30.0M799.1,994.1v30.0M801.7,994.1v30.0M803.0,994.1v30.0M804.3,994.1v30.0M806.9,994.1v30.0M808.2,994.1v30.0M810.8,994.1v30.0M812.1,994.1v30.0M813.4,994.1v30.0M814.7,994.1v30.0M819.9,994.1v30.0M823.8,994.1v30.0M825.1,994.1v30.0M826.4,994.1v30.0M829.0,994.1v30.0M830.3,994.1v30.0M832.9,994.1v30.0M836.8,994.1v30.0M838.1,994.1v30.0M840.7,994.1v30.0M844.6,994.1v30.0M847.2,994.1v30.0M848.5,994.1v30.0M849.8,994.1v30.0M851.1,994.1v30.0M853.7,994.1v30.0M855.0,994.1v30.0M858.9,994.1v30.0M861.5,994.1v30.0M862.8,994.1v30.0M865.4,994.1v30.0M869.3,994.1v30.0M873.2,994.1v30.0M874.5,994.1v30.0M875.8,994.1v30.0M879.7,994.1v30.0M883.6,994.1v30.0M884.9,994.1v30.0M886.2,994.1v30.0M887.5,994.1v30.0M890.1,994.1v30.0M894.0,994.1v30.0M895.3,994.1v30.0M901.8,994.1v30.0M903.1,994.1v30.0M904.4,994.1v30.0M910.9,994.1v30.0M912.2,994.1v30.0M914.8,994.1v30.0M916.1,994.1v30.0M920.0,994.1v30.0M922.6,994.1v30.0M923.9,994.1v30.0M925.2,994.1v30.0M927.8,994.1v30.0M929.1,994.1v30.0M930.4,994.1v30.0M933.0,994.1v30.0M935.6,994.1v30.0M936.9,994.1v30.0M939.5,994.1v30.0M943.4,994.1v30.0M948.6,994.1v30.0M951.2,994.1v30.0M953.8,994.1v30.0M959.0,994.1v30.0M960.3,994.1v30.0M961.6,994.1v30.0M966.8,994.1v30.0M968.1,994.1v30.0M970.7,994.1v30.0M972.0,994.1v30.0M973.3,994.1v30.0M974.6,994.1v30.0"/><path stroke="#990d0c" d="M333.7,994.1v30.0M335.0,994.1v30.0M337.6,994.1v30.0M338.9,994.1v30.0M340.2,994.1v30.0M341.5,994.1v30.0M344.1,994.1v30.0M345.4,994.1v30.0M346.7,994.1v30.0M351.9,994.1v30.0M355.8,994.1v30.0M357.1,994.1v30.0M362.3,994.1v30.0M363.6,994.1v30.0M364.9,994.1v30.0M366.2,994.1v30.0M368.8,994.1v30.0M372.7,994.1v30.0M374.0,994.1v30.0M377.9,994.1v30.0M380.5,994.1v30.0M381.8,994.1v30.0M384.4,994.1v30.0M387.0,994.1v30.0M389.6,994.1v30.0M397.4,994.1v30.0M400.0,994.1v30.0M407.8,994.1v30.0M410.4,994.1v30.0M416.9,994.1v30.0M419.5,994.1v30.0M422.1,994.1v30.0M423.4,994.1v30.0M426.0,994.1v30.0M427.3,994.1v30.0M428.6,994.1v30.0M429.9,994.1v30.0M433.8,994.1v30.0M435.1,994.1v30.0M439.0,994.1v30.0M449.4,994.1v30.0M452.0,994.1v30.0M454.6,994.1v30.0M457.2,994.1v30.0M459.8,994.1v30.0M461.1,994.1v30.0M462.4,994.1v30.0M471.5,994.1v30.0M472.8,994.1v30.0M474.1,994.1v30.0M475.4,994.1v30.0"/><path stroke="#2810f8" d="M488.4,994.1v30.0M491.0,994.1v30.0M492.3,994.1v30.0M494.9,994.1v30.0M496.2,994.1v30.0M497.5,994.1v30.0M498.8,994.1v30.0M500.1,994.1v30.0M504.0,994.1v30.0M506.6,994.1v30.0M507.9,994.1v30.0M514.4,994.1v30.0M515.7,994.1v30.0M523.5,994.1v30.0M524.8,994.1v30.0M526.1,994.1v30.0M541.7,994.1v30.0M554.7,994.1v30.0M556.0,994.1v30.0M558.6,994.1v30.0M565.1,994.1v30.0M567.7,994.1v30.0M569.0,994.1v30.0M578.1,994.1v30.0M580.7,994.1v30.0M587.2,994.1v30.0M595.0,994.1v30.0M604.1,994.1v30.0M608.0,994.1v30.0M622.3,994.1v30.0M623.6,994.1v30.0M631.4,994.1v30.0M639.2,994.1v30.0M652.2,994.1v30.0M653.5,994.1v30.0M660.0,994.1v30.0M662.6,994.1v30.0M683.4,994.1v30.0M688.6,994.1v30.0M689.9,994.1v30.0M692.5,994.1v30.0M700.3,994.1v30.0M708.1,994.1v30.0M725.0,994.1v30.0"/><path stroke="#1c0bc4" d="M770.5,994.1v30.0M831.6,994.1v30.0M843.3,994.1v30.0M856.3,994.1v30.0M860.2,994.1v30.0M866.7,994.1v30.0M877.1,994.1v30.0M882.3,994.1v30.0M891.4,994.1v30.0M892.7,994.1v30.0M896.6,994.1v30.0M897.9,994.1v30.0M899.2,994.1v30.0M900.5,994.1v30.0M905.7,994.1v30.0M907.0,994.1v30.0M908.3,994.1v30.0M913.5,994.1v30.0M917.4,994.1v30.0M918.7,994.1v30.0M921.3,994.1v30.0M926.5,994.1v30.0M931.7,994.1v30.0M934.3,994.1v30.0M938.2,994.1v30.0M940.8,994.1v30.0M942.1,994.1v30.0M944.7,994.1v30.0M946.0,994.1v30.0M947.3,994.1v30.0M949.9,994.1v30.0M956.4,994.1v30.0M957.7,994.1v30.0M962.9,994.1v30.0M964.2,994.1v30.0M965.5,994.1v30.0M969.4,994.1v30.0M975.9,994.1v30.0"/><path stroke="#a50f0d" d="M348.0,994.1v30.0M353.2,994.1v30.0M354.5,994.1v30.0M370.1,994.1v30.0M375.3,994.1v30.0M376.6,994.1v30.0M383.1,994.1v30.0M388.3,994.1v30.0M392.2,994.1v30.0M403.9,994.1v30.0M405.2,994.1v30.0M406.5,994.1v30.0M409.1,994.1v30.0M414.3,994.1v30.0M415.6,994.1v30.0M420.8,994.1v30.0M424.7,994.1v30.0M441.6,994.1v30.0M444.2,994.1v30.0M445.5,994.1v30.0M446.8,994.1v30.0M448.1,994.1v30.0M453.3,994.1v30.0M458.5,994.1v30.0M463.7,994.1v30.0M465.0,994.1v30.0M466.3,994.1v30.0M467.6,994.1v30.0"/><path stroke="#8c0c0b" d="M336.3,994.1v30.0M342.8,994.1v30.0M349.3,994.1v30.0M350.6,994.1v30.0M358.4,994.1v30.0M359.7,994.1v30.0M361.0,994.1v30.0M367.5,994.1v30.0M371.4,994.1v30.0M385.7,994.1v30.0M390.9,994.1v30.0M394.8,994.1v30.0M396.1,994.1v30.0M398.7,994.1v30.0M411.7,994.1v30.0M413.0,994.1v30.0M418.2,994.1v30.0M431.2,994.1v30.0M432.5,994.1v30.0M436.4,994.1v30.0M437.7,994.1v30.0M442.9,994.1v30.0M450.7,994.1v30.0M455.9,994.1v30.0M468.9,994.1v30.0M470.2,994.1v30.0M476.7,994.1v30.0"/><path stroke="#b2100e" d="M379.2,994.1v30.0M393.5,994.1v30.0M402.6,994.1v30.0M440.3,994.1v30.0"/><path stroke="#a99ffc" d="M481.9,994.1v30.0M484.5,994.1v30.0M485.8,994.1v30.0"/><path stroke="#9488fc" d="M478.0,994.1v30.0M479.3,994.1v30.0"/><path stroke="#7e70fb" d="M480.6,994.1v30.0M483.2,994.1v30.0"/><path stroke="#7f0a0a" d="M401.3,994.1v30.0"/><path stroke="#d4cffe" d="M487.1,994.1v30.0"/><path stroke="#3e28f9" d="M517.0,994.1v30.0"/></g><g stroke-width="1.8" fill="none" clip-path="url(#hc)"><path stroke="#2810f8" d="M489.7,1032.1v30.0M491.0,1032.1v30.0M492.3,1032.1v30.0M493.6,1032.1v30.0M494.9,1032.1v30.0M497.5,1032.1v30.0M498.8,1032.1v30.0M500.1,1032.1v30.0M501.4,1032.1v30.0M502.7,1032.1v30.0M504.0,1032.1v30.0M505.3,1032.1v30.0M506.6,1032.1v30.0M507.9,1032.1v30.0M509.2,1032.1v30.0M511.8,1032.1v30.0M513.1,1032.1v30.0M514.4,1032.1v30.0M515.7,1032.1v30.0M518.3,1032.1v30.0M519.6,1032.1v30.0M520.9,1032.1v30.0M522.2,1032.1v30.0M523.5,1032.1v30.0M524.8,1032.1v30.0M526.1,1032.1v30.0M527.4,1032.1v30.0M528.7,1032.1v30.0M530.0,1032.1v30.0M531.3,1032.1v30.0M532.6,1032.1v30.0M533.9,1032.1v30.0M535.2,1032.1v30.0M536.5,1032.1v30.0M537.8,1032.1v30.0M539.1,1032.1v30.0M540.4,1032.1v30.0M541.7,1032.1v30.0M543.0,1032.1v30.0M545.6,1032.1v30.0M546.9,1032.1v30.0M548.2,1032.1v30.0M549.5,1032.1v30.0M550.8,1032.1v30.0M552.1,1032.1v30.0M553.4,1032.1v30.0M554.7,1032.1v30.0M556.0,1032.1v30.0M557.3,1032.1v30.0M558.6,1032.1v30.0M559.9,1032.1v30.0M561.2,1032.1v30.0M562.5,1032.1v30.0M563.8,1032.1v30.0M565.1,1032.1v30.0M566.4,1032.1v30.0M567.7,1032.1v30.0M569.0,1032.1v30.0M570.3,1032.1v30.0M571.6,1032.1v30.0M572.9,1032.1v30.0M574.2,1032.1v30.0M575.5,1032.1v30.0M576.8,1032.1v30.0M578.1,1032.1v30.0M579.4,1032.1v30.0M580.7,1032.1v30.0M582.0,1032.1v30.0M583.3,1032.1v30.0M585.9,1032.1v30.0M588.5,1032.1v30.0M589.8,1032.1v30.0M592.4,1032.1v30.0M593.7,1032.1v30.0M595.0,1032.1v30.0M596.3,1032.1v30.0M597.6,1032.1v30.0M598.9,1032.1v30.0M600.2,1032.1v30.0M601.5,1032.1v30.0M602.8,1032.1v30.0M604.1,1032.1v30.0M605.4,1032.1v30.0M606.7,1032.1v30.0M608.0,1032.1v30.0M609.3,1032.1v30.0M610.6,1032.1v30.0M611.9,1032.1v30.0M613.2,1032.1v30.0M614.5,1032.1v30.0M617.1,1032.1v30.0M618.4,1032.1v30.0M621.0,1032.1v30.0M622.3,1032.1v30.0M623.6,1032.1v30.0M624.9,1032.1v30.0M626.2,1032.1v30.0M627.5,1032.1v30.0M628.8,1032.1v30.0M630.1,1032.1v30.0M635.3,1032.1v30.0M636.6,1032.1v30.0M637.9,1032.1v30.0M639.2,1032.1v30.0M640.5,1032.1v30.0M641.8,1032.1v30.0M643.1,1032.1v30.0M644.4,1032.1v30.0M645.7,1032.1v30.0M647.0,1032.1v30.0M648.3,1032.1v30.0M649.6,1032.1v30.0M650.9,1032.1v30.0M652.2,1032.1v30.0M653.5,1032.1v30.0M656.1,1032.1v30.0M657.4,1032.1v30.0M658.7,1032.1v30.0M660.0,1032.1v30.0M661.3,1032.1v30.0M663.9,1032.1v30.0M665.2,1032.1v30.0M666.5,1032.1v30.0M670.4,1032.1v30.0M671.7,1032.1v30.0M673.0,1032.1v30.0M674.3,1032.1v30.0M675.6,1032.1v30.0M676.9,1032.1v30.0M678.2,1032.1v30.0M679.5,1032.1v30.0M680.8,1032.1v30.0M682.1,1032.1v30.0M683.4,1032.1v30.0M684.7,1032.1v30.0M686.0,1032.1v30.0M687.3,1032.1v30.0M688.6,1032.1v30.0M689.9,1032.1v30.0M691.2,1032.1v30.0M692.5,1032.1v30.0M693.8,1032.1v30.0M695.1,1032.1v30.0M696.4,1032.1v30.0M697.7,1032.1v30.0M700.3,1032.1v30.0M701.6,1032.1v30.0M704.2,1032.1v30.0M705.5,1032.1v30.0M706.8,1032.1v30.0M708.1,1032.1v30.0M709.4,1032.1v30.0M710.7,1032.1v30.0M712.0,1032.1v30.0M713.3,1032.1v30.0M714.6,1032.1v30.0M717.2,1032.1v30.0M718.5,1032.1v30.0M719.8,1032.1v30.0M721.1,1032.1v30.0M722.4,1032.1v30.0M723.7,1032.1v30.0M725.0,1032.1v30.0M726.3,1032.1v30.0M727.6,1032.1v30.0M728.9,1032.1v30.0M730.2,1032.1v30.0M731.5,1032.1v30.0M732.8,1032.1v30.0M735.4,1032.1v30.0M736.7,1032.1v30.0M738.0,1032.1v30.0M739.3,1032.1v30.0M740.6,1032.1v30.0M741.9,1032.1v30.0M743.2,1032.1v30.0M745.8,1032.1v30.0M747.1,1032.1v30.0M748.4,1032.1v30.0M751.0,1032.1v30.0M752.3,1032.1v30.0M753.6,1032.1v30.0M754.9,1032.1v30.0M756.2,1032.1v30.0M758.8,1032.1v30.0M760.1,1032.1v30.0M761.4,1032.1v30.0M762.7,1032.1v30.0M764.0,1032.1v30.0M765.3,1032.1v30.0M766.6,1032.1v30.0M767.9,1032.1v30.0M769.2,1032.1v30.0M770.5,1032.1v30.0M771.8,1032.1v30.0M773.1,1032.1v30.0M774.4,1032.1v30.0M775.7,1032.1v30.0M777.0,1032.1v30.0M778.3,1032.1v30.0M779.6,1032.1v30.0M780.9,1032.1v30.0M782.2,1032.1v30.0M783.5,1032.1v30.0M784.8,1032.1v30.0M786.1,1032.1v30.0M787.4,1032.1v30.0M788.7,1032.1v30.0M790.0,1032.1v30.0M791.3,1032.1v30.0M792.6,1032.1v30.0M795.2,1032.1v30.0M796.5,1032.1v30.0M797.8,1032.1v30.0M799.1,1032.1v30.0M800.4,1032.1v30.0M801.7,1032.1v30.0M803.0,1032.1v30.0M804.3,1032.1v30.0M805.6,1032.1v30.0M806.9,1032.1v30.0M809.5,1032.1v30.0M810.8,1032.1v30.0M812.1,1032.1v30.0M813.4,1032.1v30.0M814.7,1032.1v30.0M816.0,1032.1v30.0M817.3,1032.1v30.0M818.6,1032.1v30.0M819.9,1032.1v30.0M821.2,1032.1v30.0M822.5,1032.1v30.0M823.8,1032.1v30.0M825.1,1032.1v30.0M826.4,1032.1v30.0M827.7,1032.1v30.0M830.3,1032.1v30.0M831.6,1032.1v30.0M832.9,1032.1v30.0M834.2,1032.1v30.0M835.5,1032.1v30.0M836.8,1032.1v30.0M838.1,1032.1v30.0M839.4,1032.1v30.0M842.0,1032.1v30.0M843.3,1032.1v30.0M844.6,1032.1v30.0M845.9,1032.1v30.0M847.2,1032.1v30.0M849.8,1032.1v30.0M851.1,1032.1v30.0M852.4,1032.1v30.0M853.7,1032.1v30.0M855.0,1032.1v30.0M856.3,1032.1v30.0M857.6,1032.1v30.0M858.9,1032.1v30.0M860.2,1032.1v30.0M861.5,1032.1v30.0M862.8,1032.1v30.0M865.4,1032.1v30.0M866.7,1032.1v30.0M868.0,1032.1v30.0M869.3,1032.1v30.0M870.6,1032.1v30.0M873.2,1032.1v30.0M877.1,1032.1v30.0M878.4,1032.1v30.0M879.7,1032.1v30.0M881.0,1032.1v30.0M887.5,1032.1v30.0M888.8,1032.1v30.0M890.1,1032.1v30.0M891.4,1032.1v30.0M892.7,1032.1v30.0M896.6,1032.1v30.0M897.9,1032.1v30.0M901.8,1032.1v30.0M904.4,1032.1v30.0M909.6,1032.1v30.0M917.4,1032.1v30.0M929.1,1032.1v30.0"/><path stroke="#240ee7" d="M510.5,1032.1v30.0M584.6,1032.1v30.0M667.8,1032.1v30.0M848.5,1032.1v30.0M864.1,1032.1v30.0M871.9,1032.1v30.0M875.8,1032.1v30.0M883.6,1032.1v30.0M884.9,1032.1v30.0M886.2,1032.1v30.0M894.0,1032.1v30.0M895.3,1032.1v30.0M899.2,1032.1v30.0M900.5,1032.1v30.0M903.1,1032.1v30.0M905.7,1032.1v30.0M907.0,1032.1v30.0M908.3,1032.1v30.0M910.9,1032.1v30.0M912.2,1032.1v30.0M913.5,1032.1v30.0M914.8,1032.1v30.0M916.1,1032.1v30.0M918.7,1032.1v30.0M920.0,1032.1v30.0M921.3,1032.1v30.0M922.6,1032.1v30.0M923.9,1032.1v30.0M925.2,1032.1v30.0M926.5,1032.1v30.0M927.8,1032.1v30.0M930.4,1032.1v30.0M931.7,1032.1v30.0M933.0,1032.1v30.0M934.3,1032.1v30.0M935.6,1032.1v30.0M936.9,1032.1v30.0M938.2,1032.1v30.0M940.8,1032.1v30.0M942.1,1032.1v30.0M943.4,1032.1v30.0M946.0,1032.1v30.0M947.3,1032.1v30.0M948.6,1032.1v30.0M949.9,1032.1v30.0M951.2,1032.1v30.0M952.5,1032.1v30.0M953.8,1032.1v30.0M955.1,1032.1v30.0M957.7,1032.1v30.0M959.0,1032.1v30.0M961.6,1032.1v30.0M962.9,1032.1v30.0M964.2,1032.1v30.0M965.5,1032.1v30.0M966.8,1032.1v30.0M968.1,1032.1v30.0M970.7,1032.1v30.0M973.3,1032.1v30.0"/><path stroke="#e51712" d="M335.0,1032.1v30.0M358.4,1032.1v30.0M367.5,1032.1v30.0M374.0,1032.1v30.0M377.9,1032.1v30.0M384.4,1032.1v30.0M388.3,1032.1v30.0M396.1,1032.1v30.0M397.4,1032.1v30.0M403.9,1032.1v30.0M411.7,1032.1v30.0M415.6,1032.1v30.0M416.9,1032.1v30.0M418.2,1032.1v30.0M419.5,1032.1v30.0M422.1,1032.1v30.0M433.8,1032.1v30.0M442.9,1032.1v30.0M444.2,1032.1v30.0M445.5,1032.1v30.0M452.0,1032.1v30.0M454.6,1032.1v30.0M457.2,1032.1v30.0M459.8,1032.1v30.0M471.5,1032.1v30.0"/><path stroke="#d91511" d="M336.3,1032.1v30.0M341.5,1032.1v30.0M342.8,1032.1v30.0M345.4,1032.1v30.0M353.2,1032.1v30.0M357.1,1032.1v30.0M371.4,1032.1v30.0M381.8,1032.1v30.0M389.6,1032.1v30.0M398.7,1032.1v30.0M406.5,1032.1v30.0M413.0,1032.1v30.0M424.7,1032.1v30.0M428.6,1032.1v30.0M436.4,1032.1v30.0M437.7,1032.1v30.0M448.1,1032.1v30.0M449.4,1032.1v30.0M450.7,1032.1v30.0M458.5,1032.1v30.0M462.4,1032.1v30.0M467.6,1032.1v30.0M468.9,1032.1v30.0M474.1,1032.1v30.0M475.4,1032.1v30.0"/><path stroke="#5340f9" d="M488.4,1032.1v30.0M496.2,1032.1v30.0M517.0,1032.1v30.0M544.3,1032.1v30.0M587.2,1032.1v30.0M591.1,1032.1v30.0M615.8,1032.1v30.0M632.7,1032.1v30.0M699.0,1032.1v30.0M702.9,1032.1v30.0M715.9,1032.1v30.0M744.5,1032.1v30.0M757.5,1032.1v30.0M793.9,1032.1v30.0M808.2,1032.1v30.0M829.0,1032.1v30.0M840.7,1032.1v30.0M874.5,1032.1v30.0M882.3,1032.1v30.0"/><path stroke="#cc1410" d="M333.7,1032.1v30.0M346.7,1032.1v30.0M359.7,1032.1v30.0M375.3,1032.1v30.0M379.2,1032.1v30.0M383.1,1032.1v30.0M387.0,1032.1v30.0M409.1,1032.1v30.0M410.4,1032.1v30.0M423.4,1032.1v30.0M427.3,1032.1v30.0M429.9,1032.1v30.0M440.3,1032.1v30.0M453.3,1032.1v30.0M455.9,1032.1v30.0M465.0,1032.1v30.0M476.7,1032.1v30.0"/><path stroke="#f21813" d="M380.5,1032.1v30.0M392.2,1032.1v30.0M393.5,1032.1v30.0M394.8,1032.1v30.0M401.3,1032.1v30.0M407.8,1032.1v30.0M420.8,1032.1v30.0M431.2,1032.1v30.0M432.5,1032.1v30.0M439.0,1032.1v30.0M446.8,1032.1v30.0M461.1,1032.1v30.0M463.7,1032.1v30.0M470.2,1032.1v30.0M472.8,1032.1v30.0"/><path stroke="#bf120f" d="M338.9,1032.1v30.0M348.0,1032.1v30.0M349.3,1032.1v30.0M350.6,1032.1v30.0M354.5,1032.1v30.0M355.8,1032.1v30.0M364.9,1032.1v30.0M366.2,1032.1v30.0M405.2,1032.1v30.0M414.3,1032.1v30.0M441.6,1032.1v30.0M466.3,1032.1v30.0"/><path stroke="#3e28f9" d="M619.7,1032.1v30.0M631.4,1032.1v30.0M634.0,1032.1v30.0M654.8,1032.1v30.0M662.6,1032.1v30.0M669.1,1032.1v30.0M734.1,1032.1v30.0M749.7,1032.1v30.0"/><path stroke="#200dd6" d="M939.5,1032.1v30.0M944.7,1032.1v30.0M956.4,1032.1v30.0M960.3,1032.1v30.0M969.4,1032.1v30.0M972.0,1032.1v30.0M974.6,1032.1v30.0M975.9,1032.1v30.0"/><path stroke="#b2100e" d="M337.6,1032.1v30.0M340.2,1032.1v30.0M344.1,1032.1v30.0M363.6,1032.1v30.0M368.8,1032.1v30.0M372.7,1032.1v30.0"/><path stroke="#a50f0d" d="M351.9,1032.1v30.0M362.3,1032.1v30.0M370.1,1032.1v30.0M376.6,1032.1v30.0"/><path stroke="#ff1a14" d="M385.7,1032.1v30.0M402.6,1032.1v30.0M426.0,1032.1v30.0M435.1,1032.1v30.0"/><path stroke="#beb7fd" d="M479.3,1032.1v30.0M480.6,1032.1v30.0M484.5,1032.1v30.0"/><path stroke="#eae7fe" d="M478.0,1032.1v30.0M487.1,1032.1v30.0"/><path stroke="#8c0c0b" d="M361.0,1032.1v30.0"/><path stroke="#ff4843" d="M390.9,1032.1v30.0"/><path stroke="#ff312c" d="M400.0,1032.1v30.0"/><path stroke="#d4cffe" d="M481.9,1032.1v30.0"/><path stroke="#9488fc" d="M483.2,1032.1v30.0"/><path stroke="#a99ffc" d="M485.8,1032.1v30.0"/></g><g stroke-width="1.8" fill="none" clip-path="url(#hc)"><path stroke="#2810f8" d="M488.4,1070.1v30.0M489.7,1070.1v30.0M491.0,1070.1v30.0M492.3,1070.1v30.0M493.6,1070.1v30.0M494.9,1070.1v30.0M496.2,1070.1v30.0M497.5,1070.1v30.0M498.8,1070.1v30.0M500.1,1070.1v30.0M501.4,1070.1v30.0M502.7,1070.1v30.0M504.0,1070.1v30.0M505.3,1070.1v30.0M506.6,1070.1v30.0M507.9,1070.1v30.0M509.2,1070.1v30.0M510.5,1070.1v30.0M511.8,1070.1v30.0M513.1,1070.1v30.0M514.4,1070.1v30.0M515.7,1070.1v30.0M517.0,1070.1v30.0M518.3,1070.1v30.0M519.6,1070.1v30.0M520.9,1070.1v30.0M522.2,1070.1v30.0M523.5,1070.1v30.0M524.8,1070.1v30.0M526.1,1070.1v30.0M527.4,1070.1v30.0M528.7,1070.1v30.0M530.0,1070.1v30.0M531.3,1070.1v30.0M532.6,1070.1v30.0M533.9,1070.1v30.0M535.2,1070.1v30.0M536.5,1070.1v30.0M537.8,1070.1v30.0M539.1,1070.1v30.0M540.4,1070.1v30.0M541.7,1070.1v30.0M543.0,1070.1v30.0M544.3,1070.1v30.0M545.6,1070.1v30.0M546.9,1070.1v30.0M548.2,1070.1v30.0M549.5,1070.1v30.0M550.8,1070.1v30.0M552.1,1070.1v30.0M553.4,1070.1v30.0M554.7,1070.1v30.0M556.0,1070.1v30.0M557.3,1070.1v30.0M558.6,1070.1v30.0M559.9,1070.1v30.0M561.2,1070.1v30.0M562.5,1070.1v30.0M563.8,1070.1v30.0M565.1,1070.1v30.0M566.4,1070.1v30.0M567.7,1070.1v30.0M569.0,1070.1v30.0M570.3,1070.1v30.0M571.6,1070.1v30.0M572.9,1070.1v30.0M574.2,1070.1v30.0M575.5,1070.1v30.0M576.8,1070.1v30.0M578.1,1070.1v30.0M579.4,1070.1v30.0M580.7,1070.1v30.0M582.0,1070.1v30.0M583.3,1070.1v30.0M584.6,1070.1v30.0M585.9,1070.1v30.0M587.2,1070.1v30.0M588.5,1070.1v30.0M589.8,1070.1v30.0M591.1,1070.1v30.0M592.4,1070.1v30.0M593.7,1070.1v30.0M595.0,1070.1v30.0M596.3,1070.1v30.0M597.6,1070.1v30.0M598.9,1070.1v30.0M600.2,1070.1v30.0M601.5,1070.1v30.0M602.8,1070.1v30.0M604.1,1070.1v30.0M605.4,1070.1v30.0M606.7,1070.1v30.0M608.0,1070.1v30.0M609.3,1070.1v30.0M610.6,1070.1v30.0M611.9,1070.1v30.0M613.2,1070.1v30.0M614.5,1070.1v30.0M615.8,1070.1v30.0M617.1,1070.1v30.0M618.4,1070.1v30.0M619.7,1070.1v30.0M621.0,1070.1v30.0M622.3,1070.1v30.0M623.6,1070.1v30.0M624.9,1070.1v30.0M626.2,1070.1v30.0M627.5,1070.1v30.0M628.8,1070.1v30.0M630.1,1070.1v30.0M631.4,1070.1v30.0M632.7,1070.1v30.0M634.0,1070.1v30.0M635.3,1070.1v30.0M636.6,1070.1v30.0M637.9,1070.1v30.0M639.2,1070.1v30.0M640.5,1070.1v30.0M641.8,1070.1v30.0M643.1,1070.1v30.0M644.4,1070.1v30.0M645.7,1070.1v30.0M647.0,1070.1v30.0M648.3,1070.1v30.0M649.6,1070.1v30.0M650.9,1070.1v30.0M652.2,1070.1v30.0M653.5,1070.1v30.0M654.8,1070.1v30.0M656.1,1070.1v30.0M657.4,1070.1v30.0M658.7,1070.1v30.0M660.0,1070.1v30.0M661.3,1070.1v30.0M662.6,1070.1v30.0M663.9,1070.1v30.0M665.2,1070.1v30.0M666.5,1070.1v30.0M667.8,1070.1v30.0M669.1,1070.1v30.0M670.4,1070.1v30.0M671.7,1070.1v30.0M673.0,1070.1v30.0M674.3,1070.1v30.0M675.6,1070.1v30.0M676.9,1070.1v30.0M678.2,1070.1v30.0M679.5,1070.1v30.0M680.8,1070.1v30.0M682.1,1070.1v30.0M683.4,1070.1v30.0M684.7,1070.1v30.0M686.0,1070.1v30.0M687.3,1070.1v30.0M688.6,1070.1v30.0M689.9,1070.1v30.0M691.2,1070.1v30.0M692.5,1070.1v30.0M693.8,1070.1v30.0M695.1,1070.1v30.0M696.4,1070.1v30.0M697.7,1070.1v30.0M699.0,1070.1v30.0M700.3,1070.1v30.0M701.6,1070.1v30.0M702.9,1070.1v30.0M704.2,1070.1v30.0M705.5,1070.1v30.0M706.8,1070.1v30.0M708.1,1070.1v30.0M709.4,1070.1v30.0M710.7,1070.1v30.0M712.0,1070.1v30.0M713.3,1070.1v30.0M714.6,1070.1v30.0M715.9,1070.1v30.0M717.2,1070.1v30.0M718.5,1070.1v30.0M719.8,1070.1v30.0M721.1,1070.1v30.0M722.4,1070.1v30.0M723.7,1070.1v30.0M725.0,1070.1v30.0M726.3,1070.1v30.0M727.6,1070.1v30.0M728.9,1070.1v30.0M730.2,1070.1v30.0M731.5,1070.1v30.0M732.8,1070.1v30.0M734.1,1070.1v30.0M735.4,1070.1v30.0M736.7,1070.1v30.0M738.0,1070.1v30.0M739.3,1070.1v30.0M740.6,1070.1v30.0M741.9,1070.1v30.0M743.2,1070.1v30.0M744.5,1070.1v30.0M745.8,1070.1v30.0M747.1,1070.1v30.0M748.4,1070.1v30.0M749.7,1070.1v30.0M751.0,1070.1v30.0M752.3,1070.1v30.0M753.6,1070.1v30.0M754.9,1070.1v30.0M756.2,1070.1v30.0M757.5,1070.1v30.0M758.8,1070.1v30.0M760.1,1070.1v30.0M761.4,1070.1v30.0M762.7,1070.1v30.0M764.0,1070.1v30.0M765.3,1070.1v30.0M766.6,1070.1v30.0M767.9,1070.1v30.0M769.2,1070.1v30.0M770.5,1070.1v30.0M771.8,1070.1v30.0M773.1,1070.1v30.0M774.4,1070.1v30.0M775.7,1070.1v30.0M777.0,1070.1v30.0M778.3,1070.1v30.0M779.6,1070.1v30.0M780.9,1070.1v30.0M782.2,1070.1v30.0M783.5,1070.1v30.0M784.8,1070.1v30.0M786.1,1070.1v30.0M787.4,1070.1v30.0M788.7,1070.1v30.0M790.0,1070.1v30.0M791.3,1070.1v30.0M792.6,1070.1v30.0M793.9,1070.1v30.0M795.2,1070.1v30.0M796.5,1070.1v30.0M797.8,1070.1v30.0M799.1,1070.1v30.0M800.4,1070.1v30.0M801.7,1070.1v30.0M803.0,1070.1v30.0M804.3,1070.1v30.0M805.6,1070.1v30.0M806.9,1070.1v30.0M808.2,1070.1v30.0M809.5,1070.1v30.0M810.8,1070.1v30.0M812.1,1070.1v30.0M813.4,1070.1v30.0M814.7,1070.1v30.0M816.0,1070.1v30.0M817.3,1070.1v30.0M818.6,1070.1v30.0M819.9,1070.1v30.0M821.2,1070.1v30.0M822.5,1070.1v30.0M823.8,1070.1v30.0M825.1,1070.1v30.0M826.4,1070.1v30.0M827.7,1070.1v30.0M829.0,1070.1v30.0M830.3,1070.1v30.0M831.6,1070.1v30.0M832.9,1070.1v30.0M834.2,1070.1v30.0M835.5,1070.1v30.0M836.8,1070.1v30.0M838.1,1070.1v30.0M839.4,1070.1v30.0M840.7,1070.1v30.0M842.0,1070.1v30.0M843.3,1070.1v30.0M844.6,1070.1v30.0M845.9,1070.1v30.0M847.2,1070.1v30.0M848.5,1070.1v30.0M849.8,1070.1v30.0M851.1,1070.1v30.0M852.4,1070.1v30.0M853.7,1070.1v30.0M855.0,1070.1v30.0M856.3,1070.1v30.0M857.6,1070.1v30.0M858.9,1070.1v30.0M860.2,1070.1v30.0M861.5,1070.1v30.0M862.8,1070.1v30.0M864.1,1070.1v30.0M865.4,1070.1v30.0M866.7,1070.1v30.0M868.0,1070.1v30.0M869.3,1070.1v30.0M870.6,1070.1v30.0M871.9,1070.1v30.0M873.2,1070.1v30.0M874.5,1070.1v30.0M875.8,1070.1v30.0M877.1,1070.1v30.0M878.4,1070.1v30.0M881.0,1070.1v30.0M882.3,1070.1v30.0M883.6,1070.1v30.0M884.9,1070.1v30.0M886.2,1070.1v30.0M887.5,1070.1v30.0M888.8,1070.1v30.0M890.1,1070.1v30.0M891.4,1070.1v30.0M892.7,1070.1v30.0M894.0,1070.1v30.0M895.3,1070.1v30.0M896.6,1070.1v30.0M897.9,1070.1v30.0M899.2,1070.1v30.0M900.5,1070.1v30.0M901.8,1070.1v30.0M903.1,1070.1v30.0M904.4,1070.1v30.0M905.7,1070.1v30.0M907.0,1070.1v30.0M908.3,1070.1v30.0M909.6,1070.1v30.0M910.9,1070.1v30.0M912.2,1070.1v30.0M913.5,1070.1v30.0M914.8,1070.1v30.0M916.1,1070.1v30.0M917.4,1070.1v30.0M918.7,1070.1v30.0M920.0,1070.1v30.0M921.3,1070.1v30.0M922.6,1070.1v30.0M923.9,1070.1v30.0M925.2,1070.1v30.0M926.5,1070.1v30.0M927.8,1070.1v30.0M929.1,1070.1v30.0M930.4,1070.1v30.0M931.7,1070.1v30.0M933.0,1070.1v30.0M934.3,1070.1v30.0M935.6,1070.1v30.0M936.9,1070.1v30.0M938.2,1070.1v30.0M939.5,1070.1v30.0M940.8,1070.1v30.0M942.1,1070.1v30.0M943.4,1070.1v30.0M944.7,1070.1v30.0M946.0,1070.1v30.0M947.3,1070.1v30.0M948.6,1070.1v30.0M949.9,1070.1v30.0M951.2,1070.1v30.0M952.5,1070.1v30.0M953.8,1070.1v30.0M955.1,1070.1v30.0M956.4,1070.1v30.0M957.7,1070.1v30.0M959.0,1070.1v30.0M960.3,1070.1v30.0M961.6,1070.1v30.0M962.9,1070.1v30.0M964.2,1070.1v30.0M965.5,1070.1v30.0M966.8,1070.1v30.0M968.1,1070.1v30.0M969.4,1070.1v30.0M970.7,1070.1v30.0M972.0,1070.1v30.0M973.3,1070.1v30.0M974.6,1070.1v30.0M975.9,1070.1v30.0"/><path stroke="#e51712" d="M336.3,1070.1v30.0M338.9,1070.1v30.0M341.5,1070.1v30.0M350.6,1070.1v30.0M355.8,1070.1v30.0M359.7,1070.1v30.0M362.3,1070.1v30.0M364.9,1070.1v30.0M367.5,1070.1v30.0M368.8,1070.1v30.0M381.8,1070.1v30.0M383.1,1070.1v30.0M388.3,1070.1v30.0M390.9,1070.1v30.0M398.7,1070.1v30.0M401.3,1070.1v30.0M402.6,1070.1v30.0M403.9,1070.1v30.0M405.2,1070.1v30.0M407.8,1070.1v30.0M411.7,1070.1v30.0M413.0,1070.1v30.0M415.6,1070.1v30.0M416.9,1070.1v30.0M428.6,1070.1v30.0M429.9,1070.1v30.0M432.5,1070.1v30.0M433.8,1070.1v30.0M441.6,1070.1v30.0M445.5,1070.1v30.0M446.8,1070.1v30.0M448.1,1070.1v30.0M450.7,1070.1v30.0M454.6,1070.1v30.0M455.9,1070.1v30.0M462.4,1070.1v30.0M466.3,1070.1v30.0M467.6,1070.1v30.0M468.9,1070.1v30.0M471.5,1070.1v30.0M472.8,1070.1v30.0M474.1,1070.1v30.0M476.7,1070.1v30.0"/><path stroke="#d91511" d="M335.0,1070.1v30.0M342.8,1070.1v30.0M345.4,1070.1v30.0M351.9,1070.1v30.0M358.4,1070.1v30.0M363.6,1070.1v30.0M371.4,1070.1v30.0M377.9,1070.1v30.0M379.2,1070.1v30.0M380.5,1070.1v30.0M384.4,1070.1v30.0M385.7,1070.1v30.0M387.0,1070.1v30.0M389.6,1070.1v30.0M396.1,1070.1v30.0M400.0,1070.1v30.0M423.4,1070.1v30.0M424.7,1070.1v30.0M427.3,1070.1v30.0M431.2,1070.1v30.0M435.1,1070.1v30.0M437.7,1070.1v30.0M442.9,1070.1v30.0M444.2,1070.1v30.0M449.4,1070.1v30.0M453.3,1070.1v30.0M459.8,1070.1v30.0M463.7,1070.1v30.0M465.0,1070.1v30.0"/><path stroke="#f21813" d="M337.6,1070.1v30.0M340.2,1070.1v30.0M344.1,1070.1v30.0M346.7,1070.1v30.0M348.0,1070.1v30.0M353.2,1070.1v30.0M361.0,1070.1v30.0M370.1,1070.1v30.0M372.7,1070.1v30.0M392.2,1070.1v30.0M393.5,1070.1v30.0M409.1,1070.1v30.0M410.4,1070.1v30.0M414.3,1070.1v30.0M420.8,1070.1v30.0M422.1,1070.1v30.0M426.0,1070.1v30.0M439.0,1070.1v30.0M452.0,1070.1v30.0M457.2,1070.1v30.0M458.5,1070.1v30.0M470.2,1070.1v30.0"/><path stroke="#cc1410" d="M333.7,1070.1v30.0M349.3,1070.1v30.0M357.1,1070.1v30.0M374.0,1070.1v30.0M375.3,1070.1v30.0M397.4,1070.1v30.0M418.2,1070.1v30.0M419.5,1070.1v30.0M440.3,1070.1v30.0"/><path stroke="#ff1a14" d="M366.2,1070.1v30.0M376.6,1070.1v30.0M394.8,1070.1v30.0M406.5,1070.1v30.0M436.4,1070.1v30.0"/><path stroke="#7e70fb" d="M480.6,1070.1v30.0M485.8,1070.1v30.0M487.1,1070.1v30.0"/><path stroke="#ff312c" d="M461.1,1070.1v30.0M475.4,1070.1v30.0"/><path stroke="#beb7fd" d="M478.0,1070.1v30.0M481.9,1070.1v30.0"/><path stroke="#a99ffc" d="M483.2,1070.1v30.0M484.5,1070.1v30.0"/><path stroke="#bf120f" d="M354.5,1070.1v30.0"/><path stroke="#9488fc" d="M479.3,1070.1v30.0"/><path stroke="#3e28f9" d="M879.7,1070.1v30.0"/></g><g stroke-width="1.8" fill="none" clip-path="url(#hc)"><path stroke="#2810f8" d="M488.4,1108.1v30.0M489.7,1108.1v30.0M491.0,1108.1v30.0M492.3,1108.1v30.0M493.6,1108.1v30.0M494.9,1108.1v30.0M496.2,1108.1v30.0M497.5,1108.1v30.0M498.8,1108.1v30.0M500.1,1108.1v30.0M501.4,1108.1v30.0M502.7,1108.1v30.0M504.0,1108.1v30.0M505.3,1108.1v30.0M506.6,1108.1v30.0M507.9,1108.1v30.0M509.2,1108.1v30.0M510.5,1108.1v30.0M511.8,1108.1v30.0M513.1,1108.1v30.0M514.4,1108.1v30.0M515.7,1108.1v30.0M517.0,1108.1v30.0M518.3,1108.1v30.0M519.6,1108.1v30.0M520.9,1108.1v30.0M522.2,1108.1v30.0M523.5,1108.1v30.0M524.8,1108.1v30.0M526.1,1108.1v30.0M527.4,1108.1v30.0M528.7,1108.1v30.0M530.0,1108.1v30.0M531.3,1108.1v30.0M532.6,1108.1v30.0M533.9,1108.1v30.0M535.2,1108.1v30.0M536.5,1108.1v30.0M537.8,1108.1v30.0M539.1,1108.1v30.0M540.4,1108.1v30.0M541.7,1108.1v30.0M543.0,1108.1v30.0M544.3,1108.1v30.0M545.6,1108.1v30.0M546.9,1108.1v30.0M548.2,1108.1v30.0M549.5,1108.1v30.0M550.8,1108.1v30.0M552.1,1108.1v30.0M553.4,1108.1v30.0M554.7,1108.1v30.0M556.0,1108.1v30.0M557.3,1108.1v30.0M558.6,1108.1v30.0M559.9,1108.1v30.0M561.2,1108.1v30.0M562.5,1108.1v30.0M563.8,1108.1v30.0M565.1,1108.1v30.0M566.4,1108.1v30.0M567.7,1108.1v30.0M569.0,1108.1v30.0M570.3,1108.1v30.0M571.6,1108.1v30.0M572.9,1108.1v30.0M574.2,1108.1v30.0M575.5,1108.1v30.0M576.8,1108.1v30.0M578.1,1108.1v30.0M579.4,1108.1v30.0M580.7,1108.1v30.0M582.0,1108.1v30.0M583.3,1108.1v30.0M584.6,1108.1v30.0M585.9,1108.1v30.0M587.2,1108.1v30.0M588.5,1108.1v30.0M589.8,1108.1v30.0M591.1,1108.1v30.0M592.4,1108.1v30.0M593.7,1108.1v30.0M595.0,1108.1v30.0M596.3,1108.1v30.0M597.6,1108.1v30.0M598.9,1108.1v30.0M600.2,1108.1v30.0M601.5,1108.1v30.0M602.8,1108.1v30.0M604.1,1108.1v30.0M605.4,1108.1v30.0M606.7,1108.1v30.0M608.0,1108.1v30.0M609.3,1108.1v30.0M610.6,1108.1v30.0M611.9,1108.1v30.0M613.2,1108.1v30.0M614.5,1108.1v30.0M615.8,1108.1v30.0M617.1,1108.1v30.0M618.4,1108.1v30.0M619.7,1108.1v30.0M621.0,1108.1v30.0M622.3,1108.1v30.0M623.6,1108.1v30.0M624.9,1108.1v30.0M626.2,1108.1v30.0M627.5,1108.1v30.0M628.8,1108.1v30.0M630.1,1108.1v30.0M631.4,1108.1v30.0M632.7,1108.1v30.0M634.0,1108.1v30.0M635.3,1108.1v30.0M636.6,1108.1v30.0M637.9,1108.1v30.0M639.2,1108.1v30.0M640.5,1108.1v30.0M641.8,1108.1v30.0M643.1,1108.1v30.0M644.4,1108.1v30.0M645.7,1108.1v30.0M647.0,1108.1v30.0M648.3,1108.1v30.0M649.6,1108.1v30.0M650.9,1108.1v30.0M652.2,1108.1v30.0M653.5,1108.1v30.0M654.8,1108.1v30.0M656.1,1108.1v30.0M657.4,1108.1v30.0M658.7,1108.1v30.0M660.0,1108.1v30.0M661.3,1108.1v30.0M662.6,1108.1v30.0M663.9,1108.1v30.0M665.2,1108.1v30.0M666.5,1108.1v30.0M667.8,1108.1v30.0M669.1,1108.1v30.0M670.4,1108.1v30.0M671.7,1108.1v30.0M673.0,1108.1v30.0M674.3,1108.1v30.0M675.6,1108.1v30.0M676.9,1108.1v30.0M678.2,1108.1v30.0M679.5,1108.1v30.0M680.8,1108.1v30.0M682.1,1108.1v30.0M683.4,1108.1v30.0M684.7,1108.1v30.0M686.0,1108.1v30.0M687.3,1108.1v30.0M688.6,1108.1v30.0M689.9,1108.1v30.0M691.2,1108.1v30.0M692.5,1108.1v30.0M693.8,1108.1v30.0M695.1,1108.1v30.0M696.4,1108.1v30.0M697.7,1108.1v30.0M699.0,1108.1v30.0M700.3,1108.1v30.0M701.6,1108.1v30.0M702.9,1108.1v30.0M704.2,1108.1v30.0M705.5,1108.1v30.0M706.8,1108.1v30.0M708.1,1108.1v30.0M709.4,1108.1v30.0M710.7,1108.1v30.0M712.0,1108.1v30.0M713.3,1108.1v30.0M714.6,1108.1v30.0M715.9,1108.1v30.0M717.2,1108.1v30.0M718.5,1108.1v30.0M719.8,1108.1v30.0M721.1,1108.1v30.0M722.4,1108.1v30.0M723.7,1108.1v30.0M725.0,1108.1v30.0M726.3,1108.1v30.0M727.6,1108.1v30.0M728.9,1108.1v30.0M730.2,1108.1v30.0M731.5,1108.1v30.0M732.8,1108.1v30.0M734.1,1108.1v30.0M735.4,1108.1v30.0M736.7,1108.1v30.0M738.0,1108.1v30.0M739.3,1108.1v30.0M740.6,1108.1v30.0M741.9,1108.1v30.0M743.2,1108.1v30.0M744.5,1108.1v30.0M745.8,1108.1v30.0M747.1,1108.1v30.0M748.4,1108.1v30.0M749.7,1108.1v30.0M751.0,1108.1v30.0M752.3,1108.1v30.0M753.6,1108.1v30.0M754.9,1108.1v30.0M756.2,1108.1v30.0M757.5,1108.1v30.0M758.8,1108.1v30.0M760.1,1108.1v30.0M761.4,1108.1v30.0M762.7,1108.1v30.0M764.0,1108.1v30.0M765.3,1108.1v30.0M766.6,1108.1v30.0M767.9,1108.1v30.0M769.2,1108.1v30.0M770.5,1108.1v30.0M771.8,1108.1v30.0M773.1,1108.1v30.0M774.4,1108.1v30.0M775.7,1108.1v30.0M777.0,1108.1v30.0M778.3,1108.1v30.0M779.6,1108.1v30.0M780.9,1108.1v30.0M782.2,1108.1v30.0M783.5,1108.1v30.0M784.8,1108.1v30.0M786.1,1108.1v30.0M787.4,1108.1v30.0M788.7,1108.1v30.0M790.0,1108.1v30.0M791.3,1108.1v30.0M792.6,1108.1v30.0M793.9,1108.1v30.0M795.2,1108.1v30.0M796.5,1108.1v30.0M797.8,1108.1v30.0M799.1,1108.1v30.0M800.4,1108.1v30.0M801.7,1108.1v30.0M803.0,1108.1v30.0M804.3,1108.1v30.0M805.6,1108.1v30.0M806.9,1108.1v30.0M808.2,1108.1v30.0M809.5,1108.1v30.0M810.8,1108.1v30.0M812.1,1108.1v30.0M813.4,1108.1v30.0M814.7,1108.1v30.0M816.0,1108.1v30.0M817.3,1108.1v30.0M818.6,1108.1v30.0M819.9,1108.1v30.0M821.2,1108.1v30.0M822.5,1108.1v30.0M823.8,1108.1v30.0M825.1,1108.1v30.0M826.4,1108.1v30.0M827.7,1108.1v30.0M829.0,1108.1v30.0M830.3,1108.1v30.0M831.6,1108.1v30.0M832.9,1108.1v30.0M834.2,1108.1v30.0M835.5,1108.1v30.0M836.8,1108.1v30.0M838.1,1108.1v30.0M839.4,1108.1v30.0M840.7,1108.1v30.0M842.0,1108.1v30.0M843.3,1108.1v30.0M844.6,1108.1v30.0M845.9,1108.1v30.0M847.2,1108.1v30.0M848.5,1108.1v30.0M849.8,1108.1v30.0M851.1,1108.1v30.0M852.4,1108.1v30.0M853.7,1108.1v30.0M855.0,1108.1v30.0M856.3,1108.1v30.0M857.6,1108.1v30.0M858.9,1108.1v30.0M860.2,1108.1v30.0M861.5,1108.1v30.0M862.8,1108.1v30.0M864.1,1108.1v30.0M865.4,1108.1v30.0M866.7,1108.1v30.0M868.0,1108.1v30.0M869.3,1108.1v30.0M870.6,1108.1v30.0M871.9,1108.1v30.0M873.2,1108.1v30.0M874.5,1108.1v30.0M875.8,1108.1v30.0M877.1,1108.1v30.0M878.4,1108.1v30.0M879.7,1108.1v30.0M881.0,1108.1v30.0M882.3,1108.1v30.0M883.6,1108.1v30.0M884.9,1108.1v30.0M886.2,1108.1v30.0M887.5,1108.1v30.0M888.8,1108.1v30.0M890.1,1108.1v30.0M891.4,1108.1v30.0M892.7,1108.1v30.0M894.0,1108.1v30.0M895.3,1108.1v30.0M896.6,1108.1v30.0M897.9,1108.1v30.0M899.2,1108.1v30.0M900.5,1108.1v30.0M901.8,1108.1v30.0M903.1,1108.1v30.0M904.4,1108.1v30.0M905.7,1108.1v30.0M907.0,1108.1v30.0M908.3,1108.1v30.0M909.6,1108.1v30.0M910.9,1108.1v30.0M912.2,1108.1v30.0M913.5,1108.1v30.0M914.8,1108.1v30.0M916.1,1108.1v30.0M917.4,1108.1v30.0M918.7,1108.1v30.0M920.0,1108.1v30.0M921.3,1108.1v30.0M922.6,1108.1v30.0M923.9,1108.1v30.0M925.2,1108.1v30.0M926.5,1108.1v30.0M927.8,1108.1v30.0M929.1,1108.1v30.0M930.4,1108.1v30.0M931.7,1108.1v30.0M933.0,1108.1v30.0M934.3,1108.1v30.0M935.6,1108.1v30.0M936.9,1108.1v30.0M938.2,1108.1v30.0M939.5,1108.1v30.0M940.8,1108.1v30.0M942.1,1108.1v30.0M943.4,1108.1v30.0M944.7,1108.1v30.0M946.0,1108.1v30.0M947.3,1108.1v30.0M948.6,1108.1v30.0M949.9,1108.1v30.0M951.2,1108.1v30.0M952.5,1108.1v30.0M953.8,1108.1v30.0M955.1,1108.1v30.0M956.4,1108.1v30.0M957.7,1108.1v30.0M959.0,1108.1v30.0M960.3,1108.1v30.0M961.6,1108.1v30.0M962.9,1108.1v30.0M964.2,1108.1v30.0M965.5,1108.1v30.0M966.8,1108.1v30.0M968.1,1108.1v30.0M969.4,1108.1v30.0M970.7,1108.1v30.0M972.0,1108.1v30.0M973.3,1108.1v30.0M974.6,1108.1v30.0M975.9,1108.1v30.0"/><path stroke="#e51712" d="M333.7,1108.1v30.0M337.6,1108.1v30.0M342.8,1108.1v30.0M345.4,1108.1v30.0M348.0,1108.1v30.0M349.3,1108.1v30.0M350.6,1108.1v30.0M353.2,1108.1v30.0M355.8,1108.1v30.0M358.4,1108.1v30.0M361.0,1108.1v30.0M363.6,1108.1v30.0M380.5,1108.1v30.0M384.4,1108.1v30.0M392.2,1108.1v30.0M393.5,1108.1v30.0M397.4,1108.1v30.0M398.7,1108.1v30.0M402.6,1108.1v30.0M415.6,1108.1v30.0M416.9,1108.1v30.0M419.5,1108.1v30.0M420.8,1108.1v30.0M423.4,1108.1v30.0M426.0,1108.1v30.0M429.9,1108.1v30.0M432.5,1108.1v30.0M433.8,1108.1v30.0M435.1,1108.1v30.0M436.4,1108.1v30.0M437.7,1108.1v30.0M439.0,1108.1v30.0M440.3,1108.1v30.0M445.5,1108.1v30.0M452.0,1108.1v30.0M454.6,1108.1v30.0M455.9,1108.1v30.0M458.5,1108.1v30.0M461.1,1108.1v30.0M465.0,1108.1v30.0M467.6,1108.1v30.0M470.2,1108.1v30.0"/><path stroke="#f21813" d="M335.0,1108.1v30.0M336.3,1108.1v30.0M340.2,1108.1v30.0M341.5,1108.1v30.0M346.7,1108.1v30.0M351.9,1108.1v30.0M359.7,1108.1v30.0M362.3,1108.1v30.0M367.5,1108.1v30.0M370.1,1108.1v30.0M374.0,1108.1v30.0M375.3,1108.1v30.0M385.7,1108.1v30.0M390.9,1108.1v30.0M394.8,1108.1v30.0M403.9,1108.1v30.0M405.2,1108.1v30.0M407.8,1108.1v30.0M410.4,1108.1v30.0M413.0,1108.1v30.0M418.2,1108.1v30.0M428.6,1108.1v30.0M431.2,1108.1v30.0M444.2,1108.1v30.0M446.8,1108.1v30.0M448.1,1108.1v30.0M453.3,1108.1v30.0M463.7,1108.1v30.0M468.9,1108.1v30.0M471.5,1108.1v30.0M474.1,1108.1v30.0M476.7,1108.1v30.0"/><path stroke="#d91511" d="M357.1,1108.1v30.0M366.2,1108.1v30.0M368.8,1108.1v30.0M372.7,1108.1v30.0M379.2,1108.1v30.0M381.8,1108.1v30.0M383.1,1108.1v30.0M388.3,1108.1v30.0M389.6,1108.1v30.0M409.1,1108.1v30.0M424.7,1108.1v30.0M449.4,1108.1v30.0M459.8,1108.1v30.0"/><path stroke="#ff1a14" d="M364.9,1108.1v30.0M387.0,1108.1v30.0M396.1,1108.1v30.0M401.3,1108.1v30.0M406.5,1108.1v30.0M414.3,1108.1v30.0M427.3,1108.1v30.0M441.6,1108.1v30.0M442.9,1108.1v30.0M450.7,1108.1v30.0M466.3,1108.1v30.0M475.4,1108.1v30.0"/><path stroke="#cc1410" d="M338.9,1108.1v30.0M371.4,1108.1v30.0M376.6,1108.1v30.0M400.0,1108.1v30.0M411.7,1108.1v30.0M422.1,1108.1v30.0M457.2,1108.1v30.0M462.4,1108.1v30.0"/><path stroke="#7e70fb" d="M478.0,1108.1v30.0M480.6,1108.1v30.0M483.2,1108.1v30.0"/><path stroke="#a99ffc" d="M479.3,1108.1v30.0M484.5,1108.1v30.0M485.8,1108.1v30.0"/><path stroke="#bf120f" d="M377.9,1108.1v30.0M472.8,1108.1v30.0"/><path stroke="#ff4843" d="M344.1,1108.1v30.0"/><path stroke="#ff312c" d="M354.5,1108.1v30.0"/><path stroke="#beb7fd" d="M481.9,1108.1v30.0"/><path stroke="#6958fa" d="M487.1,1108.1v30.0"/></g><g stroke-width="1.8" fill="none" clip-path="url(#hc)"><path stroke="#2810f8" d="M488.4,1146.1v30.0M489.7,1146.1v30.0M491.0,1146.1v30.0M492.3,1146.1v30.0M493.6,1146.1v30.0M494.9,1146.1v30.0M496.2,1146.1v30.0M498.8,1146.1v30.0M500.1,1146.1v30.0M501.4,1146.1v30.0M502.7,1146.1v30.0M505.3,1146.1v30.0M506.6,1146.1v30.0M507.9,1146.1v30.0M509.2,1146.1v30.0M510.5,1146.1v30.0M511.8,1146.1v30.0M513.1,1146.1v30.0M514.4,1146.1v30.0M517.0,1146.1v30.0M519.6,1146.1v30.0M520.9,1146.1v30.0M522.2,1146.1v30.0M523.5,1146.1v30.0M527.4,1146.1v30.0M528.7,1146.1v30.0M530.0,1146.1v30.0M531.3,1146.1v30.0M535.2,1146.1v30.0M536.5,1146.1v30.0M537.8,1146.1v30.0M539.1,1146.1v30.0M541.7,1146.1v30.0M543.0,1146.1v30.0M545.6,1146.1v30.0M546.9,1146.1v30.0M548.2,1146.1v30.0M549.5,1146.1v30.0M552.1,1146.1v30.0M553.4,1146.1v30.0M556.0,1146.1v30.0M557.3,1146.1v30.0M558.6,1146.1v30.0M559.9,1146.1v30.0M561.2,1146.1v30.0M562.5,1146.1v30.0M563.8,1146.1v30.0M565.1,1146.1v30.0M566.4,1146.1v30.0M567.7,1146.1v30.0M569.0,1146.1v30.0M570.3,1146.1v30.0M571.6,1146.1v30.0M572.9,1146.1v30.0M575.5,1146.1v30.0M576.8,1146.1v30.0M578.1,1146.1v30.0M579.4,1146.1v30.0M580.7,1146.1v30.0M582.0,1146.1v30.0M583.3,1146.1v30.0M584.6,1146.1v30.0M585.9,1146.1v30.0M587.2,1146.1v30.0M588.5,1146.1v30.0M591.1,1146.1v30.0M592.4,1146.1v30.0M595.0,1146.1v30.0M596.3,1146.1v30.0M597.6,1146.1v30.0M600.2,1146.1v30.0M601.5,1146.1v30.0M604.1,1146.1v30.0M606.7,1146.1v30.0M608.0,1146.1v30.0M609.3,1146.1v30.0M610.6,1146.1v30.0M614.5,1146.1v30.0M617.1,1146.1v30.0M619.7,1146.1v30.0M621.0,1146.1v30.0M622.3,1146.1v30.0M623.6,1146.1v30.0M624.9,1146.1v30.0M626.2,1146.1v30.0M627.5,1146.1v30.0M630.1,1146.1v30.0M631.4,1146.1v30.0M634.0,1146.1v30.0M635.3,1146.1v30.0M636.6,1146.1v30.0M639.2,1146.1v30.0M640.5,1146.1v30.0M641.8,1146.1v30.0M643.1,1146.1v30.0M644.4,1146.1v30.0M645.7,1146.1v30.0M647.0,1146.1v30.0M648.3,1146.1v30.0M649.6,1146.1v30.0M654.8,1146.1v30.0M656.1,1146.1v30.0M657.4,1146.1v30.0M658.7,1146.1v30.0M660.0,1146.1v30.0M661.3,1146.1v30.0M662.6,1146.1v30.0M665.2,1146.1v30.0M666.5,1146.1v30.0M667.8,1146.1v30.0M673.0,1146.1v30.0M674.3,1146.1v30.0M676.9,1146.1v30.0M678.2,1146.1v30.0M680.8,1146.1v30.0M682.1,1146.1v30.0M683.4,1146.1v30.0M684.7,1146.1v30.0M686.0,1146.1v30.0M687.3,1146.1v30.0M688.6,1146.1v30.0M689.9,1146.1v30.0M692.5,1146.1v30.0M695.1,1146.1v30.0M696.4,1146.1v30.0M697.7,1146.1v30.0M699.0,1146.1v30.0M700.3,1146.1v30.0M701.6,1146.1v30.0M704.2,1146.1v30.0M705.5,1146.1v30.0M706.8,1146.1v30.0M708.1,1146.1v30.0M709.4,1146.1v30.0M712.0,1146.1v30.0M717.2,1146.1v30.0M718.5,1146.1v30.0M719.8,1146.1v30.0M721.1,1146.1v30.0M722.4,1146.1v30.0M725.0,1146.1v30.0M726.3,1146.1v30.0M727.6,1146.1v30.0M730.2,1146.1v30.0M731.5,1146.1v30.0M734.1,1146.1v30.0M735.4,1146.1v30.0M736.7,1146.1v30.0M738.0,1146.1v30.0M739.3,1146.1v30.0M744.5,1146.1v30.0M745.8,1146.1v30.0M747.1,1146.1v30.0M748.4,1146.1v30.0M749.7,1146.1v30.0M752.3,1146.1v30.0M754.9,1146.1v30.0M756.2,1146.1v30.0M761.4,1146.1v30.0M762.7,1146.1v30.0M764.0,1146.1v30.0M766.6,1146.1v30.0M769.2,1146.1v30.0M770.5,1146.1v30.0M773.1,1146.1v30.0M774.4,1146.1v30.0M777.0,1146.1v30.0M778.3,1146.1v30.0M779.6,1146.1v30.0M780.9,1146.1v30.0M782.2,1146.1v30.0M783.5,1146.1v30.0M784.8,1146.1v30.0M786.1,1146.1v30.0M788.7,1146.1v30.0M791.3,1146.1v30.0M792.6,1146.1v30.0M793.9,1146.1v30.0M795.2,1146.1v30.0M796.5,1146.1v30.0M797.8,1146.1v30.0M799.1,1146.1v30.0M800.4,1146.1v30.0M801.7,1146.1v30.0M803.0,1146.1v30.0M804.3,1146.1v30.0M805.6,1146.1v30.0M806.9,1146.1v30.0M809.5,1146.1v30.0M810.8,1146.1v30.0M812.1,1146.1v30.0M813.4,1146.1v30.0M818.6,1146.1v30.0M819.9,1146.1v30.0M822.5,1146.1v30.0M823.8,1146.1v30.0M825.1,1146.1v30.0M826.4,1146.1v30.0M827.7,1146.1v30.0M829.0,1146.1v30.0M830.3,1146.1v30.0M831.6,1146.1v30.0M832.9,1146.1v30.0M835.5,1146.1v30.0M838.1,1146.1v30.0M839.4,1146.1v30.0M840.7,1146.1v30.0M842.0,1146.1v30.0M844.6,1146.1v30.0M845.9,1146.1v30.0M847.2,1146.1v30.0M848.5,1146.1v30.0M849.8,1146.1v30.0M851.1,1146.1v30.0M852.4,1146.1v30.0M853.7,1146.1v30.0M856.3,1146.1v30.0M857.6,1146.1v30.0M858.9,1146.1v30.0M860.2,1146.1v30.0M861.5,1146.1v30.0M862.8,1146.1v30.0M864.1,1146.1v30.0M865.4,1146.1v30.0M866.7,1146.1v30.0M868.0,1146.1v30.0M870.6,1146.1v30.0M873.2,1146.1v30.0M874.5,1146.1v30.0M875.8,1146.1v30.0M878.4,1146.1v30.0M879.7,1146.1v30.0M881.0,1146.1v30.0M882.3,1146.1v30.0M883.6,1146.1v30.0M884.9,1146.1v30.0M886.2,1146.1v30.0M887.5,1146.1v30.0M888.8,1146.1v30.0M890.1,1146.1v30.0M891.4,1146.1v30.0M894.0,1146.1v30.0M895.3,1146.1v30.0M897.9,1146.1v30.0M899.2,1146.1v30.0M900.5,1146.1v30.0M904.4,1146.1v30.0M905.7,1146.1v30.0M907.0,1146.1v30.0M908.3,1146.1v30.0M909.6,1146.1v30.0M910.9,1146.1v30.0M913.5,1146.1v30.0M914.8,1146.1v30.0M917.4,1146.1v30.0M918.7,1146.1v30.0M922.6,1146.1v30.0M925.2,1146.1v30.0M927.8,1146.1v30.0M929.1,1146.1v30.0M933.0,1146.1v30.0M934.3,1146.1v30.0M935.6,1146.1v30.0M938.2,1146.1v30.0M939.5,1146.1v30.0M943.4,1146.1v30.0M948.6,1146.1v30.0M951.2,1146.1v30.0M952.5,1146.1v30.0M955.1,1146.1v30.0M956.4,1146.1v30.0M957.7,1146.1v30.0M959.0,1146.1v30.0M960.3,1146.1v30.0M961.6,1146.1v30.0M962.9,1146.1v30.0M964.2,1146.1v30.0M965.5,1146.1v30.0M966.8,1146.1v30.0M968.1,1146.1v30.0M969.4,1146.1v30.0M970.7,1146.1v30.0M972.0,1146.1v30.0M973.3,1146.1v30.0M974.6,1146.1v30.0M975.9,1146.1v30.0"/><path stroke="#240ee7" d="M497.5,1146.1v30.0M526.1,1146.1v30.0M532.6,1146.1v30.0M533.9,1146.1v30.0M540.4,1146.1v30.0M544.3,1146.1v30.0M550.8,1146.1v30.0M554.7,1146.1v30.0M574.2,1146.1v30.0M589.8,1146.1v30.0M593.7,1146.1v30.0M598.9,1146.1v30.0M602.8,1146.1v30.0M611.9,1146.1v30.0M613.2,1146.1v30.0M615.8,1146.1v30.0M618.4,1146.1v30.0M628.8,1146.1v30.0M632.7,1146.1v30.0M652.2,1146.1v30.0M653.5,1146.1v30.0M663.9,1146.1v30.0M675.6,1146.1v30.0M691.2,1146.1v30.0M693.8,1146.1v30.0M702.9,1146.1v30.0M713.3,1146.1v30.0M715.9,1146.1v30.0M723.7,1146.1v30.0M728.9,1146.1v30.0M732.8,1146.1v30.0M741.9,1146.1v30.0M751.0,1146.1v30.0M753.6,1146.1v30.0M758.8,1146.1v30.0M760.1,1146.1v30.0M765.3,1146.1v30.0M767.9,1146.1v30.0M775.7,1146.1v30.0M790.0,1146.1v30.0M808.2,1146.1v30.0M817.3,1146.1v30.0M821.2,1146.1v30.0M836.8,1146.1v30.0M855.0,1146.1v30.0M869.3,1146.1v30.0M871.9,1146.1v30.0M877.1,1146.1v30.0M892.7,1146.1v30.0M901.8,1146.1v30.0M903.1,1146.1v30.0M912.2,1146.1v30.0M916.1,1146.1v30.0M920.0,1146.1v30.0M921.3,1146.1v30.0M923.9,1146.1v30.0M926.5,1146.1v30.0M930.4,1146.1v30.0M931.7,1146.1v30.0M936.9,1146.1v30.0M942.1,1146.1v30.0M944.7,1146.1v30.0M947.3,1146.1v30.0M949.9,1146.1v30.0"/><path stroke="#bf120f" d="M340.2,1146.1v30.0M342.8,1146.1v30.0M345.4,1146.1v30.0M348.0,1146.1v30.0M349.3,1146.1v30.0M354.5,1146.1v30.0M355.8,1146.1v30.0M361.0,1146.1v30.0M366.2,1146.1v30.0M368.8,1146.1v30.0M375.3,1146.1v30.0M376.6,1146.1v30.0M377.9,1146.1v30.0M380.5,1146.1v30.0M384.4,1146.1v30.0M388.3,1146.1v30.0M392.2,1146.1v30.0M393.5,1146.1v30.0M394.8,1146.1v30.0M396.1,1146.1v30.0M397.4,1146.1v30.0M405.2,1146.1v30.0M415.6,1146.1v30.0M424.7,1146.1v30.0M428.6,1146.1v30.0M435.1,1146.1v30.0M442.9,1146.1v30.0M446.8,1146.1v30.0M448.1,1146.1v30.0M450.7,1146.1v30.0M452.0,1146.1v30.0M454.6,1146.1v30.0M462.4,1146.1v30.0M463.7,1146.1v30.0M467.6,1146.1v30.0M468.9,1146.1v30.0M471.5,1146.1v30.0"/><path stroke="#b2100e" d="M336.3,1146.1v30.0M337.6,1146.1v30.0M338.9,1146.1v30.0M344.1,1146.1v30.0M346.7,1146.1v30.0M362.3,1146.1v30.0M370.1,1146.1v30.0M379.2,1146.1v30.0M389.6,1146.1v30.0M398.7,1146.1v30.0M401.3,1146.1v30.0M402.6,1146.1v30.0M406.5,1146.1v30.0M409.1,1146.1v30.0M411.7,1146.1v30.0M414.3,1146.1v30.0M416.9,1146.1v30.0M420.8,1146.1v30.0M426.0,1146.1v30.0M427.3,1146.1v30.0M431.2,1146.1v30.0M436.4,1146.1v30.0M449.4,1146.1v30.0M453.3,1146.1v30.0M455.9,1146.1v30.0M457.2,1146.1v30.0M459.8,1146.1v30.0M470.2,1146.1v30.0M476.7,1146.1v30.0"/><path stroke="#cc1410" d="M335.0,1146.1v30.0M341.5,1146.1v30.0M350.6,1146.1v30.0M357.1,1146.1v30.0M358.4,1146.1v30.0M363.6,1146.1v30.0M364.9,1146.1v30.0M371.4,1146.1v30.0M374.0,1146.1v30.0M387.0,1146.1v30.0M407.8,1146.1v30.0M413.0,1146.1v30.0M422.1,1146.1v30.0M429.9,1146.1v30.0M433.8,1146.1v30.0M441.6,1146.1v30.0M458.5,1146.1v30.0M461.1,1146.1v30.0M465.0,1146.1v30.0M466.3,1146.1v30.0M472.8,1146.1v30.0M474.1,1146.1v30.0M475.4,1146.1v30.0"/><path stroke="#5340f9" d="M504.0,1146.1v30.0M518.3,1146.1v30.0M524.8,1146.1v30.0M605.4,1146.1v30.0M637.9,1146.1v30.0M650.9,1146.1v30.0M669.1,1146.1v30.0M670.4,1146.1v30.0M671.7,1146.1v30.0M679.5,1146.1v30.0M710.7,1146.1v30.0M714.6,1146.1v30.0M740.6,1146.1v30.0M743.2,1146.1v30.0M757.5,1146.1v30.0M771.8,1146.1v30.0M787.4,1146.1v30.0M814.7,1146.1v30.0M816.0,1146.1v30.0M843.3,1146.1v30.0M896.6,1146.1v30.0M940.8,1146.1v30.0"/><path stroke="#a50f0d" d="M333.7,1146.1v30.0M353.2,1146.1v30.0M359.7,1146.1v30.0M372.7,1146.1v30.0M381.8,1146.1v30.0M383.1,1146.1v30.0M385.7,1146.1v30.0M390.9,1146.1v30.0M400.0,1146.1v30.0M403.9,1146.1v30.0M418.2,1146.1v30.0M437.7,1146.1v30.0M439.0,1146.1v30.0M444.2,1146.1v30.0"/><path stroke="#d91511" d="M351.9,1146.1v30.0M423.4,1146.1v30.0M432.5,1146.1v30.0M445.5,1146.1v30.0"/><path stroke="#3e28f9" d="M515.7,1146.1v30.0M834.2,1146.1v30.0M946.0,1146.1v30.0M953.8,1146.1v30.0"/><path stroke="#a99ffc" d="M478.0,1146.1v30.0M483.2,1146.1v30.0M485.8,1146.1v30.0"/><path stroke="#beb7fd" d="M479.3,1146.1v30.0M481.9,1146.1v30.0M487.1,1146.1v30.0"/><path stroke="#990d0c" d="M367.5,1146.1v30.0M419.5,1146.1v30.0"/><path stroke="#e51712" d="M410.4,1146.1v30.0M440.3,1146.1v30.0"/><path stroke="#7e70fb" d="M480.6,1146.1v30.0"/><path stroke="#9488fc" d="M484.5,1146.1v30.0"/></g><g stroke-width="1.8" fill="none" clip-path="url(#hc)"><path stroke="#3e28f9" d="M511.8,1184.1v30.0M513.1,1184.1v30.0M515.7,1184.1v30.0M517.0,1184.1v30.0M518.3,1184.1v30.0M522.2,1184.1v30.0M523.5,1184.1v30.0M528.7,1184.1v30.0M530.0,1184.1v30.0M537.8,1184.1v30.0M539.1,1184.1v30.0M540.4,1184.1v30.0M543.0,1184.1v30.0M545.6,1184.1v30.0M548.2,1184.1v30.0M549.5,1184.1v30.0M552.1,1184.1v30.0M557.3,1184.1v30.0M559.9,1184.1v30.0M563.8,1184.1v30.0M566.4,1184.1v30.0M569.0,1184.1v30.0M572.9,1184.1v30.0M576.8,1184.1v30.0M580.7,1184.1v30.0M585.9,1184.1v30.0M588.5,1184.1v30.0M595.0,1184.1v30.0M596.3,1184.1v30.0M598.9,1184.1v30.0M600.2,1184.1v30.0M602.8,1184.1v30.0M605.4,1184.1v30.0M611.9,1184.1v30.0M614.5,1184.1v30.0M618.4,1184.1v30.0M624.9,1184.1v30.0M626.2,1184.1v30.0M627.5,1184.1v30.0M630.1,1184.1v30.0M631.4,1184.1v30.0M634.0,1184.1v30.0M635.3,1184.1v30.0M639.2,1184.1v30.0M641.8,1184.1v30.0M647.0,1184.1v30.0M650.9,1184.1v30.0M653.5,1184.1v30.0M654.8,1184.1v30.0M657.4,1184.1v30.0M661.3,1184.1v30.0M662.6,1184.1v30.0M663.9,1184.1v30.0M666.5,1184.1v30.0M670.4,1184.1v30.0M673.0,1184.1v30.0M674.3,1184.1v30.0M675.6,1184.1v30.0M676.9,1184.1v30.0M679.5,1184.1v30.0M682.1,1184.1v30.0M684.7,1184.1v30.0M687.3,1184.1v30.0M692.5,1184.1v30.0M700.3,1184.1v30.0M701.6,1184.1v30.0M704.2,1184.1v30.0M706.8,1184.1v30.0M708.1,1184.1v30.0M709.4,1184.1v30.0M710.7,1184.1v30.0M715.9,1184.1v30.0M723.7,1184.1v30.0M725.0,1184.1v30.0M726.3,1184.1v30.0M727.6,1184.1v30.0M728.9,1184.1v30.0M731.5,1184.1v30.0M732.8,1184.1v30.0M734.1,1184.1v30.0M735.4,1184.1v30.0M736.7,1184.1v30.0M738.0,1184.1v30.0M740.6,1184.1v30.0M743.2,1184.1v30.0M745.8,1184.1v30.0M747.1,1184.1v30.0M749.7,1184.1v30.0M751.0,1184.1v30.0M752.3,1184.1v30.0M753.6,1184.1v30.0M754.9,1184.1v30.0M756.2,1184.1v30.0M765.3,1184.1v30.0M767.9,1184.1v30.0M777.0,1184.1v30.0M778.3,1184.1v30.0M782.2,1184.1v30.0M793.9,1184.1v30.0M799.1,1184.1v30.0M801.7,1184.1v30.0M803.0,1184.1v30.0M804.3,1184.1v30.0M805.6,1184.1v30.0M812.1,1184.1v30.0M813.4,1184.1v30.0M816.0,1184.1v30.0M817.3,1184.1v30.0M818.6,1184.1v30.0M821.2,1184.1v30.0M822.5,1184.1v30.0M826.4,1184.1v30.0M829.0,1184.1v30.0M830.3,1184.1v30.0M836.8,1184.1v30.0M838.1,1184.1v30.0M839.4,1184.1v30.0M840.7,1184.1v30.0M843.3,1184.1v30.0M844.6,1184.1v30.0M849.8,1184.1v30.0M851.1,1184.1v30.0M852.4,1184.1v30.0M853.7,1184.1v30.0M855.0,1184.1v30.0M857.6,1184.1v30.0M858.9,1184.1v30.0M860.2,1184.1v30.0M861.5,1184.1v30.0M862.8,1184.1v30.0M865.4,1184.1v30.0M866.7,1184.1v30.0M868.0,1184.1v30.0M870.6,1184.1v30.0M873.2,1184.1v30.0M874.5,1184.1v30.0M875.8,1184.1v30.0M881.0,1184.1v30.0M884.9,1184.1v30.0M886.2,1184.1v30.0M887.5,1184.1v30.0M888.8,1184.1v30.0M890.1,1184.1v30.0M891.4,1184.1v30.0M892.7,1184.1v30.0M897.9,1184.1v30.0M899.2,1184.1v30.0M900.5,1184.1v30.0M905.7,1184.1v30.0M907.0,1184.1v30.0M908.3,1184.1v30.0M909.6,1184.1v30.0M913.5,1184.1v30.0M916.1,1184.1v30.0M918.7,1184.1v30.0M920.0,1184.1v30.0M921.3,1184.1v30.0M929.1,1184.1v30.0M934.3,1184.1v30.0M935.6,1184.1v30.0M936.9,1184.1v30.0M939.5,1184.1v30.0M940.8,1184.1v30.0M942.1,1184.1v30.0M943.4,1184.1v30.0M946.0,1184.1v30.0M947.3,1184.1v30.0M948.6,1184.1v30.0M949.9,1184.1v30.0M951.2,1184.1v30.0M952.5,1184.1v30.0M957.7,1184.1v30.0M959.0,1184.1v30.0M961.6,1184.1v30.0M962.9,1184.1v30.0M965.5,1184.1v30.0M969.4,1184.1v30.0M972.0,1184.1v30.0M974.6,1184.1v30.0"/><path stroke="#2810f8" d="M510.5,1184.1v30.0M519.6,1184.1v30.0M520.9,1184.1v30.0M526.1,1184.1v30.0M531.3,1184.1v30.0M532.6,1184.1v30.0M535.2,1184.1v30.0M541.7,1184.1v30.0M544.3,1184.1v30.0M556.0,1184.1v30.0M558.6,1184.1v30.0M561.2,1184.1v30.0M565.1,1184.1v30.0M567.7,1184.1v30.0M570.3,1184.1v30.0M571.6,1184.1v30.0M574.2,1184.1v30.0M579.4,1184.1v30.0M583.3,1184.1v30.0M584.6,1184.1v30.0M589.8,1184.1v30.0M592.4,1184.1v30.0M593.7,1184.1v30.0M601.5,1184.1v30.0M604.1,1184.1v30.0M606.7,1184.1v30.0M608.0,1184.1v30.0M610.6,1184.1v30.0M619.7,1184.1v30.0M621.0,1184.1v30.0M622.3,1184.1v30.0M628.8,1184.1v30.0M637.9,1184.1v30.0M640.5,1184.1v30.0M644.4,1184.1v30.0M645.7,1184.1v30.0M648.3,1184.1v30.0M649.6,1184.1v30.0M652.2,1184.1v30.0M656.1,1184.1v30.0M658.7,1184.1v30.0M660.0,1184.1v30.0M667.8,1184.1v30.0M669.1,1184.1v30.0M671.7,1184.1v30.0M678.2,1184.1v30.0M680.8,1184.1v30.0M683.4,1184.1v30.0M686.0,1184.1v30.0M689.9,1184.1v30.0M693.8,1184.1v30.0M695.1,1184.1v30.0M697.7,1184.1v30.0M702.9,1184.1v30.0M712.0,1184.1v30.0M713.3,1184.1v30.0M717.2,1184.1v30.0M718.5,1184.1v30.0M739.3,1184.1v30.0M741.9,1184.1v30.0M757.5,1184.1v30.0M758.8,1184.1v30.0M760.1,1184.1v30.0M762.7,1184.1v30.0M766.6,1184.1v30.0M769.2,1184.1v30.0M773.1,1184.1v30.0M775.7,1184.1v30.0M779.6,1184.1v30.0M780.9,1184.1v30.0M783.5,1184.1v30.0M787.4,1184.1v30.0M788.7,1184.1v30.0M791.3,1184.1v30.0M800.4,1184.1v30.0M806.9,1184.1v30.0M808.2,1184.1v30.0M814.7,1184.1v30.0M819.9,1184.1v30.0M823.8,1184.1v30.0M825.1,1184.1v30.0M827.7,1184.1v30.0M832.9,1184.1v30.0M834.2,1184.1v30.0M835.5,1184.1v30.0M842.0,1184.1v30.0M845.9,1184.1v30.0M847.2,1184.1v30.0M848.5,1184.1v30.0M856.3,1184.1v30.0M871.9,1184.1v30.0M878.4,1184.1v30.0M882.3,1184.1v30.0M883.6,1184.1v30.0M894.0,1184.1v30.0M895.3,1184.1v30.0M896.6,1184.1v30.0M901.8,1184.1v30.0M903.1,1184.1v30.0M904.4,1184.1v30.0M914.8,1184.1v30.0M917.4,1184.1v30.0M923.9,1184.1v30.0M925.2,1184.1v30.0M927.8,1184.1v30.0M930.4,1184.1v30.0M933.0,1184.1v30.0M938.2,1184.1v30.0M944.7,1184.1v30.0M953.8,1184.1v30.0M960.3,1184.1v30.0M968.1,1184.1v30.0M970.7,1184.1v30.0M973.3,1184.1v30.0M975.9,1184.1v30.0"/><path stroke="#ff1a14" d="M337.6,1184.1v30.0M346.7,1184.1v30.0M350.6,1184.1v30.0M354.5,1184.1v30.0M358.4,1184.1v30.0M368.8,1184.1v30.0M374.0,1184.1v30.0M375.3,1184.1v30.0M376.6,1184.1v30.0M381.8,1184.1v30.0M387.0,1184.1v30.0M390.9,1184.1v30.0M392.2,1184.1v30.0M393.5,1184.1v30.0M397.4,1184.1v30.0M398.7,1184.1v30.0M401.3,1184.1v30.0M407.8,1184.1v30.0M413.0,1184.1v30.0M424.7,1184.1v30.0M426.0,1184.1v30.0M429.9,1184.1v30.0M431.2,1184.1v30.0M439.0,1184.1v30.0M440.3,1184.1v30.0M441.6,1184.1v30.0M453.3,1184.1v30.0M458.5,1184.1v30.0M463.7,1184.1v30.0M472.8,1184.1v30.0"/><path stroke="#ff312c" d="M340.2,1184.1v30.0M341.5,1184.1v30.0M342.8,1184.1v30.0M345.4,1184.1v30.0M348.0,1184.1v30.0M351.9,1184.1v30.0M355.8,1184.1v30.0M362.3,1184.1v30.0M364.9,1184.1v30.0M366.2,1184.1v30.0M372.7,1184.1v30.0M377.9,1184.1v30.0M380.5,1184.1v30.0M388.3,1184.1v30.0M396.1,1184.1v30.0M400.0,1184.1v30.0M409.1,1184.1v30.0M411.7,1184.1v30.0M415.6,1184.1v30.0M423.4,1184.1v30.0M432.5,1184.1v30.0M435.1,1184.1v30.0M446.8,1184.1v30.0M448.1,1184.1v30.0M450.7,1184.1v30.0M454.6,1184.1v30.0M455.9,1184.1v30.0M470.2,1184.1v30.0M475.4,1184.1v30.0"/><path stroke="#7e70fb" d="M485.8,1184.1v30.0M501.4,1184.1v30.0M507.9,1184.1v30.0M533.9,1184.1v30.0M550.8,1184.1v30.0M587.2,1184.1v30.0M597.6,1184.1v30.0M623.6,1184.1v30.0M688.6,1184.1v30.0M691.2,1184.1v30.0M699.0,1184.1v30.0M705.5,1184.1v30.0M714.6,1184.1v30.0M719.8,1184.1v30.0M722.4,1184.1v30.0M748.4,1184.1v30.0M764.0,1184.1v30.0M770.5,1184.1v30.0M784.8,1184.1v30.0M795.2,1184.1v30.0M796.5,1184.1v30.0M810.8,1184.1v30.0M869.3,1184.1v30.0M910.9,1184.1v30.0M966.8,1184.1v30.0"/><path stroke="#a99ffc" d="M478.0,1184.1v30.0M489.7,1184.1v30.0M491.0,1184.1v30.0M493.6,1184.1v30.0M494.9,1184.1v30.0M500.1,1184.1v30.0M506.6,1184.1v30.0M536.5,1184.1v30.0M546.9,1184.1v30.0M553.4,1184.1v30.0M615.8,1184.1v30.0M643.1,1184.1v30.0M744.5,1184.1v30.0M771.8,1184.1v30.0M786.1,1184.1v30.0M790.0,1184.1v30.0M831.6,1184.1v30.0M926.5,1184.1v30.0M955.1,1184.1v30.0M956.4,1184.1v30.0M964.2,1184.1v30.0"/><path stroke="#9488fc" d="M488.4,1184.1v30.0M509.2,1184.1v30.0M514.4,1184.1v30.0M562.5,1184.1v30.0M591.1,1184.1v30.0M613.2,1184.1v30.0M617.1,1184.1v30.0M632.7,1184.1v30.0M636.6,1184.1v30.0M665.2,1184.1v30.0M696.4,1184.1v30.0M730.2,1184.1v30.0M797.8,1184.1v30.0M809.5,1184.1v30.0M864.1,1184.1v30.0M877.1,1184.1v30.0M922.6,1184.1v30.0M931.7,1184.1v30.0"/><path stroke="#f21813" d="M335.0,1184.1v30.0M353.2,1184.1v30.0M359.7,1184.1v30.0M363.6,1184.1v30.0M367.5,1184.1v30.0M379.2,1184.1v30.0M385.7,1184.1v30.0M389.6,1184.1v30.0M394.8,1184.1v30.0M414.3,1184.1v30.0M416.9,1184.1v30.0M418.2,1184.1v30.0M422.1,1184.1v30.0M442.9,1184.1v30.0M466.3,1184.1v30.0M467.6,1184.1v30.0"/><path stroke="#ff8c8a" d="M336.3,1184.1v30.0M371.4,1184.1v30.0M405.2,1184.1v30.0M410.4,1184.1v30.0M427.3,1184.1v30.0M436.4,1184.1v30.0M437.7,1184.1v30.0M457.2,1184.1v30.0M461.1,1184.1v30.0M468.9,1184.1v30.0"/><path stroke="#ff7672" d="M383.1,1184.1v30.0M406.5,1184.1v30.0M419.5,1184.1v30.0M428.6,1184.1v30.0M433.8,1184.1v30.0M444.2,1184.1v30.0M449.4,1184.1v30.0M474.1,1184.1v30.0M476.7,1184.1v30.0"/><path stroke="#6958fa" d="M524.8,1184.1v30.0M554.7,1184.1v30.0M575.5,1184.1v30.0M578.1,1184.1v30.0M582.0,1184.1v30.0M774.4,1184.1v30.0M879.7,1184.1v30.0M912.2,1184.1v30.0"/><path stroke="#d4cffe" d="M480.6,1184.1v30.0M481.9,1184.1v30.0M484.5,1184.1v30.0M487.1,1184.1v30.0M492.3,1184.1v30.0M502.7,1184.1v30.0M504.0,1184.1v30.0"/><path stroke="#ff5f5a" d="M333.7,1184.1v30.0M338.9,1184.1v30.0M344.1,1184.1v30.0M349.3,1184.1v30.0"/><path stroke="#ffa3a1" d="M420.8,1184.1v30.0M445.5,1184.1v30.0M462.4,1184.1v30.0M465.0,1184.1v30.0"/><path stroke="#beb7fd" d="M479.3,1184.1v30.0M496.2,1184.1v30.0M497.5,1184.1v30.0M505.3,1184.1v30.0"/><path stroke="#5340f9" d="M527.4,1184.1v30.0M609.3,1184.1v30.0M721.1,1184.1v30.0M792.6,1184.1v30.0"/><path stroke="#ff4843" d="M357.1,1184.1v30.0M384.4,1184.1v30.0M402.6,1184.1v30.0"/><path stroke="#e51712" d="M361.0,1184.1v30.0M370.1,1184.1v30.0M403.9,1184.1v30.0"/><path stroke="#ffbab8" d="M452.0,1184.1v30.0M459.8,1184.1v30.0M471.5,1184.1v30.0"/><path stroke="#eae7fe" d="M483.2,1184.1v30.0M498.8,1184.1v30.0"/><path stroke="#240ee7" d="M761.4,1184.1v30.0"/></g><clipPath id="hc"><rect x="333.7" y="800" width="642.5" height="500"/></clipPath><path d="M332.4,835.6L332.4,1218.8" stroke="#000" stroke-width="2.6" /><path d="M977.6,835.6L977.6,1218.8" stroke="#000" stroke-width="2.6" /><path d="M325.0,838.1L332.4,838.1" stroke="#000" stroke-width="2.0" /><path d="M319.6,857.1L332.4,857.1" stroke="#000" stroke-width="2.6" /><text x="306.0" y="864.3" font-size="22.4" text-anchor="end">Phenotype</text><path d="M325.0,876.1L332.4,876.1" stroke="#000" stroke-width="2.0" /><path d="M325.0,914.1L332.4,914.1" stroke="#000" stroke-width="2.0" /><path d="M319.6,933.1L332.4,933.1" stroke="#000" stroke-width="2.6" /><text x="304.0" y="940.3" font-size="22.4" text-anchor="end"><tspan font-style="oblique">CD</tspan>14</text><path d="M325.0,952.1L332.4,952.1" stroke="#000" stroke-width="2.0" /><path d="M319.6,971.1L332.4,971.1" stroke="#000" stroke-width="2.6" /><text x="304.0" y="978.3" font-size="22.4" text-anchor="end"><tspan font-style="oblique">FCN</tspan>1</text><path d="M325.0,990.1L332.4,990.1" stroke="#000" stroke-width="2.0" /><path d="M319.6,1009.1L332.4,1009.1" stroke="#000" stroke-width="2.6" /><text x="304.0" y="1016.3" font-size="22.4" text-anchor="end"><tspan font-style="oblique">FCGR</tspan>3<tspan font-style="oblique">A</tspan></text><path d="M325.0,1028.1L332.4,1028.1" stroke="#000" stroke-width="2.0" /><path d="M319.6,1047.1L332.4,1047.1" stroke="#000" stroke-width="2.6" /><text x="304.0" y="1054.3" font-size="22.4" text-anchor="end"><tspan font-style="oblique">RHOC</tspan></text><path d="M325.0,1066.1L332.4,1066.1" stroke="#000" stroke-width="2.0" /><path d="M319.6,1085.1L332.4,1085.1" stroke="#000" stroke-width="2.6" /><text x="304.0" y="1092.3" font-size="22.4" text-anchor="end"><tspan font-style="oblique">CDKN</tspan>1<tspan font-style="oblique">C</tspan></text><path d="M325.0,1104.1L332.4,1104.1" stroke="#000" stroke-width="2.0" /><path d="M319.6,1123.1L332.4,1123.1" stroke="#000" stroke-width="2.6" /><text x="304.0" y="1130.3" font-size="22.4" text-anchor="end"><tspan font-style="oblique">HES</tspan>4</text><path d="M325.0,1142.1L332.4,1142.1" stroke="#000" stroke-width="2.0" /><path d="M319.6,1161.1L332.4,1161.1" stroke="#000" stroke-width="2.6" /><text x="304.0" y="1168.3" font-size="22.4" text-anchor="end"><tspan font-style="oblique">MS</tspan>4<tspan font-style="oblique">A</tspan>7</text><path d="M325.0,1180.1L332.4,1180.1" stroke="#000" stroke-width="2.0" /><path d="M325.0,1218.1L332.4,1218.1" stroke="#000" stroke-width="2.0" /><path d="M319.6,1199.1L332.4,1199.1" stroke="#000" stroke-width="2.6" /><text x="304.0" y="1206.3" font-size="22.4" text-anchor="end"><tspan font-style="oblique">BCL</tspan>2<tspan font-style="oblique">A</tspan>1</text><text x="1365.0" y="807.9" font-size="30.3" text-anchor="middle">Myeloid cell types</text><text x="1151.4" y="847.8" font-size="30.2" font-weight="bold">e</text><text x="1384.2" y="847.8" font-size="22.4">r=-0.88</text><circle cx="1376.3" cy="873.8" r="8.8" fill="#6abae7"/><circle cx="1376.3" cy="907.1" r="8.8" fill="#4ab082"/><text x="1394.9" y="879.7" font-size="22.4">Other Myeloid</text><text x="1394.9" y="913.0" font-size="22.4">CD16+ Monocyte</text><g filter="url(#bl)"><path fill="#ecf6fc" d="M1169,953h8.5v8.5h-8.5zM1177,929h8.5v8.5h-8.5zM1193,985h8.5v8.5h-8.5zM1201,913h8.5v8.5h-8.5zM1209,905h8.5v8.5h-8.5zM1209,993h8.5v8.5h-8.5zM1233,1001h8.5v8.5h-8.5zM1249,857h8.5v8.5h-8.5zM1265,1009h8.5v8.5h-8.5zM1273,849h8.5v8.5h-8.5zM1297,1009h8.5v8.5h-8.5zM1313,865h8.5v8.5h-8.5zM1321,873h8.5v8.5h-8.5zM1321,1001h8.5v8.5h-8.5zM1329,881h8.5v8.5h-8.5zM1337,993h8.5v8.5h-8.5zM1345,905h8.5v8.5h-8.5zM1353,921h8.5v8.5h-8.5zM1361,945h8.5v8.5h-8.5zM1361,961h8.5v8.5h-8.5zM1389,956h8.5v8.5h-8.5zM1405,948h8.5v8.5h-8.5zM1405,964h8.5v8.5h-8.5zM1461,964h8.5v8.5h-8.5zM1469,932h8.5v8.5h-8.5zM1519,1030h8.5v8.5h-8.5zM1551,998h8.5v8.5h-8.5zM1551,1006h8.5v8.5h-8.5zM1551,1014h8.5v8.5h-8.5zM1551,1022h8.5v8.5h-8.5z"/><path fill="#daeef9" d="M1177,937h8.5v8.5h-8.5zM1177,969h8.5v8.5h-8.5zM1193,921h8.5v8.5h-8.5zM1217,897h8.5v8.5h-8.5zM1217,993h8.5v8.5h-8.5zM1225,881h8.5v8.5h-8.5zM1233,873h8.5v8.5h-8.5zM1241,865h8.5v8.5h-8.5zM1241,1001h8.5v8.5h-8.5zM1273,1009h8.5v8.5h-8.5zM1289,1009h8.5v8.5h-8.5zM1297,857h8.5v8.5h-8.5zM1313,1001h8.5v8.5h-8.5zM1337,897h8.5v8.5h-8.5zM1345,985h8.5v8.5h-8.5zM1353,929h8.5v8.5h-8.5zM1353,977h8.5v8.5h-8.5zM1361,953h8.5v8.5h-8.5zM1421,940h8.5v8.5h-8.5zM1437,932h8.5v8.5h-8.5zM1437,956h8.5v8.5h-8.5zM1453,932h8.5v8.5h-8.5zM1461,932h8.5v8.5h-8.5zM1469,964h8.5v8.5h-8.5zM1477,940h8.5v8.5h-8.5zM1485,948h8.5v8.5h-8.5zM1485,964h8.5v8.5h-8.5zM1527,1006h8.5v8.5h-8.5zM1527,1062h8.5v8.5h-8.5zM1535,1054h8.5v8.5h-8.5zM1543,1046h8.5v8.5h-8.5z"/><path fill="#c7e5f6" d="M1177,945h8.5v8.5h-8.5zM1177,961h8.5v8.5h-8.5zM1185,929h8.5v8.5h-8.5zM1185,977h8.5v8.5h-8.5zM1201,985h8.5v8.5h-8.5zM1209,913h8.5v8.5h-8.5zM1249,1001h8.5v8.5h-8.5zM1257,857h8.5v8.5h-8.5zM1281,1009h8.5v8.5h-8.5zM1289,857h8.5v8.5h-8.5zM1305,865h8.5v8.5h-8.5zM1329,889h8.5v8.5h-8.5zM1329,993h8.5v8.5h-8.5zM1345,913h8.5v8.5h-8.5zM1353,969h8.5v8.5h-8.5zM1397,956h8.5v8.5h-8.5zM1413,948h8.5v8.5h-8.5zM1413,956h8.5v8.5h-8.5zM1421,956h8.5v8.5h-8.5zM1429,940h8.5v8.5h-8.5zM1429,956h8.5v8.5h-8.5zM1445,932h8.5v8.5h-8.5zM1445,956h8.5v8.5h-8.5zM1453,956h8.5v8.5h-8.5zM1477,964h8.5v8.5h-8.5zM1485,956h8.5v8.5h-8.5zM1527,1054h8.5v8.5h-8.5zM1535,998h8.5v8.5h-8.5zM1543,990h8.5v8.5h-8.5zM1543,1038h8.5v8.5h-8.5z"/><path fill="#b4dcf3" d="M1177,953h8.5v8.5h-8.5zM1193,977h8.5v8.5h-8.5zM1201,921h8.5v8.5h-8.5zM1217,905h8.5v8.5h-8.5zM1225,889h8.5v8.5h-8.5zM1225,993h8.5v8.5h-8.5zM1249,865h8.5v8.5h-8.5zM1257,1001h8.5v8.5h-8.5zM1265,857h8.5v8.5h-8.5zM1281,857h8.5v8.5h-8.5zM1305,1001h8.5v8.5h-8.5zM1313,873h8.5v8.5h-8.5zM1321,881h8.5v8.5h-8.5zM1337,905h8.5v8.5h-8.5zM1337,985h8.5v8.5h-8.5zM1345,921h8.5v8.5h-8.5zM1353,937h8.5v8.5h-8.5zM1353,961h8.5v8.5h-8.5zM1405,956h8.5v8.5h-8.5zM1421,948h8.5v8.5h-8.5zM1429,948h8.5v8.5h-8.5zM1437,940h8.5v8.5h-8.5zM1437,948h8.5v8.5h-8.5zM1445,940h8.5v8.5h-8.5zM1445,948h8.5v8.5h-8.5zM1453,940h8.5v8.5h-8.5zM1453,948h8.5v8.5h-8.5zM1461,940h8.5v8.5h-8.5zM1461,948h8.5v8.5h-8.5zM1461,956h8.5v8.5h-8.5zM1469,940h8.5v8.5h-8.5zM1469,948h8.5v8.5h-8.5zM1469,956h8.5v8.5h-8.5zM1477,948h8.5v8.5h-8.5zM1477,956h8.5v8.5h-8.5zM1527,1014h8.5v8.5h-8.5zM1527,1022h8.5v8.5h-8.5zM1527,1030h8.5v8.5h-8.5zM1527,1038h8.5v8.5h-8.5zM1527,1046h8.5v8.5h-8.5zM1535,1006h8.5v8.5h-8.5zM1535,1014h8.5v8.5h-8.5zM1535,1022h8.5v8.5h-8.5zM1535,1030h8.5v8.5h-8.5zM1535,1038h8.5v8.5h-8.5zM1535,1046h8.5v8.5h-8.5zM1543,998h8.5v8.5h-8.5zM1543,1006h8.5v8.5h-8.5zM1543,1014h8.5v8.5h-8.5zM1543,1022h8.5v8.5h-8.5zM1543,1030h8.5v8.5h-8.5z"/><path fill="#a2d4f0" d="M1185,937h8.5v8.5h-8.5zM1185,969h8.5v8.5h-8.5zM1193,929h8.5v8.5h-8.5zM1209,985h8.5v8.5h-8.5zM1233,881h8.5v8.5h-8.5zM1233,993h8.5v8.5h-8.5zM1241,873h8.5v8.5h-8.5zM1265,1001h8.5v8.5h-8.5zM1273,857h8.5v8.5h-8.5zM1273,1001h8.5v8.5h-8.5zM1281,1001h8.5v8.5h-8.5zM1289,1001h8.5v8.5h-8.5zM1297,865h8.5v8.5h-8.5zM1297,1001h8.5v8.5h-8.5zM1321,993h8.5v8.5h-8.5zM1329,897h8.5v8.5h-8.5zM1345,977h8.5v8.5h-8.5zM1353,945h8.5v8.5h-8.5zM1353,953h8.5v8.5h-8.5z"/><path fill="#8fcbed" d="M1185,945h8.5v8.5h-8.5zM1185,953h8.5v8.5h-8.5zM1185,961h8.5v8.5h-8.5zM1193,937h8.5v8.5h-8.5zM1193,945h8.5v8.5h-8.5zM1193,953h8.5v8.5h-8.5zM1193,961h8.5v8.5h-8.5zM1193,969h8.5v8.5h-8.5zM1201,929h8.5v8.5h-8.5zM1201,937h8.5v8.5h-8.5zM1201,945h8.5v8.5h-8.5zM1201,953h8.5v8.5h-8.5zM1201,961h8.5v8.5h-8.5zM1201,969h8.5v8.5h-8.5zM1201,977h8.5v8.5h-8.5zM1209,921h8.5v8.5h-8.5zM1209,929h8.5v8.5h-8.5zM1209,937h8.5v8.5h-8.5zM1209,945h8.5v8.5h-8.5zM1209,953h8.5v8.5h-8.5zM1209,961h8.5v8.5h-8.5zM1209,969h8.5v8.5h-8.5zM1209,977h8.5v8.5h-8.5zM1217,913h8.5v8.5h-8.5zM1217,921h8.5v8.5h-8.5zM1217,929h8.5v8.5h-8.5zM1217,937h8.5v8.5h-8.5zM1217,945h8.5v8.5h-8.5zM1217,953h8.5v8.5h-8.5zM1217,961h8.5v8.5h-8.5zM1217,969h8.5v8.5h-8.5zM1217,977h8.5v8.5h-8.5zM1217,985h8.5v8.5h-8.5zM1225,897h8.5v8.5h-8.5zM1225,905h8.5v8.5h-8.5zM1225,913h8.5v8.5h-8.5zM1225,921h8.5v8.5h-8.5zM1225,929h8.5v8.5h-8.5zM1225,937h8.5v8.5h-8.5zM1225,945h8.5v8.5h-8.5zM1225,953h8.5v8.5h-8.5zM1225,961h8.5v8.5h-8.5zM1225,969h8.5v8.5h-8.5zM1225,977h8.5v8.5h-8.5zM1225,985h8.5v8.5h-8.5zM1233,889h8.5v8.5h-8.5zM1233,897h8.5v8.5h-8.5zM1233,905h8.5v8.5h-8.5zM1233,913h8.5v8.5h-8.5zM1233,921h8.5v8.5h-8.5zM1233,929h8.5v8.5h-8.5zM1233,937h8.5v8.5h-8.5zM1233,945h8.5v8.5h-8.5zM1233,953h8.5v8.5h-8.5zM1233,961h8.5v8.5h-8.5zM1233,969h8.5v8.5h-8.5zM1233,977h8.5v8.5h-8.5zM1233,985h8.5v8.5h-8.5zM1241,881h8.5v8.5h-8.5zM1241,889h8.5v8.5h-8.5zM1241,897h8.5v8.5h-8.5zM1241,905h8.5v8.5h-8.5zM1241,913h8.5v8.5h-8.5zM1241,921h8.5v8.5h-8.5zM1241,929h8.5v8.5h-8.5zM1241,937h8.5v8.5h-8.5zM1241,945h8.5v8.5h-8.5zM1241,953h8.5v8.5h-8.5zM1241,961h8.5v8.5h-8.5zM1241,969h8.5v8.5h-8.5zM1241,977h8.5v8.5h-8.5zM1241,985h8.5v8.5h-8.5zM1241,993h8.5v8.5h-8.5zM1249,873h8.5v8.5h-8.5zM1249,881h8.5v8.5h-8.5zM1249,889h8.5v8.5h-8.5zM1249,897h8.5v8.5h-8.5zM1249,905h8.5v8.5h-8.5zM1249,913h8.5v8.5h-8.5zM1249,921h8.5v8.5h-8.5zM1249,929h8.5v8.5h-8.5zM1249,937h8.5v8.5h-8.5zM1249,945h8.5v8.5h-8.5zM1249,953h8.5v8.5h-8.5zM1249,961h8.5v8.5h-8.5zM1249,969h8.5v8.5h-8.5zM1249,977h8.5v8.5h-8.5zM1249,985h8.5v8.5h-8.5zM1249,993h8.5v8.5h-8.5zM1257,865h8.5v8.5h-8.5zM1257,873h8.5v8.5h-8.5zM1257,881h8.5v8.5h-8.5zM1257,889h8.5v8.5h-8.5zM1257,897h8.5v8.5h-8.5zM1257,905h8.5v8.5h-8.5zM1257,913h8.5v8.5h-8.5zM1257,921h8.5v8.5h-8.5zM1257,929h8.5v8.5h-8.5zM1257,937h8.5v8.5h-8.5zM1257,945h8.5v8.5h-8.5zM1257,953h8.5v8.5h-8.5zM1257,961h8.5v8.5h-8.5zM1257,969h8.5v8.5h-8.5zM1257,977h8.5v8.5h-8.5zM1257,985h8.5v8.5h-8.5zM1257,993h8.5v8.5h-8.5zM1265,865h8.5v8.5h-8.5zM1265,873h8.5v8.5h-8.5zM1265,881h8.5v8.5h-8.5zM1265,889h8.5v8.5h-8.5zM1265,897h8.5v8.5h-8.5zM1265,905h8.5v8.5h-8.5zM1265,913h8.5v8.5h-8.5zM1265,921h8.5v8.5h-8.5zM1265,929h8.5v8.5h-8.5zM1265,937h8.5v8.5h-8.5zM1265,945h8.5v8.5h-8.5zM1265,953h8.5v8.5h-8.5zM1265,961h8.5v8.5h-8.5zM1265,969h8.5v8.5h-8.5zM1265,977h8.5v8.5h-8.5zM1265,985h8.5v8.5h-8.5zM1265,993h8.5v8.5h-8.5zM1273,865h8.5v8.5h-8.5zM1273,873h8.5v8.5h-8.5zM1273,881h8.5v8.5h-8.5zM1273,889h8.5v8.5h-8.5zM1273,897h8.5v8.5h-8.5zM1273,905h8.5v8.5h-8.5zM1273,913h8.5v8.5h-8.5zM1273,921h8.5v8.5h-8.5zM1273,929h8.5v8.5h-8.5zM1273,937h8.5v8.5h-8.5zM1273,945h8.5v8.5h-8.5zM1273,953h8.5v8.5h-8.5zM1273,961h8.5v8.5h-8.5zM1273,969h8.5v8.5h-8.5zM1273,977h8.5v8.5h-8.5zM1273,985h8.5v8.5h-8.5zM1273,993h8.5v8.5h-8.5zM1281,865h8.5v8.5h-8.5zM1281,873h8.5v8.5h-8.5zM1281,881h8.5v8.5h-8.5zM1281,889h8.5v8.5h-8.5zM1281,897h8.5v8.5h-8.5zM1281,905h8.5v8.5h-8.5zM1281,913h8.5v8.5h-8.5zM1281,921h8.5v8.5h-8.5zM1281,929h8.5v8.5h-8.5zM1281,937h8.5v8.5h-8.5zM1281,945h8.5v8.5h-8.5zM1281,953h8.5v8.5h-8.5zM1281,961h8.5v8.5h-8.5zM1281,969h8.5v8.5h-8.5zM1281,977h8.5v8.5h-8.5zM1281,985h8.5v8.5h-8.5zM1281,993h8.5v8.5h-8.5zM1289,865h8.5v8.5h-8.5zM1289,873h8.5v8.5h-8.5zM1289,881h8.5v8.5h-8.5zM1289,889h8.5v8.5h-8.5zM1289,897h8.5v8.5h-8.5zM1289,905h8.5v8.5h-8.5zM1289,913h8.5v8.5h-8.5zM1289,921h8.5v8.5h-8.5zM1289,929h8.5v8.5h-8.5zM1289,937h8.5v8.5h-8.5zM1289,945h8.5v8.5h-8.5zM1289,953h8.5v8.5h-8.5zM1289,961h8.5v8.5h-8.5zM1289,969h8.5v8.5h-8.5zM1289,977h8.5v8.5h-8.5zM1289,985h8.5v8.5h-8.5zM1289,993h8.5v8.5h-8.5zM1297,873h8.5v8.5h-8.5zM1297,881h8.5v8.5h-8.5zM1297,889h8.5v8.5h-8.5zM1297,897h8.5v8.5h-8.5zM1297,905h8.5v8.5h-8.5zM1297,913h8.5v8.5h-8.5zM1297,921h8.5v8.5h-8.5zM1297,929h8.5v8.5h-8.5zM1297,937h8.5v8.5h-8.5zM1297,945h8.5v8.5h-8.5zM1297,953h8.5v8.5h-8.5zM1297,961h8.5v8.5h-8.5zM1297,969h8.5v8.5h-8.5zM1297,977h8.5v8.5h-8.5zM1297,985h8.5v8.5h-8.5zM1297,993h8.5v8.5h-8.5zM1305,873h8.5v8.5h-8.5zM1305,881h8.5v8.5h-8.5zM1305,889h8.5v8.5h-8.5zM1305,897h8.5v8.5h-8.5zM1305,905h8.5v8.5h-8.5zM1305,913h8.5v8.5h-8.5zM1305,921h8.5v8.5h-8.5zM1305,929h8.5v8.5h-8.5zM1305,937h8.5v8.5h-8.5zM1305,945h8.5v8.5h-8.5zM1305,953h8.5v8.5h-8.5zM1305,961h8.5v8.5h-8.5zM1305,969h8.5v8.5h-8.5zM1305,977h8.5v8.5h-8.5zM1305,985h8.5v8.5h-8.5zM1305,993h8.5v8.5h-8.5zM1313,881h8.5v8.5h-8.5zM1313,889h8.5v8.5h-8.5zM1313,897h8.5v8.5h-8.5zM1313,905h8.5v8.5h-8.5zM1313,913h8.5v8.5h-8.5zM1313,921h8.5v8.5h-8.5zM1313,929h8.5v8.5h-8.5zM1313,937h8.5v8.5h-8.5zM1313,945h8.5v8.5h-8.5zM1313,953h8.5v8.5h-8.5zM1313,961h8.5v8.5h-8.5zM1313,969h8.5v8.5h-8.5zM1313,977h8.5v8.5h-8.5zM1313,985h8.5v8.5h-8.5zM1313,993h8.5v8.5h-8.5zM1321,889h8.5v8.5h-8.5zM1321,897h8.5v8.5h-8.5zM1321,905h8.5v8.5h-8.5zM1321,913h8.5v8.5h-8.5zM1321,921h8.5v8.5h-8.5zM1321,929h8.5v8.5h-8.5zM1321,937h8.5v8.5h-8.5zM1321,945h8.5v8.5h-8.5zM1321,953h8.5v8.5h-8.5zM1321,961h8.5v8.5h-8.5zM1321,969h8.5v8.5h-8.5zM1321,977h8.5v8.5h-8.5zM1321,985h8.5v8.5h-8.5zM1329,905h8.5v8.5h-8.5zM1329,913h8.5v8.5h-8.5zM1329,921h8.5v8.5h-8.5zM1329,929h8.5v8.5h-8.5zM1329,937h8.5v8.5h-8.5zM1329,945h8.5v8.5h-8.5zM1329,953h8.5v8.5h-8.5zM1329,961h8.5v8.5h-8.5zM1329,969h8.5v8.5h-8.5zM1329,977h8.5v8.5h-8.5zM1329,985h8.5v8.5h-8.5zM1337,913h8.5v8.5h-8.5zM1337,921h8.5v8.5h-8.5zM1337,929h8.5v8.5h-8.5zM1337,937h8.5v8.5h-8.5zM1337,945h8.5v8.5h-8.5zM1337,953h8.5v8.5h-8.5zM1337,961h8.5v8.5h-8.5zM1337,969h8.5v8.5h-8.5zM1337,977h8.5v8.5h-8.5zM1345,929h8.5v8.5h-8.5zM1345,937h8.5v8.5h-8.5zM1345,945h8.5v8.5h-8.5zM1345,953h8.5v8.5h-8.5zM1345,961h8.5v8.5h-8.5zM1345,969h8.5v8.5h-8.5z"/><path fill="#e8f5ef" d="M1261,1019h8.5v8.5h-8.5zM1269,1019h8.5v8.5h-8.5zM1269,1075h8.5v8.5h-8.5zM1277,1019h8.5v8.5h-8.5zM1277,1075h8.5v8.5h-8.5zM1285,1019h8.5v8.5h-8.5zM1285,1067h8.5v8.5h-8.5zM1285,1075h8.5v8.5h-8.5zM1293,1019h8.5v8.5h-8.5zM1293,1075h8.5v8.5h-8.5zM1220,1106h8.5v8.5h-8.5zM1220,1122h8.5v8.5h-8.5zM1228,1130h8.5v8.5h-8.5zM1236,1098h8.5v8.5h-8.5zM1236,1138h8.5v8.5h-8.5zM1244,1146h8.5v8.5h-8.5zM1260,1154h8.5v8.5h-8.5zM1268,1090h8.5v8.5h-8.5zM1276,1090h8.5v8.5h-8.5zM1284,1090h8.5v8.5h-8.5zM1284,1170h8.5v8.5h-8.5zM1292,1090h8.5v8.5h-8.5zM1300,1090h8.5v8.5h-8.5zM1308,1090h8.5v8.5h-8.5zM1316,1082h8.5v8.5h-8.5zM1316,1090h8.5v8.5h-8.5zM1324,1082h8.5v8.5h-8.5zM1324,1090h8.5v8.5h-8.5zM1324,1162h8.5v8.5h-8.5zM1332,1082h8.5v8.5h-8.5zM1332,1090h8.5v8.5h-8.5zM1348,1146h8.5v8.5h-8.5zM1355,1138h8.5v8.5h-8.5zM1363,1106h8.5v8.5h-8.5zM1363,1122h8.5v8.5h-8.5z"/><path fill="#d2ebe0" d="M1269,1027h8.5v8.5h-8.5zM1277,1027h8.5v8.5h-8.5zM1277,1035h8.5v8.5h-8.5zM1277,1043h8.5v8.5h-8.5zM1277,1051h8.5v8.5h-8.5zM1277,1059h8.5v8.5h-8.5zM1277,1067h8.5v8.5h-8.5zM1285,1027h8.5v8.5h-8.5zM1285,1035h8.5v8.5h-8.5zM1220,1114h8.5v8.5h-8.5zM1228,1106h8.5v8.5h-8.5zM1252,1146h8.5v8.5h-8.5zM1276,1162h8.5v8.5h-8.5zM1292,1170h8.5v8.5h-8.5zM1308,1170h8.5v8.5h-8.5zM1332,1154h8.5v8.5h-8.5zM1348,1098h8.5v8.5h-8.5zM1363,1114h8.5v8.5h-8.5z"/><path fill="#bbe1d0" d="M1228,1114h8.5v8.5h-8.5zM1228,1122h8.5v8.5h-8.5zM1236,1106h8.5v8.5h-8.5zM1236,1114h8.5v8.5h-8.5zM1236,1122h8.5v8.5h-8.5zM1236,1130h8.5v8.5h-8.5zM1244,1098h8.5v8.5h-8.5zM1244,1106h8.5v8.5h-8.5zM1244,1114h8.5v8.5h-8.5zM1244,1122h8.5v8.5h-8.5zM1244,1130h8.5v8.5h-8.5zM1244,1138h8.5v8.5h-8.5zM1252,1098h8.5v8.5h-8.5zM1252,1106h8.5v8.5h-8.5zM1252,1114h8.5v8.5h-8.5zM1260,1098h8.5v8.5h-8.5zM1268,1154h8.5v8.5h-8.5zM1300,1170h8.5v8.5h-8.5zM1316,1162h8.5v8.5h-8.5zM1324,1098h8.5v8.5h-8.5zM1332,1098h8.5v8.5h-8.5zM1332,1106h8.5v8.5h-8.5zM1340,1098h8.5v8.5h-8.5zM1340,1106h8.5v8.5h-8.5zM1340,1114h8.5v8.5h-8.5zM1340,1122h8.5v8.5h-8.5zM1340,1130h8.5v8.5h-8.5zM1340,1138h8.5v8.5h-8.5zM1340,1146h8.5v8.5h-8.5zM1348,1106h8.5v8.5h-8.5zM1348,1114h8.5v8.5h-8.5zM1348,1122h8.5v8.5h-8.5zM1348,1130h8.5v8.5h-8.5zM1348,1138h8.5v8.5h-8.5zM1355,1106h8.5v8.5h-8.5zM1355,1114h8.5v8.5h-8.5zM1355,1122h8.5v8.5h-8.5zM1355,1130h8.5v8.5h-8.5z"/><path fill="#a4d8c0" d="M1252,1122h8.5v8.5h-8.5zM1252,1130h8.5v8.5h-8.5zM1252,1138h8.5v8.5h-8.5zM1260,1106h8.5v8.5h-8.5zM1260,1114h8.5v8.5h-8.5zM1260,1146h8.5v8.5h-8.5zM1268,1098h8.5v8.5h-8.5zM1268,1106h8.5v8.5h-8.5zM1276,1098h8.5v8.5h-8.5zM1284,1162h8.5v8.5h-8.5zM1308,1098h8.5v8.5h-8.5zM1316,1098h8.5v8.5h-8.5zM1324,1106h8.5v8.5h-8.5zM1324,1114h8.5v8.5h-8.5zM1324,1154h8.5v8.5h-8.5zM1332,1114h8.5v8.5h-8.5zM1332,1122h8.5v8.5h-8.5zM1332,1130h8.5v8.5h-8.5zM1332,1138h8.5v8.5h-8.5zM1332,1146h8.5v8.5h-8.5z"/><path fill="#8eceb1" d="M1260,1122h8.5v8.5h-8.5zM1260,1130h8.5v8.5h-8.5zM1260,1138h8.5v8.5h-8.5zM1268,1114h8.5v8.5h-8.5zM1268,1146h8.5v8.5h-8.5zM1276,1106h8.5v8.5h-8.5zM1276,1154h8.5v8.5h-8.5zM1284,1098h8.5v8.5h-8.5zM1284,1106h8.5v8.5h-8.5zM1292,1098h8.5v8.5h-8.5zM1292,1162h8.5v8.5h-8.5zM1300,1098h8.5v8.5h-8.5zM1300,1162h8.5v8.5h-8.5zM1308,1106h8.5v8.5h-8.5zM1308,1162h8.5v8.5h-8.5zM1316,1106h8.5v8.5h-8.5zM1316,1114h8.5v8.5h-8.5zM1316,1154h8.5v8.5h-8.5zM1324,1122h8.5v8.5h-8.5zM1324,1130h8.5v8.5h-8.5zM1324,1138h8.5v8.5h-8.5zM1324,1146h8.5v8.5h-8.5z"/><path fill="#77c4a1" d="M1268,1122h8.5v8.5h-8.5zM1268,1130h8.5v8.5h-8.5zM1268,1138h8.5v8.5h-8.5zM1276,1114h8.5v8.5h-8.5zM1276,1122h8.5v8.5h-8.5zM1276,1130h8.5v8.5h-8.5zM1276,1138h8.5v8.5h-8.5zM1276,1146h8.5v8.5h-8.5zM1284,1114h8.5v8.5h-8.5zM1284,1122h8.5v8.5h-8.5zM1284,1130h8.5v8.5h-8.5zM1284,1138h8.5v8.5h-8.5zM1284,1146h8.5v8.5h-8.5zM1284,1154h8.5v8.5h-8.5zM1292,1106h8.5v8.5h-8.5zM1292,1114h8.5v8.5h-8.5zM1292,1122h8.5v8.5h-8.5zM1292,1130h8.5v8.5h-8.5zM1292,1138h8.5v8.5h-8.5zM1292,1146h8.5v8.5h-8.5zM1292,1154h8.5v8.5h-8.5zM1300,1106h8.5v8.5h-8.5zM1300,1114h8.5v8.5h-8.5zM1300,1122h8.5v8.5h-8.5zM1300,1130h8.5v8.5h-8.5zM1300,1138h8.5v8.5h-8.5zM1300,1146h8.5v8.5h-8.5zM1300,1154h8.5v8.5h-8.5zM1308,1114h8.5v8.5h-8.5zM1308,1122h8.5v8.5h-8.5zM1308,1130h8.5v8.5h-8.5zM1308,1138h8.5v8.5h-8.5zM1308,1146h8.5v8.5h-8.5zM1308,1154h8.5v8.5h-8.5zM1316,1122h8.5v8.5h-8.5zM1316,1130h8.5v8.5h-8.5zM1316,1138h8.5v8.5h-8.5zM1316,1146h8.5v8.5h-8.5z"/></g><g transform="scale(.5)" stroke-width="2.9" fill="none"><path stroke="#6abae7" d="M2549,1699h2m-26,8h2m3,-2h2m3,1h2m-1,1h2m2,0h2m-1,-4h2m3,1h2m12,-2h2m13,3h2m21,-1h2m-96,9h2m6,-3h2m13,-3h2m-1,5h2m1,-3h2m9,3h2m-1,-2h2m4,1h2m-1,-1h2m1,-3h2m0,4h2m1,2h2m-1,-5h2m0,0h2m0,5h2m-1,-3h2m-1,3h2m-2,-4h2m3,4h2m2,-6h2m3,4h2m2,0h2m0,1h2m1,-1h2m-1,1h2m1,-3h2m-2,3h2m-92,2h2m2,2h2m6,-2h2m1,1h2m0,2h2m4,-3h2m11,3h2m-1,-3h2m-1,1h2m-1,-1h2m0,2h2m1,-2h2m8,0h2m-2,1h2m3,-1h2m-2,1h2m6,-1h2m2,5h2m-2,-1h2m0,0h2m-1,1h2m1,0h2m-1,-6h2m8,6h2m1,-3h2m1,0h2m-1,0h2m3,2h2m5,-4h2m0,3h2m-126,5h2m7,-1h2m6,2h2m2,-2h2m6,4h2m-1,-1h2m0,-2h2m-1,2h2m-1,0h2m-1,-3h2m-2,-2h2m-1,2h2m0,1h2m-2,0h2m2,-2h2m1,1h2m-2,2h2m0,1h2m-1,-3h2m1,1h2m2,-3h2m-2,4h2m-1,1h2m5,-5h2m-1,4h2m-2,2h2m-2,-4h2m-1,0h2m3,1h2m1,-1h2m3,0h2m-1,2h2m12,-1h2m1,3h2m-1,-2h2m-2,-3h2m0,2h2m0,2h2m1,0h2m-1,-5h2m1,4h2m-2,-1h2m10,-2h2m5,4h2m1,-2h2m4,2h2m1,-1h2m-131,7h2m-1,-2h2m2,-1h2m-1,1h2m4,0h2m1,0h2m-1,2h2m-1,1h2m-1,-1h2m-2,-5h2m1,5h2m-1,-3h2m-2,3h2m1,-2h2m-1,1h2m1,-2h2m-2,3h2m-2,0h2m0,0h2m10,1h2m0,-2h2m-1,-2h2m-2,-1h2m-2,0h2m0,1h2m0,-1h2m0,4h2m-2,0h2m-1,-1h2m6,0h2m-2,0h2m1,-3h2m-1,5h2m0,-5h2m-2,2h2m-2,2h2m1,0h2m-1,-5h2m0,2h2m8,2h2m-1,0h2m1,1h2m-1,0h2m-1,-1h2m0,-3h2m-2,2h2m-1,-3h2m0,6h2m10,-1h2m0,0h2m-2,0h2m2,-3h2m-1,-1h2m-1,3h2m6,0h2m-1,-1h2m1,1h2m1,-1h2m-151,7h2m0,1h2m-2,-1h2m-1,-3h2m13,0h2m2,2h2m1,-2h2m-1,2h2m-2,-1h2m-1,-1h2m1,0h2m3,3h2m2,0h2m-1,0h2m2,-1h2m1,1h2m-2,-1h2m-1,-1h2m-1,0h2m0,4h2m1,-2h2m5,1h2m-2,-2h2m-1,0h2m-1,-1h2m-2,2h2m0,1h2m2,0h2m-2,-4h2m-2,2h2m-1,-3h2m5,4h2m-1,0h2m-1,1h2m-2,-1h2m-1,-1h2m-1,1h2m-1,-2h2m-1,0h2m-1,1h2m0,-1h2m1,0h2m0,4h2m1,-1h2m-1,-1h2m0,-3h2m-1,4h2m-2,-3h2m0,2h2m-2,1h2m-2,-1h2m1,1h2m2,-5h2m1,5h2m1,-4h2m2,1h2m2,-2h2m-2,3h2m1,-2h2m1,3h2m-2,-4h2m1,6h2m1,-5h2m0,0h2m0,0h2m-1,1h2m11,0h2m6,2h2m1,2h2m-154,1h2m1,1h2m3,3h2m1,-4h2m0,0h2m1,0h2m-1,1h2m-2,-1h2m2,1h2m1,-2h2m-1,3h2m7,2h2m-2,-1h2m0,1h2m-1,-3h2m0,-1h2m0,2h2m-2,0h2m-2,0h2m-2,0h2m2,-1h2m-1,4h2m-1,-1h2m-1,-3h2m-2,3h2m-1,-3h2m-1,3h2m1,1h2m1,-5h2m1,0h2m-1,4h2m-2,-2h2m-2,-3h2m4,6h2m-2,-2h2m-1,1h2m-1,-3h2m2,3h2m-1,-5h2m1,3h2m-1,2h2m-2,-2h2m-2,-1h2m4,-1h2m-1,4h2m1,1h2m-2,-6h2m-2,2h2m-1,0h2m-2,4h2m1,-3h2m-1,-2h2m-1,1h2m0,3h2m-2,1h2m0,-4h2m0,4h2m0,-3h2m-2,2h2m2,0h2m-1,-1h2m-2,-4h2m-1,2h2m-1,3h2m-1,1h2m2,-2h2m-2,1h2m3,1h2m0,-4h2m0,-2h2m-1,1h2m-2,-1h2m0,2h2m-2,3h2m0,1h2m-1,0h2m0,-6h2m-1,1h2m-2,-1h2m-1,4h2m-2,-3h2m0,3h2m3,-2h2m1,3h2m-2,-3h2m0,4h2m-158,3h2m-2,0h2m8,2h2m0,1h2m-1,-1h2m-1,-3h2m7,1h2m-2,-1h2m-1,-2h2m-2,1h2m2,3h2m-1,-1h2m5,-2h2m-2,0h2m-1,4h2m8,-4h2m2,3h2m-1,-1h2m5,1h2m0,0h2m1,2h2m3,-2h2m0,0h2m0,2h2m1,-5h2m1,1h2m-1,4h2m0,-1h2m0,-1h2m-1,1h2m-1,-1h2m-2,-3h2m-1,4h2m-1,-4h2m-1,4h2m-1,-4h2m-2,3h2m3,-1h2m-2,0h2m-1,1h2m3,-4h2m5,1h2m0,0h2m-2,1h2m-1,-1h2m0,3h2m0,0h2m-2,-2h2m-1,-2h2m1,4h2m-1,-2h2m-2,1h2m-1,0h2m-1,-2h2m-1,5h2m3,-3h2m-1,-1h2m-2,4h2m-2,-5h2m3,-1h2m-1,5h2m1,-4h2m-1,0h2m1,3h2m-1,-3h2m8,0h2m-2,1h2m-2,-1h2m1,4h2m0,-3h2m5,3h2m6,-4h2m2,2h2m-186,8h2m-2,-1h2m1,-3h2m0,1h2m0,2h2m0,1h2m0,0h2m1,-5h2m2,1h2m-1,3h2m-1,-3h2m-2,0h2m0,1h2m1,1h2m-2,0h2m4,0h2m0,3h2m-2,-2h2m-2,0h2m-1,-3h2m1,2h2m0,1h2m11,-2h2m1,1h2m0,3h2m-1,-3h2m-2,-1h2m-2,1h2m-2,3h2m3,-5h2m-1,2h2m-1,1h2m-2,0h2m0,-2h2m-1,1h2m3,1h2m0,1h2m1,-2h2m-2,2h2m-1,-3h2m-1,2h2m0,2h2m-2,-2h2m-2,-1h2m1,1h2m2,-2h2m0,-2h2m1,4h2m-1,-2h2m-1,-1h2m-2,1h2m-1,-1h2m-1,1h2m-1,2h2m-2,-3h2m-2,0h2m-1,3h2m-1,-1h2m-2,1h2m2,-3h2m-2,1h2m-1,2h2m-2,-3h2m11,2h2m0,1h2m0,1h2m-1,-2h2m1,-2h2m1,2h2m-1,1h2m3,1h2m3,-1h2m-2,-3h2m2,2h2m3,0h2m-1,0h2m2,0h2m-1,-2h2m-2,2h2m-2,-1h2m-1,1h2m2,0h2m-1,2h2m-1,0h2m-1,0h2m-1,-4h2m-1,0h2m1,1h2m0,-2h2m-2,5h2m-176,7h2m-1,-3h2m3,-3h2m2,3h2m0,3h2m-1,-4h2m-1,0h2m0,2h2m1,0h2m-2,-3h2m-1,3h2m-1,-2h2m0,0h2m0,3h2m-1,-3h2m2,4h2m-1,-3h2m0,-2h2m-2,0h2m-1,0h2m-2,0h2m-1,3h2m-1,0h2m0,-4h2m-2,1h2m0,0h2m1,3h2m-1,-1h2m-1,-1h2m-1,3h2m0,-4h2m-1,-1h2m-2,0h2m3,4h2m-1,0h2m-1,-1h2m-1,3h2m-1,-5h2m-2,3h2m3,1h2m0,1h2m-1,-1h2m6,-3h2m-2,3h2m1,-4h2m0,4h2m2,-5h2m3,5h2m-2,-1h2m-1,-1h2m0,0h2m-2,0h2m4,1h2m2,-1h2m1,1h2m2,-1h2m0,3h2m-2,-3h2m4,1h2m-2,0h2m-1,-1h2m-1,-2h2m-2,4h2m-1,-4h2m-2,5h2m-2,-5h2m-1,1h2m1,1h2m-1,2h2m-1,-3h2m-2,-1h2m-2,4h2m-1,-2h2m0,-1h2m-2,4h2m2,-2h2m-1,0h2m0,-3h2m-1,1h2m-2,1h2m-1,-3h2m2,3h2m0,2h2m-1,-2h2m6,-2h2m1,0h2m-2,2h2m-1,2h2m0,-3h2m2,2h2m3,-1h2m3,-2h2m-1,1h2m-2,3h2m0,0h2m2,0h2m0,-2h2m0,-1h2m-2,3h2m13,-3h2m2,4h2m0,-5h2m2,4h2m-213,4h2m2,1h2m12,-2h2m-1,2h2m0,1h2m9,-3h2m1,0h2m2,1h2m-1,-2h2m-2,-1h2m-1,4h2m-1,-2h2m6,-1h2m0,5h2m-2,-4h2m-1,-1h2m-1,2h2m-2,-1h2m-1,0h2m-1,1h2m-2,-1h2m-1,1h2m-2,2h2m1,0h2m-1,-1h2m-2,-1h2m-2,-1h2m0,2h2m-2,1h2m1,-4h2m2,3h2m0,-1h2m-1,2h2m-2,-2h2m1,2h2m0,-3h2m0,2h2m-1,0h2m4,0h2m-2,-3h2m-1,4h2m0,-4h2m0,3h2m2,-1h2m0,0h2m-1,-2h2m-2,-1h2m-2,2h2m6,0h2m4,-1h2m7,0h2m3,1h2m-2,2h2m-1,0h2m0,-4h2m2,0h2m-2,4h2m-2,0h2m1,-2h2m-1,-1h2m0,1h2m9,1h2m-2,-3h2m-1,1h2m0,3h2m-2,-1h2m-2,1h2m-1,-1h2m0,-2h2m-2,4h2m-2,0h2m0,-2h2m0,3h2m0,0h2m-1,-1h2m6,-4h2m2,3h2m3,-2h2m1,-1h2m-1,4h2m3,1h2m-1,-1h2m1,-1h2m-210,4h2m4,0h2m3,1h2m-1,-3h2m6,2h2m2,1h2m4,-1h2m-2,2h2m-1,0h2m0,0h2m0,2h2m-1,-3h2m-1,0h2m2,-3h2m-1,4h2m-1,1h2m-1,0h2m-2,-2h2m-2,-1h2m0,0h2m-1,0h2m-1,1h2m0,0h2m-2,-2h2m0,4h2m-1,0h2m0,-1h2m1,-3h2m-2,3h2m-2,-1h2m0,-2h2m-1,5h2m0,-4h2m-1,0h2m-1,3h2m1,0h2m1,-2h2m3,2h2m0,-3h2m-1,0h2m0,2h2m1,-1h2m4,1h2m1,-4h2m-1,3h2m0,0h2m-2,-1h2m-2,1h2m-1,-3h2m-2,1h2m1,3h2m2,-1h2m4,-3h2m1,3h2m-1,-2h2m-2,2h2m-2,1h2m-1,0h2m1,0h2m-1,1h2m1,-5h2m3,3h2m-1,-2h2m0,4h2m3,-1h2m0,-1h2m-2,2h2m0,0h2m1,1h2m0,-5h2m-2,2h2m0,2h2m-2,-1h2m-1,-1h2m2,3h2m-1,-3h2m-1,-1h2m1,-1h2m-1,0h2m1,0h2m3,5h2m2,-1h2m2,-3h2m-2,2h2m-1,0h2m-1,-1h2m2,-1h2m-1,4h2m0,-1h2m2,-4h2m0,0h2m-1,-1h2m-1,5h2m-1,-3h2m-1,1h2m-1,2h2m-1,0h2m1,0h2m8,-3h2m-1,-1h2m1,3h2m1,-2h2m10,3h2m-231,3h2m3,3h2m3,0h2m4,0h2m2,-4h2m0,-1h2m-1,2h2m-1,0h2m2,-2h2m0,6h2m4,-4h2m-1,4h2m-2,-2h2m1,-4h2m0,4h2m-2,-3h2m-1,1h2m-1,0h2m2,2h2m0,-2h2m0,1h2m-2,2h2m-1,-1h2m4,1h2m5,-2h2m-2,0h2m-1,-3h2m-1,2h2m-1,-2h2m-2,4h2m-1,0h2m-2,1h2m0,0h2m1,-4h2m-2,4h2m1,-5h2m0,4h2m-1,-4h2m1,4h2m1,-4h2m-2,3h2m-2,2h2m5,-3h2m1,3h2m-1,-1h2m-1,-2h2m-1,3h2m3,-5h2m-1,4h2m3,-1h2m-2,0h2m-2,3h2m0,0h2m-1,-6h2m-1,3h2m0,0h2m-1,1h2m0,0h2m0,1h2m-2,-5h2m-1,4h2m-2,1h2m-1,0h2m-1,-4h2m-1,1h2m0,2h2m1,-1h2m-1,2h2m1,-5h2m-1,3h2m-1,-1h2m0,-1h2m-2,1h2m1,-2h2m-1,5h2m-1,1h2m1,-2h2m-1,0h2m-1,1h2m2,-2h2m-1,-1h2m0,2h2m-2,-4h2m-1,1h2m-2,0h2m0,4h2m0,0h2m-1,-4h2m0,2h2m-2,-1h2m-2,3h2m-1,1h2m0,0h2m1,-3h2m-1,2h2m-1,-5h2m-2,3h2m0,2h2m-2,0h2m0,1h2m0,-5h2m-1,3h2m-1,-2h2m0,1h2m-2,-1h2m5,2h2m-1,1h2m0,-5h2m-2,5h2m1,-2h2m-2,2h2m0,-1h2m-1,-2h2m-2,-1h2m-1,1h2m0,-1h2m-2,2h2m-2,1h2m0,-2h2m0,-1h2m0,2h2m7,3h2m1,-1h2m-2,-1h2m-2,2h2m2,-3h2m1,-1h2m-1,0h2m1,1h2m-238,5h2m8,0h2m1,1h2m-1,-1h2m3,2h2m0,1h2m5,-2h2m0,-1h2m-1,0h2m8,-2h2m-1,5h2m-1,-3h2m-2,0h2m-1,-2h2m-2,2h2m2,3h2m-2,1h2m3,-1h2m-1,-4h2m-1,1h2m-1,-1h2m0,3h2m-2,1h2m2,-4h2m5,4h2m-1,0h2m-1,-2h2m-1,2h2m-1,-1h2m0,1h2m-2,-5h2m1,3h2m-1,1h2m-2,-2h2m-1,0h2m1,-2h2m-2,2h2m-2,4h2m-1,-4h2m-2,-1h2m0,3h2m4,-3h2m0,2h2m-2,-2h2m2,2h2m-1,-1h2m-1,0h2m0,-1h2m-1,0h2m-2,-1h2m-1,0h2m-2,4h2m0,2h2m-2,-6h2m-1,5h2m2,-1h2m-1,1h2m-1,-5h2m-2,4h2m-2,1h2m3,-2h2m-1,2h2m-1,-2h2m1,1h2m-2,-1h2m3,-3h2m1,1h2m-1,3h2m-1,-1h2m0,-2h2m-1,0h2m1,3h2m3,0h2m-2,-4h2m-1,5h2m-1,-3h2m1,0h2m-1,0h2m-1,2h2m1,1h2m2,-3h2m-1,3h2m2,0h2m-1,0h2m-2,1h2m-2,-2h2m1,-3h2m-1,4h2m4,-3h2m-1,0h2m-2,3h2m0,-2h2m-1,-2h2m3,0h2m-2,-1h2m1,3h2m5,1h2m-2,-4h2m2,3h2m-2,1h2m-1,0h2m0,-1h2m-1,0h2m-1,2h2m-1,0h2m1,0h2m5,-3h2m1,0h2m1,-1h2m1,1h2m-1,4h2m2,-1h2m12,-1h2m0,-4h2m-242,6h2m-1,6h2m-2,0h2m8,-6h2m3,0h2m-2,4h2m-1,1h2m3,-3h2m1,3h2m8,0h2m-1,-4h2m-1,0h2m-2,1h2m-2,2h2m-1,-4h2m0,4h2m3,-4h2m-2,3h2m1,-1h2m-1,1h2m1,0h2m2,-2h2m1,0h2m3,2h2m-2,-1h2m1,3h2m-1,-1h2m-2,1h2m-2,-4h2m-1,3h2m-2,0h2m-1,1h2m-1,-3h2m-2,-1h2m0,4h2m-2,1h2m-2,-1h2m-2,-5h2m-2,0h2m0,1h2m-1,4h2m0,-4h2m-1,3h2m1,-3h2m-1,2h2m-1,3h2m-1,-4h2m-2,1h2m-1,0h2m3,-1h2m-1,-2h2m-2,4h2m3,-3h2m-1,5h2m4,-4h2m4,3h2m-1,-3h2m-2,3h2m1,-1h2m1,-2h2m0,3h2m0,-5h2m-1,3h2m0,0h2m2,3h2m-1,-5h2m2,3h2m4,-4h2m-1,2h2m1,-1h2m-2,3h2m-2,-3h2m-1,1h2m-1,0h2m2,0h2m4,2h2m-1,-1h2m-2,-1h2m2,-2h2m-1,3h2m-1,1h2m-2,-1h2m-2,1h2m0,-3h2m1,2h2m-1,-2h2m0,2h2m-2,-2h2m1,-1h2m1,5h2m-2,-4h2m-1,0h2m-2,5h2m0,-3h2m-2,-2h2m-1,1h2m-1,0h2m-2,0h2m-1,0h2m0,-2h2m-1,5h2m0,-2h2m-1,0h2m-1,-1h2m0,-2h2m-1,5h2m-1,-2h2m0,2h2m-1,-3h2m1,2h2m5,-2h2m0,0h2m-1,0h2m-1,0h2m2,2h2m3,-1h2m8,2h2m2,-3h2m2,-1h2m-1,0h2m-2,2h2m-1,0h2m-254,8h2m-1,-1h2m3,0h2m-1,-3h2m6,3h2m2,-2h2m2,-1h2m-2,-1h2m2,2h2m-2,2h2m-2,2h2m0,-1h2m-2,-1h2m1,-1h2m-2,-2h2m-1,1h2m4,2h2m0,0h2m-2,-1h2m-1,-3h2m-1,0h2m0,5h2m-2,1h2m0,-2h2m0,-2h2m-2,-1h2m1,-1h2m-1,5h2m0,-1h2m1,0h2m-1,-1h2m-1,-3h2m2,3h2m0,0h2m0,-3h2m-2,2h2m5,3h2m-1,-1h2m-2,-2h2m-1,1h2m-2,0h2m-1,-1h2m-2,3h2m-1,-3h2m-1,2h2m1,-1h2m3,-1h2m-2,3h2m1,0h2m-1,-3h2m-1,2h2m1,-1h2m0,-1h2m2,3h2m-2,-3h2m0,3h2m-2,-1h2m1,-1h2m-1,-1h2m-2,2h2m-2,-3h2m0,1h2m-2,2h2m0,2h2m0,-4h2m-2,-1h2m0,2h2m2,2h2m-2,0h2m-1,0h2m-2,-1h2m-1,2h2m0,-2h2m3,-1h2m-1,-2h2m0,2h2m-1,-1h2m-1,0h2m-1,1h2m0,-2h2m-1,-1h2m-2,1h2m-1,1h2m-1,3h2m-1,-5h2m1,4h2m-1,-2h2m-1,0h2m-2,-1h2m-1,4h2m-2,1h2m2,-2h2m-2,-3h2m0,4h2m-1,-4h2m-2,4h2m1,-2h2m-2,3h2m0,-2h2m4,1h2m0,1h2m4,-5h2m-2,5h2m-1,-3h2m-2,3h2m1,-3h2m0,-1h2m-2,2h2m2,-1h2m-1,2h2m-2,-3h2m-2,2h2m0,-3h2m-2,4h2m-2,0h2m0,-4h2m-2,0h2m-2,-1h2m-2,3h2m-1,-3h2m-1,4h2m1,0h2m-2,0h2m-2,0h2m-1,-3h2m-1,1h2m-2,0h2m-1,1h2m-1,0h2m-1,0h2m0,0h2m-1,2h2m0,-2h2m4,1h2m-1,-3h2m4,5h2m-1,-2h2m-1,0h2m-2,-1h2m0,-3h2m0,2h2m-2,0h2m-2,2h2m0,-2h2m-1,-1h2m-1,-1h2m-2,2h2m-1,1h2m1,3h2m2,-2h2m-1,-3h2m1,3h2m-2,-2h2m0,-1h2m-2,4h2m0,-1h2m9,-2h2m4,2h2m-263,6h2m0,-1h2m5,2h2m13,-2h2m-1,-1h2m-1,1h2m-2,2h2m1,-5h2m2,6h2m0,-5h2m2,2h2m-1,-1h2m0,2h2m1,1h2m-1,-1h2m0,-1h2m-1,-3h2m7,5h2m-1,-3h2m-1,-1h2m2,1h2m-2,2h2m-2,0h2m-1,1h2m3,-2h2m-1,-2h2m-1,4h2m-2,1h2m-1,-2h2m0,-4h2m-1,4h2m0,1h2m-1,1h2m-1,-3h2m-1,-3h2m-2,0h2m-2,0h2m1,2h2m3,0h2m-1,2h2m-1,0h2m3,-3h2m-2,0h2m-1,0h2m-1,2h2m1,-1h2m0,3h2m-1,-2h2m-2,1h2m0,0h2m2,1h2m-2,-3h2m2,-1h2m-2,0h2m-1,4h2m1,-4h2m-2,1h2m-1,3h2m11,0h2m-1,-5h2m-2,2h2m5,0h2m-2,-1h2m0,0h2m-2,5h2m-1,-3h2m5,-2h2m-2,1h2m0,0h2m-2,1h2m1,-2h2m-1,2h2m-2,-2h2m-2,-1h2m-1,2h2m1,2h2m-1,-2h2m0,0h2m-1,3h2m-1,0h2m-2,-2h2m-1,1h2m3,-2h2m0,-1h2m-2,1h2m-1,-1h2m0,2h2m-2,-3h2m-2,3h2m0,2h2m-2,-5h2m0,4h2m11,1h2m0,-3h2m1,2h2m0,0h2m-2,1h2m1,-4h2m3,3h2m-1,-3h2m3,0h2m1,3h2m-2,1h2m0,0h2m1,-3h2m-1,1h2m-1,2h2m2,-2h2m0,-1h2m-1,-1h2m3,2h2m-1,3h2m-2,-4h2m-1,2h2m-1,-2h2m-1,1h2m0,2h2m-1,-1h2m-1,2h2m3,-5h2m-2,2h2m0,-2h2m-1,-1h2m-1,0h2m-249,11h2m4,-2h2m0,-2h2m-1,2h2m0,3h2m0,-2h2m-1,1h2m-1,-1h2m0,-4h2m1,2h2m0,1h2m1,0h2m5,2h2m-1,-5h2m1,1h2m0,5h2m1,-2h2m0,1h2m-2,-3h2m6,3h2m-2,-4h2m0,-1h2m1,4h2m4,0h2m-2,-3h2m-1,0h2m0,5h2m-2,0h2m-1,-1h2m-1,-1h2m0,2h2m1,0h2m-1,-6h2m-1,2h2m1,3h2m-2,-5h2m1,0h2m1,0h2m-2,3h2m-2,-1h2m-1,-2h2m0,6h2m-1,-3h2m-1,2h2m1,-4h2m-1,1h2m-1,-2h2m-2,1h2m-1,0h2m-2,3h2m0,-2h2m-1,3h2m-1,-1h2m-1,-1h2m0,3h2m-1,-3h2m-2,-1h2m-2,-1h2m-1,0h2m-2,3h2m-1,-3h2m-1,0h2m-1,0h2m-2,-1h2m2,1h2m-2,0h2m-1,-1h2m1,1h2m-1,2h2m-1,-2h2m3,4h2m-2,0h2m-1,-1h2m-1,-4h2m-1,4h2m-2,0h2m-1,-1h2m0,2h2m-1,0h2m-1,-3h2m-2,0h2m-1,1h2m1,3h2m-1,-5h2m-1,0h2m-2,0h2m-1,2h2m3,2h2m0,-4h2m0,0h2m-2,1h2m-1,-1h2m2,3h2m0,2h2m-1,-5h2m0,5h2m-1,-4h2m-1,0h2m-1,-2h2m-1,5h2m-2,-5h2m-2,0h2m-2,1h2m-2,5h2m2,-4h2m-2,2h2m10,-2h2m-1,0h2m0,1h2m-1,2h2m3,-3h2m-1,-1h2m-2,4h2m1,-3h2m3,-1h2m-2,4h2m-1,-1h2m0,1h2m0,-3h2m-2,0h2m2,3h2m-1,-1h2m-1,1h2m1,-2h2m0,1h2m1,-2h2m-1,1h2m0,2h2m0,-1h2m-1,-3h2m0,5h2m-1,-3h2m-1,1h2m0,-2h2m-2,3h2m-1,-4h2m-1,4h2m-1,0h2m1,0h2m2,-5h2m-2,1h2m2,2h2m-2,-1h2m-1,0h2m0,1h2m2,2h2m0,1h2m1,-5h2m-2,1h2m2,1h2m0,-1h2m-262,8h2m9,1h2m2,0h2m3,-1h2m-1,0h2m-2,-1h2m0,1h2m-1,-2h2m1,1h2m-2,3h2m0,-5h2m-2,-1h2m-1,2h2m1,2h2m-2,-1h2m4,-2h2m-1,0h2m-2,0h2m-1,1h2m-1,2h2m8,-2h2m-1,2h2m0,-1h2m-2,2h2m-1,-3h2m-1,1h2m-1,1h2m1,-2h2m0,1h2m-2,-2h2m0,1h2m-1,2h2m-2,-4h2m0,3h2m1,0h2m1,-3h2m-1,1h2m-1,2h2m-2,1h2m-1,-1h2m-2,-2h2m1,1h2m-2,1h2m-2,0h2m-1,0h2m-1,3h2m-1,-3h2m2,-1h2m-2,-1h2m-1,1h2m-1,-1h2m1,4h2m-1,-2h2m2,-2h2m-1,1h2m0,2h2m-2,-1h2m-1,-3h2m-2,3h2m-2,3h2m0,-6h2m-1,1h2m2,1h2m2,1h2m0,0h2m-2,-1h2m-2,1h2m0,0h2m-2,0h2m-1,1h2m0,-2h2m5,0h2m0,3h2m-1,-3h2m-2,-2h2m1,2h2m-1,-1h2m-2,0h2m-1,2h2m0,-1h2m-2,3h2m-1,-3h2m-2,0h2m1,3h2m2,0h2m0,-1h2m-2,1h2m-2,-4h2m-2,4h2m1,0h2m2,-3h2m-2,-1h2m2,0h2m-1,1h2m-1,1h2m2,-2h2m0,-1h2m2,2h2m2,4h2m-2,-4h2m1,-2h2m2,4h2m-1,-2h2m-2,0h2m-1,1h2m0,2h2m-1,-4h2m-1,1h2m-2,-2h2m-2,5h2m1,-3h2m0,1h2m-1,-1h2m-1,3h2m0,-3h2m2,-1h2m3,4h2m1,-2h2m-1,-1h2m-1,2h2m-1,-1h2m-1,0h2m-2,-3h2m2,3h2m0,-3h2m-2,3h2m-2,-2h2m0,4h2m-1,-1h2m0,-1h2m1,0h2m-1,-1h2m-2,4h2m-2,-2h2m0,2h2m-1,-4h2m1,1h2m-2,-1h2m-1,3h2m0,0h2m-1,0h2m-1,-1h2m-1,-1h2m0,-1h2m0,0h2m-1,3h2m-2,-1h2m-1,-2h2m-1,0h2m-1,2h2m-2,-2h2m-1,0h2m0,1h2m0,2h2m4,-3h2m0,-1h2m1,0h2m4,1h2m2,-1h2m-281,5h2m2,1h2m1,4h2m0,-4h2m-2,-1h2m2,1h2m-1,1h2m1,1h2m3,-3h2m3,4h2m-2,0h2m2,-3h2m-1,4h2m4,-3h2m-2,-1h2m-1,1h2m4,1h2m-1,0h2m-2,2h2m-1,-1h2m-2,2h2m5,-2h2m1,-3h2m-2,0h2m4,4h2m0,-2h2m0,-2h2m0,0h2m0,0h2m2,0h2m-2,-1h2m0,2h2m-2,-1h2m1,1h2m-2,3h2m-1,1h2m-1,-4h2m-2,4h2m2,-6h2m-1,2h2m-1,0h2m-1,1h2m0,3h2m-2,-1h2m-1,-5h2m5,4h2m2,-1h2m6,-1h2m0,-2h2m-2,4h2m1,-4h2m0,3h2m0,-3h2m-2,2h2m0,3h2m2,-4h2m-1,2h2m-2,1h2m-1,-3h2m-2,4h2m-1,-1h2m2,-2h2m0,4h2m-1,-4h2m0,1h2m3,-3h2m0,4h2m-2,0h2m-1,-3h2m-1,1h2m-1,-1h2m-1,3h2m-1,-3h2m-1,0h2m-1,2h2m0,2h2m2,0h2m-2,-4h2m-2,-1h2m-1,5h2m-1,-2h2m0,-1h2m4,1h2m-1,-2h2m-2,3h2m0,-2h2m-1,-2h2m-2,5h2m1,1h2m2,-4h2m3,3h2m2,-3h2m1,2h2m1,-3h2m-2,3h2m4,-1h2m-1,2h2m-1,-1h2m-1,-1h2m-1,-2h2m0,-1h2m2,4h2m0,0h2m-2,-2h2m-2,3h2m-1,-5h2m-1,0h2m0,2h2m-2,0h2m2,-1h2m0,-1h2m2,3h2m-2,0h2m-2,-2h2m-1,3h2m2,0h2m3,1h2m-1,-2h2m0,-2h2m-1,0h2m1,4h2m-2,-2h2m4,2h2m1,0h2m-1,-5h2m1,1h2m-2,5h2m0,-6h2m-1,2h2m-2,3h2m-1,-2h2m0,-1h2m2,3h2m0,-2h2m3,-2h2m0,1h2m4,1h2m-276,7h2m-2,-4h2m5,0h2m-2,1h2m1,5h2m3,0h2m0,-1h2m0,-5h2m-1,3h2m-1,2h2m-1,-2h2m-1,0h2m-1,0h2m0,-2h2m-2,2h2m0,-2h2m0,4h2m1,-3h2m-2,2h2m4,-3h2m-2,3h2m1,-1h2m1,-1h2m6,0h2m-1,-1h2m-2,3h2m6,1h2m-1,-3h2m4,1h2m0,2h2m1,-2h2m-2,-2h2m0,4h2m-1,1h2m3,-5h2m0,2h2m0,-2h2m0,4h2m-1,-3h2m-1,0h2m0,1h2m-2,0h2m1,-2h2m-2,4h2m0,-4h2m-1,5h2m0,-3h2m-2,-1h2m-1,2h2m-2,-2h2m-2,2h2m1,-3h2m-2,0h2m-1,2h2m0,2h2m-1,-1h2m-1,-3h2m-2,1h2m0,0h2m-2,1h2m-1,3h2m0,-5h2m0,3h2m-2,-3h2m1,0h2m-1,5h2m0,-3h2m-1,2h2m-2,0h2m-1,0h2m1,-2h2m2,3h2m0,0h2m0,-2h2m8,1h2m1,-3h2m-1,1h2m-1,2h2m-1,-2h2m1,1h2m-2,-2h2m-1,4h2m1,-3h2m-1,0h2m0,-1h2m2,1h2m-2,-3h2m-1,4h2m-1,0h2m-1,-2h2m0,3h2m0,-1h2m1,-3h2m0,0h2m-2,3h2m-1,0h2m-1,-1h2m0,3h2m-2,-2h2m0,-3h2m-2,1h2m0,-1h2m-1,2h2m-2,1h2m-1,2h2m4,-6h2m-2,5h2m-1,-2h2m1,-3h2m0,4h2m-1,1h2m2,1h2m1,-1h2m0,-1h2m2,-4h2m0,3h2m-1,2h2m-2,1h2m0,-6h2m-1,3h2m-1,2h2m-1,-3h2m-1,1h2m1,2h2m-1,-1h2m1,-4h2m0,2h2m1,0h2m3,0h2m0,1h2m0,0h2m-1,-2h2m1,2h2m1,0h2m0,1h2m4,1h2m2,-5h2m7,1h2m-296,9h2m7,-3h2m3,1h2m16,2h2m0,0h2m-1,-3h2m-1,5h2m-1,-4h2m-1,-1h2m-1,2h2m1,-3h2m-1,5h2m0,-3h2m0,3h2m2,-5h2m0,2h2m-2,0h2m-1,2h2m-1,-3h2m0,3h2m1,-1h2m-1,1h2m4,0h2m-1,0h2m-2,1h2m-1,-3h2m-2,0h2m-1,2h2m2,2h2m0,-2h2m-2,-2h2m1,-1h2m-1,-1h2m-1,0h2m-2,3h2m-1,2h2m-1,-1h2m1,0h2m-1,-1h2m1,2h2m-2,-5h2m-1,2h2m-1,3h2m3,1h2m-2,-3h2m2,0h2m0,3h2m-2,-2h2m-1,-2h2m-2,2h2m-1,0h2m1,-3h2m1,5h2m-1,-3h2m6,2h2m3,0h2m-1,-3h2m-1,1h2m3,-1h2m1,0h2m1,0h2m0,-1h2m-2,4h2m-1,-3h2m2,1h2m-2,2h2m-1,-4h2m-2,-1h2m-1,2h2m-1,0h2m-1,3h2m0,-5h2m-1,2h2m-1,-2h2m-1,5h2m6,-3h2m-1,3h2m-1,-4h2m-1,3h2m2,-2h2m-2,4h2m1,-6h2m-1,1h2m0,0h2m-1,0h2m4,1h2m-2,1h2m0,2h2m-1,-3h2m-2,1h2m-1,0h2m-2,1h2m-1,0h2m1,1h2m-2,0h2m1,-4h2m1,1h2m-1,3h2m1,-3h2m-1,2h2m-2,-1h2m2,0h2m-1,2h2m-1,0h2m-2,0h2m-2,0h2m0,-3h2m2,0h2m1,2h2m-2,2h2m-1,-3h2m3,-2h2m-2,1h2m0,3h2m-2,-4h2m3,1h2m-1,-1h2m0,2h2m1,0h2m-1,0h2m0,3h2m0,-2h2m1,2h2m-2,-5h2m0,0h2m-1,0h2m0,1h2m3,1h2m3,-2h2m1,2h2m-1,1h2m-2,-1h2m-2,0h2m-1,0h2m-1,2h2m-1,-1h2m-1,-3h2m0,4h2m-1,1h2m-1,-5h2m5,2h2m3,1h2m4,2h2m6,-2h2m-1,-2h2m-2,2h2m-1,1h2m-309,1h2m3,4h2m-1,0h2m10,0h2m-2,1h2m3,-1h2m-1,0h2m3,1h2m-1,-1h2m0,0h2m4,1h2m-1,-2h2m0,2h2m-2,-3h2m-1,3h2m-1,-4h2m-2,4h2m3,-4h2m0,4h2m0,1h2m-1,-2h2m-1,-2h2m-1,2h2m-1,-2h2m0,1h2m-1,2h2m-2,-2h2m5,-2h2m-2,4h2m-1,0h2m-2,-2h2m1,-3h2m-1,1h2m0,2h2m-1,0h2m1,1h2m0,0h2m-1,1h2m-2,-2h2m-2,0h2m-2,2h2m0,-2h2m-1,-1h2m-2,3h2m-2,-5h2m0,3h2m0,1h2m-1,-2h2m-2,2h2m2,-1h2m-1,1h2m-2,2h2m-2,-1h2m0,1h2m1,-2h2m0,-2h2m-1,4h2m1,-2h2m0,-2h2m0,3h2m0,0h2m1,0h2m-1,-2h2m-2,-1h2m-2,4h2m-1,0h2m-2,-5h2m-1,1h2m0,1h2m2,1h2m2,-3h2m2,0h2m1,-1h2m-2,3h2m-1,0h2m-1,-2h2m1,-1h2m0,6h2m-2,-3h2m-1,-3h2m-2,1h2m-1,4h2m-1,-3h2m-2,1h2m-1,-1h2m1,-1h2m-2,3h2m-1,1h2m-2,-4h2m1,0h2m-2,-1h2m-2,1h2m2,3h2m-2,1h2m-2,-2h2m-1,2h2m0,-1h2m-2,0h2m1,-1h2m-2,2h2m2,-2h2m-2,-3h2m-1,2h2m-1,-1h2m-1,5h2m-2,-1h2m0,0h2m-1,0h2m-2,-3h2m-2,1h2m2,0h2m-2,-2h2m3,4h2m0,-1h2m1,-3h2m0,0h2m-1,3h2m-2,-3h2m-1,4h2m0,-5h2m1,1h2m-2,0h2m-1,-1h2m-1,0h2m-2,1h2m-1,4h2m-1,1h2m-1,-2h2m0,-3h2m0,1h2m-1,-1h2m0,3h2m-1,1h2m-2,-2h2m0,-1h2m1,1h2m-1,-2h2m-2,4h2m-1,0h2m1,-4h2m0,4h2m0,-1h2m2,0h2m-1,-3h2m-2,4h2m-2,-4h2m1,4h2m-2,-4h2m-2,1h2m-1,-1h2m-1,2h2m-1,1h2m-2,1h2m0,-4h2m4,4h2m0,-1h2m0,-2h2m-2,3h2m0,0h2m0,-4h2m-2,1h2m0,0h2m1,1h2m3,3h2m-1,-2h2m-2,0h2m-1,-4h2m2,1h2m-2,-1h2m13,4h2m-1,-2h2m-1,3h2m-1,-5h2m-1,4h2m3,0h2m-1,-1h2m3,1h2m-2,-2h2m3,1h2m-1,0h2m1,2h2m3,0h2m-1,-5h2m-1,2h2m5,4h2m2,-1h2m-334,4h2m10,-2h2m5,3h2m1,-2h2m-1,0h2m1,-1h2m0,3h2m1,-3h2m1,3h2m-2,-1h2m-2,-2h2m-1,0h2m0,1h2m-1,0h2m-1,3h2m-1,-1h2m-1,-4h2m-2,1h2m2,1h2m-2,2h2m-1,-3h2m-2,1h2m-1,3h2m-1,-1h2m0,-4h2m-1,2h2m-1,2h2m2,-2h2m1,2h2m-1,-1h2m3,2h2m-1,-1h2m-2,-4h2m1,2h2m1,1h2m-2,0h2m5,1h2m-2,-1h2m0,0h2m-2,1h2m1,-2h2m1,-1h2m-1,3h2m3,0h2m0,-3h2m1,1h2m-1,-1h2m2,1h2m0,1h2m-1,1h2m-2,-2h2m0,0h2m3,1h2m0,1h2m0,1h2m-2,-1h2m-1,-1h2m-2,1h2m2,1h2m2,-1h2m0,1h2m-2,-1h2m-1,-2h2m-1,3h2m-2,-3h2m-1,1h2m0,2h2m0,-5h2m4,5h2m4,-3h2m1,-1h2m-1,0h2m-1,4h2m0,-2h2m0,-2h2m0,0h2m-1,4h2m-1,-5h2m1,4h2m-1,-2h2m4,1h2m1,-1h2m2,0h2m-2,-2h2m3,4h2m1,-1h2m-2,2h2m0,-2h2m-2,1h2m-1,-4h2m0,2h2m-2,4h2m1,-1h2m-1,-5h2m2,2h2m-2,0h2m1,3h2m-1,-4h2m-2,0h2m-1,3h2m-2,-4h2m3,5h2m0,1h2m-2,0h2m0,-4h2m-1,1h2m-2,-2h2m0,4h2m-1,1h2m0,-2h2m-2,-2h2m-1,3h2m-1,-4h2m2,4h2m0,-5h2m-1,3h2m-1,0h2m-2,-3h2m0,3h2m-2,0h2m-1,-1h2m-2,1h2m-1,2h2m-1,-1h2m-2,-1h2m0,1h2m5,-1h2m-1,-2h2m1,1h2m-1,2h2m-2,0h2m0,0h2m-1,2h2m6,-5h2m-2,3h2m-2,0h2m0,-3h2m0,3h2m-1,-2h2m-1,0h2m-2,0h2m0,2h2m0,0h2m-1,-4h2m-1,3h2m1,2h2m-1,-2h2m-2,2h2m-2,-3h2m0,2h2m1,-1h2m3,-2h2m2,1h2m0,-2h2m-1,5h2m-1,-5h2m2,6h2m1,-4h2m4,-2h2m0,3h2m-1,0h2m-1,1h2m-1,-3h2m-1,4h2m0,-2h2m0,2h2m5,-5h2m0,2h2m-333,6h2m2,-2h2m4,1h2m4,5h2m0,-3h2m1,-2h2m3,0h2m0,5h2m-2,-1h2m-1,-1h2m1,-2h2m2,0h2m-2,1h2m0,2h2m-1,0h2m0,-2h2m-1,0h2m-2,2h2m-1,-2h2m-1,2h2m0,-1h2m2,2h2m-2,-4h2m2,-1h2m1,3h2m-1,2h2m0,-1h2m-2,-5h2m-1,4h2m0,1h2m0,-2h2m-2,0h2m0,0h2m1,-1h2m0,0h2m0,1h2m3,0h2m-2,-2h2m2,4h2m-1,-5h2m-1,6h2m4,-5h2m-2,4h2m0,-2h2m-1,0h2m-2,1h2m2,-3h2m-1,2h2m0,-1h2m1,2h2m-2,-1h2m1,-2h2m0,0h2m-2,5h2m-2,0h2m2,-1h2m0,-5h2m0,4h2m-1,-2h2m1,0h2m0,0h2m-2,-1h2m-1,2h2m-2,0h2m-2,1h2m-1,-1h2m0,3h2m-1,-5h2m-1,4h2m0,-2h2m1,1h2m-1,2h2m-2,-3h2m-1,-2h2m6,1h2m-1,1h2m-1,2h2m0,-2h2m4,-1h2m0,4h2m-1,0h2m1,-2h2m-1,-1h2m0,2h2m1,-1h2m1,-2h2m0,3h2m-1,-4h2m-1,5h2m1,-5h2m2,3h2m-1,-4h2m-2,2h2m-2,0h2m3,2h2m-2,0h2m-1,0h2m0,1h2m2,1h2m0,-2h2m-2,1h2m-2,-4h2m0,1h2m-2,-1h2m3,5h2m-2,-5h2m1,1h2m1,1h2m-1,2h2m-1,-4h2m-1,3h2m-2,0h2m1,-4h2m-2,1h2m-2,2h2m6,-1h2m3,-1h2m-1,-1h2m1,2h2m0,4h2m0,0h2m1,-2h2m-2,-2h2m-1,-1h2m-2,4h2m2,-3h2m1,4h2m-2,-5h2m-1,3h2m4,-1h2m0,-1h2m-2,-1h2m0,4h2m1,0h2m-1,-3h2m-1,2h2m5,-1h2m-2,-2h2m4,0h2m-1,1h2m3,2h2m0,-3h2m1,1h2m-2,0h2m0,2h2m2,-1h2m1,1h2m-2,-4h2m0,3h2m6,1h2m-2,-1h2m2,-2h2m1,3h2m0,0h2m-1,1h2m-1,0h2m-1,-1h2m-1,0h2m-1,0h2m-1,1h2m3,1h2m2,-5h2m4,1h2m0,0h2m0,1h2m177,3h2m-533,2h2m3,2h2m13,1h2m0,-4h2m-1,5h2m2,-4h2m0,2h2m1,-1h2m-1,-2h2m1,2h2m-2,0h2m-1,0h2m-1,2h2m-1,-5h2m2,5h2m3,-3h2m-1,0h2m-1,2h2m-1,-1h2m2,-2h2m-2,1h2m1,1h2m-1,2h2m-1,-1h2m0,-4h2m2,3h2m1,0h2m0,3h2m-1,-4h2m-1,3h2m-2,-1h2m-1,-3h2m-2,5h2m0,-4h2m0,1h2m-1,-2h2m-2,2h2m2,3h2m9,-5h2m3,1h2m3,-2h2m0,1h2m1,0h2m-2,1h2m-1,4h2m5,-2h2m1,-3h2m-1,5h2m-2,-1h2m-1,-1h2m-2,1h2m0,1h2m-2,0h2m-2,-4h2m-2,0h2m-1,3h2m1,-2h2m-1,2h2m-2,-4h2m-1,3h2m-2,-2h2m0,3h2m0,-2h2m2,-2h2m-1,4h2m3,0h2m-1,-2h2m-1,3h2m-2,-1h2m1,1h2m1,-4h2m-1,2h2m-2,-1h2m-1,-1h2m-1,4h2m1,-6h2m1,0h2m1,5h2m-1,1h2m-2,-2h2m-2,1h2m-1,-2h2m-2,-2h2m2,4h2m3,-1h2m-1,1h2m-2,-2h2m-2,-3h2m-1,0h2m5,2h2m1,3h2m-1,-3h2m1,3h2m-2,-1h2m-2,1h2m0,-4h2m-1,0h2m-1,0h2m3,1h2m3,2h2m-2,-2h2m0,1h2m-2,2h2m1,-2h2m2,2h2m-2,-1h2m-2,-2h2m0,1h2m-1,2h2m-2,-1h2m-1,-1h2m0,1h2m1,0h2m8,-2h2m2,1h2m-2,1h2m1,-1h2m-1,-3h2m1,1h2m-2,1h2m-2,2h2m-1,-1h2m1,-2h2m3,2h2m-1,2h2m-2,0h2m-2,-3h2m-2,-1h2m-1,3h2m-2,-2h2m3,2h2m-2,0h2m-2,-1h2m-1,-3h2m-2,3h2m-1,-1h2m1,-1h2m-2,1h2m-2,1h2m-1,2h2m-1,0h2m-1,-3h2m-2,2h2m-1,-1h2m-1,2h2m1,-1h2m-2,1h2m-1,-5h2m0,2h2m-1,3h2m0,-2h2m-2,-3h2m-1,3h2m2,-2h2m0,3h2m-1,-1h2m0,3h2m1,-1h2m-2,-3h2m0,1h2m-1,-2h2m2,2h2m1,-2h2m-2,1h2m0,-1h2m1,-1h2m0,4h2m2,2h2m-1,0h2m0,-6h2m0,4h2m-2,2h2m-1,-5h2m-1,-1h2m-1,5h2m-1,-4h2m1,0h2m-1,-1h2m1,3h2m0,1h2m1,-2h2m-1,-1h2m3,-1h2m-1,5h2m0,0h2m5,1h2m154,-3h2m2,-2h2m1,3h2m5,2h2m2,-2h2m10,-1h2m2,1h2m-2,-1h2m3,-1h2m0,-1h2m-2,0h2m-1,2h2m2,-2h2m15,5h2m-2,-3h2m5,3h2m-584,4h2m-1,1h2m8,-2h2m-2,-1h2m-2,1h2m-1,0h2m4,0h2m2,3h2m-2,-3h2m-1,2h2m-1,-3h2m1,3h2m-1,-5h2m5,3h2m5,0h2m0,1h2m2,-4h2m2,1h2m-1,2h2m-1,-1h2m-1,0h2m-1,-1h2m-2,4h2m-1,-4h2m2,3h2m-2,-4h2m-2,6h2m0,-4h2m3,0h2m-2,2h2m0,-4h2m-2,1h2m-1,3h2m1,0h2m-1,0h2m0,-1h2m-1,2h2m-1,-2h2m0,-1h2m-2,1h2m0,2h2m1,-1h2m0,-2h2m-2,1h2m0,0h2m3,-2h2m3,1h2m-1,4h2m0,-3h2m-2,-3h2m6,1h2m-1,4h2m-2,0h2m1,-1h2m4,1h2m-1,-5h2m0,1h2m0,4h2m4,-3h2m-1,-1h2m-2,3h2m10,-2h2m-1,2h2m-1,-2h2m1,-1h2m-2,5h2m1,-5h2m-1,4h2m1,-4h2m1,5h2m-1,-3h2m-1,-2h2m-2,3h2m0,1h2m1,-2h2m-1,-1h2m-2,0h2m0,1h2m-2,0h2m-1,2h2m0,-2h2m0,2h2m-1,-2h2m1,1h2m-1,1h2m-1,-2h2m-2,2h2m-1,0h2m0,-2h2m-2,-3h2m-1,3h2m1,-1h2m0,-2h2m-2,4h2m-1,-2h2m-1,-1h2m-2,2h2m-1,-1h2m-2,-1h2m-1,5h2m-1,-1h2m-1,0h2m-2,0h2m0,0h2m-2,-4h2m-1,3h2m4,-2h2m-2,0h2m0,3h2m-2,-5h2m5,3h2m-1,0h2m1,-2h2m-1,3h2m-2,-3h2m-1,5h2m3,-1h2m-1,-3h2m0,1h2m-1,0h2m1,3h2m1,-2h2m0,-3h2m-2,4h2m-2,-3h2m-1,0h2m1,4h2m-1,-2h2m1,0h2m1,-2h2m3,-2h2m2,0h2m1,3h2m-2,0h2m1,0h2m-1,-2h2m-2,1h2m0,1h2m0,1h2m3,0h2m-1,1h2m1,0h2m-2,-1h2m-1,0h2m5,-1h2m0,-1h2m0,4h2m0,-6h2m0,5h2m-1,-1h2m-2,1h2m-1,1h2m-1,-2h2m-1,-1h2m-1,-2h2m-2,3h2m-2,-1h2m-2,0h2m0,-1h2m1,-2h2m-1,5h2m-2,-3h2m-2,4h2m1,-4h2m1,3h2m-2,-1h2m3,0h2m1,0h2m-2,0h2m-1,-3h2m-2,0h2m0,1h2m-2,-2h2m-1,3h2m-1,0h2m0,3h2m2,-5h2m-1,4h2m0,0h2m0,-4h2m2,1h2m-1,1h2m2,2h2m1,-5h2m-1,6h2m-1,-5h2m1,1h2m-2,0h2m1,-1h2m3,4h2m3,-5h2m1,2h2m145,2h2m18,-2h2m-2,0h2m13,2h2m-1,-2h2m9,1h2m1,-2h2m8,2h2m3,2h2m-1,-1h2m3,1h2m0,-2h2m3,-1h2m3,0h2m6,0h2m-601,7h2m-2,1h2m-1,1h2m-2,0h2m-1,-5h2m7,4h2m5,-1h2m-1,-1h2m-1,-1h2m4,5h2m0,-3h2m0,-3h2m-1,0h2m-2,6h2m-2,-2h2m-1,-4h2m-1,2h2m0,3h2m1,-2h2m-1,2h2m-1,0h2m-1,-4h2m-1,1h2m2,1h2m4,0h2m-1,-2h2m0,3h2m1,2h2m2,-1h2m-1,-5h2m-2,6h2m0,-2h2m4,-3h2m3,3h2m0,-3h2m0,3h2m0,-2h2m-1,1h2m-1,1h2m-1,1h2m-2,-4h2m2,4h2m-1,-2h2m5,-3h2m-1,3h2m-2,2h2m-1,-4h2m1,0h2m1,-1h2m0,6h2m-2,-3h2m0,-3h2m2,3h2m1,1h2m1,-3h2m4,3h2m-1,-2h2m-1,0h2m-1,3h2m-1,0h2m-1,-1h2m-2,-3h2m1,-1h2m-1,5h2m0,-2h2m0,2h2m-1,-1h2m-1,-2h2m-1,0h2m-1,0h2m-2,-1h2m-1,4h2m0,-1h2m0,-3h2m-1,3h2m1,-1h2m4,-1h2m-1,3h2m0,-1h2m2,-2h2m0,-2h2m-2,4h2m-2,0h2m-2,-1h2m0,-1h2m1,3h2m3,-2h2m-1,1h2m0,-3h2m-2,0h2m0,0h2m4,1h2m-1,1h2m0,1h2m2,1h2m-1,-4h2m2,3h2m-2,-3h2m0,2h2m1,2h2m-1,0h2m-2,-1h2m0,-3h2m-1,4h2m3,1h2m-2,-3h2m-1,0h2m-2,-1h2m2,2h2m3,-2h2m-1,0h2m2,3h2m-2,-4h2m0,0h2m-2,1h2m-2,2h2m-1,-2h2m-2,0h2m0,0h2m0,4h2m-1,-3h2m4,3h2m0,-5h2m1,1h2m-1,1h2m1,-1h2m-1,1h2m0,2h2m-2,-2h2m0,0h2m5,3h2m-1,-1h2m4,-4h2m-1,0h2m-1,0h2m-1,5h2m1,-2h2m-2,-3h2m-1,4h2m0,-2h2m3,-1h2m0,2h2m0,2h2m1,-5h2m-2,2h2m-2,1h2m0,-4h2m0,5h2m-1,-2h2m-1,0h2m0,0h2m-2,1h2m-1,-1h2m0,-1h2m-2,3h2m5,-4h2m-1,2h2m-2,-2h2m2,4h2m-2,1h2m5,-5h2m-2,3h2m-2,-1h2m2,-3h2m-1,2h2m0,3h2m-2,0h2m0,-4h2m-2,1h2m-1,4h2m-2,-5h2m-1,-1h2m0,6h2m0,-4h2m2,0h2m5,-1h2m0,3h2m0,-2h2m0,-1h2m-2,0h2m1,5h2m0,-4h2m-1,-2h2m121,4h2m1,-1h2m-2,1h2m4,-1h2m2,-3h2m0,5h2m4,1h2m-1,-2h2m1,-3h2m2,4h2m2,0h2m-1,1h2m-1,-1h2m-1,0h2m-2,-2h2m13,1h2m-1,2h2m6,0h2m-2,-4h2m2,2h2m3,-1h2m9,3h2m-1,-2h2m1,-2h2m15,-1h2m-1,2h2m4,3h2m-599,6h2m8,-3h2m0,-1h2m7,-1h2m0,2h2m-1,-3h2m-2,2h2m-2,3h2m2,-1h2m-1,1h2m-1,-3h2m1,-1h2m-2,3h2m4,1h2m-1,-5h2m6,0h2m0,6h2m-1,-2h2m0,-3h2m-2,0h2m0,4h2m-1,1h2m-1,-5h2m1,2h2m-2,0h2m4,-3h2m-2,1h2m2,1h2m-2,3h2m0,-3h2m-1,2h2m-1,-2h2m-1,2h2m-1,-1h2m1,2h2m-2,1h2m0,-5h2m-1,-1h2m-2,2h2m0,1h2m-2,-2h2m-2,0h2m-1,1h2m-1,3h2m1,-4h2m3,2h2m-1,0h2m7,3h2m-2,-3h2m1,3h2m3,-1h2m-2,0h2m-1,0h2m-2,1h2m-1,-5h2m0,1h2m2,-1h2m0,3h2m-2,-2h2m-2,2h2m-2,-1h2m-2,2h2m0,-4h2m-2,3h2m0,-4h2m-2,5h2m-1,0h2m-1,0h2m-2,0h2m0,-5h2m-1,3h2m-1,0h2m-1,-1h2m0,2h2m0,-1h2m-2,1h2m-2,-2h2m2,1h2m-1,2h2m-1,-3h2m-1,0h2m2,1h2m4,-2h2m0,4h2m3,-1h2m-1,1h2m4,0h2m-2,-5h2m-2,4h2m-1,1h2m-2,0h2m0,-1h2m-1,0h2m2,0h2m2,2h2m-2,-4h2m-2,0h2m2,1h2m3,1h2m2,1h2m-1,0h2m2,-4h2m-2,1h2m-1,2h2m-1,-1h2m-1,2h2m2,-1h2m0,-3h2m-2,1h2m0,2h2m-1,0h2m-2,-3h2m-1,1h2m-1,1h2m-1,2h2m-1,0h2m-2,1h2m-1,0h2m2,-5h2m-1,1h2m2,-1h2m-2,1h2m-2,2h2m1,-4h2m-1,2h2m-2,1h2m0,-1h2m1,-2h2m-2,2h2m-1,-1h2m-2,1h2m-1,3h2m-1,-2h2m-2,0h2m-2,-1h2m1,1h2m4,2h2m0,-4h2m-2,4h2m-2,-2h2m-1,2h2m-1,-2h2m0,0h2m-1,-3h2m0,5h2m-2,-4h2m4,1h2m-2,0h2m-2,1h2m-1,0h2m-2,-3h2m0,5h2m-2,-3h2m2,0h2m2,1h2m2,1h2m-1,2h2m-2,-3h2m-1,3h2m0,-3h2m-1,0h2m3,0h2m-1,0h2m-2,0h2m-2,-2h2m0,-1h2m0,5h2m-1,-1h2m1,-3h2m0,2h2m-1,1h2m-2,0h2m-1,-3h2m-1,1h2m-2,1h2m-2,1h2m-1,1h2m-1,-3h2m-2,-1h2m0,0h2m0,4h2m1,-1h2m-1,1h2m-1,-1h2m-2,1h2m2,-4h2m-1,1h2m-1,0h2m1,0h2m1,2h2m1,-2h2m2,0h2m-2,-1h2m-1,-1h2m-2,4h2m-1,1h2m-1,-4h2m-1,3h2m5,-2h2m-2,0h2m-1,4h2m-2,-3h2m-1,-1h2m1,0h2m0,4h2m-2,-5h2m-1,-1h2m-1,4h2m3,2h2m6,-1h2m2,1h2m115,-1h2m-1,-1h2m10,0h2m4,2h2m-2,-6h2m-1,2h2m1,4h2m3,-5h2m0,0h2m8,0h2m-1,0h2m11,5h2m8,-3h2m7,3h2m-1,-5h2m0,1h2m-2,-1h2m9,5h2m3,-4h2m2,3h2m0,-3h2m-2,4h2m0,-4h2m-1,1h2m3,-1h2m2,2h2m3,1h2m7,-1h2m2,-1h2m-622,8h2m16,-2h2m-2,1h2m-1,1h2m-1,-1h2m5,-1h2m3,2h2m-1,-3h2m-2,3h2m-2,1h2m3,-3h2m-2,3h2m-1,-6h2m3,1h2m2,0h2m1,5h2m-1,-2h2m8,-1h2m3,1h2m-1,-2h2m-1,4h2m-1,-5h2m-2,3h2m1,1h2m-2,-5h2m0,6h2m-1,-3h2m-2,2h2m-2,-2h2m0,0h2m-1,2h2m0,-3h2m0,3h2m1,1h2m-1,0h2m1,0h2m0,-1h2m-1,-5h2m0,6h2m-1,-2h2m3,2h2m-1,-1h2m-2,-3h2m0,0h2m0,-1h2m-1,0h2m7,-1h2m-1,2h2m-2,4h2m-1,-2h2m1,-3h2m5,0h2m0,3h2m0,-3h2m-2,2h2m2,3h2m-1,-1h2m0,-4h2m-1,3h2m0,-1h2m2,-1h2m-1,-2h2m0,2h2m0,0h2m-1,2h2m-1,-1h2m1,-2h2m1,5h2m-1,-5h2m-1,4h2m-2,-4h2m-1,2h2m-2,-1h2m6,-2h2m0,5h2m-2,-3h2m-2,2h2m1,0h2m-2,2h2m0,-1h2m3,-3h2m-2,2h2m-1,-1h2m-2,0h2m0,-1h2m0,2h2m1,-3h2m10,4h2m-1,-1h2m-1,1h2m1,-3h2m-1,1h2m-1,1h2m10,-2h2m-2,0h2m0,1h2m-2,3h2m2,-1h2m8,1h2m-1,-1h2m-2,-1h2m-2,-3h2m-1,3h2m-1,-3h2m-1,4h2m-2,-1h2m-1,-3h2m2,-1h2m0,3h2m-2,2h2m0,-3h2m-2,3h2m-2,-3h2m3,0h2m-1,2h2m5,-4h2m-2,6h2m-1,-5h2m-2,3h2m-1,-1h2m-2,-2h2m0,4h2m0,-2h2m-1,0h2m4,-1h2m-2,2h2m1,2h2m-1,-5h2m0,3h2m-2,-2h2m1,1h2m1,1h2m2,1h2m-1,-2h2m-1,-3h2m-1,2h2m0,3h2m0,0h2m-1,-3h2m-1,0h2m-2,-2h2m-2,2h2m1,0h2m-2,0h2m0,4h2m-1,-5h2m-1,0h2m-2,3h2m-2,-1h2m-1,-1h2m-1,-1h2m1,2h2m-1,0h2m-2,0h2m5,1h2m-1,0h2m-2,2h2m5,-2h2m-2,-2h2m1,-2h2m9,0h2m-1,2h2m-2,1h2m-2,1h2m-1,1h2m5,-2h2m-1,0h2m-2,-1h2m0,4h2m-1,-3h2m-2,2h2m7,-4h2m1,5h2m0,-5h2m11,4h2m96,-2h2m3,1h2m15,-1h2m3,-1h2m0,-2h2m1,2h2m0,2h2m-1,-3h2m2,2h2m4,0h2m0,-3h2m1,4h2m-1,0h2m-1,-2h2m-1,0h2m-2,1h2m-1,-1h2m1,1h2m-1,3h2m-2,-3h2m0,-2h2m-2,2h2m4,3h2m1,-5h2m1,4h2m-2,-3h2m-2,-1h2m1,0h2m0,3h2m1,0h2m-2,1h2m-2,-1h2m1,0h2m4,-4h2m-1,0h2m3,6h2m-2,-4h2m0,3h2m-1,0h2m4,-1h2m3,-3h2m1,-1h2m-2,0h2m3,2h2m1,0h2m0,4h2m0,-6h2m-1,2h2m15,-1h2m-620,7h2m6,-1h2m0,0h2m4,3h2m-1,-2h2m-1,3h2m-2,-3h2m-1,0h2m0,-1h2m-1,5h2m-1,-6h2m7,3h2m-1,-1h2m0,2h2m-2,1h2m0,-1h2m-1,0h2m-2,-2h2m-2,0h2m1,0h2m2,2h2m-2,-3h2m0,3h2m-1,-1h2m1,3h2m3,-1h2m-1,0h2m-1,-1h2m-2,1h2m1,-2h2m7,1h2m-1,-3h2m-1,2h2m-2,0h2m6,-3h2m1,2h2m0,-1h2m-1,2h2m-1,-2h2m-1,3h2m-1,-2h2m-1,0h2m-1,0h2m-2,3h2m3,-1h2m-1,-4h2m-1,2h2m-1,1h2m-2,0h2m-2,-1h2m-1,2h2m-1,2h2m-2,-6h2m0,2h2m-2,3h2m0,-4h2m1,0h2m4,1h2m-2,1h2m1,-2h2m0,2h2m10,2h2m-1,-2h2m-1,-1h2m-1,3h2m-1,0h2m-1,-1h2m-2,2h2m-2,-3h2m-1,-2h2m1,3h2m-1,0h2m6,-3h2m0,0h2m-1,4h2m-2,-4h2m-2,4h2m-1,-4h2m2,0h2m1,4h2m8,1h2m-1,-4h2m-2,4h2m0,-1h2m-1,-2h2m2,2h2m0,-2h2m9,3h2m-2,0h2m2,-2h2m2,-3h2m0,4h2m-2,-4h2m-2,1h2m2,0h2m-2,1h2m7,-1h2m-2,4h2m-2,0h2m-2,-3h2m0,-2h2m-2,2h2m5,-1h2m0,3h2m-2,-1h2m4,-3h2m4,1h2m3,-2h2m1,0h2m-1,4h2m1,0h2m-2,0h2m0,-4h2m0,3h2m-1,2h2m-1,-4h2m-2,4h2m-1,-2h2m1,3h2m9,-3h2m-2,-1h2m2,-1h2m-2,0h2m0,4h2m-2,0h2m1,-5h2m-2,1h2m-1,1h2m2,3h2m-2,-4h2m-1,-1h2m-2,5h2m0,-2h2m5,0h2m-1,-2h2m-2,5h2m1,-2h2m-2,1h2m-2,1h2m0,-1h2m3,-3h2m-1,4h2m0,0h2m-1,-2h2m-2,-1h2m0,1h2m-2,1h2m-1,-2h2m-1,3h2m0,-3h2m-1,2h2m-2,-1h2m0,0h2m4,1h2m0,-2h2m-1,-1h2m-1,3h2m2,-1h2m-1,-1h2m0,2h2m2,0h2m-1,-4h2m-1,1h2m0,0h2m1,3h2m-2,-1h2m2,2h2m-2,-4h2m-2,3h2m-1,1h2m0,-6h2m0,3h2m0,-1h2m4,2h2m-2,1h2m-2,-4h2m1,0h2m9,2h2m96,-1h2m4,1h2m-1,2h2m4,0h2m2,-2h2m1,-3h2m0,1h2m1,2h2m2,0h2m-2,-1h2m0,-2h2m0,6h2m-2,-3h2m0,-2h2m0,2h2m3,3h2m0,-1h2m-1,-2h2m2,0h2m1,-2h2m-1,4h2m-1,0h2m2,-4h2m4,4h2m0,-1h2m0,0h2m-1,0h2m0,2h2m-1,-1h2m-2,0h2m0,-1h2m-1,-4h2m0,2h2m1,4h2m-1,-3h2m3,-3h2m0,5h2m-2,0h2m0,-2h2m0,2h2m3,-1h2m-2,0h2m2,-2h2m-1,4h2m-2,-4h2m-2,0h2m4,3h2m2,-2h2m2,-1h2m3,4h2m2,-4h2m-1,3h2m4,0h2m2,-3h2m0,3h2m3,-1h2m1,-1h2m2,0h2m-1,1h2m-625,6h2m3,1h2m0,-4h2m-1,2h2m0,0h2m-1,2h2m3,-5h2m2,6h2m-1,-1h2m0,0h2m-1,-4h2m3,1h2m0,1h2m-1,2h2m0,1h2m5,-2h2m-1,-1h2m-2,2h2m-1,-1h2m-2,0h2m-1,-3h2m-1,3h2m0,0h2m-2,1h2m3,-5h2m0,6h2m-2,0h2m-1,-6h2m7,4h2m-1,1h2m0,0h2m-1,-4h2m1,1h2m-2,4h2m-1,-1h2m-1,0h2m-2,-2h2m-1,0h2m-1,-3h2m1,5h2m-2,-1h2m0,0h2m-1,0h2m-2,-3h2m-2,2h2m1,-3h2m-1,2h2m2,3h2m-1,0h2m1,-1h2m2,1h2m0,0h2m-2,0h2m0,-4h2m-1,3h2m-1,1h2m2,-1h2m3,0h2m-1,-2h2m5,2h2m1,-3h2m-1,2h2m-2,-2h2m-2,-1h2m0,2h2m0,4h2m1,-1h2m-1,0h2m2,-1h2m-2,-4h2m0,4h2m-1,0h2m-2,-1h2m4,-2h2m-2,5h2m0,-6h2m4,2h2m3,1h2m-1,1h2m2,0h2m-2,1h2m-2,-2h2m-2,0h2m-1,1h2m1,-1h2m3,1h2m0,1h2m-1,-3h2m2,4h2m-2,-3h2m-1,0h2m2,-1h2m1,3h2m2,0h2m2,1h2m3,-2h2m3,1h2m-2,-4h2m-1,0h2m2,3h2m-2,1h2m-2,-4h2m1,0h2m-2,3h2m-1,2h2m0,-3h2m3,-1h2m0,1h2m5,-3h2m2,3h2m0,-2h2m-1,2h2m4,2h2m-1,-2h2m2,-2h2m0,5h2m-2,-5h2m6,1h2m2,-2h2m0,3h2m7,-3h2m4,4h2m0,-1h2m-1,2h2m-1,-4h2m-2,1h2m0,2h2m-1,-3h2m-2,0h2m-1,2h2m-2,3h2m0,-5h2m5,0h2m-1,-1h2m1,2h2m-1,0h2m-2,0h2m4,3h2m0,-4h2m0,2h2m-1,-2h2m-2,4h2m0,-1h2m0,0h2m-1,0h2m-1,-1h2m-2,-3h2m-2,4h2m2,-1h2m-1,-3h2m0,2h2m-2,2h2m0,-1h2m5,-2h2m-2,-1h2m-2,2h2m-2,2h2m0,0h2m0,0h2m-1,2h2m-2,-6h2m-2,1h2m-1,4h2m1,-4h2m-1,1h2m-2,3h2m-1,-4h2m0,-1h2m0,4h2m0,-2h2m-1,2h2m-2,1h2m0,-3h2m-1,0h2m2,1h2m0,1h2m0,-1h2m-1,3h2m0,-2h2m1,1h2m1,0h2m81,-2h2m5,-3h2m7,6h2m-2,-4h2m2,0h2m6,-1h2m-2,1h2m-1,0h2m1,1h2m2,2h2m-1,0h2m0,1h2m0,-2h2m7,-2h2m-2,4h2m0,-4h2m0,-1h2m-1,5h2m-2,-6h2m-2,6h2m5,-4h2m1,1h2m-2,1h2m-1,1h2m1,0h2m0,-3h2m-1,-2h2m1,4h2m3,-3h2m2,3h2m1,1h2m-2,0h2m1,-3h2m1,-1h2m0,3h2m0,-4h2m1,0h2m-1,3h2m3,0h2m-1,-2h2m-2,3h2m-1,-3h2m1,2h2m2,2h2m0,1h2m0,-3h2m0,-2h2m1,3h2m-2,2h2m0,-6h2m0,1h2m0,4h2m1,0h2m1,-1h2m-1,2h2m-1,0h2m-1,-1h2m-1,-1h2m2,-3h2m0,4h2m-1,-3h2m1,4h2m0,-5h2m0,3h2m2,1h2m0,-3h2m11,3h2m2,-5h2m3,5h2m-649,5h2m5,-4h2m-1,2h2m2,2h2m-2,1h2m0,-1h2m4,2h2m-1,-4h2m5,3h2m1,-4h2m-1,5h2m-1,-4h2m-1,4h2m-1,-5h2m-1,3h2m0,1h2m1,-4h2m-1,5h2m5,-4h2m-2,3h2m0,-3h2m-1,3h2m-2,-1h2m0,-2h2m-2,3h2m-1,-4h2m-2,0h2m2,0h2m-1,4h2m-1,-5h2m-1,2h2m-1,3h2m-1,-4h2m-1,3h2m-2,-4h2m2,5h2m0,-3h2m-2,3h2m-2,-3h2m-2,1h2m-1,0h2m0,-1h2m0,1h2m4,3h2m-1,-1h2m-2,-5h2m-1,5h2m-2,0h2m0,-4h2m-1,1h2m-1,1h2m-1,-3h2m-1,1h2m-1,0h2m-1,3h2m-2,-2h2m0,-1h2m-1,0h2m-1,-1h2m0,3h2m-2,-2h2m1,5h2m0,-2h2m0,-1h2m1,0h2m-2,1h2m1,-1h2m-2,1h2m2,-3h2m-1,4h2m1,-5h2m0,1h2m-2,-1h2m0,4h2m-1,-1h2m-1,-2h2m-2,0h2m-2,-1h2m1,4h2m-2,-4h2m-1,6h2m4,0h2m-2,-4h2m-1,1h2m-2,-3h2m0,2h2m-2,4h2m-1,-2h2m-2,2h2m-1,-5h2m-1,3h2m7,-2h2m1,-1h2m-1,4h2m-1,-1h2m-1,-1h2m1,0h2m-1,-2h2m-1,4h2m-1,0h2m-2,0h2m-1,-3h2m-1,2h2m-1,1h2m-1,-4h2m-1,2h2m-1,-2h2m-2,2h2m0,1h2m-2,-4h2m4,1h2m-1,4h2m-1,-2h2m-1,1h2m1,0h2m-1,-3h2m1,1h2m2,3h2m0,0h2m6,0h2m-2,1h2m0,-6h2m0,3h2m-2,1h2m-1,-3h2m0,1h2m4,2h2m-1,1h2m0,-2h2m-2,-1h2m3,1h2m0,0h2m-2,-1h2m-1,-1h2m-2,4h2m0,-2h2m-2,1h2m-1,-2h2m0,2h2m1,-2h2m-2,1h2m-1,0h2m-1,-2h2m0,1h2m-1,1h2m0,3h2m-2,0h2m2,-6h2m0,0h2m4,4h2m-2,-2h2m1,4h2m-2,-4h2m-2,-1h2m-1,3h2m0,-1h2m3,1h2m-1,-3h2m1,0h2m0,3h2m-1,-1h2m0,2h2m2,-3h2m-2,-1h2m-1,1h2m1,-1h2m3,3h2m2,-3h2m4,5h2m-1,-3h2m3,1h2m-1,-1h2m1,0h2m-1,2h2m-1,0h2m-1,-2h2m-1,1h2m-2,-2h2m-1,-1h2m0,5h2m-1,-2h2m-1,-4h2m-1,5h2m-1,1h2m1,-4h2m0,2h2m4,1h2m-2,-1h2m-1,1h2m-1,-2h2m-2,1h2m2,1h2m-1,-5h2m-1,4h2m-1,-2h2m2,4h2m1,-2h2m-1,1h2m-1,-1h2m1,-4h2m3,6h2m-1,0h2m0,-3h2m0,-3h2m-1,0h2m0,5h2m0,0h2m-1,-2h2m1,3h2m2,0h2m-2,-4h2m-1,2h2m-2,1h2m-1,-2h2m-1,-2h2m1,3h2m0,-1h2m0,3h2m-1,-2h2m65,0h2m2,2h2m-1,-5h2m1,1h2m0,2h2m15,1h2m0,-2h2m1,2h2m9,-1h2m7,0h2m-2,0h2m2,-1h2m3,0h2m0,2h2m1,0h2m-1,-3h2m-1,0h2m-2,3h2m2,-2h2m2,3h2m-1,-6h2m4,1h2m3,3h2m-1,-3h2m1,5h2m1,0h2m-1,-1h2m-2,-1h2m-1,-1h2m-1,-1h2m-2,3h2m5,1h2m-2,-4h2m3,1h2m-2,3h2m3,-6h2m7,0h2m-1,1h2m0,-1h2m-1,4h2m0,1h2m3,0h2m-1,1h2m-1,-5h2m-1,1h2m0,-2h2m-1,5h2m-1,-4h2m-2,4h2m7,1h2m-1,-2h2m-2,-4h2m-1,0h2m8,3h2m4,2h2m-1,-5h2m1,4h2m10,1h2m-1,-4h2m0,5h2m0,-1h2m-643,5h2m4,-1h2m-2,-1h2m-1,1h2m1,1h2m-1,-2h2m-2,1h2m6,1h2m3,-1h2m1,-1h2m-1,-2h2m0,0h2m3,1h2m1,0h2m-2,5h2m-1,-4h2m0,1h2m0,-1h2m0,-1h2m-1,1h2m0,1h2m-1,1h2m-2,0h2m-1,-1h2m-1,1h2m1,0h2m3,-2h2m1,4h2m-2,-4h2m3,1h2m-2,-1h2m-2,1h2m-1,-2h2m-1,3h2m0,-2h2m0,4h2m1,-4h2m2,3h2m0,-2h2m-2,-1h2m-2,-1h2m-1,1h2m1,4h2m-2,-6h2m8,4h2m7,1h2m2,-2h2m0,2h2m-1,-5h2m-1,4h2m1,-3h2m-2,3h2m-1,-1h2m1,0h2m0,2h2m-1,-2h2m3,2h2m-2,0h2m0,-3h2m-2,0h2m-1,-1h2m-2,1h2m-1,1h2m0,1h2m-1,-4h2m-2,4h2m-1,2h2m-1,-4h2m-1,1h2m-2,3h2m0,-4h2m0,-1h2m0,-1h2m-1,5h2m-1,-1h2m0,0h2m-1,1h2m-2,1h2m0,-2h2m-1,1h2m3,-1h2m1,-4h2m-1,1h2m-2,0h2m3,-1h2m3,3h2m1,0h2m3,-2h2m0,5h2m-1,-5h2m0,2h2m0,-2h2m0,3h2m4,1h2m0,-2h2m1,-1h2m0,4h2m0,-4h2m-1,1h2m2,2h2m-2,-5h2m2,0h2m2,3h2m0,-1h2m-2,1h2m-2,0h2m0,-1h2m-1,4h2m1,0h2m1,0h2m4,0h2m-2,-5h2m0,3h2m-1,-3h2m0,0h2m0,0h2m-1,3h2m8,-2h2m0,2h2m-1,-2h2m0,0h2m3,3h2m0,-4h2m-1,0h2m3,3h2m1,-2h2m0,3h2m-2,-2h2m-1,-1h2m-1,1h2m-1,1h2m-2,-2h2m1,3h2m0,-2h2m0,3h2m2,-3h2m-2,-3h2m-1,2h2m2,2h2m-1,0h2m-1,1h2m-2,-3h2m0,-1h2m-1,2h2m-2,-1h2m0,1h2m-1,1h2m2,-3h2m-1,3h2m0,1h2m-1,-3h2m1,2h2m-1,0h2m2,-4h2m-1,4h2m-1,0h2m4,2h2m-2,-1h2m5,-4h2m-1,2h2m-2,2h2m1,0h2m-2,-2h2m-1,0h2m-2,-2h2m3,5h2m-2,-4h2m0,3h2m-1,1h2m-2,-3h2m2,0h2m0,1h2m-1,1h2m-2,-3h2m-1,1h2m2,-2h2m-1,5h2m-2,-3h2m4,0h2m6,3h2m3,-4h2m-1,3h2m0,-2h2m2,-2h2m2,5h2m1,-3h2m36,3h2m16,-4h2m-2,2h2m15,-2h2m5,1h2m1,-1h2m-1,1h2m4,3h2m1,-2h2m-1,-3h2m3,5h2m5,-4h2m-2,3h2m1,1h2m2,-1h2m-1,-3h2m3,-1h2m2,2h2m0,2h2m-2,-5h2m-1,5h2m1,-4h2m0,2h2m-1,-1h2m-1,0h2m-1,3h2m1,-1h2m1,2h2m-1,-2h2m0,-3h2m1,-1h2m-1,4h2m0,-1h2m0,2h2m1,0h2m9,0h2m3,1h2m1,-4h2m1,2h2m-2,0h2m-1,-2h2m4,4h2m1,0h2m0,-4h2m-1,1h2m4,-2h2m3,3h2m3,0h2m0,-2h2m-2,0h2m-1,-1h2m-1,1h2m-2,3h2m0,-3h2m-2,1h2m0,-2h2m2,0h2m-2,0h2m-1,0h2m2,2h2m-1,3h2m7,-2h2m1,1h2m2,-4h2m-2,0h2m0,2h2m-1,-2h2m8,2h2m0,-2h2m0,2h2m-1,0h2m-1,3h2m-1,-3h2m-653,6h2m1,-1h2m-2,3h2m3,-3h2m0,0h2m2,3h2m-1,0h2m-1,-4h2m1,2h2m-1,0h2m-2,-1h2m1,1h2m0,-1h2m0,1h2m1,0h2m-2,3h2m-1,-2h2m2,0h2m-1,-2h2m-1,0h2m-1,2h2m-2,-3h2m4,3h2m-1,-4h2m1,5h2m-2,1h2m-2,-3h2m0,3h2m-2,-2h2m-2,-2h2m-1,3h2m3,-4h2m0,2h2m8,-1h2m-2,0h2m0,-2h2m-2,4h2m0,-2h2m-1,1h2m-1,-1h2m2,0h2m-1,3h2m0,-1h2m1,-2h2m0,3h2m-2,-1h2m-2,-2h2m-2,-1h2m0,0h2m1,3h2m-1,0h2m-1,-3h2m-1,3h2m-2,1h2m-1,-2h2m-1,-2h2m-2,0h2m-1,4h2m-1,-2h2m1,2h2m0,-3h2m1,1h2m-1,2h2m5,1h2m-1,-5h2m-2,-1h2m-2,6h2m-1,-5h2m3,2h2m-1,2h2m-1,-2h2m-1,0h2m-2,-2h2m-1,2h2m0,0h2m-2,-1h2m0,1h2m1,-2h2m2,0h2m1,4h2m-2,0h2m0,1h2m-2,-5h2m0,5h2m2,-3h2m-1,-2h2m-1,2h2m-1,1h2m4,-3h2m-1,1h2m-2,3h2m0,0h2m-2,0h2m0,-3h2m-1,2h2m-2,2h2m-1,-2h2m-2,-3h2m1,-1h2m-1,3h2m-1,2h2m0,0h2m-2,0h2m0,-2h2m-2,0h2m-1,0h2m-1,1h2m-2,-3h2m-1,2h2m-2,-2h2m-1,4h2m-1,-4h2m2,2h2m-2,3h2m-1,-5h2m-1,-1h2m3,0h2m2,0h2m-2,6h2m-1,-1h2m1,-5h2m-2,0h2m-2,2h2m-2,1h2m3,-2h2m-1,5h2m-2,-2h2m-1,1h2m-1,-3h2m0,2h2m0,1h2m6,-3h2m-1,0h2m-1,4h2m-1,-5h2m-2,0h2m-1,4h2m-1,-2h2m-2,-3h2m0,2h2m0,3h2m-2,-3h2m-2,0h2m-1,4h2m2,-5h2m-2,4h2m-2,1h2m0,-2h2m1,-4h2m2,1h2m2,3h2m-1,2h2m-2,-3h2m-1,-1h2m-2,2h2m-1,-2h2m0,0h2m2,0h2m-1,0h2m-1,-1h2m-2,4h2m-2,0h2m-1,0h2m-2,-3h2m-1,-1h2m-1,1h2m1,0h2m-1,1h2m-2,-2h2m3,0h2m7,2h2m-1,3h2m-2,-6h2m1,4h2m-1,1h2m0,-4h2m-1,4h2m-1,1h2m-1,-1h2m0,-2h2m1,0h2m-2,0h2m0,2h2m4,0h2m-1,-1h2m-2,-3h2m-2,4h2m0,-1h2m-1,2h2m-1,-2h2m0,0h2m-1,0h2m-1,0h2m-2,-2h2m1,3h2m-2,-3h2m2,0h2m-1,1h2m0,2h2m2,1h2m-1,-3h2m-1,2h2m-1,-2h2m-2,0h2m-2,-1h2m4,-2h2m-1,3h2m-2,1h2m6,-3h2m-2,1h2m0,-1h2m-1,2h2m-2,3h2m-1,-6h2m-2,5h2m0,-5h2m-2,6h2m-1,-3h2m-1,1h2m0,-1h2m-1,1h2m-2,2h2m-1,-2h2m0,-2h2m2,1h2m-2,-2h2m2,4h2m-1,-2h2m0,0h2m-2,3h2m2,-6h2m1,2h2m-1,3h2m-2,-4h2m2,4h2m3,-2h2m-1,0h2m-2,3h2m-1,-4h2m-1,-1h2m-1,0h2m48,1h2m22,1h2m9,2h2m3,-2h2m-1,0h2m3,3h2m-1,-1h2m9,-3h2m1,4h2m0,-5h2m3,4h2m1,-1h2m-1,-3h2m2,4h2m4,-4h2m-1,-1h2m4,2h2m0,1h2m-1,0h2m-1,0h2m-1,-3h2m6,2h2m0,3h2m0,-5h2m-1,4h2m-1,-1h2m-1,-2h2m-2,0h2m8,2h2m3,2h2m-1,-5h2m-2,0h2m-2,1h2m-2,0h2m0,0h2m-1,3h2m-2,-3h2m1,1h2m-2,-1h2m0,5h2m-1,-5h2m-1,2h2m-1,-3h2m-1,4h2m0,0h2m-1,-2h2m-1,0h2m-1,1h2m-1,-1h2m-2,0h2m0,4h2m-1,-4h2m-1,-1h2m1,0h2m-1,2h2m2,2h2m-2,-3h2m-1,0h2m3,4h2m-2,-3h2m-1,-1h2m-2,-2h2m0,6h2m3,-6h2m1,3h2m0,0h2m-1,-1h2m0,0h2m-1,0h2m-1,4h2m0,-2h2m-1,2h2m2,-3h2m0,1h2m1,-1h2m0,2h2m-1,0h2m1,0h2m11,-1h2m3,0h2m-2,-2h2m0,-1h2m-649,7h2m-1,3h2m2,-5h2m2,4h2m-1,1h2m-1,-3h2m2,3h2m-1,-1h2m-2,-2h2m1,0h2m-1,-1h2m0,1h2m2,3h2m5,-5h2m0,2h2m6,-1h2m1,3h2m3,0h2m-1,-3h2m1,2h2m-2,0h2m0,-2h2m-2,0h2m-1,0h2m-1,1h2m-2,2h2m0,-1h2m3,-1h2m-1,1h2m2,1h2m-1,0h2m2,1h2m-2,-4h2m-1,4h2m-2,1h2m1,-1h2m-1,-2h2m-1,-2h2m2,0h2m-1,1h2m-1,1h2m7,-2h2m0,0h2m-1,3h2m-1,1h2m0,0h2m-2,-4h2m-2,-1h2m-1,6h2m1,0h2m-2,-2h2m0,2h2m-2,-1h2m-2,-3h2m-1,-2h2m0,2h2m10,-2h2m0,0h2m-1,5h2m-1,-4h2m0,0h2m-2,1h2m-2,-2h2m-1,5h2m-1,1h2m-1,-5h2m-2,-1h2m0,1h2m-1,1h2m1,4h2m1,0h2m-1,-2h2m0,0h2m6,-4h2m-1,4h2m3,0h2m2,-4h2m2,6h2m-1,-4h2m4,-1h2m-2,2h2m-1,1h2m-2,-3h2m1,0h2m1,1h2m-1,-1h2m-1,0h2m0,3h2m-1,-2h2m-1,-2h2m0,4h2m0,-1h2m1,2h2m-2,-3h2m-2,-1h2m-1,3h2m-2,-3h2m-1,2h2m1,-2h2m0,1h2m0,1h2m-1,3h2m-1,-3h2m-2,2h2m1,-5h2m4,3h2m-2,0h2m1,-2h2m-1,5h2m-2,-6h2m-2,5h2m2,-2h2m-1,3h2m-1,-3h2m0,-2h2m0,2h2m2,-2h2m3,1h2m-1,-1h2m0,4h2m-2,-2h2m-1,2h2m0,0h2m0,-4h2m1,-1h2m-1,1h2m0,-1h2m-1,1h2m0,5h2m-2,0h2m-1,-5h2m3,4h2m-1,-4h2m-2,2h2m-1,-2h2m-1,3h2m0,-3h2m-1,0h2m-1,-1h2m-1,5h2m-1,-1h2m-1,-3h2m-1,4h2m-2,-3h2m1,3h2m-1,-3h2m-1,3h2m-2,-4h2m0,1h2m-2,1h2m-1,-3h2m-1,2h2m5,-1h2m1,-1h2m-2,2h2m-1,-1h2m3,0h2m1,-1h2m-2,2h2m0,-1h2m-2,2h2m0,-3h2m-1,4h2m0,2h2m-1,-1h2m-1,-2h2m-2,-1h2m5,0h2m2,0h2m0,0h2m-1,2h2m-1,0h2m0,-1h2m-2,-3h2m-1,1h2m-1,0h2m-1,-1h2m-1,4h2m-1,2h2m-1,-5h2m0,2h2m1,-2h2m-1,4h2m-2,-1h2m1,-3h2m-2,0h2m2,5h2m1,-6h2m-2,0h2m-1,3h2m0,-1h2m1,2h2m-1,1h2m0,-3h2m-1,3h2m-2,-4h2m-1,0h2m-1,5h2m-1,-1h2m-2,-3h2m0,4h2m-1,-1h2m0,-2h2m-1,-1h2m0,3h2m1,-1h2m5,2h2m-1,-6h2m0,2h2m0,3h2m38,1h2m3,0h2m0,-5h2m-1,4h2m6,0h2m-1,-3h2m3,1h2m5,1h2m0,-2h2m5,1h2m3,-2h2m-1,2h2m1,3h2m-1,-1h2m1,-1h2m-1,-2h2m1,4h2m6,-3h2m0,2h2m-1,0h2m-1,-5h2m0,1h2m-1,4h2m-1,-1h2m5,-4h2m4,0h2m-1,2h2m3,2h2m-1,-1h2m1,0h2m0,0h2m-1,0h2m16,0h2m1,2h2m4,1h2m-2,0h2m2,-5h2m1,2h2m-2,1h2m0,-1h2m-1,2h2m0,-1h2m2,-4h2m0,5h2m2,-2h2m1,3h2m-2,-4h2m-1,3h2m-2,-5h2m-1,6h2m7,-1h2m-1,-4h2m5,2h2m7,1h2m-1,-3h2m-1,5h2m-1,-1h2m-1,-1h2m3,1h2m-1,-1h2m2,-1h2m1,-1h2m3,2h2m1,-1h2m-1,-1h2m4,1h2m-1,-1h2m-1,0h2m3,2h2m-641,5h2m0,-2h2m2,3h2m-1,-2h2m0,-2h2m5,0h2m-1,2h2m0,0h2m1,3h2m6,-2h2m4,-1h2m0,2h2m1,0h2m-2,1h2m0,0h2m0,-5h2m-2,3h2m1,-3h2m2,4h2m-1,-3h2m2,2h2m1,-2h2m0,1h2m0,4h2m-1,-2h2m-2,-2h2m2,3h2m0,-1h2m0,1h2m3,-3h2m-2,-2h2m-1,5h2m-2,-4h2m-2,-1h2m-2,6h2m-1,-1h2m0,-4h2m-2,3h2m-1,2h2m0,-3h2m-2,-2h2m4,1h2m-1,0h2m0,1h2m-1,1h2m-1,1h2m-2,-3h2m-2,4h2m0,-5h2m-1,0h2m-1,4h2m-2,-3h2m-2,0h2m1,2h2m-2,-2h2m-1,3h2m0,-4h2m1,4h2m1,-4h2m3,2h2m-1,-3h2m-1,5h2m-1,-1h2m-1,-1h2m-1,-1h2m-1,3h2m-2,1h2m-1,-4h2m-2,2h2m3,-1h2m-1,2h2m0,0h2m-1,-2h2m-2,-2h2m1,3h2m-1,-3h2m-1,0h2m-1,2h2m0,3h2m-2,-3h2m0,-3h2m0,5h2m0,1h2m-2,-2h2m-1,1h2m-1,-4h2m-2,4h2m2,-1h2m-2,-3h2m0,0h2m0,2h2m1,1h2m3,-2h2m-1,1h2m-1,1h2m1,-2h2m2,0h2m4,2h2m0,2h2m2,-4h2m-2,1h2m-1,-1h2m5,-1h2m-1,1h2m-1,2h2m-1,-3h2m-1,5h2m-1,-3h2m-2,0h2m-2,0h2m1,-2h2m2,1h2m-1,2h2m-1,-2h2m-1,4h2m-2,-1h2m-2,-2h2m-1,2h2m-2,-1h2m1,-3h2m-2,2h2m-1,-2h2m1,-1h2m-2,2h2m-1,-1h2m0,3h2m-2,-2h2m1,1h2m0,-2h2m2,0h2m1,1h2m-2,2h2m-1,-3h2m-1,3h2m-2,-3h2m-2,2h2m-1,2h2m-2,-2h2m1,1h2m-1,0h2m-1,1h2m0,-2h2m-2,2h2m-2,0h2m-1,0h2m-1,-1h2m2,-3h2m-1,3h2m-2,0h2m0,-3h2m0,3h2m4,-4h2m-1,5h2m1,-1h2m-2,1h2m-2,1h2m-2,-1h2m1,1h2m3,-3h2m0,-1h2m-2,-1h2m-2,2h2m0,1h2m1,0h2m-2,-4h2m3,3h2m2,2h2m-1,-1h2m-1,0h2m-1,-1h2m-1,-2h2m-2,1h2m2,0h2m-2,0h2m-2,0h2m0,0h2m-1,-1h2m0,5h2m13,-4h2m0,-2h2m0,1h2m-1,1h2m3,0h2m-1,-1h2m-1,0h2m0,1h2m0,1h2m1,-1h2m-2,4h2m-2,-5h2m-1,2h2m0,-1h2m-1,-2h2m-1,3h2m-2,3h2m-2,-5h2m0,0h2m3,3h2m-2,-2h2m2,0h2m-1,1h2m-2,0h2m3,-3h2m-1,4h2m1,-2h2m0,-1h2m-2,5h2m-1,-1h2m2,-2h2m-1,-1h2m0,-1h2m-1,0h2m-1,-1h2m-1,6h2m-1,-1h2m3,1h2m35,-4h2m9,3h2m-1,-1h2m0,0h2m-1,0h2m1,2h2m3,-5h2m2,-1h2m2,2h2m-2,2h2m8,-4h2m5,4h2m-2,1h2m-1,-3h2m0,2h2m0,-3h2m2,0h2m-1,3h2m2,-1h2m-1,2h2m0,0h2m-2,1h2m-1,-3h2m3,-2h2m4,1h2m1,-1h2m1,0h2m0,4h2m-1,-1h2m10,1h2m-1,-1h2m2,-2h2m2,1h2m1,-3h2m0,5h2m-2,0h2m0,-1h2m-2,0h2m1,-2h2m-2,0h2m2,3h2m-2,-3h2m-1,2h2m7,1h2m1,-1h2m-1,-1h2m-1,0h2m2,0h2m5,-2h2m-1,1h2m1,0h2m1,3h2m3,0h2m-1,-2h2m1,3h2m-2,0h2m1,-4h2m1,2h2m-2,-3h2m-2,3h2m2,-4h2m-2,5h2m1,-5h2m0,5h2m-1,-3h2m-1,1h2m3,2h2m4,0h2m-1,-2h2m-2,1h2m1,0h2m5,1h2m-1,-4h2m-2,3h2m-2,-2h2m2,3h2m0,1h2m-2,-1h2m-1,-3h2m0,2h2m-1,0h2m0,0h2m0,-1h2m4,2h2m1,0h2m-1,0h2m-1,-2h2m-642,6h2m5,1h2m-2,-1h2m-1,-1h2m-1,-1h2m-2,3h2m-1,1h2m-1,-5h2m-1,3h2m-1,-3h2m0,4h2m0,-1h2m-2,-2h2m-1,2h2m-2,3h2m0,-4h2m-1,1h2m-2,3h2m2,-4h2m4,0h2m-2,0h2m1,0h2m0,4h2m-1,-5h2m2,4h2m-1,-4h2m-2,5h2m0,-2h2m3,-3h2m1,4h2m-2,-2h2m0,0h2m3,-1h2m4,0h2m2,0h2m-1,0h2m-1,2h2m0,-3h2m-2,5h2m0,-4h2m-1,1h2m-1,2h2m1,0h2m-2,-4h2m-1,5h2m4,-4h2m-2,0h2m-1,-2h2m-1,0h2m-1,5h2m0,0h2m-1,-3h2m-2,-1h2m-2,3h2m0,-2h2m-2,3h2m-1,1h2m-2,-2h2m-1,-1h2m0,-2h2m-1,1h2m0,1h2m-2,-2h2m-2,0h2m-1,4h2m-1,0h2m10,0h2m-1,-1h2m-2,-1h2m-1,1h2m0,-1h2m0,0h2m2,2h2m-2,-1h2m-2,0h2m0,1h2m-2,-1h2m-1,-3h2m1,3h2m-1,-1h2m1,0h2m-1,-1h2m-2,2h2m-1,0h2m-1,-3h2m6,0h2m1,3h2m0,1h2m-1,-4h2m-1,5h2m0,-3h2m0,-1h2m-1,0h2m-2,1h2m4,-3h2m3,1h2m1,3h2m-2,0h2m3,1h2m-2,-2h2m-2,-3h2m2,5h2m-1,-4h2m3,-1h2m-1,6h2m0,0h2m-1,-1h2m0,-2h2m0,-2h2m-1,4h2m-1,-4h2m-1,-1h2m-2,3h2m0,2h2m-2,-3h2m-2,1h2m1,0h2m-2,-1h2m1,-1h2m-1,1h2m-1,1h2m0,-3h2m-1,5h2m0,0h2m0,-2h2m0,-1h2m1,-1h2m-1,3h2m3,1h2m-2,-4h2m-1,1h2m-2,1h2m-2,-2h2m-1,-1h2m0,2h2m-1,4h2m-2,-1h2m-1,-3h2m-1,0h2m0,-1h2m1,2h2m0,1h2m-1,-2h2m-1,-1h2m-2,2h2m-1,-2h2m-2,1h2m0,0h2m-2,4h2m0,-1h2m-2,-1h2m3,0h2m-1,-2h2m3,2h2m1,-2h2m1,1h2m-2,2h2m-2,-2h2m1,2h2m0,-4h2m1,0h2m-1,1h2m-2,0h2m-1,3h2m-1,-4h2m-2,3h2m-2,-3h2m0,2h2m-1,-2h2m-1,3h2m-1,-3h2m-2,2h2m3,2h2m1,-4h2m-2,3h2m-2,1h2m-1,-1h2m1,-4h2m2,0h2m-1,3h2m-1,0h2m0,-3h2m0,6h2m-2,-5h2m9,3h2m-2,-1h2m-2,2h2m-2,0h2m-1,0h2m-1,-2h2m-1,0h2m4,2h2m-1,-1h2m1,1h2m-1,-5h2m-1,3h2m-1,-2h2m-1,4h2m-1,0h2m0,1h2m-2,-2h2m-2,-1h2m1,2h2m-2,-3h2m-2,1h2m0,3h2m-1,-2h2m-2,-3h2m-2,2h2m-1,-1h2m0,1h2m-2,-1h2m-2,0h2m3,1h2m-2,3h2m0,-6h2m-2,5h2m1,-1h2m-1,1h2m-2,-4h2m3,2h2m-1,3h2m-1,-2h2m-1,2h2m-1,-3h2m0,0h2m2,-1h2m0,-1h2m-2,2h2m0,2h2m4,1h2m25,0h2m0,-2h2m9,1h2m5,0h2m5,0h2m4,-3h2m5,0h2m-2,3h2m3,-3h2m-1,1h2m-1,1h2m3,-1h2m-2,-1h2m14,0h2m-1,0h2m5,2h2m0,-2h2m4,-2h2m12,1h2m-1,4h2m-1,-5h2m5,3h2m-1,-1h2m2,0h2m12,-1h2m7,1h2m0,4h2m-2,-1h2m4,-4h2m-1,2h2m0,1h2m4,1h2m8,-3h2m9,2h2m4,0h2m2,-3h2m-2,0h2m0,0h2m1,5h2m-2,-3h2m-2,0h2m-1,-1h2m5,4h2m2,-1h2m1,-2h2m-1,0h2m-2,-2h2m0,1h2m4,2h2m0,0h2m-2,-2h2m8,1h2m7,-2h2m-1,-1h2m-636,7h2m-1,5h2m5,-4h2m3,-1h2m3,4h2m-1,0h2m-2,-1h2m3,1h2m2,-5h2m0,1h2m-1,3h2m2,0h2m-1,-3h2m-1,4h2m1,-3h2m3,0h2m-1,0h2m0,-1h2m-1,3h2m2,1h2m-2,-5h2m-2,6h2m0,-4h2m1,4h2m-1,-6h2m-1,2h2m-1,3h2m-2,-4h2m-2,2h2m0,3h2m3,-5h2m2,-1h2m-2,1h2m0,1h2m-1,3h2m3,1h2m-1,-4h2m-1,2h2m1,0h2m4,0h2m2,1h2m-2,-2h2m0,1h2m-1,-1h2m-2,2h2m1,-2h2m0,1h2m1,-1h2m-2,0h2m1,2h2m-1,-3h2m-2,4h2m0,-4h2m-2,0h2m-2,-1h2m-1,3h2m-1,-3h2m0,2h2m0,0h2m-1,-1h2m-1,4h2m0,-1h2m0,-4h2m-2,2h2m2,-2h2m-2,-1h2m4,1h2m-2,0h2m0,0h2m-2,1h2m-1,3h2m-2,0h2m0,0h2m0,-4h2m-2,1h2m2,4h2m-2,-2h2m-1,1h2m-1,-2h2m0,-2h2m-2,0h2m-1,1h2m-1,2h2m0,-3h2m-2,3h2m-2,-3h2m4,1h2m0,1h2m-2,3h2m-1,-2h2m0,-4h2m0,2h2m0,-1h2m0,3h2m1,1h2m0,-2h2m0,-1h2m-1,2h2m1,-4h2m-1,0h2m1,2h2m-1,0h2m-1,-2h2m1,2h2m-2,0h2m-1,-2h2m-1,6h2m0,-2h2m-2,-2h2m6,-1h2m6,-1h2m-2,0h2m1,6h2m2,-5h2m-2,2h2m-1,2h2m-2,-5h2m-2,1h2m2,2h2m-2,3h2m2,-2h2m1,-4h2m0,3h2m0,1h2m3,1h2m-1,0h2m-2,-1h2m-1,-1h2m-2,3h2m1,-2h2m0,-2h2m-1,3h2m-1,-2h2m0,0h2m-2,2h2m-1,-1h2m3,-1h2m-1,0h2m1,-3h2m0,3h2m-2,-3h2m1,3h2m1,2h2m-1,-4h2m-1,0h2m-1,2h2m0,0h2m-2,-2h2m-2,-1h2m2,0h2m-2,1h2m-1,3h2m-1,-1h2m-2,-2h2m4,0h2m-2,4h2m0,-5h2m0,1h2m2,0h2m0,2h2m-1,1h2m-1,2h2m-2,-6h2m-2,2h2m1,-1h2m0,2h2m-1,3h2m-1,-1h2m-2,0h2m-1,0h2m0,1h2m-2,-2h2m1,1h2m-2,-1h2m-1,-2h2m1,-1h2m0,4h2m-1,-2h2m-1,-1h2m-1,3h2m-1,-2h2m-2,-3h2m-2,3h2m0,0h2m1,3h2m-2,-3h2m-1,-2h2m2,0h2m-1,0h2m4,4h2m-1,-3h2m-2,0h2m2,2h2m3,1h2m-1,-2h2m-1,-2h2m-1,0h2m-1,5h2m-1,-6h2m0,4h2m-1,-1h2m0,1h2m-1,-1h2m1,-1h2m4,4h2m-1,-4h2m-2,1h2m4,-2h2m1,4h2m14,0h2m3,0h2m7,0h2m5,-4h2m-1,0h2m12,0h2m3,4h2m0,-3h2m2,2h2m2,-2h2m-1,-1h2m-2,3h2m-1,-1h2m8,1h2m1,0h2m5,-4h2m4,2h2m3,2h2m8,-2h2m2,4h2m-1,-4h2m0,1h2m2,-3h2m3,0h2m9,4h2m4,-3h2m20,3h2m8,-1h2m2,-1h2m2,-1h2m3,3h2m0,-1h2m3,-3h2m2,1h2m-2,1h2m6,-2h2m-2,2h2m0,1h2m1,3h2m-1,-2h2m-1,0h2m3,-2h2m-1,3h2m7,-1h2m-2,-2h2m4,0h2m1,2h2m0,-3h2m17,2h2m-639,5h2m-2,0h2m-1,2h2m0,0h2m0,0h2m0,-4h2m5,5h2m-1,-4h2m1,0h2m2,1h2m7,4h2m-1,-2h2m-1,-4h2m2,6h2m-1,-4h2m-2,2h2m1,0h2m-1,-3h2m-2,1h2m-1,0h2m0,2h2m-1,-1h2m0,1h2m1,-2h2m-1,3h2m-2,-3h2m-2,2h2m-1,-4h2m3,5h2m0,-5h2m-2,5h2m2,-1h2m-1,-1h2m-1,-2h2m-1,3h2m-2,-1h2m2,2h2m-1,-1h2m0,-2h2m0,-2h2m-1,4h2m0,-1h2m0,-2h2m-2,1h2m0,-2h2m2,6h2m0,-3h2m-1,2h2m0,-2h2m-2,-2h2m-1,5h2m1,-4h2m-1,4h2m0,-3h2m-1,2h2m-1,0h2m0,-1h2m0,-3h2m-2,3h2m-2,2h2m0,-1h2m-2,1h2m-1,-1h2m0,-1h2m-2,0h2m0,-3h2m0,0h2m-2,1h2m3,-1h2m-2,2h2m0,0h2m-1,-1h2m-1,0h2m-2,-2h2m-1,5h2m0,0h2m-1,-2h2m-2,-2h2m4,2h2m-1,-3h2m-2,1h2m1,4h2m-1,1h2m-1,-5h2m-1,1h2m-1,-1h2m3,-1h2m-1,3h2m-1,0h2m1,1h2m-2,-1h2m-2,0h2m3,1h2m0,2h2m0,-3h2m-1,3h2m0,-5h2m-2,4h2m-1,-5h2m1,4h2m0,2h2m-1,-2h2m0,0h2m0,0h2m1,2h2m-1,-2h2m-2,0h2m0,1h2m-1,-4h2m1,2h2m0,-2h2m-1,3h2m-1,-2h2m-2,-2h2m-1,1h2m-2,4h2m0,-2h2m0,2h2m0,-2h2m1,-2h2m-2,1h2m-2,0h2m0,1h2m0,2h2m-2,-3h2m0,4h2m-2,-1h2m1,-1h2m-2,-1h2m-2,1h2m1,-3h2m-2,4h2m-1,-3h2m-1,-2h2m-1,4h2m2,1h2m-2,-2h2m0,3h2m-1,-4h2m-2,4h2m1,-2h2m1,-1h2m1,-1h2m2,0h2m-1,-1h2m-1,0h2m0,-1h2m-1,5h2m-1,-5h2m0,6h2m-2,-5h2m2,0h2m-1,4h2m0,0h2m-1,-3h2m6,3h2m-1,-1h2m-1,1h2m-2,-2h2m-1,-1h2m-1,0h2m0,1h2m-1,1h2m0,0h2m-2,2h2m-1,0h2m-1,-2h2m3,-2h2m2,2h2m6,2h2m2,-5h2m-2,1h2m-1,3h2m2,1h2m1,-3h2m-2,1h2m-1,-4h2m-1,0h2m-1,4h2m-2,2h2m-1,-3h2m2,3h2m-1,-3h2m-1,2h2m-2,-3h2m-1,3h2m4,0h2m-2,-4h2m0,4h2m-1,-4h2m0,4h2m0,-4h2m0,1h2m0,-2h2m12,3h2m-2,-2h2m1,2h2m0,2h2m-1,-3h2m-1,2h2m-1,1h2m5,-2h2m1,0h2m6,1h2m1,-3h2m-2,0h2m-2,1h2m32,0h2m14,-1h2m13,1h2m1,3h2m2,-2h2m6,-3h2m4,0h2m7,2h2m1,-2h2m2,4h2m8,-2h2m-2,2h2m-1,1h2m-1,-2h2m5,-1h2m8,2h2m15,-4h2m11,4h2m3,-3h2m1,0h2m6,3h2m11,0h2m-1,0h2m5,-3h2m-1,3h2m3,-3h2m7,1h2m3,1h2m-2,0h2m1,1h2m-1,-2h2m0,2h2m0,-3h2m-2,3h2m-1,-1h2m-1,-2h2m1,1h2m-2,-1h2m3,3h2m-1,-1h2m5,2h2m4,1h2m0,-4h2m-1,0h2m-2,0h2m-1,1h2m107,2h2m-739,5h2m-1,0h2m6,-2h2m5,-1h2m3,1h2m-2,1h2m0,0h2m1,-2h2m-1,4h2m-1,-2h2m-1,-1h2m-1,4h2m2,-5h2m2,2h2m-2,0h2m-2,1h2m0,-1h2m-2,-3h2m-2,4h2m0,2h2m-1,-4h2m-2,0h2m1,4h2m-1,-5h2m2,-1h2m1,1h2m-1,1h2m6,-2h2m5,1h2m-1,4h2m1,-3h2m0,3h2m-2,-1h2m-2,-1h2m1,1h2m-2,-1h2m-1,2h2m-2,-4h2m5,1h2m-2,4h2m1,-6h2m0,3h2m-1,3h2m-2,-6h2m-2,1h2m-1,3h2m-1,-2h2m0,2h2m-2,-2h2m-2,1h2m-2,-3h2m1,5h2m2,-2h2m0,3h2m-2,-2h2m2,-1h2m-1,1h2m-1,-2h2m-2,-2h2m0,2h2m-2,0h2m-1,1h2m0,1h2m-1,-4h2m-2,1h2m-1,0h2m-1,2h2m1,2h2m-2,-4h2m1,1h2m-1,-1h2m-1,5h2m-1,-5h2m-1,3h2m1,-4h2m-2,3h2m-2,0h2m-1,2h2m-2,-1h2m-1,-1h2m0,-1h2m-1,0h2m-2,2h2m1,2h2m1,-5h2m-1,0h2m1,2h2m-1,-3h2m-2,3h2m-1,0h2m-2,-1h2m0,2h2m0,-1h2m0,1h2m-1,0h2m-2,1h2m-2,-1h2m-1,0h2m-1,-1h2m3,-2h2m1,3h2m2,0h2m0,-1h2m1,-1h2m0,3h2m2,0h2m1,-4h2m0,4h2m-2,0h2m-1,-1h2m-2,-1h2m0,1h2m0,0h2m3,-1h2m2,-3h2m1,6h2m-2,-3h2m0,-1h2m-2,3h2m-1,-4h2m0,1h2m3,2h2m-1,-2h2m-1,1h2m-1,3h2m7,-4h2m-2,2h2m0,-2h2m6,-1h2m-2,3h2m-1,1h2m2,-4h2m-1,2h2m0,2h2m-2,-3h2m-2,3h2m-1,-5h2m5,5h2m-2,0h2m-1,0h2m-2,-2h2m-1,1h2m-1,0h2m-2,-3h2m1,0h2m6,3h2m1,0h2m-2,1h2m-1,0h2m-2,-1h2m1,-3h2m-1,-1h2m-2,5h2m0,-4h2m-2,0h2m2,4h2m0,-1h2m-1,-3h2m-1,1h2m0,0h2m-1,3h2m1,0h2m-1,0h2m-1,1h2m0,-5h2m-1,1h2m0,3h2m-1,0h2m-2,-2h2m-2,-2h2m-1,3h2m0,1h2m0,0h2m-2,1h2m-1,-3h2m0,-1h2m2,3h2m-1,-1h2m2,-1h2m-1,-3h2m0,0h2m-2,1h2m1,0h2m-1,5h2m0,-2h2m1,0h2m-2,1h2m0,-3h2m-1,0h2m-1,3h2m0,-4h2m0,2h2m1,-1h2m-1,2h2m1,0h2m-1,-1h2m3,0h2m-1,1h2m-1,-1h2m-1,1h2m-2,0h2m0,0h2m-1,-3h2m5,5h2m1,-6h2m3,4h2m0,-2h2m-1,2h2m-1,-2h2m5,3h2m0,0h2m47,-2h2m43,-1h2m-1,2h2m-1,-4h2m73,2h2m19,-2h2m9,1h2m0,-1h2m0,5h2m-2,-4h2m7,4h2m-2,-2h2m0,-1h2m3,2h2m4,-3h2m4,3h2m-1,-4h2m1,1h2m-2,1h2m4,1h2m4,-3h2m89,4h2m1,-4h2m-1,2h2m-723,10h2m0,-1h2m-1,-3h2m-2,3h2m6,1h2m10,-5h2m-2,-1h2m-1,1h2m0,4h2m-2,-2h2m-2,3h2m-1,-3h2m0,0h2m0,0h2m1,3h2m-2,0h2m-1,-4h2m-2,4h2m-2,-1h2m0,-3h2m-1,1h2m-1,1h2m-1,0h2m-2,2h2m2,-4h2m-1,1h2m-2,2h2m-1,-4h2m-1,4h2m1,-1h2m-1,2h2m0,-2h2m-1,0h2m-2,-4h2m-1,3h2m-2,1h2m-1,2h2m2,-6h2m-1,3h2m-2,-1h2m-1,0h2m-1,-1h2m0,2h2m0,2h2m-1,-1h2m-1,-2h2m0,3h2m-1,-1h2m3,-1h2m2,-3h2m-1,5h2m-1,-1h2m-2,-1h2m-1,-3h2m-2,5h2m2,0h2m1,-1h2m-2,-3h2m-1,0h2m-2,-1h2m-1,2h2m0,-1h2m0,5h2m-2,-3h2m-1,1h2m-2,-1h2m0,1h2m0,-3h2m-2,0h2m-2,2h2m-1,1h2m0,-2h2m2,0h2m-1,-1h2m-2,3h2m-2,-4h2m-1,2h2m-2,1h2m0,1h2m0,-2h2m-1,0h2m0,-1h2m-1,4h2m0,-4h2m2,0h2m3,1h2m-1,-2h2m-1,1h2m0,4h2m0,-3h2m-2,1h2m-1,1h2m2,-3h2m1,4h2m-1,-4h2m1,3h2m0,2h2m-2,-3h2m-1,-2h2m-2,1h2m0,-1h2m-2,0h2m-2,1h2m-1,0h2m-2,0h2m0,2h2m1,-1h2m-1,-2h2m-1,4h2m-2,-4h2m-2,2h2m-1,0h2m-2,0h2m-2,3h2m-1,-5h2m2,3h2m0,1h2m-1,0h2m1,-4h2m-1,1h2m-1,-2h2m-2,3h2m-1,1h2m1,-3h2m-2,4h2m0,-3h2m0,0h2m-1,1h2m-2,0h2m0,1h2m0,-2h2m0,0h2m0,0h2m1,1h2m-1,1h2m-1,-3h2m-1,5h2m-2,-1h2m1,0h2m-2,-4h2m-1,4h2m-1,-4h2m-1,4h2m-2,-4h2m-2,1h2m-1,4h2m-1,-3h2m3,-1h2m-1,2h2m-1,1h2m3,-1h2m0,1h2m0,-1h2m-2,0h2m7,-2h2m-2,-2h2m1,2h2m-1,2h2m0,-1h2m-1,-3h2m0,4h2m-2,2h2m-2,-1h2m-1,-2h2m-2,1h2m0,2h2m-1,-1h2m1,0h2m0,-1h2m-1,-3h2m-1,1h2m-1,1h2m-2,2h2m-2,0h2m-2,-4h2m0,3h2m-2,0h2m0,1h2m-1,-3h2m-2,-1h2m0,2h2m1,2h2m-2,1h2m-1,-4h2m-2,4h2m0,-3h2m-1,1h2m-2,-3h2m0,3h2m-1,1h2m1,1h2m-1,-5h2m-2,2h2m4,1h2m2,-2h2m-1,-2h2m1,3h2m-2,3h2m-1,-4h2m0,3h2m-1,-1h2m-1,-3h2m-2,5h2m0,-2h2m-2,1h2m0,-1h2m-1,1h2m0,0h2m-2,-1h2m-1,-3h2m-1,4h2m-2,-2h2m-1,2h2m-1,-3h2m0,1h2m-1,0h2m-1,1h2m0,-2h2m1,1h2m-1,1h2m0,-2h2m-2,3h2m4,-5h2m0,5h2m-1,1h2m-1,-1h2m0,-2h2m1,-1h2m-2,1h2m-1,1h2m-1,2h2m0,-6h2m1,0h2m-1,6h2m0,-2h2m-2,1h2m0,-4h2m0,0h2m10,-1h2m-1,1h2m3,2h2m1,0h2m63,-2h2m41,2h2m97,0h2m2,-1h2m15,4h2m10,-4h2m-2,3h2m3,1h2m16,-4h2m3,3h2m85,-3h2m10,0h2m-1,-1h2m-1,2h2m-737,3h2m1,2h2m0,3h2m-2,-1h2m1,-2h2m2,-1h2m3,4h2m8,0h2m0,1h2m-1,-3h2m-2,0h2m0,-2h2m-1,5h2m-2,-1h2m1,0h2m-2,1h2m-1,-5h2m-1,0h2m-1,2h2m1,1h2m-2,0h2m-1,-3h2m-1,0h2m0,3h2m-1,-4h2m-1,3h2m0,1h2m-1,-2h2m-1,4h2m2,-4h2m1,0h2m2,1h2m0,-1h2m-2,1h2m-1,-2h2m-1,4h2m0,0h2m0,0h2m-2,-1h2m-1,0h2m-1,1h2m1,-5h2m-1,1h2m0,1h2m0,1h2m-2,-2h2m-2,4h2m2,0h2m-1,1h2m-1,-5h2m1,0h2m-1,1h2m-1,2h2m-2,-3h2m0,0h2m-2,1h2m-1,1h2m0,0h2m-2,1h2m-2,-3h2m-2,4h2m2,1h2m2,-5h2m0,5h2m-2,-4h2m1,1h2m0,-2h2m-1,4h2m-1,-3h2m1,4h2m-2,-1h2m-1,0h2m3,0h2m-2,1h2m0,-2h2m2,-2h2m2,-1h2m-1,0h2m0,0h2m-2,2h2m0,2h2m-2,-1h2m-2,-3h2m2,5h2m-2,-1h2m1,1h2m-1,-5h2m-1,2h2m2,0h2m0,-2h2m-2,2h2m-2,-3h2m-1,3h2m-1,-1h2m-1,3h2m2,-3h2m0,4h2m-1,-6h2m-1,1h2m-1,3h2m-2,0h2m1,-2h2m-1,-1h2m-1,1h2m-2,-1h2m1,3h2m1,0h2m-2,2h2m0,-2h2m1,-1h2m-2,-2h2m5,1h2m-1,1h2m2,3h2m-1,-5h2m-2,0h2m1,5h2m0,-1h2m-2,1h2m-1,-2h2m1,1h2m1,-2h2m-1,-3h2m-2,1h2m-1,0h2m-2,4h2m0,-2h2m-1,-2h2m0,3h2m2,-1h2m0,1h2m-1,1h2m-2,-4h2m0,0h2m0,3h2m2,-2h2m0,-1h2m0,0h2m-1,4h2m-1,-1h2m-2,-4h2m-1,3h2m-1,2h2m-2,-5h2m-1,4h2m1,0h2m3,-1h2m-2,0h2m-1,3h2m0,-4h2m1,2h2m-1,-2h2m0,1h2m-1,-1h2m-1,-1h2m1,4h2m0,-4h2m1,4h2m-1,1h2m1,-4h2m1,2h2m0,-1h2m0,2h2m-1,-4h2m2,3h2m-1,-3h2m1,1h2m0,2h2m1,1h2m2,-4h2m-2,1h2m-2,-1h2m-1,0h2m-2,2h2m2,3h2m2,-1h2m0,0h2m0,0h2m-1,-3h2m1,2h2m-2,-3h2m2,2h2m-1,1h2m-2,1h2m1,-4h2m-2,1h2m6,1h2m-2,2h2m-1,-1h2m0,-4h2m-2,5h2m-2,-1h2m0,1h2m0,-1h2m-1,-4h2m-1,3h2m-1,1h2m-2,1h2m-1,-5h2m1,3h2m-1,-2h2m-2,0h2m-1,-1h2m0,1h2m-1,1h2m1,1h2m0,-3h2m-1,4h2m-1,-3h2m1,3h2m-2,1h2m-1,-2h2m4,1h2m214,-3h2m9,2h2m2,2h2m0,-1h2m6,-3h2m3,0h2m0,1h2m14,2h2m107,-2h2m4,-2h2m0,4h2m-739,4h2m8,-2h2m2,4h2m-1,-2h2m-1,2h2m-2,0h2m-1,-3h2m-2,0h2m4,3h2m-2,-2h2m1,1h2m-2,3h2m2,-1h2m0,1h2m-2,-5h2m3,5h2m0,0h2m-2,0h2m0,-2h2m0,-1h2m-1,2h2m0,0h2m-1,0h2m-2,-2h2m1,0h2m-1,-1h2m-2,1h2m0,-2h2m4,-1h2m2,1h2m0,4h2m2,-5h2m0,6h2m-2,-4h2m0,-1h2m-1,3h2m-1,1h2m-1,0h2m-1,-1h2m1,-1h2m-2,-2h2m0,0h2m-1,0h2m-2,1h2m7,4h2m-2,0h2m-2,-4h2m-1,2h2m0,0h2m-2,-3h2m-2,-1h2m3,3h2m-2,-3h2m1,4h2m0,0h2m-1,1h2m1,-1h2m-1,-4h2m-1,0h2m-2,3h2m-1,-1h2m-1,2h2m1,-3h2m-2,2h2m-2,3h2m-1,0h2m-2,-5h2m-1,4h2m-1,-3h2m-1,3h2m-1,-4h2m-2,1h2m-1,3h2m-1,-4h2m-1,2h2m4,2h2m-2,-4h2m0,0h2m-1,4h2m1,-3h2m-2,3h2m1,-4h2m1,0h2m3,0h2m-2,5h2m-2,-2h2m-1,1h2m3,-4h2m-2,1h2m-1,2h2m-2,-2h2m4,2h2m0,1h2m1,-4h2m-1,1h2m0,-1h2m1,3h2m-1,0h2m-1,1h2m0,-4h2m0,1h2m1,1h2m0,3h2m1,-6h2m-2,5h2m0,-3h2m0,3h2m0,0h2m-2,-2h2m-1,1h2m-2,0h2m2,-3h2m-2,0h2m-1,0h2m3,4h2m1,-3h2m-1,3h2m-2,-2h2m1,0h2m1,1h2m-2,-3h2m2,1h2m0,0h2m3,-1h2m-1,4h2m4,-1h2m-2,1h2m5,1h2m-1,-4h2m-1,-1h2m-1,3h2m-1,2h2m-1,-5h2m0,0h2m3,3h2m0,-3h2m13,3h2m0,2h2m-2,-3h2m-1,-3h2m0,4h2m-1,-1h2m0,-3h2m0,5h2m1,-2h2m2,-3h2m2,1h2m0,-1h2m0,5h2m-2,-2h2m4,-1h2m2,0h2m-1,-1h2m-1,1h2m0,2h2m3,-1h2m-1,1h2m0,2h2m5,-1h2m-2,-1h2m0,1h2m-1,-3h2m-1,2h2m-1,-1h2m-2,-3h2m-1,2h2m-2,1h2m0,3h2m-2,-4h2m-2,2h2m1,1h2m0,-2h2m2,-2h2m1,3h2m8,0h2m5,-3h2m243,1h2m132,0h2m-1,1h2m-2,1h2m-738,3h2m6,3h2m0,-4h2m-1,3h2m2,-3h2m1,3h2m0,3h2m-1,-4h2m0,2h2m0,-4h2m6,3h2m-2,-1h2m-1,2h2m0,-3h2m0,1h2m-1,-1h2m-1,4h2m2,-5h2m3,1h2m-1,0h2m-2,2h2m-2,3h2m-2,-1h2m1,-4h2m2,5h2m0,-6h2m-1,0h2m-2,5h2m-1,-5h2m-1,0h2m1,3h2m-1,1h2m2,1h2m-2,0h2m1,-4h2m1,0h2m1,-1h2m-1,0h2m3,4h2m-1,1h2m1,-3h2m0,-1h2m-1,0h2m-2,0h2m3,3h2m-2,1h2m-1,-4h2m-1,1h2m0,3h2m-1,-4h2m-1,0h2m0,2h2m-2,1h2m0,1h2m0,-2h2m-2,1h2m-1,1h2m-1,1h2m-2,-3h2m-2,-2h2m1,4h2m-2,-1h2m-1,-3h2m0,4h2m0,0h2m-1,1h2m-1,-3h2m0,1h2m1,2h2m0,-4h2m-1,4h2m0,-5h2m-2,0h2m3,4h2m-1,-5h2m0,1h2m-2,3h2m0,2h2m0,-6h2m0,2h2m2,0h2m0,-1h2m0,1h2m-2,3h2m0,-1h2m1,-2h2m-1,0h2m-1,4h2m-1,-2h2m-2,0h2m0,-2h2m-2,4h2m-2,-1h2m3,-2h2m-1,0h2m4,-2h2m1,3h2m-2,-1h2m-2,2h2m3,-5h2m2,1h2m1,2h2m1,-1h2m-2,-1h2m0,0h2m-2,0h2m0,0h2m-2,3h2m-1,-3h2m3,0h2m0,4h2m-1,-4h2m0,4h2m-1,-4h2m-1,2h2m2,1h2m1,-2h2m-1,-1h2m-2,1h2m0,1h2m-2,1h2m-2,1h2m-1,-5h2m3,5h2m-1,-2h2m-2,2h2m-1,-4h2m1,1h2m-2,1h2m-2,0h2m-2,3h2m-2,-5h2m-1,0h2m-1,4h2m0,-2h2m2,1h2m-2,-2h2m-2,-2h2m2,5h2m-1,-1h2m3,-2h2m-1,2h2m-1,1h2m1,-1h2m-1,2h2m-1,-2h2m-1,-4h2m-1,2h2m-1,-1h2m2,2h2m2,1h2m-2,-4h2m0,6h2m-1,-2h2m-1,0h2m0,0h2m-1,-3h2m-2,3h2m-1,-3h2m-2,1h2m0,1h2m-1,-1h2m1,2h2m-2,-4h2m-2,4h2m2,1h2m1,-3h2m-2,3h2m-2,-5h2m0,2h2m1,-1h2m2,1h2m1,3h2m-2,-1h2m0,-1h2m-2,0h2m-2,0h2m-1,1h2m-2,2h2m4,-4h2m-2,0h2m-1,3h2m1,-3h2m-2,4h2m1,-5h2m-1,2h2m0,-1h2m-2,1h2m0,-2h2m3,-1h2m3,1h2m20,0h2m3,0h2m376,3h2m3,-3h2m-737,8h2m1,1h2m5,-3h2m3,3h2m0,-4h2m-2,2h2m5,1h2m3,2h2m-2,0h2m3,0h2m-2,-3h2m3,0h2m-1,-2h2m-2,2h2m-2,-2h2m-1,3h2m0,-3h2m0,6h2m-2,-4h2m-1,4h2m0,-5h2m4,0h2m0,2h2m-1,-2h2m-1,5h2m1,-5h2m3,0h2m2,0h2m0,0h2m-2,0h2m2,3h2m0,-4h2m0,6h2m-1,-6h2m3,0h2m-2,3h2m0,3h2m-1,-1h2m-2,-3h2m-1,2h2m1,-2h2m-2,3h2m3,0h2m-2,-2h2m2,1h2m-1,-3h2m1,2h2m-2,2h2m-2,-1h2m1,-4h2m-2,4h2m-2,0h2m0,-2h2m-1,-1h2m-2,3h2m-1,-1h2m-1,2h2m0,0h2m-2,-1h2m-2,1h2m1,-4h2m-1,1h2m-2,0h2m0,-2h2m0,4h2m-2,0h2m-2,-3h2m-1,3h2m9,-3h2m4,4h2m-1,-3h2m-1,4h2m-1,-4h2m-1,3h2m-1,-4h2m-1,4h2m-2,-2h2m2,-2h2m-1,3h2m-1,0h2m0,-3h2m-2,1h2m2,1h2m3,-1h2m-2,0h2m-1,-1h2m-1,4h2m-1,-2h2m-1,2h2m-2,-4h2m0,3h2m-1,-4h2m0,2h2m-1,-2h2m-1,1h2m3,0h2m-1,2h2m-1,-1h2m-2,1h2m2,-1h2m-1,1h2m-1,0h2m-1,2h2m-1,-1h2m-1,-1h2m-1,1h2m1,-2h2m-2,-2h2m-1,5h2m0,0h2m-2,-1h2m-1,2h2m-1,0h2m-1,-4h2m-1,3h2m-1,-1h2m-1,0h2m0,-2h2m-1,0h2m-2,-1h2m2,4h2m-1,0h2m2,-4h2m-2,2h2m-1,2h2m-1,-2h2m0,0h2m-1,1h2m2,1h2m0,-2h2m0,-2h2m0,4h2m2,-4h2m-2,-1h2m-1,3h2m-1,2h2m2,-4h2m2,0h2m-2,1h2m0,3h2m-1,-3h2m0,2h2m-2,-4h2m-1,4h2m1,-2h2m-1,4h2m-1,-2h2m-2,0h2m3,-2h2m-2,4h2m-2,-1h2m2,-1h2m4,-2h2m-2,4h2m-1,-5h2m3,3h2m-2,-2h2m5,2h2m0,-3h2m-1,3h2m0,-3h2m-1,2h2m0,0h2m-1,2h2m2,-5h2m-2,1h2m6,1h2m-2,-1h2m0,2h2m1,-2h2m-1,0h2m0,0h2m4,4h2m-1,-4h2m-1,3h2m0,-1h2m5,1h2m-2,-1h2m4,-2h2m0,3h2m8,-3h2m380,4h2m4,-3h2m-734,8h2m11,-4h2m0,3h2m6,-1h2m-1,2h2m0,-3h2m2,4h2m-2,1h2m5,-3h2m-1,3h2m16,-4h2m-1,4h2m-1,0h2m-1,-2h2m-2,1h2m-1,-1h2m0,-3h2m-1,2h2m-1,3h2m0,-3h2m-1,0h2m-2,-3h2m-2,2h2m-2,-2h2m1,6h2m-2,0h2m5,-2h2m0,1h2m-2,-2h2m5,-2h2m0,1h2m-1,3h2m-1,-4h2m0,2h2m0,-1h2m-1,-1h2m-1,2h2m-1,0h2m1,-1h2m-1,-1h2m5,5h2m-1,-4h2m-1,0h2m-2,2h2m-1,0h2m-1,1h2m-1,-1h2m0,-2h2m0,2h2m-1,-3h2m8,-1h2m-2,4h2m1,1h2m-1,-1h2m-1,0h2m-1,1h2m-1,-3h2m0,-2h2m2,5h2m-1,-3h2m-1,3h2m-2,-5h2m5,3h2m-2,2h2m-1,-5h2m-2,2h2m-1,-2h2m-2,3h2m-1,-2h2m-1,3h2m1,2h2m0,-3h2m-2,1h2m-1,1h2m0,0h2m0,-2h2m-1,0h2m-1,-2h2m-1,1h2m-1,3h2m10,-4h2m-1,4h2m10,-1h2m-2,-3h2m1,4h2m0,-3h2m1,3h2m0,-4h2m-2,1h2m-1,1h2m0,-1h2m3,0h2m-1,1h2m-1,-3h2m-1,2h2m-1,1h2m-2,2h2m-1,-3h2m-1,3h2m-1,-1h2m0,1h2m-2,1h2m-1,-3h2m-2,0h2m1,-3h2m2,1h2m0,4h2m0,-2h2m-1,0h2m-1,-1h2m-2,3h2m-1,-4h2m-2,1h2m0,-1h2m-2,1h2m-2,2h2m-2,-3h2m2,0h2m0,0h2m-1,2h2m-2,1h2m-1,1h2m-2,-1h2m-1,-4h2m-1,6h2m-1,-2h2m3,-4h2m-2,5h2m-1,-3h2m-2,0h2m-1,-2h2m4,1h2m-1,0h2m-2,0h2m2,0h2m-1,-1h2m-2,3h2m-1,1h2m0,1h2m-1,-1h2m-1,-4h2m1,2h2m1,-1h2m0,2h2m-2,1h2m4,-2h2m2,1h2m0,-2h2m-1,0h2m1,2h2m-1,0h2m1,1h2m3,-3h2m0,1h2m-2,3h2m5,-2h2m10,-1h2m1,3h2m5,-4h2m372,3h2m7,-2h2m9,1h2m-1,1h2m3,-2h2m-731,4h2m10,1h2m7,4h2m6,-4h2m9,1h2m1,-1h2m0,0h2m1,5h2m-1,-4h2m0,1h2m0,-2h2m1,2h2m1,0h2m-2,0h2m-2,0h2m1,-2h2m2,1h2m-2,1h2m-1,0h2m0,-3h2m-2,0h2m-1,1h2m-1,4h2m-2,-5h2m-1,5h2m0,-3h2m-1,0h2m0,3h2m-1,0h2m0,-2h2m-1,2h2m-1,-1h2m-1,0h2m0,-3h2m0,2h2m-1,-2h2m0,4h2m-2,0h2m-2,-2h2m-2,-3h2m-2,4h2m-1,-3h2m-2,5h2m-1,-5h2m-1,4h2m-1,-3h2m-2,-1h2m0,2h2m3,3h2m3,-2h2m2,0h2m0,-4h2m-1,3h2m-1,1h2m0,-2h2m-2,2h2m2,-1h2m-2,1h2m0,-2h2m-2,-1h2m0,-1h2m1,3h2m-1,1h2m-1,-3h2m-1,0h2m-1,4h2m0,-3h2m-1,-2h2m1,1h2m-2,3h2m-1,1h2m-1,0h2m-1,-2h2m-2,-1h2m-1,-1h2m3,4h2m2,-5h2m1,6h2m-2,-3h2m2,1h2m-1,-1h2m-1,2h2m0,-2h2m0,-3h2m-1,2h2m3,-1h2m1,1h2m1,4h2m-2,-5h2m-1,3h2m1,-2h2m2,4h2m1,0h2m0,-2h2m-2,1h2m-2,1h2m1,-4h2m3,2h2m1,-4h2m0,4h2m0,1h2m-2,-4h2m1,2h2m-1,1h2m-1,-1h2m-1,-3h2m-1,2h2m-1,-1h2m0,0h2m-1,0h2m-1,2h2m1,0h2m-2,-2h2m0,4h2m-1,-3h2m-1,4h2m-2,-2h2m-1,1h2m0,-2h2m-2,-1h2m-1,2h2m-2,-3h2m-2,1h2m-1,0h2m-1,2h2m0,0h2m-1,2h2m-2,-5h2m-1,3h2m-1,-2h2m-1,3h2m0,-1h2m0,-3h2m-2,5h2m-1,-2h2m-1,2h2m1,-2h2m-1,-3h2m-2,2h2m1,1h2m0,2h2m1,-6h2m2,5h2m5,-3h2m0,3h2m-1,-5h2m2,2h2m0,0h2m1,4h2m-2,-5h2m0,1h2m0,3h2m-2,-3h2m-1,4h2m1,-5h2m0,1h2m1,2h2m0,-3h2m5,-1h2m3,1h2m-2,2h2m-1,2h2m-2,-2h2m1,2h2m-2,-5h2m-2,2h2m-1,-1h2m-1,-1h2m1,5h2m0,-2h2m0,2h2m3,-1h2m-1,-2h2m377,4h2m-1,-2h2m3,1h2m0,0h2m-1,-4h2m5,-1h2m0,4h2m-2,-1h2m-1,0h2m0,0h2m-1,0h2m0,-1h2m-1,-1h2m-1,4h2m-696,5h2m3,-3h2m5,0h2m2,2h2m-1,-1h2m3,4h2m0,-1h2m4,-3h2m-1,0h2m-1,2h2m-2,-2h2m-2,1h2m0,-1h2m-1,0h2m5,2h2m5,-1h2m0,-1h2m0,3h2m-1,-5h2m-1,2h2m3,3h2m5,-3h2m-1,2h2m0,-1h2m1,1h2m0,2h2m-1,-5h2m5,2h2m-2,2h2m0,1h2m-2,-6h2m0,2h2m0,1h2m1,-1h2m-2,2h2m-1,-4h2m-1,2h2m0,3h2m-1,0h2m-1,-4h2m-2,2h2m-1,1h2m-2,1h2m-1,-1h2m-2,0h2m0,0h2m1,-3h2m-2,1h2m-1,3h2m-2,-4h2m0,4h2m8,-4h2m0,2h2m0,2h2m1,0h2m-2,-1h2m3,-3h2m-2,4h2m4,-2h2m-1,-1h2m2,-1h2m-2,5h2m-2,0h2m1,-6h2m0,1h2m0,3h2m0,1h2m-2,-4h2m0,4h2m1,-4h2m-1,1h2m2,-2h2m-2,6h2m0,-4h2m1,-1h2m-2,0h2m2,3h2m-1,-2h2m-2,-1h2m0,2h2m-1,1h2m-2,-2h2m-2,0h2m0,-1h2m3,0h2m-1,3h2m1,-3h2m0,4h2m0,1h2m-1,-6h2m5,1h2m-1,5h2m0,-5h2m-1,0h2m-2,2h2m0,-1h2m1,-1h2m0,4h2m-2,0h2m0,-2h2m-2,-3h2m-1,1h2m3,1h2m4,3h2m4,-1h2m1,2h2m0,-3h2m-2,1h2m-2,2h2m0,-5h2m-2,1h2m0,-2h2m-1,1h2m-1,0h2m0,4h2m-2,1h2m2,-2h2m0,-4h2m-1,4h2m-1,2h2m-1,-5h2m-1,4h2m2,-2h2m-2,0h2m10,0h2m10,0h2m383,1h2m0,0h2m2,-1h2m3,-1h2m1,-2h2m-2,1h2m-2,5h2m0,-4h2m0,0h2m3,3h2m-680,7h2m3,-2h2m-2,-2h2m-1,-1h2m-1,2h2m-1,-2h2m4,5h2m0,-3h2m0,-1h2m9,3h2m4,-3h2m-2,1h2m-2,2h2m-1,-4h2m-1,-1h2m1,0h2m0,3h2m4,0h2m-1,-1h2m1,0h2m-1,-1h2m0,0h2m-2,2h2m5,-2h2m5,1h2m-2,0h2m-1,3h2m-2,0h2m1,0h2m5,1h2m2,-4h2m0,3h2m-2,-5h2m-2,4h2m2,-2h2m0,-1h2m-2,2h2m-1,-2h2m1,3h2m-1,-3h2m-2,4h2m0,-3h2m-2,-2h2m1,2h2m-2,0h2m-2,0h2m0,2h2m-2,0h2m0,1h2m-2,-5h2m0,2h2m-2,0h2m2,-2h2m-1,5h2m1,-3h2m0,1h2m-1,-2h2m-1,3h2m-2,-3h2m1,2h2m-2,0h2m0,-2h2m-1,2h2m0,-3h2m2,1h2m-1,2h2m-1,1h2m2,2h2m0,-5h2m-2,1h2m0,0h2m1,2h2m-2,2h2m1,-2h2m-1,-4h2m-1,4h2m0,-2h2m-2,0h2m-2,3h2m1,-3h2m3,3h2m-2,-3h2m-1,4h2m-1,-5h2m0,2h2m8,0h2m-2,-3h2m2,4h2m3,-1h2m-1,0h2m3,1h2m0,0h2m-2,-1h2m-2,0h2m3,-3h2m0,2h2m-2,4h2m-1,-3h2m-1,1h2m-1,-4h2m-2,5h2m2,-4h2m1,4h2m-1,-1h2m3,-3h2m2,3h2m0,-1h2m1,0h2m0,1h2m-1,1h2m0,0h2m0,-4h2m-2,2h2m2,3h2m2,0h2m3,-6h2m-1,6h2m6,-3h2m5,1h2m1,-4h2m3,1h2m381,0h2m-1,4h2m4,-4h2m-1,4h2m-2,-1h2m0,-2h2m0,0h2m3,1h2m-2,3h2m-2,-5h2m0,0h2m10,0h2m-1,3h2m6,-1h2m-679,8h2m2,-1h2m11,-2h2m5,1h2m0,1h2m-1,1h2m-1,0h2m1,-2h2m-1,-1h2m1,-2h2m4,3h2m-1,-1h2m-1,1h2m4,0h2m-2,-1h2m2,4h2m3,-4h2m-2,1h2m-2,3h2m-2,-3h2m-1,-2h2m0,0h2m0,1h2m-1,1h2m4,-2h2m-2,4h2m-1,0h2m4,-2h2m0,0h2m2,-1h2m1,1h2m-2,1h2m8,-2h2m-2,0h2m3,3h2m-1,1h2m8,-3h2m2,-2h2m-1,0h2m-1,2h2m4,2h2m0,0h2m-1,-2h2m2,3h2m1,-4h2m6,2h2m2,-2h2m-1,3h2m-1,-4h2m4,1h2m-2,2h2m2,2h2m-1,-1h2m1,0h2m-1,-1h2m-2,-2h2m-2,-2h2m3,4h2m3,-3h2m2,2h2m-1,-1h2m-1,2h2m4,-2h2m1,1h2m0,-2h2m-1,4h2m-2,-2h2m0,-1h2m0,-1h2m-1,0h2m4,2h2m5,3h2m2,-6h2m3,3h2m-1,2h2m-1,-3h2m-2,-1h2m3,5h2m1,-4h2m2,2h2m8,-2h2m2,1h2m381,0h2m16,-1h2m-2,4h2m-1,-6h2m-2,3h2m-2,-3h2m-2,6h2m-1,-6h2m0,4h2m-1,0h2m0,-4h2m-1,2h2m-1,-1h2m-2,-1h2m1,5h2m3,1h2m1,-5h2m2,0h2m-1,-1h2m-1,5h2m-670,4h2m9,0h2m3,1h2m5,-1h2m8,-2h2m-2,5h2m3,-5h2m6,0h2m9,-1h2m-2,4h2m1,-2h2m5,2h2m0,-3h2m4,4h2m6,0h2m0,-4h2m-2,-1h2m-2,1h2m-1,4h2m1,-3h2m4,3h2m-1,-1h2m4,1h2m-1,-1h2m-2,1h2m-2,-3h2m2,4h2m7,-1h2m-2,-1h2m-1,-3h2m-2,4h2m-1,-2h2m1,2h2m0,-1h2m1,0h2m-1,-1h2m-1,-1h2m0,3h2m-1,-1h2m0,0h2m-2,-3h2m-1,1h2m-2,3h2m-2,-2h2m-1,-1h2m0,1h2m-2,0h2m1,1h2m-1,-2h2m-2,-1h2m0,5h2m4,-5h2m-1,4h2m-2,-1h2m-1,-3h2m-2,5h2m-1,-6h2m-1,2h2m-1,-1h2m-2,0h2m2,0h2m3,1h2m-1,-1h2m-1,-1h2m-1,1h2m-2,4h2m1,-5h2m-1,4h2m-1,-2h2m-2,-1h2m2,3h2m-1,-4h2m-1,4h2m1,0h2m-2,-1h2m3,1h2m-1,-1h2m3,-2h2m-2,2h2m-1,0h2m-1,1h2m3,1h2m-1,-4h2m5,4h2m0,1h2m1,-5h2m1,5h2m0,-5h2m3,-1h2m1,6h2m396,-2h2m-1,1h2m9,1h2m-2,-4h2m1,3h2m-1,-5h2m-2,6h2m0,-5h2m-1,2h2m3,-1h2m1,3h2m4,-4h2m-2,0h2m1,4h2m-1,-3h2m0,-1h2m-1,4h2m2,-3h2m3,-1h2m-1,0h2m-663,5h2m21,4h2m-2,-1h2m-1,0h2m25,-1h2m7,-2h2m-1,6h2m-1,-5h2m2,0h2m-1,3h2m0,0h2m8,0h2m1,-2h2m0,1h2m-1,-3h2m1,1h2m-2,3h2m2,-3h2m0,4h2m0,-3h2m0,0h2m0,0h2m-2,4h2m0,-6h2m2,1h2m0,1h2m1,2h2m-1,-4h2m-1,6h2m2,-5h2m-1,1h2m0,2h2m1,-1h2m-2,-1h2m-1,0h2m-1,4h2m-1,-2h2m3,-4h2m-1,1h2m0,4h2m-2,-2h2m1,3h2m2,-5h2m-2,1h2m-1,1h2m3,3h2m2,-4h2m-1,2h2m0,-1h2m11,2h2m-1,-4h2m0,3h2m0,-3h2m-1,0h2m0,4h2m4,-2h2m-1,-1h2m0,2h2m6,-1h2m5,2h2m395,-1h2m8,2h2m7,-1h2m0,-3h2m-1,3h2m-1,-3h2m0,1h2m3,1h2m0,-1h2m1,2h2m0,1h2m-1,-1h2m0,-3h2m0,3h2m1,-1h2m4,-2h2m-1,0h2m2,-2h2m1,6h2m-1,-3h2m2,0h2m-635,8h2m-2,-5h2m2,2h2m-1,0h2m7,-2h2m19,2h2m0,-2h2m4,6h2m0,-1h2m2,-2h2m0,0h2m10,1h2m0,2h2m2,-5h2m-1,2h2m-1,-2h2m-1,1h2m-1,1h2m0,-1h2m0,0h2m-1,2h2m-2,-1h2m3,1h2m12,2h2m5,-2h2m2,-4h2m0,6h2m-2,-4h2m0,-1h2m1,0h2m-1,5h2m-2,0h2m0,-4h2m2,0h2m0,2h2m-2,-3h2m-1,1h2m0,2h2m0,-2h2m-1,3h2m2,1h2m-1,-5h2m-2,0h2m14,3h2m5,1h2m2,-2h2m14,0h2m392,-3h2m-2,3h2m1,0h2m1,-2h2m-2,2h2m1,2h2m8,-3h2m-2,3h2m1,-3h2m3,3h2m1,-1h2m-2,-2h2m-1,-2h2m-1,5h2m-1,-2h2m-1,1h2m4,2h2m0,-3h2m1,1h2m2,0h2m-2,-1h2m6,2h2m-2,-1h2m1,-1h2m-2,2h2m0,1h2m-1,-5h2m-1,1h2m-1,3h2m-620,4h2m18,-1h2m4,3h2m8,0h2m6,-1h2m6,-1h2m-2,2h2m0,-5h2m-1,0h2m1,5h2m8,-1h2m-2,1h2m6,-5h2m0,3h2m-1,1h2m1,-3h2m0,0h2m-1,4h2m4,-3h2m1,2h2m-1,-2h2m0,-2h2m0,1h2m2,0h2m28,1h2m421,-1h2m0,0h2m0,4h2m-1,-4h2m-1,0h2m-2,-1h2m-1,0h2m-1,1h2m1,3h2m-1,-1h2m-2,2h2m-2,-4h2m-1,4h2m-1,-4h2m5,3h2m5,-1h2m1,3h2m1,-3h2m1,-1h2m-2,2h2m3,-1h2m1,0h2m-1,2h2m-1,0h2m-1,-1h2m5,2h2m-2,-5h2m3,0h2m0,1h2m-611,10h2m14,-1h2m0,-1h2m10,0h2m3,-3h2m4,1h2m14,1h2m4,-2h2m23,0h2m2,1h2m449,1h2m2,1h2m4,-1h2m0,1h2m-1,1h2m1,0h2m2,-5h2m-1,4h2m1,-3h2m-1,1h2m-1,2h2m-2,0h2m1,-3h2m-2,3h2m-1,-2h2m-1,1h2m5,2h2m-1,-3h2m3,-1h2m-2,3h2m-1,1h2m-2,-2h2m-2,-1h2m-2,0h2m0,2h2m4,0h2m-1,2h2m4,-2h2m-576,5h2m-1,-1h2m26,1h2m7,-3h2m12,6h2m468,-5h2m2,2h2m1,0h2m1,0h2m5,-2h2m1,1h2m4,2h2m-1,-1h2m-1,1h2m0,0h2m0,-3h2m-2,4h2m1,1h2m-1,-3h2m-2,0h2m0,1h2m-2,-4h2m1,3h2m2,2h2m2,-3h2m3,1h2m-585,4h2m26,3h2m-1,-4h2m19,3h2m5,0h2m3,-1h2m447,2h2m2,-1h2m-1,-1h2m0,1h2m0,-3h2m1,0h2m12,6h2m-1,-1h2m1,1h2m-2,0h2m-1,-4h2m-2,1h2m-1,0h2m0,1h2m1,-2h2m0,-2h2m0,4h2m-2,2h2m-1,-1h2m8,-4h2m2,1h2m-2,4h2m-1,-4h2m-1,4h2m2,-4h2m-2,-1h2m2,4h2m0,0h2m0,-1h2m2,0h2m-1,-3h2m-543,8h2m1,2h2m461,-2h2m6,-2h2m7,0h2m-2,3h2m-1,-4h2m-1,1h2m1,2h2m0,3h2m-1,-5h2m0,-1h2m0,4h2m-1,1h2m1,1h2m7,-3h2m0,0h2m-2,-2h2m-2,0h2m1,-1h2m-2,3h2m-1,-1h2m-1,1h2m1,-2h2m-2,3h2m1,1h2m-1,1h2m5,-5h2m0,1h2m-1,-1h2m-530,5h2m462,5h2m6,1h2m0,0h2m12,-1h2m3,-2h2m1,2h2m2,-1h2m-1,-1h2m2,2h2m0,-2h2m-1,-2h2m-1,0h2m-1,5h2m-2,-1h2m1,-2h2m-1,0h2m2,1h2m-2,-4h2m-1,2h2m-1,1h2m-2,-1h2m-1,0h2m0,0h2m0,3h2m9,0h2m-76,2h2m8,-1h2m4,1h2m-2,2h2m1,2h2m1,-4h2m3,-1h2m-1,3h2m-1,-1h2m-1,2h2m1,2h2m3,-4h2m-2,-1h2m1,2h2m-1,-1h2m1,1h2m0,-1h2m-1,1h2m1,2h2m3,0h2m-1,-2h2m-1,2h2m-1,-1h2m-1,0h2m-2,-2h2m-2,4h2m1,-1h2m0,0h2m-2,-4h2m1,4h2m0,-1h2m2,-1h2m-72,7h2m6,1h2m-2,-2h2m0,0h2m1,-3h2m6,3h2m1,-2h2m-1,-1h2m3,2h2m0,-2h2m5,6h2m1,-4h2m7,1h2m0,3h2m2,-3h2m0,2h2m0,-1h2m0,-1h2m0,3h2m2,-5h2m-65,9h2m7,0h2m0,-3h2m0,3h2m0,-2h2m1,0h2m1,1h2m-1,3h2m0,0h2m1,-5h2m-1,1h2m-1,1h2m3,1h2m-2,0h2m-2,-2h2m2,1h2m-1,2h2m0,-1h2m6,0h2m-1,-1h2m-1,2h2m-1,-3h2m6,-1h2m-69,9h2m5,-4h2m3,3h2m-1,-1h2m-1,3h2m-1,-3h2m3,4h2m0,-3h2m-1,-3h2m-2,0h2m-1,4h2m0,0h2m1,0h2m1,-4h2m5,3h2m0,2h2m-2,-5h2m-1,1h2m3,3h2m0,0h2m-2,-1h2m-2,2h2m-1,-3h2m0,3h2m-1,0h2m-2,-3h2m-1,-1h2m12,0h2m-70,7h2m2,3h2m1,0h2m0,0h2m-2,-4h2m0,1h2m-2,3h2m0,-3h2m2,-2h2m4,3h2m-2,-1h2m2,3h2m-2,-4h2m2,2h2m2,1h2m-2,-3h2m-2,1h2m3,-1h2m2,1h2m-2,0h2m1,-1h2m-2,-1h2m0,4h2m-1,1h2m1,-4h2m0,1h2m-55,7h2m4,0h2m1,2h2m10,0h2m-2,-3h2m-1,3h2m-1,-4h2m-2,4h2m1,-2h2m1,-2h2m-1,2h2m0,0h2m-1,2h2m0,-3h2m-1,3h2m-1,-3h2m0,2h2m-1,-1h2m-2,0h2m6,-2h2m-40,6h2m-2,1h2m-1,2h2m1,0h2m0,1h2m-1,-4h2m3,4h2m-1,-3h2m2,1h2m-1,-2h2m3,4h2m-2,-4h2m4,2h2m0,0h2m5,-3h2m4,1h2m-1,1h2m1,1h2m-54,7h2m0,1h2m3,-5h2m4,4h2m-1,-2h2m-1,3h2m0,0h2m1,-5h2m-1,2h2m-1,4h2m1,-5h2m5,5h2m-2,0h2m-1,-4h2m4,0h2m4,-2h2m-47,7h2m12,-1h2m2,2h2m-1,1h2m2,3h2m1,-3h2m-1,1h2m-1,-3h2m7,4h2m3,-4h2m6,3h2m-37,3h2m2,5h2m-1,-6h2m4,3h2m9,-1h2m-33,4h2m2,1h2m0,4h2m3,-1h2m-2,0h2m7,-1h2m0,1h2m-19,7h2m6,-4h2m2,-1h2m3,4h2m-22,4h2m0,0h2m8,2h2m-1,2h2m-9,3h2m-8,5h2"/><path stroke="#4ab082" d="M2540,2036h2m11,1h2m-39,2h2m2,3h2m-2,1h2m-2,0h2m0,-3h2m8,2h2m11,-2h2m-2,-2h2m0,5h2m5,-2h2m15,-2h2m1,2h2m-1,-2h2m0,2h2m10,1h2m-1,-3h2m-61,6h2m8,3h2m0,-1h2m5,1h2m5,-1h2m6,-2h2m3,2h2m5,2h2m1,-3h2m1,-1h2m-1,3h2m2,-1h2m-2,-1h2m0,1h2m-1,2h2m1,-5h2m5,-1h2m-88,6h2m9,6h2m0,-2h2m8,-2h2m0,-1h2m0,0h2m0,4h2m4,-3h2m0,1h2m1,3h2m2,-3h2m-2,2h2m-2,1h2m-1,-4h2m7,-2h2m-2,2h2m2,-1h2m-1,3h2m0,-1h2m0,-1h2m-2,-1h2m7,3h2m8,-4h2m-64,7h2m0,0h2m-2,3h2m-1,-3h2m0,0h2m-1,2h2m-2,-2h2m5,3h2m-2,-2h2m-1,3h2m15,-1h2m1,-1h2m4,2h2m2,-1h2m10,-2h2m0,1h2m4,3h2m-72,0h2m-2,1h2m-2,0h2m1,1h2m-1,-1h2m12,4h2m0,-3h2m-2,-1h2m3,1h2m-2,2h2m-2,-2h2m-1,-1h2m2,5h2m-1,-2h2m-1,-2h2m4,-2h2m0,4h2m-2,0h2m0,1h2m-2,-2h2m3,1h2m0,-2h2m-1,0h2m-1,1h2m1,-1h2m13,3h2m-62,4h2m9,0h2m4,-3h2m1,4h2m-1,1h2m8,1h2m1,-1h2m2,-3h2m5,0h2m-40,9h2m9,-3h2m-1,2h2m4,-1h2m1,2h2m0,0h2m-1,-2h2m-2,0h2m-1,3h2m3,-4h2m0,2h2m-1,-1h2m0,1h2m-30,3h2m-1,2h2m-2,2h2m1,-2h2m-2,-2h2m2,5h2m-2,-4h2m-2,3h2m0,-2h2m20,1h2m-37,4h2m12,3h2m-1,-1h2m-1,-2h2m1,-2h2m0,1h2m-2,3h2m-1,-3h2m0,4h2m10,-3h2m-32,5h2m1,0h2m1,0h2m11,3h2m2,-3h2m4,4h2m-32,1h2m-2,3h2m8,3h2m-1,-5h2m-2,4h2m9,1h2m6,-5h2m-23,9h2m-1,1h2m8,-4h2m95,1h2m-113,8h2m0,0h2m-1,-4h2m116,5h2m-130,2h2m1,1h2m-1,4h2m6,-5h2m-2,0h2m4,1h2m-13,7h2m-2,2h2m0,-4h2m-1,1h2m3,1h2m2,0h2m-2,1h2m-2,1h2m0,0h2m-2,-3h2m0,4h2m-1,-2h2m0,-4h2m76,4h2m1,-3h2m-102,5h2m3,4h2m4,0h2m-2,0h2m-2,-1h2m-1,-3h2m0,5h2m86,-3h2m7,0h2m-121,6h2m-1,0h2m0,3h2m1,-4h2m1,1h2m2,0h2m0,1h2m0,0h2m-1,-1h2m-1,2h2m-1,-2h2m6,-1h2m5,4h2m73,1h2m7,-1h2m7,-2h2m10,-1h2m-141,8h2m4,2h2m2,-5h2m0,1h2m2,1h2m4,1h2m0,1h2m68,-3h2m7,2h2m0,-2h2m0,3h2m0,-3h2m-2,-2h2m4,1h2m10,2h2m-133,9h2m1,-3h2m4,1h2m0,1h2m19,-3h2m-2,2h2m-1,-3h2m3,4h2m1,0h2m59,-2h2m7,-3h2m3,1h2m-2,2h2m4,1h2m-1,2h2m8,-6h2m-146,11h2m2,-3h2m1,4h2m2,0h2m0,-1h2m1,-4h2m-2,1h2m-1,0h2m-1,0h2m3,2h2m0,1h2m-1,1h2m6,-3h2m5,3h2m13,-1h2m3,-1h2m34,-1h2m15,1h2m1,-3h2m-1,-1h2m-2,2h2m0,-1h2m10,3h2m1,-4h2m3,2h2m9,3h2m-150,5h2m0,-4h2m1,3h2m2,-1h2m-1,-1h2m0,0h2m-1,4h2m4,-3h2m-2,2h2m1,-1h2m-2,-1h2m3,2h2m-1,1h2m7,-5h2m0,2h2m5,2h2m6,0h2m2,0h2m0,0h2m9,-1h2m-1,1h2m0,-1h2m0,3h2m2,-1h2m9,-2h2m12,0h2m9,1h2m4,0h2m0,-2h2m2,-2h2m5,3h2m6,2h2m0,1h2m8,-2h2m-189,5h2m-2,3h2m6,-4h2m8,3h2m1,1h2m5,-3h2m0,3h2m7,-5h2m0,3h2m-2,-2h2m-2,0h2m7,3h2m6,-4h2m11,0h2m1,0h2m-1,5h2m-1,-1h2m3,-2h2m-2,2h2m2,-1h2m3,0h2m-2,-2h2m-1,4h2m0,-3h2m0,-1h2m15,1h2m12,3h2m4,-4h2m0,1h2m11,-1h2m-2,2h2m2,-1h2m2,2h2m-1,-1h2m-1,-2h2m0,-2h2m9,5h2m0,-4h2m7,4h2m-173,6h2m13,0h2m-1,-3h2m-2,1h2m6,-3h2m-1,0h2m-2,3h2m13,-2h2m13,2h2m0,2h2m3,1h2m22,-6h2m-1,1h2m-1,1h2m-2,3h2m25,-2h2m14,-1h2m6,-2h2m-2,2h2m0,2h2m3,0h2m-2,-4h2m2,3h2m3,2h2m0,-4h2m20,1h2m-193,7h2m6,2h2m0,-1h2m-2,0h2m0,1h2m-2,-3h2m8,3h2m5,-3h2m8,0h2m-2,3h2m11,1h2m1,-4h2m18,-2h2m4,1h2m28,5h2m-1,-3h2m4,-3h2m-1,0h2m-1,3h2m1,-1h2m-2,-1h2m0,4h2m5,1h2m-1,-1h2m-2,-2h2m4,0h2m2,-1h2m4,3h2m1,0h2m3,0h2m-1,-2h2m5,-2h2m0,4h2m1,0h2m3,-3h2m-201,10h2m12,-4h2m18,-2h2m16,1h2m2,4h2m3,-1h2m7,-2h2m7,2h2m4,-3h2m-1,3h2m2,0h2m-1,0h2m2,-2h2m-1,-1h2m10,4h2m3,0h2m2,-5h2m-2,3h2m14,-2h2m-1,3h2m1,-3h2m4,3h2m22,-1h2m11,3h2m9,-4h2m-1,3h2m-2,-1h2m5,-1h2m1,0h2m8,-1h2m11,3h2m1,0h2m-219,4h2m7,-3h2m7,3h2m1,-3h2m7,2h2m1,2h2m3,1h2m-1,-2h2m2,-3h2m0,3h2m1,3h2m1,0h2m-1,-3h2m11,1h2m-1,1h2m4,-1h2m0,-4h2m3,4h2m0,1h2m1,0h2m7,0h2m-1,-2h2m1,3h2m0,-4h2m4,0h2m1,-2h2m-1,4h2m-1,-4h2m3,0h2m-1,6h2m1,-3h2m-1,1h2m6,-2h2m1,1h2m-1,0h2m7,-2h2m5,5h2m0,-6h2m3,3h2m-1,-3h2m2,5h2m-2,1h2m0,-1h2m0,0h2m15,-3h2m0,2h2m0,2h2m2,-3h2m3,1h2m-1,-2h2m-1,2h2m-1,-3h2m-1,4h2m13,1h2m-240,2h2m16,2h2m1,-1h2m7,2h2m2,0h2m-1,-1h2m-1,-1h2m7,-1h2m0,1h2m1,-1h2m-1,4h2m7,0h2m-2,-1h2m-1,-1h2m-2,-2h2m4,-2h2m0,4h2m0,1h2m2,0h2m2,-3h2m0,0h2m1,1h2m-2,1h2m4,-2h2m5,3h2m3,-4h2m4,3h2m1,-1h2m0,2h2m-1,-3h2m5,4h2m0,-5h2m-2,2h2m3,-1h2m3,0h2m-1,2h2m0,2h2m0,-1h2m3,-1h2m-2,1h2m4,-5h2m-1,5h2m7,-5h2m-1,5h2m-1,-3h2m3,1h2m-1,-2h2m-1,5h2m-2,-2h2m4,-3h2m9,4h2m1,-2h2m6,1h2m0,-1h2m-1,3h2m-1,0h2m-1,-6h2m-2,2h2m8,2h2m-1,2h2m3,-4h2m0,0h2m-1,1h2m-1,3h2m0,-1h2m0,-3h2m2,-2h2m3,1h2m2,4h2m2,-5h2m1,2h2m-267,6h2m-1,2h2m7,-1h2m7,-1h2m-1,0h2m1,1h2m0,-2h2m0,2h2m1,0h2m2,2h2m5,0h2m-1,-3h2m0,0h2m7,0h2m0,3h2m1,-1h2m1,1h2m1,0h2m-1,-1h2m-2,-2h2m-1,3h2m-1,0h2m-2,-4h2m-1,4h2m-2,-1h2m-1,1h2m-1,-3h2m1,-1h2m-1,2h2m0,0h2m11,0h2m4,-3h2m-2,2h2m0,2h2m-1,-1h2m-1,2h2m0,0h2m-1,-4h2m2,1h2m-2,1h2m4,0h2m-2,-3h2m0,2h2m-1,0h2m0,1h2m-1,2h2m2,-2h2m0,3h2m-2,-4h2m1,2h2m2,0h2m-2,-1h2m2,-2h2m-2,0h2m-1,4h2m2,0h2m1,0h2m2,0h2m-1,-4h2m-2,1h2m-2,3h2m2,-3h2m3,2h2m-2,1h2m-1,-2h2m-1,1h2m-2,1h2m0,-2h2m-1,0h2m-1,1h2m-1,2h2m-1,-5h2m-1,4h2m-1,-1h2m-2,2h2m-1,-1h2m1,-2h2m5,-1h2m-1,0h2m-1,2h2m7,-1h2m-1,1h2m-2,0h2m0,1h2m-1,-3h2m0,3h2m-2,-1h2m2,0h2m0,2h2m0,-2h2m-1,-2h2m-2,4h2m18,-4h2m0,-2h2m6,5h2m0,-2h2m6,3h2m0,-1h2m-2,1h2m-2,-2h2m-1,-1h2m-2,-2h2m-1,4h2m3,-4h2m1,3h2m-1,-1h2m3,1h2m1,1h2m0,1h2m1,-1h2m-1,-2h2m1,-1h2m3,0h2m-288,8h2m5,-2h2m13,0h2m6,3h2m8,-3h2m3,2h2m-1,1h2m-1,0h2m1,-5h2m-2,2h2m2,0h2m1,3h2m1,-3h2m-1,0h2m-2,1h2m0,-3h2m1,2h2m1,0h2m-1,3h2m0,-5h2m4,5h2m1,-3h2m4,1h2m1,-2h2m3,0h2m-1,4h2m-2,0h2m1,0h2m1,-3h2m4,3h2m-1,-2h2m-1,0h2m-2,2h2m-1,0h2m0,0h2m-1,-3h2m1,0h2m0,0h2m-2,0h2m-1,0h2m-1,4h2m-1,-4h2m-1,3h2m-2,0h2m-1,-2h2m0,2h2m3,-2h2m-2,-2h2m-1,2h2m-1,-1h2m2,3h2m0,-2h2m1,1h2m0,-4h2m1,5h2m-2,-3h2m0,0h2m0,0h2m-2,3h2m0,0h2m0,1h2m0,-5h2m-2,2h2m-1,3h2m2,-5h2m2,3h2m7,-3h2m-1,2h2m0,-3h2m-1,3h2m-1,-2h2m3,4h2m-1,-4h2m-2,0h2m0,0h2m7,0h2m1,0h2m4,4h2m-1,-4h2m2,4h2m4,-3h2m3,-1h2m-1,1h2m0,2h2m-2,0h2m2,-2h2m4,2h2m4,-3h2m0,4h2m0,1h2m1,-6h2m-1,6h2m-2,-2h2m0,-4h2m0,2h2m10,0h2m0,0h2m0,-2h2m4,0h2m0,2h2m-1,0h2m-1,-2h2m2,3h2m0,0h2m15,2h2m-304,4h2m4,0h2m12,2h2m-1,-3h2m3,2h2m-1,-2h2m1,1h2m5,-2h2m-1,5h2m-1,-1h2m-2,-4h2m-1,4h2m0,-1h2m0,-2h2m0,-1h2m-1,4h2m2,0h2m-1,-4h2m1,2h2m0,0h2m7,-1h2m8,0h2m0,2h2m3,0h2m1,0h2m-1,2h2m0,-5h2m0,3h2m2,-2h2m-1,0h2m-2,-2h2m-1,3h2m-1,1h2m0,0h2m-2,-3h2m-1,0h2m-2,4h2m2,-4h2m2,0h2m2,0h2m2,5h2m3,-6h2m-1,1h2m1,2h2m1,0h2m4,1h2m-1,-4h2m0,1h2m3,3h2m-1,2h2m-1,-5h2m-1,1h2m0,-2h2m0,6h2m0,-2h2m-1,-3h2m-2,2h2m2,2h2m-2,-2h2m1,3h2m-1,-1h2m-1,-3h2m-1,2h2m3,-1h2m1,1h2m-1,-1h2m0,1h2m-1,-3h2m-1,5h2m0,-2h2m3,-1h2m6,0h2m-1,1h2m3,0h2m6,-3h2m2,3h2m-2,-3h2m-1,1h2m-2,-1h2m3,1h2m-1,0h2m-1,-2h2m-2,6h2m-1,-3h2m3,2h2m0,-5h2m1,6h2m3,-5h2m-2,1h2m-1,1h2m1,-3h2m-2,1h2m3,1h2m0,3h2m1,-5h2m0,1h2m2,5h2m-2,0h2m-2,-1h2m-1,-2h2m1,-2h2m0,-1h2m-2,2h2m15,0h2m2,0h2m0,-1h2m10,1h2m-2,4h2m1,-4h2m8,1h2m-1,3h2m6,0h2m-327,4h2m0,-1h2m3,3h2m0,-4h2m4,1h2m-1,-1h2m-1,3h2m-1,-3h2m1,4h2m-1,-1h2m5,-1h2m1,-2h2m-1,0h2m-1,2h2m1,-1h2m3,2h2m-1,-3h2m0,-1h2m0,1h2m0,-2h2m-2,3h2m0,-1h2m-2,1h2m-1,-2h2m2,1h2m0,3h2m1,-2h2m3,2h2m-2,-5h2m-1,3h2m0,1h2m0,-1h2m-1,2h2m3,-2h2m1,0h2m-1,-3h2m-1,5h2m6,-2h2m0,3h2m1,-1h2m2,0h2m2,0h2m-2,-2h2m0,0h2m-1,-3h2m6,2h2m-2,1h2m-1,1h2m-1,1h2m-2,-3h2m-1,1h2m-1,0h2m-2,3h2m0,-4h2m-1,4h2m-2,-6h2m-1,1h2m4,2h2m0,3h2m-1,-1h2m-1,-3h2m4,3h2m-2,0h2m0,-1h2m1,-3h2m-1,2h2m-1,0h2m-1,-1h2m-2,1h2m1,1h2m0,-3h2m-2,1h2m0,3h2m-1,-2h2m-1,-2h2m7,5h2m-2,-4h2m-1,0h2m-2,-2h2m3,3h2m-2,1h2m-1,0h2m1,-3h2m-1,3h2m-1,0h2m0,-3h2m0,3h2m-2,1h2m6,0h2m-1,0h2m-2,0h2m-2,0h2m-2,0h2m-2,-2h2m0,-3h2m-1,2h2m-2,1h2m7,-3h2m-2,6h2m5,-6h2m-2,4h2m3,-3h2m0,4h2m1,-5h2m4,5h2m1,-1h2m-1,-3h2m0,0h2m1,0h2m-2,0h2m1,0h2m-2,1h2m-1,1h2m3,1h2m2,-1h2m2,-3h2m8,1h2m0,4h2m1,-1h2m-1,-3h2m0,5h2m-2,0h2m2,-1h2m-1,-4h2m0,4h2m2,-3h2m4,1h2m-1,0h2m-2,0h2m4,-1h2m2,-1h2m-2,4h2m-2,-4h2m-1,3h2m5,-1h2m0,3h2m2,-1h2m6,-4h2m-315,8h2m-1,2h2m1,-4h2m0,-1h2m1,5h2m-2,-3h2m2,4h2m0,0h2m2,-2h2m-2,-4h2m7,3h2m-1,1h2m-1,-4h2m-1,3h2m0,-2h2m-2,2h2m1,1h2m3,0h2m-1,2h2m-1,-6h2m1,4h2m-1,0h2m-1,2h2m-2,-3h2m-1,1h2m-1,-3h2m-2,4h2m0,-4h2m2,2h2m-1,1h2m-1,2h2m0,-2h2m3,0h2m-2,1h2m-1,-3h2m-1,-1h2m-2,1h2m1,3h2m4,-2h2m4,1h2m0,1h2m0,-3h2m0,0h2m5,0h2m-1,3h2m4,-2h2m-1,-3h2m-1,3h2m-2,-2h2m2,0h2m-1,2h2m-1,0h2m0,-1h2m1,1h2m-1,2h2m-1,0h2m2,1h2m0,-1h2m-2,1h2m0,-5h2m0,1h2m-1,2h2m0,-2h2m0,1h2m1,-3h2m1,4h2m-2,0h2m-1,2h2m-1,-1h2m3,-4h2m-2,0h2m1,2h2m-1,2h2m0,-2h2m-1,2h2m-1,-3h2m-1,3h2m4,-2h2m-1,1h2m-1,-3h2m-1,3h2m1,2h2m-1,-6h2m0,4h2m-1,-3h2m-1,0h2m-2,3h2m-1,-1h2m-2,0h2m1,1h2m-1,2h2m-1,-4h2m0,3h2m-2,-4h2m0,0h2m-1,3h2m1,-3h2m0,4h2m0,-1h2m-1,-4h2m1,0h2m-2,4h2m2,-1h2m-1,0h2m-1,-2h2m-2,0h2m-2,3h2m0,-4h2m-2,0h2m-1,3h2m3,1h2m-1,-1h2m-2,-2h2m-2,3h2m1,-4h2m12,4h2m0,-3h2m3,0h2m-1,1h2m0,-2h2m3,4h2m5,2h2m0,-2h2m0,0h2m0,-1h2m-1,-1h2m3,0h2m-2,0h2m-1,2h2m-2,-3h2m0,2h2m4,0h2m-2,2h2m5,-3h2m-1,3h2m7,-3h2m1,0h2m1,-2h2m19,2h2m-324,8h2m14,-3h2m2,5h2m-1,-3h2m-2,-2h2m9,4h2m0,-2h2m-2,-2h2m1,0h2m2,2h2m1,1h2m3,-4h2m1,1h2m-1,2h2m-1,2h2m-1,-5h2m-2,2h2m1,2h2m1,2h2m-2,-3h2m3,-1h2m-1,-2h2m-1,2h2m-1,4h2m-2,-1h2m3,-5h2m-1,5h2m-2,-1h2m1,2h2m-1,-3h2m5,-2h2m14,2h2m-1,-2h2m2,5h2m4,0h2m1,-4h2m0,-1h2m-1,0h2m-2,4h2m0,-1h2m-1,0h2m1,0h2m1,0h2m-2,-1h2m0,-3h2m1,5h2m12,-3h2m0,4h2m-2,-5h2m0,1h2m2,3h2m0,-2h2m-1,-1h2m4,2h2m3,-2h2m-1,-2h2m1,1h2m-1,3h2m-2,-1h2m-1,0h2m1,1h2m-2,-2h2m0,0h2m-2,1h2m0,-1h2m1,3h2m-2,-2h2m-1,-3h2m-1,1h2m1,3h2m3,1h2m2,-2h2m-1,-2h2m-1,0h2m0,1h2m2,-1h2m-1,5h2m2,-5h2m-2,3h2m1,0h2m-2,-3h2m-1,0h2m-2,2h2m-1,0h2m1,3h2m1,-1h2m-2,1h2m1,0h2m4,-4h2m-2,-1h2m2,1h2m1,0h2m-2,3h2m-1,-4h2m0,0h2m-1,1h2m-1,3h2m4,-1h2m-2,-3h2m-1,0h2m-1,3h2m0,-1h2m4,2h2m1,-5h2m1,5h2m6,-1h2m2,0h2m-1,-3h2m-2,4h2m1,-1h2m1,-1h2m2,3h2m0,-1h2m-1,-2h2m-1,-1h2m2,3h2m4,-4h2m0,1h2m-1,1h2m-2,-1h2m5,0h2m1,-2h2m0,3h2m2,2h2m4,-4h2m-323,7h2m0,0h2m-2,-2h2m3,3h2m-2,0h2m5,-3h2m1,1h2m3,4h2m-1,0h2m12,-4h2m0,3h2m2,0h2m-1,1h2m0,-4h2m-1,5h2m1,-2h2m3,-2h2m4,-2h2m0,6h2m2,-4h2m1,3h2m8,-3h2m3,4h2m1,-2h2m3,-2h2m1,-1h2m-2,0h2m-1,4h2m0,-3h2m-1,2h2m-2,-2h2m1,2h2m-1,0h2m-2,-1h2m0,-3h2m-2,1h2m-2,5h2m0,-3h2m0,-1h2m-1,0h2m2,0h2m1,0h2m-1,1h2m0,1h2m-1,1h2m-2,-2h2m-2,-3h2m-1,6h2m0,-5h2m4,2h2m0,-2h2m2,3h2m2,0h2m2,-2h2m-2,-1h2m-1,3h2m-1,1h2m-2,-3h2m1,3h2m1,-4h2m-1,0h2m-2,3h2m-1,-2h2m2,-1h2m0,5h2m6,-2h2m-2,1h2m-1,-3h2m-2,4h2m0,-1h2m-2,-4h2m-1,3h2m-1,-1h2m3,-2h2m-1,-1h2m-2,2h2m0,0h2m-1,-1h2m-2,0h2m0,5h2m0,-4h2m1,3h2m0,-5h2m3,2h2m2,-2h2m1,2h2m-2,2h2m1,0h2m-1,1h2m-1,0h2m-1,0h2m-1,-3h2m8,-1h2m-2,2h2m4,-2h2m-2,0h2m0,0h2m5,3h2m-1,0h2m-1,-1h2m-2,2h2m0,-2h2m-2,2h2m3,0h2m-1,-1h2m-1,0h2m1,1h2m-1,-4h2m1,1h2m-2,3h2m-2,-3h2m-1,-2h2m-2,1h2m3,4h2m3,-2h2m-2,-2h2m3,3h2m-2,1h2m0,-2h2m-1,0h2m-1,1h2m-2,-3h2m-1,3h2m0,-2h2m1,1h2m1,2h2m10,-5h2m-1,2h2m9,-1h2m0,2h2m2,1h2m-308,3h2m-1,3h2m-2,-4h2m10,3h2m1,1h2m-1,2h2m4,-4h2m-1,3h2m-1,0h2m1,-4h2m-2,1h2m0,-1h2m-1,-1h2m1,5h2m0,0h2m10,-2h2m0,-1h2m4,0h2m-2,1h2m11,2h2m0,0h2m0,-3h2m-2,2h2m0,2h2m0,0h2m-2,-2h2m-1,-2h2m1,-1h2m-2,3h2m-2,0h2m3,0h2m0,-2h2m2,3h2m3,-5h2m1,1h2m1,4h2m0,0h2m1,-4h2m-2,5h2m0,-3h2m-1,0h2m-1,-2h2m0,4h2m2,-4h2m-2,2h2m-1,0h2m0,1h2m-1,-3h2m-2,0h2m-1,3h2m-1,1h2m-2,0h2m-1,1h2m0,-1h2m-2,1h2m0,-6h2m-1,5h2m1,0h2m-2,-2h2m-1,-1h2m1,-2h2m1,5h2m-1,-4h2m-2,0h2m3,4h2m-2,-4h2m0,3h2m0,-1h2m0,0h2m-1,0h2m-1,3h2m-1,-3h2m-2,-2h2m-1,1h2m-2,-1h2m-2,3h2m2,-4h2m3,2h2m0,1h2m-2,1h2m-1,-2h2m-2,0h2m-2,2h2m-1,-3h2m0,4h2m-1,1h2m-2,-6h2m7,4h2m2,0h2m-2,2h2m-2,-2h2m4,-1h2m-2,0h2m-1,-1h2m-1,0h2m6,3h2m1,-3h2m-2,2h2m-2,-2h2m1,3h2m-1,-1h2m0,2h2m-1,-2h2m1,-4h2m3,5h2m-1,-5h2m-1,2h2m0,4h2m7,-3h2m2,1h2m4,0h2m2,-3h2m-1,1h2m-2,3h2m-2,-2h2m-1,-3h2m-1,2h2m0,0h2m3,2h2m-1,0h2m0,-4h2m1,4h2m0,-2h2m1,-2h2m1,5h2m0,-2h2m5,0h2m0,1h2m0,0h2m-1,0h2m-2,-2h2m6,1h2m0,-2h2m1,2h2m10,-1h2m-315,6h2m2,0h2m3,-2h2m0,6h2m8,-3h2m-1,-2h2m14,2h2m1,-2h2m-1,5h2m-1,-6h2m-2,2h2m-2,0h2m-1,2h2m-1,-4h2m0,2h2m0,3h2m4,-5h2m-1,5h2m-1,-2h2m-2,-1h2m1,0h2m0,3h2m-2,1h2m1,-1h2m0,-4h2m0,2h2m2,-2h2m0,0h2m2,0h2m-1,5h2m-1,-3h2m6,2h2m-2,-5h2m-1,5h2m-2,-2h2m7,0h2m0,0h2m-1,0h2m0,-2h2m-1,2h2m-2,0h2m0,2h2m-1,-4h2m-2,0h2m0,0h2m2,1h2m2,1h2m-1,1h2m-1,2h2m-2,-2h2m-1,0h2m0,-1h2m0,-1h2m5,4h2m0,-5h2m1,4h2m-2,-5h2m1,5h2m-1,0h2m1,-1h2m-1,-3h2m0,3h2m-1,1h2m-1,-4h2m3,-1h2m-1,2h2m0,-1h2m1,1h2m1,4h2m3,-4h2m-1,-1h2m-2,0h2m0,1h2m-1,0h2m2,0h2m1,3h2m0,-5h2m-2,6h2m-2,-5h2m-2,3h2m2,1h2m-2,-1h2m-1,1h2m2,1h2m-1,-2h2m0,-1h2m0,-1h2m3,2h2m-2,-2h2m-1,0h2m-1,-2h2m-2,1h2m-2,4h2m4,-4h2m-1,5h2m0,0h2m1,-2h2m2,-2h2m8,0h2m2,4h2m-2,-4h2m1,-2h2m-1,3h2m3,3h2m0,-3h2m0,0h2m1,0h2m0,-2h2m-2,2h2m0,-2h2m2,4h2m0,-2h2m-1,-1h2m-1,2h2m-2,2h2m-2,-5h2m-1,0h2m1,0h2m7,4h2m0,-1h2m1,-1h2m21,1h2m7,2h2m-312,4h2m0,-2h2m9,1h2m2,0h2m2,0h2m4,-2h2m3,0h2m-1,4h2m0,0h2m-1,-4h2m-1,4h2m1,-1h2m2,-2h2m-2,0h2m-2,1h2m-1,-2h2m-1,3h2m1,-3h2m-1,0h2m-1,2h2m-1,-2h2m6,4h2m1,-1h2m-2,-2h2m5,2h2m-1,-1h2m1,3h2m-1,-4h2m-2,2h2m-2,-2h2m-1,2h2m0,2h2m0,-2h2m-1,2h2m-2,-6h2m-1,0h2m-1,4h2m-1,-1h2m1,0h2m-1,-3h2m2,4h2m-1,0h2m0,-2h2m0,0h2m-1,-1h2m0,4h2m0,-5h2m3,1h2m-2,-1h2m0,4h2m-2,2h2m0,-6h2m-1,2h2m-1,-1h2m1,2h2m-2,2h2m-1,-1h2m0,0h2m-2,2h2m4,0h2m1,-1h2m-2,-1h2m-1,-3h2m5,-1h2m-1,0h2m-2,4h2m-2,-4h2m0,1h2m-1,1h2m-2,1h2m-2,-1h2m-1,2h2m1,2h2m-2,-3h2m8,-2h2m4,-1h2m-2,3h2m1,3h2m-1,-2h2m-1,-3h2m-1,5h2m-2,-6h2m1,3h2m-2,-2h2m3,3h2m1,0h2m0,2h2m2,-5h2m-1,4h2m-2,0h2m2,0h2m1,-2h2m3,-2h2m0,0h2m-2,4h2m0,-2h2m-1,1h2m-1,1h2m-2,0h2m-2,-3h2m1,2h2m0,-4h2m3,2h2m-1,0h2m-1,1h2m-2,-2h2m1,5h2m-2,0h2m-2,-5h2m0,4h2m0,-5h2m-2,2h2m3,2h2m2,-3h2m11,5h2m0,-2h2m4,-1h2m2,1h2m3,-1h2m4,2h2m4,0h2m-2,0h2m8,-4h2m-2,-1h2m2,3h2m-2,3h2m4,-3h2m3,3h2m-1,-2h2m4,1h2m2,-2h2m-304,9h2m-1,-1h2m-2,-4h2m5,4h2m11,0h2m5,-4h2m4,0h2m1,-1h2m4,4h2m1,0h2m3,-3h2m0,0h2m0,4h2m-1,-5h2m1,4h2m-1,0h2m2,-1h2m5,2h2m0,-1h2m-2,-2h2m2,1h2m2,0h2m1,1h2m-1,1h2m1,0h2m4,0h2m0,1h2m0,-1h2m7,-4h2m1,2h2m1,-3h2m-2,3h2m0,1h2m-2,0h2m-1,-3h2m-1,0h2m-1,2h2m7,3h2m1,-5h2m-2,4h2m-1,-3h2m-1,1h2m-2,-1h2m-1,2h2m-2,0h2m-2,1h2m-1,-2h2m6,1h2m-1,-3h2m-1,5h2m-1,-2h2m-1,-3h2m1,4h2m2,-1h2m-1,-2h2m-1,3h2m-1,-3h2m-2,-1h2m-1,1h2m-1,2h2m1,-1h2m-1,2h2m-1,-5h2m-2,5h2m0,-5h2m-1,2h2m1,3h2m-1,-1h2m-2,1h2m-1,-3h2m0,3h2m-1,0h2m-2,-1h2m0,-3h2m-1,1h2m-1,0h2m-1,1h2m2,-1h2m-1,-1h2m-2,4h2m-1,1h2m-2,-2h2m-1,1h2m-1,-3h2m1,3h2m-2,0h2m4,1h2m-1,-5h2m0,4h2m1,-4h2m0,4h2m-2,-5h2m-2,0h2m1,5h2m-2,-3h2m0,0h2m-2,0h2m-2,0h2m-1,4h2m-2,-3h2m0,3h2m3,-2h2m0,1h2m-2,-2h2m-2,-3h2m0,2h2m-1,0h2m-1,1h2m4,2h2m1,-2h2m0,0h2m0,-2h2m1,1h2m4,2h2m1,-2h2m1,1h2m-1,3h2m-1,-3h2m6,-2h2m5,3h2m7,1h2m1,0h2m0,0h2m7,1h2m-292,2h2m1,-2h2m5,4h2m-1,-3h2m0,0h2m-2,4h2m1,-4h2m-1,4h2m-1,-2h2m3,3h2m3,-3h2m-1,-1h2m5,0h2m2,3h2m-1,-3h2m0,0h2m-1,-1h2m5,-1h2m-2,5h2m1,-3h2m3,4h2m1,-2h2m-2,-4h2m0,4h2m4,0h2m0,-2h2m1,4h2m-2,0h2m2,-1h2m1,-5h2m2,1h2m-2,0h2m0,4h2m-1,1h2m-2,-1h2m-2,-2h2m0,-2h2m-1,4h2m1,0h2m0,-1h2m-2,-1h2m-1,-1h2m-1,-2h2m-2,3h2m-1,1h2m-2,-4h2m0,0h2m-1,2h2m0,1h2m-2,-1h2m8,2h2m-2,1h2m-1,-3h2m-2,1h2m-2,-2h2m-1,1h2m0,4h2m-2,-3h2m-1,2h2m-2,-4h2m0,1h2m3,-2h2m1,1h2m3,0h2m-2,-1h2m0,1h2m-1,0h2m-2,2h2m-2,3h2m2,-2h2m-1,-2h2m0,-2h2m4,4h2m-1,-4h2m-2,4h2m-2,-1h2m7,2h2m-1,-3h2m2,4h2m-2,-5h2m1,3h2m0,1h2m-1,-2h2m-2,0h2m-1,2h2m-2,-2h2m1,2h2m1,-4h2m1,4h2m-1,-2h2m2,0h2m-2,-3h2m-1,5h2m-1,1h2m-1,0h2m1,-5h2m2,-1h2m3,6h2m3,-1h2m-2,0h2m0,-4h2m-1,3h2m-1,-4h2m3,6h2m-1,-5h2m0,5h2m-1,0h2m-1,-5h2m-1,3h2m-2,-1h2m-1,0h2m1,-2h2m0,1h2m6,-1h2m-1,3h2m1,1h2m-1,-3h2m1,2h2m-1,-2h2m3,2h2m-2,2h2m3,-1h2m-1,-4h2m0,4h2m0,-3h2m-2,1h2m-1,3h2m0,-4h2m-2,4h2m1,0h2m15,-4h2m0,0h2m-1,3h2m-2,-4h2m-1,3h2m-2,-2h2m2,2h2m0,0h2m0,-4h2m-287,12h2m5,-5h2m1,2h2m3,2h2m11,-2h2m2,1h2m-1,-1h2m1,3h2m-1,-1h2m-2,-2h2m-1,-2h2m3,1h2m-1,3h2m-2,1h2m0,-5h2m-1,0h2m0,2h2m-1,1h2m1,-3h2m0,-1h2m3,5h2m-2,-4h2m-2,4h2m-2,-4h2m-1,1h2m-2,1h2m0,1h2m0,0h2m-1,-4h2m0,3h2m12,-3h2m0,6h2m1,-2h2m-2,0h2m-2,0h2m4,-2h2m-1,0h2m1,1h2m3,2h2m0,-3h2m-1,1h2m0,2h2m-1,-5h2m-1,2h2m-2,2h2m-1,-4h2m-2,6h2m-1,-4h2m2,-1h2m0,2h2m0,3h2m-2,-1h2m-1,-2h2m1,-1h2m1,2h2m1,2h2m-1,-2h2m-1,-1h2m-1,2h2m0,0h2m-1,-1h2m3,-2h2m-2,3h2m-1,-1h2m-1,-1h2m-2,-2h2m-2,1h2m-2,-1h2m-2,4h2m3,-2h2m-1,3h2m0,-1h2m-1,0h2m-1,0h2m-1,-1h2m-1,-3h2m-1,-1h2m0,0h2m-2,4h2m-1,-3h2m-1,-1h2m0,4h2m2,-3h2m-2,3h2m0,-2h2m1,2h2m-1,-3h2m4,3h2m-2,-3h2m-1,3h2m-2,-1h2m-1,2h2m-1,-2h2m-1,-1h2m-1,-1h2m0,2h2m-2,-3h2m0,3h2m-2,0h2m4,0h2m-2,-2h2m-1,1h2m1,3h2m5,0h2m3,-2h2m0,-1h2m2,4h2m-1,-3h2m1,-1h2m0,0h2m-1,1h2m-1,-1h2m1,0h2m3,4h2m-1,-5h2m-1,2h2m-1,-2h2m-1,4h2m1,-5h2m2,3h2m-2,0h2m-1,-3h2m1,6h2m0,-6h2m-2,1h2m-1,4h2m3,-2h2m-1,2h2m1,-3h2m14,2h2m0,1h2m-2,-5h2m-2,0h2m-1,1h2m4,5h2m-281,0h2m-1,2h2m0,2h2m0,-2h2m5,4h2m0,-3h2m1,-2h2m-2,0h2m-2,1h2m2,1h2m-2,1h2m-2,1h2m10,-4h2m-1,2h2m0,-3h2m-2,5h2m0,-2h2m-1,-1h2m2,1h2m-2,1h2m-2,-1h2m2,-3h2m-2,1h2m2,4h2m-2,-2h2m4,-1h2m-1,1h2m-2,-1h2m0,2h2m2,0h2m-2,-2h2m-1,1h2m2,2h2m-2,-2h2m-1,2h2m-2,-5h2m-1,4h2m-2,2h2m7,-1h2m5,0h2m1,-5h2m-2,1h2m3,3h2m4,-2h2m2,-2h2m-1,3h2m-2,0h2m-2,2h2m0,0h2m-1,-4h2m-1,3h2m-1,-2h2m-1,2h2m-2,1h2m-2,-1h2m1,-3h2m2,3h2m-2,-3h2m-1,2h2m-1,-2h2m-2,3h2m0,1h2m-1,0h2m-1,-5h2m1,5h2m3,-5h2m-1,0h2m-2,4h2m-2,1h2m5,-4h2m0,5h2m4,-2h2m-1,-3h2m3,4h2m-2,-5h2m1,3h2m-1,2h2m0,-4h2m-1,3h2m-2,-2h2m0,1h2m-2,1h2m3,0h2m-1,1h2m-2,-2h2m-1,-1h2m-1,2h2m-2,-1h2m-2,-1h2m4,3h2m3,1h2m0,-6h2m2,1h2m0,5h2m5,0h2m-1,-5h2m1,0h2m4,1h2m-2,4h2m-1,0h2m0,-3h2m1,-2h2m-2,3h2m-1,-1h2m0,2h2m0,-4h2m-1,1h2m-1,-1h2m6,1h2m3,3h2m-1,-4h2m-2,0h2m17,2h2m-1,2h2m13,-2h2m6,-2h2m-1,0h2m-277,6h2m-1,1h2m-1,-2h2m1,2h2m-1,1h2m10,-2h2m-1,2h2m1,0h2m-1,1h2m-2,-1h2m-2,-2h2m-1,0h2m6,0h2m3,5h2m-2,-5h2m-2,4h2m2,0h2m-1,0h2m-1,0h2m-2,-4h2m2,1h2m-2,-2h2m5,3h2m-2,-1h2m3,4h2m-2,-3h2m2,-3h2m-1,3h2m0,-2h2m-2,0h2m-1,1h2m-1,2h2m0,-4h2m-1,6h2m3,-2h2m-1,-1h2m4,1h2m0,1h2m-1,1h2m-2,-5h2m5,2h2m0,-2h2m-1,3h2m1,-3h2m-1,4h2m-2,-4h2m-2,3h2m1,1h2m2,-4h2m-2,5h2m-1,-2h2m-2,-4h2m-1,4h2m1,-2h2m0,0h2m-1,-2h2m-1,2h2m0,0h2m-2,3h2m-1,-2h2m-2,1h2m-2,-3h2m-1,1h2m-2,-1h2m7,4h2m-2,-1h2m0,-3h2m0,5h2m2,-4h2m-2,3h2m0,-2h2m-2,1h2m0,-2h2m2,3h2m-2,-5h2m-1,6h2m0,-1h2m0,-2h2m-2,1h2m-2,-3h2m2,4h2m1,1h2m-1,0h2m-2,0h2m2,-5h2m0,-1h2m-2,1h2m-1,3h2m-2,-4h2m-1,6h2m-1,-4h2m-1,2h2m3,-2h2m-1,2h2m-1,1h2m-2,-3h2m-2,1h2m-1,-2h2m4,0h2m2,1h2m0,-1h2m-1,3h2m0,0h2m-1,-2h2m2,4h2m2,-5h2m0,3h2m-2,-2h2m-1,2h2m-1,0h2m-1,-3h2m1,1h2m11,2h2m4,-3h2m1,0h2m0,1h2m-1,1h2m1,1h2m-2,-4h2m-1,3h2m1,0h2m5,0h2m2,-3h2m1,4h2m4,-3h2m5,3h2m-2,-3h2m-1,0h2m-266,9h2m9,-4h2m-2,5h2m2,0h2m7,0h2m8,0h2m1,-4h2m0,3h2m2,2h2m-1,-4h2m1,3h2m1,-5h2m0,1h2m-1,0h2m1,3h2m-2,-2h2m8,3h2m3,-2h2m-2,1h2m-1,2h2m2,-3h2m-1,1h2m0,-4h2m-2,5h2m0,-4h2m-2,0h2m-2,1h2m-1,2h2m-2,0h2m-1,1h2m-1,1h2m3,-3h2m-1,1h2m-1,2h2m-1,-3h2m-2,2h2m-1,-5h2m-2,4h2m0,-4h2m-2,5h2m-1,-2h2m0,2h2m0,0h2m4,-3h2m-1,2h2m0,-3h2m-1,3h2m-1,1h2m-2,-4h2m1,0h2m-2,2h2m1,-2h2m-1,3h2m0,-2h2m0,3h2m3,-4h2m0,2h2m-2,0h2m-2,2h2m-1,-3h2m-2,-1h2m-1,2h2m0,-3h2m-1,1h2m-2,2h2m-1,-1h2m1,1h2m-2,-2h2m1,3h2m1,1h2m-1,-4h2m-1,1h2m-2,0h2m-1,2h2m-1,0h2m1,-3h2m-2,1h2m-1,3h2m-1,-2h2m0,1h2m0,0h2m-2,0h2m-2,0h2m1,0h2m1,-3h2m-2,3h2m-1,-1h2m0,2h2m-2,-2h2m-1,-2h2m2,2h2m2,1h2m-2,2h2m-2,-6h2m-1,4h2m-1,-3h2m2,4h2m2,-2h2m-2,-2h2m0,2h2m4,3h2m1,-2h2m3,2h2m-2,-4h2m-2,-1h2m0,1h2m0,1h2m1,-1h2m4,2h2m1,-3h2m0,2h2m-1,1h2m0,-1h2m-2,-2h2m-1,0h2m2,4h2m1,-1h2m1,1h2m-1,-2h2m0,-2h2m2,1h2m1,0h2m15,4h2m-245,1h2m7,3h2m2,1h2m5,0h2m5,-4h2m1,4h2m0,-4h2m2,1h2m-1,-1h2m-2,2h2m0,2h2m-2,0h2m5,-3h2m0,1h2m-1,0h2m-1,1h2m-1,-1h2m2,3h2m-2,-5h2m1,0h2m-2,2h2m1,-2h2m-1,4h2m1,-3h2m0,-2h2m-1,1h2m-2,2h2m1,0h2m-2,-2h2m2,1h2m-2,0h2m1,-2h2m-2,4h2m-1,-4h2m0,5h2m-2,1h2m-1,-1h2m-2,-4h2m-1,2h2m0,-2h2m1,1h2m-1,0h2m1,2h2m-1,-4h2m4,3h2m6,0h2m-2,-2h2m-2,2h2m-2,1h2m0,1h2m-2,-4h2m-1,3h2m-2,-4h2m5,5h2m-2,1h2m-1,-4h2m-1,0h2m1,2h2m-2,0h2m-1,-3h2m2,4h2m-1,-2h2m1,1h2m-2,-2h2m-2,1h2m1,0h2m1,-3h2m-2,6h2m-1,-1h2m1,-3h2m4,2h2m0,-1h2m-1,2h2m-1,-3h2m-2,2h2m-1,-3h2m2,1h2m-1,3h2m-2,-2h2m1,-1h2m-1,-1h2m2,5h2m-2,-1h2m-1,0h2m-1,-2h2m-2,0h2m-1,-1h2m6,3h2m2,-4h2m1,1h2m3,2h2m-1,-4h2m-2,1h2m0,1h2m-2,-1h2m1,1h2m-2,1h2m2,1h2m-1,2h2m1,-1h2m1,-3h2m-1,3h2m1,-3h2m3,3h2m6,-3h2m0,-2h2m6,4h2m2,1h2m-235,2h2m9,0h2m3,-1h2m-2,1h2m10,-1h2m-1,3h2m0,-2h2m6,5h2m-2,-2h2m-1,2h2m-2,-6h2m5,4h2m-2,-4h2m-1,3h2m2,0h2m-1,-2h2m-2,2h2m-1,-1h2m2,0h2m-1,0h2m-2,3h2m0,-4h2m0,2h2m-2,-2h2m5,5h2m1,-3h2m-2,-1h2m-1,3h2m-1,-3h2m3,1h2m-1,3h2m-1,-2h2m1,-4h2m1,3h2m5,2h2m1,-3h2m-1,-2h2m2,6h2m-1,-1h2m-1,-2h2m1,-1h2m1,-1h2m0,4h2m-2,-3h2m0,1h2m-1,-2h2m-1,1h2m-1,3h2m-1,1h2m0,-4h2m0,-1h2m0,5h2m-2,-3h2m1,0h2m-2,0h2m0,-2h2m-1,4h2m-1,-1h2m1,-2h2m-2,-1h2m-1,2h2m1,2h2m-1,-3h2m0,0h2m2,3h2m-1,-5h2m-1,5h2m1,-4h2m-1,2h2m0,1h2m-1,0h2m-1,-1h2m-1,1h2m1,-2h2m5,1h2m-2,0h2m2,1h2m-2,-3h2m-1,2h2m0,0h2m4,-2h2m1,5h2m-1,-5h2m-2,2h2m-1,-1h2m-1,-1h2m-1,3h2m-1,-1h2m1,2h2m4,-3h2m-1,0h2m0,3h2m0,-5h2m0,3h2m-1,3h2m3,-1h2m4,-2h2m-2,-2h2m-219,6h2m3,4h2m3,-5h2m2,2h2m-1,-2h2m-2,4h2m13,-2h2m-2,3h2m1,-3h2m2,-1h2m2,2h2m14,-2h2m4,4h2m0,-5h2m-1,2h2m-2,3h2m8,-1h2m0,0h2m3,1h2m-2,-3h2m-2,2h2m-1,-2h2m1,1h2m-2,-3h2m0,6h2m0,-6h2m-2,2h2m-1,1h2m-1,-1h2m4,-2h2m-2,1h2m3,3h2m0,-3h2m-2,1h2m-1,0h2m5,2h2m0,2h2m-1,-6h2m-1,3h2m1,1h2m4,-4h2m0,1h2m-2,0h2m2,4h2m-1,-2h2m0,2h2m-1,-2h2m4,-2h2m-1,2h2m-1,-2h2m6,3h2m-1,-1h2m-1,-1h2m6,-2h2m-1,6h2m1,-2h2m-2,-1h2m-1,-1h2m0,3h2m-1,-1h2m4,0h2m2,-3h2m1,-1h2m-2,4h2m8,-3h2m8,2h2m10,0h2m1,-1h2m-199,4h2m2,1h2m6,2h2m2,1h2m-1,-1h2m-2,-3h2m-2,1h2m-1,5h2m5,-3h2m-1,0h2m2,2h2m1,-1h2m0,-1h2m0,-1h2m5,2h2m-2,-4h2m9,3h2m2,-1h2m2,0h2m-2,-1h2m-1,4h2m-1,-4h2m3,4h2m0,-2h2m1,-2h2m-2,0h2m-1,4h2m-1,0h2m0,-3h2m0,2h2m-1,-1h2m-2,1h2m3,-4h2m2,2h2m-1,-1h2m-1,5h2m-1,-5h2m-2,1h2m-1,1h2m-2,2h2m-2,0h2m6,-5h2m1,2h2m-2,-1h2m0,0h2m-2,4h2m5,-4h2m-1,4h2m-2,-2h2m0,-1h2m1,0h2m-2,-1h2m2,-1h2m-2,6h2m1,-6h2m6,3h2m-2,0h2m-1,-2h2m-2,1h2m-1,-1h2m-1,2h2m1,-1h2m-2,3h2m-1,-4h2m-2,0h2m-2,0h2m3,1h2m1,0h2m-1,0h2m-2,0h2m0,2h2m2,-2h2m3,2h2m-2,-2h2m0,-1h2m-2,5h2m4,-6h2m10,2h2m3,1h2m4,-2h2m-178,7h2m1,-2h2m2,2h2m3,0h2m8,3h2m4,1h2m-1,-6h2m1,5h2m0,-4h2m-2,-1h2m-2,1h2m-1,5h2m0,-4h2m0,1h2m-2,-1h2m1,4h2m0,-1h2m-2,0h2m0,-1h2m6,-2h2m-1,-1h2m1,0h2m1,0h2m-1,2h2m0,-2h2m-1,-1h2m-2,6h2m-1,0h2m-1,-4h2m-1,-1h2m-1,4h2m1,-2h2m-2,-2h2m-1,1h2m-1,0h2m-1,4h2m-1,-2h2m2,1h2m-2,-1h2m0,0h2m0,1h2m0,0h2m-1,-2h2m0,-2h2m0,4h2m-2,-3h2m-1,2h2m-2,-3h2m2,2h2m-1,-2h2m2,0h2m-2,2h2m-1,1h2m-2,-4h2m0,3h2m3,-2h2m-1,0h2m-2,2h2m1,2h2m-2,-3h2m9,-1h2m-2,4h2m2,-2h2m-1,0h2m-1,-2h2m7,4h2m5,1h2m2,-3h2m4,-2h2m6,-1h2m-158,8h2m-2,0h2m-1,4h2m2,-2h2m10,-1h2m-1,-1h2m1,-1h2m2,-1h2m2,0h2m0,2h2m1,2h2m2,-3h2m2,3h2m0,-2h2m-1,0h2m0,3h2m-1,0h2m-2,0h2m-1,0h2m0,-1h2m-1,-4h2m1,5h2m3,0h2m-1,-2h2m2,3h2m-2,-2h2m-1,-3h2m-1,1h2m-1,3h2m0,-1h2m-2,1h2m-1,-2h2m-2,1h2m-1,0h2m-2,0h2m1,1h2m0,-1h2m-2,-4h2m-1,1h2m-2,5h2m-2,-1h2m0,-4h2m-2,3h2m1,-1h2m-1,2h2m-1,-2h2m-2,-2h2m1,0h2m1,1h2m0,0h2m0,-1h2m-2,1h2m-1,2h2m-1,-1h2m1,2h2m-1,-2h2m-1,0h2m1,0h2m1,3h2m12,-4h2m3,2h2m2,-3h2m-1,2h2m1,1h2m7,-3h2m1,0h2m-135,6h2m3,-1h2m0,1h2m0,-1h2m1,0h2m3,5h2m-1,-2h2m14,-1h2m-1,1h2m1,3h2m1,-2h2m-2,-3h2m-1,0h2m-1,4h2m2,-2h2m-1,-1h2m-1,1h2m-1,-3h2m-1,2h2m-1,1h2m0,-1h2m1,-2h2m1,1h2m-2,4h2m1,-1h2m1,-3h2m1,-1h2m-1,5h2m-1,-2h2m2,0h2m-2,0h2m3,1h2m1,-1h2m6,2h2m0,-1h2m-2,1h2m-1,-3h2m-1,4h2m-1,-3h2m-1,-2h2m0,-1h2m7,2h2m0,3h2m-1,0h2m-110,4h2m6,1h2m-1,1h2m6,-2h2m-1,3h2m0,-4h2m-1,0h2m-1,1h2m1,1h2m-1,1h2m6,-1h2m0,2h2m3,-4h2m3,3h2m-1,-1h2m0,-3h2m-2,0h2m1,2h2m0,1h2m-1,-2h2m0,-2h2m-1,3h2m1,-1h2m4,-1h2m2,1h2m-2,1h2m2,-2h2m1,0h2m3,3h2m-1,1h2m8,-2h2m1,-2h2m-1,2h2m4,-3h2m0,1h2m-1,0h2m1,4h2m3,-4h2m-112,7h2m10,2h2m-2,-2h2m-1,2h2m3,-2h2m0,3h2m1,-1h2m0,-4h2m10,2h2m0,-1h2m0,0h2m15,0h2m-2,1h2m2,0h2m2,3h2m4,-2h2m-1,0h2m0,-3h2m0,2h2m9,-1h2m5,-1h2m7,1h2m-93,7h2m2,-2h2m-1,0h2m6,1h2m2,2h2m-1,3h2m2,-1h2m0,-3h2m6,1h2m0,-1h2m5,0h2m0,1h2m2,-1h2m-1,1h2m6,1h2m5,-2h2m8,1h2m-61,7h2m6,-1h2m-1,-3h2m12,1h2m-2,0h2m2,3h2m10,0h2m-1,2h2m3,-3h2m-42,6h2m22,-2h2m-2,5h2m1,-5h2"/><path stroke="#fff" d="M2548,1724h2m-22,7h2m4,-2h2m2,2h2m53,0h2m-1,-1h2m-73,3h2m20,0h2m-2,4h2m5,-1h2m-1,-4h2m-2,0h2m5,3h2m1,-2h2m2,4h2m3,-3h2m8,-2h2m3,2h2m6,1h2m-83,3h2m2,2h2m8,2h2m33,-1h2m2,-1h2m21,3h2m8,-1h2m13,0h2m-119,6h2m11,-3h2m0,-2h2m0,5h2m10,-4h2m20,3h2m16,0h2m-1,2h2m14,-5h2m0,0h2m3,-1h2m7,2h2m5,-2h2m3,5h2m-108,2h2m0,1h2m2,2h2m5,-3h2m3,1h2m20,2h2m5,-4h2m2,2h2m5,2h2m-1,1h2m10,-2h2m10,3h2m-1,-4h2m17,2h2m10,-2h2m-133,10h2m23,-3h2m4,-2h2m19,2h2m6,-2h2m-1,4h2m11,-2h2m27,-2h2m12,5h2m-120,6h2m7,-1h2m20,-2h2m0,1h2m12,1h2m2,-2h2m3,-2h2m-1,4h2m17,0h2m-1,-4h2m7,2h2m2,2h2m0,-1h2m24,-2h2m0,3h2m27,-5h2m-157,8h2m9,2h2m28,0h2m0,-2h2m6,3h2m4,-4h2m3,0h2m5,4h2m15,-5h2m7,1h2m6,5h2m2,-1h2m32,1h2m21,-3h2m-173,9h2m5,-5h2m6,-1h2m10,3h2m3,-1h2m26,0h2m14,-2h2m1,4h2m12,0h2m-2,-3h2m4,2h2m6,0h2m2,-2h2m5,0h2m-1,1h2m15,0h2m2,0h2m5,1h2m7,3h2m4,-4h2m-1,0h2m0,2h2m0,1h2m-180,6h2m1,-3h2m1,-1h2m16,0h2m8,0h2m4,1h2m4,2h2m-1,0h2m3,1h2m10,-5h2m56,5h2m-1,-1h2m7,1h2m-2,-2h2m-1,1h2m0,2h2m29,-1h2m0,-1h2m0,1h2m-1,0h2m0,-4h2m3,2h2m-1,-2h2m8,2h2m-174,9h2m4,-1h2m5,-2h2m10,1h2m22,-2h2m0,0h2m-2,4h2m0,-3h2m31,2h2m0,1h2m7,-3h2m5,-1h2m9,0h2m0,1h2m7,1h2m3,-1h2m1,-2h2m3,4h2m3,-4h2m7,0h2m25,5h2m-201,1h2m7,0h2m11,3h2m2,-3h2m10,2h2m-1,-1h2m3,4h2m10,-2h2m3,1h2m2,-4h2m5,-1h2m0,1h2m9,0h2m20,4h2m10,0h2m6,0h2m10,-2h2m4,3h2m1,-2h2m5,-4h2m7,2h2m13,2h2m5,-4h2m-1,1h2m1,3h2m4,2h2m-1,-4h2m0,4h2m-204,3h2m30,1h2m-2,1h2m57,-2h2m21,2h2m-1,-5h2m-1,2h2m5,2h2m0,-2h2m0,-2h2m10,4h2m3,1h2m4,-3h2m4,2h2m6,1h2m-1,-2h2m-170,5h2m-1,1h2m0,1h2m9,0h2m6,0h2m3,-2h2m7,0h2m1,-1h2m1,2h2m11,-2h2m0,0h2m1,3h2m4,-3h2m-2,4h2m1,-2h2m0,0h2m-2,1h2m-2,1h2m0,-2h2m1,-1h2m7,0h2m0,3h2m11,-2h2m4,-2h2m2,-1h2m0,2h2m71,-1h2m12,1h2m10,-1h2m-209,9h2m1,0h2m0,-1h2m6,2h2m14,0h2m6,0h2m2,-5h2m5,1h2m-1,0h2m12,2h2m14,1h2m17,-1h2m3,1h2m-2,0h2m-1,-2h2m43,1h2m3,-3h2m13,3h2m3,2h2m-2,-2h2m2,-3h2m5,1h2m-1,-1h2m8,1h2m2,4h2m0,0h2m1,-4h2m2,1h2m4,-1h2m-215,6h2m8,5h2m-1,-3h2m-1,0h2m11,2h2m2,1h2m22,-3h2m6,-1h2m4,3h2m12,-1h2m-1,-1h2m10,3h2m-1,-1h2m6,-5h2m11,4h2m14,-2h2m1,3h2m9,1h2m7,-4h2m2,4h2m22,-2h2m-200,7h2m5,-3h2m16,4h2m18,-2h2m-1,1h2m2,-3h2m6,3h2m3,0h2m16,-2h2m-1,0h2m3,-1h2m11,0h2m2,0h2m4,0h2m6,-2h2m1,3h2m1,-3h2m2,0h2m1,1h2m1,4h2m31,-4h2m37,2h2m15,1h2m-230,5h2m9,2h2m10,-3h2m7,4h2m0,-3h2m2,-3h2m77,1h2m12,5h2m4,-6h2m0,1h2m8,0h2m-2,3h2m2,-1h2m0,-2h2m6,1h2m17,2h2m0,1h2m6,-1h2m1,-2h2m1,2h2m-1,1h2m18,-3h2m6,2h2m11,0h2m-239,6h2m14,0h2m2,-1h2m8,0h2m-2,-3h2m13,2h2m21,2h2m15,-2h2m12,-2h2m10,2h2m34,3h2m8,-1h2m16,-4h2m16,3h2m-2,1h2m19,-3h2m14,4h2m10,1h2m-246,3h2m4,-2h2m-2,-1h2m2,4h2m16,-3h2m9,4h2m10,1h2m4,-4h2m-2,4h2m8,-4h2m17,3h2m6,-3h2m10,2h2m9,1h2m32,1h2m-1,-2h2m19,-4h2m-2,5h2m5,-3h2m-1,2h2m17,-4h2m13,5h2m2,-5h2m6,2h2m-1,-1h2m-228,11h2m4,-1h2m21,1h2m31,-2h2m1,-2h2m0,-1h2m2,2h2m12,-1h2m-2,1h2m-1,2h2m2,0h2m0,-3h2m8,3h2m0,-1h2m-2,1h2m9,-5h2m3,4h2m9,-1h2m6,-1h2m21,3h2m12,-5h2m-1,3h2m3,1h2m4,1h2m14,-3h2m9,-2h2m19,3h2m3,3h2m2,-4h2m-277,4h2m20,0h2m10,4h2m0,-3h2m6,4h2m24,-2h2m23,-2h2m-1,2h2m9,1h2m21,1h2m16,-3h2m3,1h2m-2,-1h2m3,2h2m4,0h2m1,-2h2m1,3h2m7,1h2m30,-3h2m2,1h2m0,-1h2m5,3h2m8,-1h2m-254,5h2m14,-4h2m3,3h2m2,-2h2m16,1h2m23,1h2m3,0h2m5,1h2m-2,-3h2m2,5h2m17,-3h2m6,3h2m11,-1h2m-2,-2h2m5,0h2m0,3h2m16,-4h2m22,4h2m0,-1h2m-1,-2h2m10,1h2m6,-4h2m47,4h2m-1,2h2m4,-3h2m13,-2h2m7,4h2m2,-1h2m-2,-4h2m-291,7h2m14,2h2m1,3h2m13,-3h2m2,-2h2m5,0h2m3,0h2m18,3h2m-1,-2h2m1,2h2m0,1h2m27,-2h2m0,3h2m4,-4h2m3,-1h2m30,-1h2m10,0h2m13,1h2m2,3h2m2,0h2m11,-2h2m18,3h2m3,-3h2m11,-2h2m0,3h2m-1,0h2m7,-2h2m18,-1h2m11,4h2m19,-2h2m10,3h2m194,-1h2m-525,4h2m15,1h2m4,-2h2m1,-1h2m0,2h2m7,-1h2m-1,2h2m0,1h2m-2,-3h2m-1,4h2m1,0h2m12,-2h2m-2,2h2m2,-2h2m17,0h2m2,-3h2m-2,5h2m-1,1h2m16,-4h2m4,4h2m5,-2h2m3,1h2m-1,-1h2m22,0h2m19,-3h2m9,4h2m-1,-3h2m17,2h2m4,-3h2m0,-1h2m22,6h2m2,0h2m20,-4h2m-2,4h2m44,-1h2m-1,-3h2m3,-2h2m6,5h2m207,0h2m6,0h2m10,-1h2m-549,3h2m10,3h2m-1,0h2m21,-2h2m-1,-1h2m21,4h2m3,-1h2m5,-1h2m4,2h2m1,-3h2m20,0h2m16,4h2m10,-1h2m13,-3h2m2,-1h2m-1,-1h2m10,0h2m-1,5h2m0,-5h2m3,3h2m18,-3h2m12,1h2m25,-1h2m16,2h2m8,3h2m1,-5h2m-2,2h2m3,-1h2m4,2h2m2,2h2m11,-1h2m9,2h2m6,-1h2m6,-1h2m-2,2h2m10,-1h2m179,-5h2m9,1h2m20,2h2m9,2h2m-1,-5h2m-548,8h2m23,-1h2m1,5h2m5,-2h2m0,-1h2m21,1h2m34,-2h2m-1,-1h2m-2,0h2m6,1h2m3,-1h2m3,1h2m4,3h2m3,-2h2m13,2h2m23,1h2m1,-3h2m17,-3h2m9,1h2m3,5h2m1,-6h2m0,1h2m1,0h2m7,3h2m10,2h2m5,-5h2m3,2h2m6,2h2m52,-2h2m5,0h2m3,-3h2m-1,5h2m198,-3h2m10,3h2m24,0h2m-584,2h2m10,3h2m-1,-3h2m25,1h2m12,-1h2m-1,1h2m-1,1h2m9,-3h2m3,1h2m10,1h2m18,0h2m14,-2h2m21,5h2m2,-3h2m14,0h2m4,1h2m10,0h2m54,1h2m1,0h2m14,-3h2m16,2h2m3,-2h2m12,3h2m-2,-3h2m-1,-1h2m4,3h2m34,3h2m146,0h2m27,-2h2m1,-4h2m0,3h2m20,-1h2m-1,4h2m-2,0h2m7,-1h2m12,-1h2m19,-2h2m14,4h2m-602,4h2m2,2h2m55,0h2m1,-4h2m3,1h2m3,1h2m13,-2h2m-2,-2h2m12,2h2m9,0h2m8,1h2m15,-3h2m9,2h2m10,-1h2m31,-1h2m6,4h2m0,-3h2m5,1h2m100,2h2m11,0h2m3,1h2m141,1h2m10,-2h2m10,-3h2m-1,3h2m3,0h2m-2,-3h2m12,-1h2m14,5h2m22,-4h2m1,1h2m7,3h2m-1,-2h2m-568,9h2m2,-5h2m6,0h2m10,3h2m0,-3h2m3,5h2m-2,0h2m11,-3h2m1,-3h2m4,1h2m10,4h2m5,-4h2m21,2h2m11,-3h2m5,1h2m2,0h2m1,1h2m1,1h2m9,0h2m12,-1h2m3,-2h2m16,5h2m0,-5h2m-2,3h2m0,-1h2m-1,0h2m12,4h2m3,-5h2m28,0h2m1,-1h2m33,3h2m6,-1h2m5,0h2m43,1h2m-2,0h2m5,-3h2m1,5h2m158,-3h2m18,2h2m1,1h2m-1,-3h2m13,2h2m4,-1h2m3,-1h2m7,-1h2m15,3h2m-581,4h2m6,-1h2m15,0h2m-1,3h2m15,0h2m7,2h2m6,-4h2m5,-2h2m4,0h2m23,4h2m2,1h2m14,1h2m1,-4h2m26,-1h2m24,3h2m0,-3h2m11,0h2m2,2h2m19,-2h2m13,3h2m13,0h2m5,-2h2m9,-1h2m8,4h2m39,-3h2m5,4h2m25,-4h2m-1,2h2m118,-4h2m3,0h2m4,5h2m4,-2h2m14,-1h2m13,0h2m18,-1h2m3,2h2m-1,1h2m17,2h2m1,-3h2m7,-1h2m2,0h2m0,3h2m13,-1h2m-591,6h2m0,0h2m4,-4h2m8,5h2m5,-4h2m9,2h2m13,-1h2m12,4h2m5,-5h2m4,-1h2m1,4h2m0,-2h2m1,1h2m2,-2h2m4,2h2m1,1h2m7,-3h2m22,1h2m9,4h2m-2,0h2m11,-1h2m0,-3h2m2,3h2m3,-4h2m2,4h2m6,-4h2m10,2h2m13,1h2m22,-4h2m14,4h2m4,-3h2m3,-1h2m5,2h2m5,4h2m24,0h2m1,-5h2m-2,1h2m9,-1h2m-2,4h2m3,-2h2m1,-3h2m3,2h2m17,3h2m101,-4h2m-1,1h2m1,1h2m20,1h2m15,1h2m1,-2h2m11,1h2m-2,-2h2m16,1h2m-1,-3h2m3,1h2m12,-1h2m4,2h2m11,4h2m13,-5h2m9,0h2m-589,6h2m43,4h2m-1,-1h2m12,-1h2m3,2h2m13,-4h2m10,4h2m2,-2h2m11,-3h2m1,2h2m2,0h2m49,-2h2m2,5h2m7,-3h2m0,3h2m2,-4h2m14,3h2m15,-2h2m39,1h2m0,1h2m-1,-3h2m-1,3h2m9,-1h2m12,1h2m6,-1h2m35,1h2m78,0h2m14,-1h2m9,3h2m0,-3h2m9,1h2m20,0h2m62,-2h2m4,0h2m5,2h2m2,-4h2m-569,7h2m32,3h2m3,1h2m11,-4h2m6,2h2m6,-1h2m2,-2h2m6,5h2m19,0h2m0,-3h2m-1,0h2m3,3h2m0,-3h2m7,4h2m7,-3h2m-1,0h2m29,3h2m2,-5h2m4,-1h2m17,3h2m1,1h2m24,-1h2m2,0h2m3,-2h2m5,1h2m-2,0h2m12,0h2m15,0h2m31,2h2m-1,-1h2m2,-1h2m4,3h2m12,-5h2m11,4h2m135,-4h2m15,0h2m94,3h2m-565,5h2m1,4h2m2,-1h2m1,-2h2m5,-1h2m3,3h2m2,-2h2m22,2h2m-1,0h2m18,-1h2m8,0h2m1,2h2m7,-6h2m4,5h2m0,-3h2m-2,0h2m-1,1h2m1,-1h2m-2,3h2m37,-1h2m0,0h2m2,-1h2m14,0h2m3,-3h2m2,1h2m24,0h2m-1,3h2m12,1h2m10,-2h2m-1,2h2m14,-5h2m15,2h2m4,2h2m33,0h2m5,-4h2m4,6h2m262,-4h2m-583,6h2m19,2h2m3,-3h2m31,3h2m0,-3h2m22,3h2m33,-1h2m6,-1h2m11,1h2m-2,-3h2m16,2h2m-1,-1h2m13,4h2m28,-5h2m28,4h2m11,-4h2m1,1h2m3,-1h2m0,3h2m6,2h2m4,-2h2m-1,-1h2m0,3h2m22,-4h2m4,4h2m0,-4h2m7,1h2m6,-2h2m244,1h2m7,-1h2m-583,12h2m-1,-1h2m6,-2h2m7,2h2m28,-2h2m10,-2h2m11,5h2m-2,-5h2m3,1h2m3,0h2m6,-1h2m15,0h2m-2,0h2m1,3h2m44,2h2m-1,-3h2m11,-1h2m9,-2h2m3,3h2m3,1h2m17,-1h2m27,-3h2m13,5h2m4,1h2m35,-1h2m7,-2h2m1,1h2m-304,4h2m-1,-1h2m6,4h2m0,-4h2m-1,4h2m0,-2h2m1,1h2m25,-1h2m9,-1h2m5,1h2m5,2h2m20,0h2m13,-4h2m26,0h2m6,3h2m1,1h2m0,-5h2m15,6h2m3,-5h2m1,4h2m1,-3h2m3,3h2m30,-1h2m19,1h2m4,0h2m8,-4h2m-1,3h2m18,-4h2m2,5h2m8,-1h2m12,-3h2m8,3h2m-295,7h2m4,-4h2m44,2h2m12,1h2m6,-1h2m31,2h2m11,-2h2m14,1h2m3,1h2m6,1h2m10,-2h2m2,0h2m3,-1h2m17,0h2m5,2h2m3,-1h2m2,-3h2m0,3h2m28,-3h2m0,5h2m0,-1h2m8,-4h2m23,0h2m10,4h2m-304,6h2m7,-4h2m1,0h2m6,1h2m12,3h2m2,0h2m1,0h2m0,0h2m16,-5h2m2,1h2m8,2h2m1,-1h2m8,0h2m6,-2h2m-2,1h2m24,5h2m6,-3h2m-1,2h2m8,-1h2m0,1h2m13,0h2m2,0h2m16,-2h2m25,2h2m12,-4h2m1,3h2m5,0h2m14,-2h2m-2,0h2m0,0h2m0,3h2m-2,-2h2m3,1h2m-2,0h2m12,-2h2m8,0h2m2,3h2m-275,3h2m27,-1h2m4,5h2m7,-6h2m30,5h2m-1,-4h2m13,3h2m-2,1h2m12,-5h2m3,5h2m16,-2h2m2,2h2m1,1h2m4,-6h2m-1,5h2m0,0h2m2,-4h2m-1,4h2m5,-1h2m14,-1h2m9,1h2m0,-1h2m-2,0h2m18,2h2m8,0h2m2,-4h2m5,1h2m6,3h2m-2,-3h2m19,3h2m9,1h2m5,-4h2m1,0h2m-2,-1h2m8,0h2m-273,11h2m20,-3h2m3,2h2m3,-5h2m37,5h2m25,-4h2m12,4h2m1,-4h2m10,0h2m40,2h2m12,-2h2m7,3h2m2,-1h2m15,2h2m12,1h2m6,-4h2m2,-1h2m4,4h2m5,-4h2m9,0h2m-240,5h2m23,1h2m-2,0h2m1,1h2m15,3h2m13,-3h2m42,1h2m-2,2h2m2,0h2m6,-2h2m-1,0h2m9,-3h2m2,3h2m36,2h2m2,0h2m3,-4h2m4,1h2m9,3h2m19,-5h2m-1,1h2m4,-1h2m-205,7h2m1,1h2m3,2h2m7,-2h2m-2,1h2m8,0h2m1,1h2m2,-3h2m8,4h2m19,-1h2m6,0h2m-2,2h2m8,-1h2m6,0h2m2,1h2m6,-5h2m12,3h2m3,0h2m2,-4h2m1,2h2m0,-1h2m-2,5h2m10,-6h2m-1,2h2m9,2h2m17,-1h2m7,-1h2m6,-1h2m-197,10h2m15,-4h2m1,2h2m6,-2h2m19,3h2m5,0h2m19,-3h2m5,4h2m3,-3h2m25,2h2m0,-4h2m42,1h2m20,0h2m0,3h2m-165,6h2m8,0h2m0,0h2m13,-3h2m15,0h2m4,3h2m5,-2h2m8,3h2m3,-4h2m1,5h2m8,-5h2m-1,3h2m4,-2h2m15,3h2m16,0h2m8,-2h2m19,-2h2m-151,7h2m3,2h2m7,1h2m15,-5h2m0,2h2m0,1h2m0,-2h2m1,1h2m-1,4h2m12,-3h2m0,2h2m14,-2h2m34,1h2m-1,-3h2m1,4h2m10,-4h2m14,0h2m454,4h2m-2,0h2m-536,5h2m16,2h2m47,-4h2m467,0h2m-575,6h2m13,3h2m9,-1h2m33,-1h2m0,1h2m9,-3h2m498,5h2m-558,4h2m10,-1h2m5,-2h2m4,2h2m15,-2h2m492,3h2m10,-4h2m-503,6h2m2,1h2m492,3h2m1,-4h2m1,4h2m-12,6h2m-1,0h2m7,-3h2m-22,8h2m13,8h2m-2,-1h2m2,-4h2m-1,0h2m-23,9h2m8,-2h2m4,8h2m5,-2h2m-19,5h2m11,6h2m4,-5h2m-31,7h2m10,-1h2m2,0h2m-7,9h2m11,-3h2m-15,14h2m2,6h2m-14,11h2m-395,53h2m-26,9h2m3,-3h2m-98,7h2m2,0h2m102,4h2m-130,3h2m1,-2h2m17,3h2m7,-2h2m32,0h2m26,-2h2m7,2h2m14,1h2m-133,8h2m37,-2h2m1,-2h2m35,2h2m6,2h2m4,1h2m45,-3h2m13,-2h2m-157,9h2m20,2h2m57,-1h2m66,1h2m-154,4h2m9,-2h2m1,1h2m12,-2h2m19,2h2m15,1h2m16,0h2m24,-3h2m40,3h2m-171,5h2m-2,2h2m16,-1h2m3,0h2m16,-2h2m-1,2h2m0,-3h2m23,2h2m34,2h2m14,-4h2m45,5h2m10,-3h2m2,3h2m-198,2h2m16,0h2m8,2h2m7,-1h2m36,1h2m10,-1h2m7,1h2m3,1h2m15,1h2m15,-4h2m5,-2h2m18,5h2m1,-2h2m11,-1h2m9,1h2m15,-3h2m0,5h2m-1,0h2m-232,5h2m13,-4h2m9,0h2m2,1h2m14,4h2m12,-1h2m29,1h2m27,-3h2m13,0h2m19,-1h2m15,5h2m13,0h2m26,-4h2m-205,6h2m15,-1h2m11,3h2m18,-4h2m9,1h2m11,2h2m33,0h2m35,2h2m4,-2h2m28,-3h2m17,5h2m-218,3h2m1,-1h2m-2,3h2m2,0h2m10,-1h2m75,3h2m1,-2h2m8,-3h2m6,3h2m17,-2h2m-2,-2h2m6,4h2m22,-2h2m-2,-2h2m38,1h2m20,3h2m30,1h2m-1,-2h2m-281,6h2m1,-2h2m-1,2h2m26,3h2m1,-6h2m5,1h2m6,4h2m28,-2h2m3,0h2m8,-2h2m16,0h2m1,2h2m11,1h2m6,1h2m21,-2h2m14,-2h2m4,0h2m40,1h2m28,4h2m1,-5h2m4,0h2m-1,4h2m-264,3h2m2,1h2m41,0h2m7,2h2m10,-3h2m31,-2h2m5,5h2m12,-3h2m1,-2h2m0,4h2m1,-3h2m5,3h2m27,-1h2m36,-2h2m0,5h2m0,-2h2m-2,-2h2m6,0h2m5,2h2m13,0h2m0,-3h2m14,4h2m12,-2h2m0,1h2m-230,3h2m0,1h2m34,2h2m26,-1h2m3,-1h2m-2,2h2m10,-4h2m17,2h2m-2,3h2m17,-3h2m-1,1h2m4,-3h2m16,1h2m6,5h2m-1,-6h2m7,5h2m39,0h2m4,-3h2m5,-2h2m8,3h2m-263,5h2m8,2h2m13,-2h2m9,2h2m27,-3h2m29,4h2m-2,0h2m1,0h2m11,-1h2m-1,0h2m11,2h2m5,-2h2m0,-3h2m17,2h2m-2,0h2m6,-2h2m13,5h2m15,-4h2m4,-1h2m18,2h2m27,2h2m-252,5h2m40,-3h2m11,1h2m5,0h2m3,2h2m-1,-1h2m17,-3h2m1,6h2m0,-5h2m35,5h2m0,-3h2m-2,1h2m3,2h2m-1,-5h2m9,4h2m3,-2h2m5,0h2m4,0h2m31,-1h2m8,3h2m17,0h2m14,0h2m6,-1h2m-2,0h2m-222,4h2m4,2h2m16,1h2m4,-3h2m3,2h2m36,-1h2m12,1h2m2,1h2m13,-2h2m31,1h2m5,1h2m2,-3h2m-2,3h2m26,1h2m10,-5h2m13,2h2m-221,5h2m-1,1h2m-1,1h2m0,0h2m7,-1h2m50,-1h2m0,3h2m17,-5h2m24,1h2m12,3h2m-1,0h2m6,2h2m74,-5h2m-2,0h2m14,-1h2m1,5h2m-2,1h2m-205,3h2m12,3h2m7,-2h2m1,0h2m9,-4h2m16,5h2m-1,-4h2m16,3h2m-1,-4h2m8,2h2m10,-1h2m7,4h2m10,-3h2m6,1h2m24,-2h2m6,2h2m19,1h2m15,-1h2m-194,9h2m0,-5h2m35,0h2m3,3h2m2,2h2m7,-2h2m2,-2h2m14,1h2m6,3h2m8,-5h2m2,2h2m-1,1h2m2,0h2m2,-3h2m12,4h2m26,-4h2m6,4h2m-2,-4h2m2,2h2m-181,6h2m3,-1h2m-1,2h2m6,-2h2m-1,0h2m1,3h2m1,-2h2m6,1h2m22,-2h2m2,4h2m2,-6h2m30,5h2m24,-4h2m9,1h2m10,3h2m23,-2h2m3,1h2m19,-3h2m1,2h2m-188,9h2m4,-5h2m6,2h2m4,-2h2m21,2h2m5,3h2m6,-2h2m14,2h2m-2,-1h2m7,-5h2m19,6h2m33,-5h2m32,3h2m-138,6h2m7,-2h2m25,2h2m9,-4h2m17,5h2m3,-1h2m3,-3h2m6,1h2m3,-1h2m22,3h2m-137,5h2m9,0h2m24,1h2m1,-4h2m12,5h2m7,-1h2m31,1h2m13,-3h2m1,0h2m1,1h2m13,2h2m7,-3h2m-115,4h2m3,1h2m0,1h2m5,0h2m14,3h2m1,-1h2m-1,1h2m18,-2h2m31,2h2m10,-4h2m6,3h2m-114,2h2m7,5h2m-2,-3h2m8,0h2m6,1h2m33,2h2m3,-4h2m0,-1h2m0,3h2m8,-2h2m-65,6h2m0,4h2m17,-2h2m14,1h2m2,-1h2m0,0h2m10,1h2m2,-4h2m3,6h2m4,-2h2m-1,1h2m-67,3h2m0,-1h2m2,1h2m0,1h2m19,3h2m3,-3h2m19,-1h2m-28,10h2m2,-5h2m15,3h2m-27,2h2"/></g><path d="M1175.3,1135.7V1179.6H1226.4" stroke="#000" stroke-width="1.8" fill="none"/><text x="1173.7" y="1195.0" font-size="14.9">UMAP1</text><text x="1166.6" y="1157.7" font-size="14.9" text-anchor="middle" transform="rotate(-90 1166.6 1157.7)">UMAP2</text><text x="1668.4" y="795.9" font-size="30.2" font-weight="bold">f</text><text x="1743.7" y="795.9" font-size="22.4">r<tspan dy="-8" font-size="15.5">2</tspan><tspan dy="8">=0.065</tspan></text><g fill="#7d7d7d" stroke="#666" stroke-width="0.9"><circle cx="1802.1" cy="1122.3" r="2.4"/><circle cx="1788.9" cy="1080.5" r="2.4"/><circle cx="1791.7" cy="994.0" r="2.4"/><circle cx="1794.8" cy="1061.8" r="2.4"/><circle cx="1796.7" cy="1095.2" r="2.4"/><circle cx="1784.8" cy="1118.8" r="2.4"/><circle cx="1790.7" cy="1154.6" r="2.4"/><circle cx="1795.2" cy="1077.1" r="2.4"/><circle cx="1795.6" cy="1041.0" r="2.4"/><circle cx="1791.0" cy="1125.1" r="2.4"/><circle cx="1797.6" cy="1086.2" r="2.4"/><circle cx="1794.2" cy="1042.6" r="2.4"/><circle cx="1800.0" cy="1086.5" r="2.4"/><circle cx="1799.0" cy="1074.7" r="2.4"/><circle cx="1796.1" cy="1039.3" r="2.4"/><circle cx="1791.8" cy="994.2" r="2.4"/><circle cx="1790.5" cy="1098.0" r="2.4"/><circle cx="1803.5" cy="1125.3" r="2.4"/><circle cx="1795.0" cy="965.9" r="2.4"/><circle cx="1801.4" cy="1040.2" r="2.4"/><circle cx="1801.5" cy="1025.3" r="2.4"/><circle cx="1791.4" cy="1154.4" r="2.4"/><circle cx="1802.8" cy="1047.4" r="2.4"/><circle cx="1790.2" cy="1069.1" r="2.4"/><circle cx="1791.3" cy="1097.7" r="2.4"/><circle cx="1803.2" cy="1129.1" r="2.4"/><circle cx="1795.0" cy="1114.6" r="2.4"/><circle cx="1801.4" cy="940.8" r="2.4"/><circle cx="1791.5" cy="1054.7" r="2.4"/><circle cx="1803.8" cy="1050.0" r="2.4"/><circle cx="1801.8" cy="1036.8" r="2.4"/><circle cx="1797.7" cy="1069.5" r="2.4"/><circle cx="1797.2" cy="1088.1" r="2.4"/><circle cx="1787.0" cy="994.6" r="2.4"/><circle cx="1796.2" cy="1079.5" r="2.4"/><circle cx="1793.2" cy="1111.2" r="2.4"/><circle cx="1805.9" cy="1026.6" r="2.4"/><circle cx="1796.7" cy="1036.4" r="2.4"/><circle cx="1805.5" cy="1172.3" r="2.4"/><circle cx="1794.7" cy="1070.8" r="2.4"/><circle cx="1794.6" cy="1145.3" r="2.4"/><circle cx="1795.3" cy="1144.0" r="2.4"/><circle cx="1795.1" cy="1046.6" r="2.4"/><circle cx="1790.2" cy="1058.2" r="2.4"/><circle cx="1791.3" cy="986.5" r="2.4"/><circle cx="1793.9" cy="1189.0" r="2.4"/><circle cx="1789.3" cy="1123.2" r="2.4"/><circle cx="1796.5" cy="1097.7" r="2.4"/><circle cx="1794.1" cy="1149.3" r="2.4"/><circle cx="1798.7" cy="986.7" r="2.4"/><circle cx="1795.6" cy="1085.1" r="2.4"/><circle cx="1794.6" cy="1083.1" r="2.4"/><circle cx="1794.4" cy="1030.0" r="2.4"/><circle cx="1790.0" cy="1077.0" r="2.4"/><circle cx="1791.5" cy="1035.0" r="2.4"/><circle cx="1806.9" cy="1066.4" r="2.4"/><circle cx="1788.7" cy="1140.9" r="2.4"/><circle cx="1781.7" cy="1163.6" r="2.4"/><circle cx="1796.9" cy="1192.7" r="2.4"/><circle cx="1784.6" cy="1115.4" r="2.4"/><circle cx="1798.3" cy="1168.0" r="2.4"/><circle cx="1792.9" cy="1124.0" r="2.4"/><circle cx="1802.4" cy="1055.0" r="2.4"/><circle cx="1800.6" cy="954.6" r="2.4"/><circle cx="1795.9" cy="1066.7" r="2.4"/><circle cx="1802.8" cy="963.3" r="2.4"/><circle cx="1797.4" cy="1095.0" r="2.4"/><circle cx="1795.2" cy="1057.7" r="2.4"/><circle cx="1787.6" cy="1106.8" r="2.4"/><circle cx="1786.4" cy="1108.9" r="2.4"/><circle cx="1797.9" cy="999.3" r="2.4"/><circle cx="1802.6" cy="1150.8" r="2.4"/><circle cx="1784.4" cy="1020.0" r="2.4"/><circle cx="1799.4" cy="960.8" r="2.4"/><circle cx="1788.1" cy="946.9" r="2.4"/><circle cx="1797.2" cy="1042.5" r="2.4"/><circle cx="1795.8" cy="1063.0" r="2.4"/><circle cx="1786.7" cy="1010.0" r="2.4"/><circle cx="1787.2" cy="1153.1" r="2.4"/><circle cx="1791.6" cy="1110.4" r="2.4"/><circle cx="1796.4" cy="1052.7" r="2.4"/><circle cx="1791.2" cy="1073.7" r="2.4"/><circle cx="1800.1" cy="1103.2" r="2.4"/><circle cx="1795.5" cy="1028.0" r="2.4"/><circle cx="1803.4" cy="1095.7" r="2.4"/><circle cx="1798.5" cy="1112.7" r="2.4"/><circle cx="1793.4" cy="1003.7" r="2.4"/><circle cx="1788.8" cy="1024.2" r="2.4"/><circle cx="1796.0" cy="1012.5" r="2.4"/><circle cx="1798.6" cy="1174.5" r="2.4"/><circle cx="1802.0" cy="1131.2" r="2.4"/><circle cx="1794.0" cy="1117.9" r="2.4"/><circle cx="1793.1" cy="1058.0" r="2.4"/><circle cx="1791.9" cy="1059.4" r="2.4"/><circle cx="1794.9" cy="1033.7" r="2.4"/><circle cx="1801.3" cy="1062.5" r="2.4"/><circle cx="1785.1" cy="1073.6" r="2.4"/><circle cx="1797.5" cy="1069.7" r="2.4"/><circle cx="1788.9" cy="1008.9" r="2.4"/><circle cx="1794.0" cy="979.2" r="2.4"/><circle cx="1794.1" cy="926.3" r="2.4"/><circle cx="1792.9" cy="1033.2" r="2.4"/><circle cx="1800.9" cy="1145.2" r="2.4"/><circle cx="1803.4" cy="1019.1" r="2.4"/><circle cx="1791.7" cy="1022.2" r="2.4"/><circle cx="1791.3" cy="1179.3" r="2.4"/><circle cx="1790.4" cy="1117.7" r="2.4"/><circle cx="1796.7" cy="1039.3" r="2.4"/><circle cx="1795.8" cy="1092.4" r="2.4"/><circle cx="1796.1" cy="1084.7" r="2.4"/><circle cx="1800.2" cy="1028.7" r="2.4"/><circle cx="1786.6" cy="1118.4" r="2.4"/><circle cx="1795.5" cy="986.6" r="2.4"/><circle cx="1785.9" cy="1006.7" r="2.4"/><circle cx="1795.0" cy="1096.2" r="2.4"/><circle cx="1792.1" cy="1165.5" r="2.4"/><circle cx="1800.8" cy="1030.5" r="2.4"/><circle cx="1790.2" cy="976.2" r="2.4"/><circle cx="1797.8" cy="1163.0" r="2.4"/><circle cx="1796.0" cy="1017.0" r="2.4"/><circle cx="1799.2" cy="1156.8" r="2.4"/><circle cx="1797.9" cy="1026.2" r="2.4"/><circle cx="1796.6" cy="1106.0" r="2.4"/><circle cx="1791.8" cy="1026.3" r="2.4"/><circle cx="1796.7" cy="1190.6" r="2.4"/><circle cx="1795.0" cy="1045.6" r="2.4"/><circle cx="1791.7" cy="1020.2" r="2.4"/><circle cx="1793.2" cy="1080.8" r="2.4"/><circle cx="1803.7" cy="1040.0" r="2.4"/><circle cx="1806.2" cy="1091.3" r="2.4"/><circle cx="1799.2" cy="980.3" r="2.4"/><circle cx="1804.6" cy="1039.0" r="2.4"/><circle cx="1794.3" cy="1086.9" r="2.4"/><circle cx="1797.5" cy="1141.9" r="2.4"/><circle cx="1797.8" cy="991.8" r="2.4"/><circle cx="1793.8" cy="1049.2" r="2.4"/><circle cx="1787.1" cy="1065.1" r="2.4"/><circle cx="1792.6" cy="1010.2" r="2.4"/><circle cx="1790.8" cy="1144.5" r="2.4"/><circle cx="1799.6" cy="1127.0" r="2.4"/><circle cx="1787.4" cy="1009.7" r="2.4"/><circle cx="1799.8" cy="1017.9" r="2.4"/><circle cx="1786.7" cy="1111.7" r="2.4"/><circle cx="1791.4" cy="1122.1" r="2.4"/><circle cx="1792.9" cy="1054.3" r="2.4"/><circle cx="1786.5" cy="1061.1" r="2.4"/><circle cx="1788.3" cy="1019.2" r="2.4"/><circle cx="1790.2" cy="1118.8" r="2.4"/><circle cx="1802.0" cy="1109.4" r="2.4"/><circle cx="1798.2" cy="1022.5" r="2.4"/><circle cx="1786.4" cy="1055.7" r="2.4"/><circle cx="1791.9" cy="1108.1" r="2.4"/><circle cx="1797.7" cy="1136.6" r="2.4"/><circle cx="1791.0" cy="1121.8" r="2.4"/><circle cx="1783.6" cy="1140.7" r="2.4"/><circle cx="1802.2" cy="1038.5" r="2.4"/><circle cx="1789.5" cy="1064.7" r="2.4"/><circle cx="1801.6" cy="1064.8" r="2.4"/><circle cx="1800.0" cy="1057.1" r="2.4"/><circle cx="1801.1" cy="983.5" r="2.4"/><circle cx="1800.7" cy="1103.1" r="2.4"/><circle cx="1786.4" cy="1027.3" r="2.4"/><circle cx="1787.1" cy="1100.9" r="2.4"/><circle cx="1798.1" cy="1082.4" r="2.4"/><circle cx="1783.6" cy="1142.2" r="2.4"/><circle cx="1797.0" cy="994.7" r="2.4"/><circle cx="1787.6" cy="983.9" r="2.4"/><circle cx="1806.3" cy="1009.5" r="2.4"/><circle cx="1793.7" cy="950.5" r="2.4"/><circle cx="1794.1" cy="1058.8" r="2.4"/><circle cx="1800.6" cy="1013.4" r="2.4"/><circle cx="1787.4" cy="1070.2" r="2.4"/><circle cx="1792.3" cy="1029.4" r="2.4"/><circle cx="1796.3" cy="1036.4" r="2.4"/><circle cx="1801.2" cy="974.4" r="2.4"/><circle cx="1796.8" cy="1103.7" r="2.4"/><circle cx="1791.9" cy="965.7" r="2.4"/><circle cx="1801.4" cy="1048.6" r="2.4"/><circle cx="1797.8" cy="997.3" r="2.4"/><circle cx="1788.0" cy="1157.9" r="2.4"/><circle cx="1797.0" cy="1060.2" r="2.4"/><circle cx="1790.2" cy="916.8" r="2.4"/><circle cx="1799.1" cy="1004.7" r="2.4"/><circle cx="1790.4" cy="1179.8" r="2.4"/><circle cx="1792.2" cy="1065.3" r="2.4"/><circle cx="1797.5" cy="1085.2" r="2.4"/><circle cx="1797.5" cy="1126.1" r="2.4"/><circle cx="1791.9" cy="1115.3" r="2.4"/><circle cx="1791.7" cy="1042.2" r="2.4"/><circle cx="1803.7" cy="1057.7" r="2.4"/><circle cx="1794.1" cy="1073.9" r="2.4"/><circle cx="1792.9" cy="1029.8" r="2.4"/><circle cx="1787.8" cy="1008.1" r="2.4"/><circle cx="1792.1" cy="1037.1" r="2.4"/><circle cx="1804.6" cy="1125.4" r="2.4"/><circle cx="1804.6" cy="1128.6" r="2.4"/><circle cx="1802.9" cy="1034.6" r="2.4"/><circle cx="1801.5" cy="1136.5" r="2.4"/><circle cx="1794.3" cy="984.8" r="2.4"/><circle cx="1808.4" cy="1083.7" r="2.4"/><circle cx="1792.6" cy="1064.6" r="2.4"/><circle cx="1797.4" cy="1114.9" r="2.4"/><circle cx="1795.9" cy="1055.0" r="2.4"/><circle cx="1793.1" cy="968.3" r="2.4"/><circle cx="1802.9" cy="1046.1" r="2.4"/><circle cx="1800.6" cy="1138.2" r="2.4"/><circle cx="1787.4" cy="961.4" r="2.4"/><circle cx="1789.2" cy="1144.0" r="2.4"/><circle cx="1797.4" cy="1190.7" r="2.4"/><circle cx="1797.6" cy="1191.3" r="2.4"/><circle cx="1786.0" cy="985.0" r="2.4"/><circle cx="1784.4" cy="1095.4" r="2.4"/><circle cx="1790.8" cy="1027.0" r="2.4"/><circle cx="1795.2" cy="1092.2" r="2.4"/><circle cx="1793.0" cy="1041.6" r="2.4"/><circle cx="1791.9" cy="1074.7" r="2.4"/><circle cx="1788.5" cy="1068.5" r="2.4"/><circle cx="1784.3" cy="1071.7" r="2.4"/><circle cx="1805.4" cy="1106.2" r="2.4"/><circle cx="1788.0" cy="1070.7" r="2.4"/><circle cx="1789.6" cy="1059.6" r="2.4"/><circle cx="1790.8" cy="1178.6" r="2.4"/><circle cx="1797.0" cy="1029.7" r="2.4"/><circle cx="1789.8" cy="1081.7" r="2.4"/><circle cx="1802.3" cy="1142.9" r="2.4"/><circle cx="1789.7" cy="1060.4" r="2.4"/><circle cx="1808.5" cy="1161.0" r="2.4"/><circle cx="1794.5" cy="1147.2" r="2.4"/><circle cx="1794.0" cy="1062.5" r="2.4"/><circle cx="1787.3" cy="1093.0" r="2.4"/><circle cx="1804.2" cy="1141.1" r="2.4"/><circle cx="1799.6" cy="1122.8" r="2.4"/><circle cx="1793.4" cy="1181.2" r="2.4"/><circle cx="1800.6" cy="1059.3" r="2.4"/><circle cx="1798.2" cy="1145.6" r="2.4"/><circle cx="1790.8" cy="1051.6" r="2.4"/><circle cx="1790.0" cy="1045.9" r="2.4"/><circle cx="1794.8" cy="1125.2" r="2.4"/><circle cx="1789.4" cy="1082.5" r="2.4"/><circle cx="1792.6" cy="1166.8" r="2.4"/><circle cx="1792.7" cy="1028.1" r="2.4"/><circle cx="1788.5" cy="996.7" r="2.4"/><circle cx="1803.4" cy="1157.4" r="2.4"/><circle cx="1800.1" cy="1050.8" r="2.4"/><circle cx="1799.3" cy="1127.2" r="2.4"/><circle cx="1798.5" cy="1059.4" r="2.4"/><circle cx="1801.5" cy="1074.0" r="2.4"/><circle cx="1789.6" cy="1116.1" r="2.4"/><circle cx="1801.3" cy="1167.7" r="2.4"/><circle cx="1789.2" cy="1121.7" r="2.4"/><circle cx="1792.5" cy="1134.2" r="2.4"/><circle cx="1793.3" cy="1154.9" r="2.4"/><circle cx="1791.9" cy="1114.7" r="2.4"/><circle cx="1795.1" cy="1135.4" r="2.4"/><circle cx="1795.5" cy="1104.4" r="2.4"/><circle cx="1796.8" cy="1060.1" r="2.4"/><circle cx="1790.5" cy="1109.0" r="2.4"/><circle cx="1786.2" cy="1027.4" r="2.4"/><circle cx="1793.3" cy="1120.2" r="2.4"/><circle cx="1800.4" cy="1096.6" r="2.4"/><circle cx="1800.2" cy="1103.2" r="2.4"/><circle cx="1784.9" cy="1167.0" r="2.4"/><circle cx="1797.3" cy="999.6" r="2.4"/><circle cx="1795.6" cy="1045.2" r="2.4"/><circle cx="1788.2" cy="1045.4" r="2.4"/><circle cx="1792.0" cy="1016.5" r="2.4"/><circle cx="1795.4" cy="1014.2" r="2.4"/><circle cx="1801.1" cy="1155.9" r="2.4"/><circle cx="1792.7" cy="1084.2" r="2.4"/><circle cx="1792.6" cy="1060.5" r="2.4"/><circle cx="1795.5" cy="1109.6" r="2.4"/><circle cx="1803.2" cy="1066.6" r="2.4"/><circle cx="1805.2" cy="1072.8" r="2.4"/><circle cx="1804.3" cy="963.2" r="2.4"/><circle cx="1795.6" cy="1009.5" r="2.4"/><circle cx="1794.1" cy="1067.1" r="2.4"/><circle cx="1794.5" cy="1121.2" r="2.4"/><circle cx="1803.9" cy="1115.6" r="2.4"/><circle cx="1792.4" cy="1042.3" r="2.4"/><circle cx="1792.6" cy="1078.9" r="2.4"/><circle cx="1788.6" cy="1143.3" r="2.4"/><circle cx="1794.5" cy="1040.2" r="2.4"/><circle cx="1794.7" cy="914.7" r="2.4"/><circle cx="1802.8" cy="1084.9" r="2.4"/><circle cx="1795.8" cy="1067.3" r="2.4"/><circle cx="1791.6" cy="1098.8" r="2.4"/><circle cx="1800.4" cy="982.2" r="2.4"/><circle cx="1793.0" cy="968.6" r="2.4"/><circle cx="1790.1" cy="1073.7" r="2.4"/><circle cx="1787.2" cy="1015.3" r="2.4"/><circle cx="1800.9" cy="1040.4" r="2.4"/><circle cx="1789.7" cy="987.6" r="2.4"/><circle cx="1791.0" cy="1007.7" r="2.4"/><circle cx="1787.6" cy="1122.8" r="2.4"/><circle cx="1804.0" cy="1003.6" r="2.4"/><circle cx="1790.7" cy="1112.7" r="2.4"/><circle cx="1808.7" cy="1096.8" r="2.4"/><circle cx="1791.9" cy="1013.0" r="2.4"/><circle cx="1791.2" cy="1187.5" r="2.4"/><circle cx="1805.2" cy="1001.6" r="2.4"/><circle cx="1789.1" cy="833.6" r="2.4"/><circle cx="1804.0" cy="886.0" r="2.4"/><circle cx="1801.9" cy="1193.0" r="2.4"/><circle cx="1920.1" cy="1118.6" r="2.4"/><circle cx="1913.5" cy="1131.1" r="2.4"/><circle cx="1917.9" cy="1058.3" r="2.4"/><circle cx="1914.5" cy="1050.4" r="2.4"/><circle cx="1925.5" cy="1170.2" r="2.4"/><circle cx="1928.2" cy="1144.2" r="2.4"/><circle cx="1917.4" cy="1104.5" r="2.4"/><circle cx="1928.5" cy="1073.0" r="2.4"/><circle cx="1926.6" cy="1011.2" r="2.4"/><circle cx="1913.7" cy="1065.9" r="2.4"/><circle cx="1922.0" cy="1141.9" r="2.4"/><circle cx="1915.9" cy="1049.7" r="2.4"/><circle cx="1912.7" cy="1150.3" r="2.4"/><circle cx="1925.8" cy="1117.3" r="2.4"/><circle cx="1920.6" cy="1191.5" r="2.4"/><circle cx="1932.6" cy="1078.8" r="2.4"/><circle cx="1922.2" cy="1070.9" r="2.4"/><circle cx="1918.7" cy="1165.4" r="2.4"/><circle cx="1924.7" cy="1139.1" r="2.4"/><circle cx="1933.1" cy="1107.5" r="2.4"/><circle cx="1918.0" cy="1090.2" r="2.4"/><circle cx="1929.1" cy="1025.7" r="2.4"/><circle cx="1919.9" cy="1099.8" r="2.4"/><circle cx="1928.9" cy="1157.4" r="2.4"/><circle cx="1916.6" cy="1146.2" r="2.4"/><circle cx="1925.2" cy="1094.9" r="2.4"/><circle cx="1927.5" cy="1073.8" r="2.4"/><circle cx="1919.3" cy="1032.6" r="2.4"/><circle cx="1918.5" cy="1054.7" r="2.4"/><circle cx="1924.9" cy="1069.3" r="2.4"/><circle cx="1929.2" cy="1092.5" r="2.4"/><circle cx="1930.0" cy="1105.9" r="2.4"/><circle cx="1924.6" cy="1060.0" r="2.4"/><circle cx="1919.8" cy="1134.1" r="2.4"/><circle cx="1922.8" cy="1132.0" r="2.4"/><circle cx="1927.4" cy="1106.2" r="2.4"/><circle cx="1919.2" cy="1065.5" r="2.4"/><circle cx="1922.1" cy="1141.4" r="2.4"/><circle cx="1918.2" cy="1095.1" r="2.4"/><circle cx="1920.8" cy="1022.2" r="2.4"/><circle cx="1911.1" cy="1049.6" r="2.4"/><circle cx="1925.4" cy="1105.3" r="2.4"/><circle cx="1927.2" cy="1095.1" r="2.4"/><circle cx="1924.8" cy="1090.6" r="2.4"/><circle cx="1911.0" cy="1141.6" r="2.4"/><circle cx="1925.6" cy="1072.7" r="2.4"/><circle cx="1919.4" cy="1115.0" r="2.4"/><circle cx="1934.1" cy="1134.8" r="2.4"/><circle cx="1923.6" cy="1016.1" r="2.4"/><circle cx="1915.2" cy="1038.8" r="2.4"/><circle cx="1919.1" cy="1129.8" r="2.4"/><circle cx="1924.9" cy="1133.7" r="2.4"/><circle cx="1924.2" cy="1138.9" r="2.4"/><circle cx="1923.7" cy="1090.8" r="2.4"/><circle cx="1933.7" cy="1057.2" r="2.4"/><circle cx="1924.8" cy="1168.8" r="2.4"/><circle cx="1925.9" cy="1118.6" r="2.4"/><circle cx="1914.2" cy="1183.6" r="2.4"/><circle cx="1925.0" cy="1078.0" r="2.4"/><circle cx="1910.9" cy="1101.2" r="2.4"/><circle cx="1919.7" cy="1124.1" r="2.4"/><circle cx="1918.9" cy="1177.5" r="2.4"/><circle cx="1926.9" cy="1069.1" r="2.4"/><circle cx="1926.7" cy="1106.1" r="2.4"/><circle cx="1924.3" cy="1135.9" r="2.4"/><circle cx="1926.9" cy="1102.9" r="2.4"/><circle cx="1923.1" cy="1108.6" r="2.4"/><circle cx="1920.4" cy="1111.9" r="2.4"/><circle cx="1926.7" cy="990.3" r="2.4"/><circle cx="1936.5" cy="1082.9" r="2.4"/><circle cx="1915.3" cy="1032.9" r="2.4"/><circle cx="1928.5" cy="1069.3" r="2.4"/><circle cx="1931.1" cy="1008.2" r="2.4"/><circle cx="1917.4" cy="1065.4" r="2.4"/><circle cx="1925.4" cy="1149.7" r="2.4"/><circle cx="1918.3" cy="1079.0" r="2.4"/><circle cx="1921.7" cy="1124.7" r="2.4"/><circle cx="1925.7" cy="1101.8" r="2.4"/><circle cx="1917.1" cy="1119.7" r="2.4"/><circle cx="1932.7" cy="1041.2" r="2.4"/><circle cx="1929.5" cy="1110.4" r="2.4"/><circle cx="1927.5" cy="1082.2" r="2.4"/><circle cx="1919.7" cy="1080.2" r="2.4"/><circle cx="1929.5" cy="1075.5" r="2.4"/><circle cx="1934.7" cy="1151.0" r="2.4"/><circle cx="1933.9" cy="997.7" r="2.4"/><circle cx="1928.0" cy="1002.8" r="2.4"/><circle cx="1920.6" cy="1122.3" r="2.4"/><circle cx="1924.5" cy="1146.7" r="2.4"/><circle cx="1927.6" cy="1106.6" r="2.4"/><circle cx="1936.4" cy="986.3" r="2.4"/><circle cx="1927.6" cy="1106.4" r="2.4"/><circle cx="1925.4" cy="1080.5" r="2.4"/><circle cx="1923.2" cy="1115.7" r="2.4"/><circle cx="1924.9" cy="1147.3" r="2.4"/><circle cx="1925.7" cy="1106.2" r="2.4"/><circle cx="1924.1" cy="1148.9" r="2.4"/><circle cx="1927.2" cy="1102.5" r="2.4"/><circle cx="1926.2" cy="1159.5" r="2.4"/><circle cx="1927.2" cy="1054.5" r="2.4"/><circle cx="1921.2" cy="1123.9" r="2.4"/><circle cx="1927.9" cy="1117.1" r="2.4"/><circle cx="1923.0" cy="1025.2" r="2.4"/><circle cx="1926.0" cy="1138.0" r="2.4"/><circle cx="1918.9" cy="1094.5" r="2.4"/><circle cx="1923.3" cy="1142.8" r="2.4"/><circle cx="1917.3" cy="1070.5" r="2.4"/><circle cx="1926.6" cy="1157.2" r="2.4"/><circle cx="1924.5" cy="1167.8" r="2.4"/><circle cx="1923.3" cy="1086.9" r="2.4"/><circle cx="1923.6" cy="1157.2" r="2.4"/><circle cx="1925.7" cy="1122.0" r="2.4"/><circle cx="1929.9" cy="1148.0" r="2.4"/><circle cx="1922.9" cy="1191.0" r="2.4"/><circle cx="1929.2" cy="1104.6" r="2.4"/><circle cx="1926.9" cy="1136.2" r="2.4"/><circle cx="1928.0" cy="1134.1" r="2.4"/><circle cx="1921.7" cy="1015.8" r="2.4"/><circle cx="1918.8" cy="1082.2" r="2.4"/><circle cx="1930.6" cy="1055.0" r="2.4"/><circle cx="1917.7" cy="1103.1" r="2.4"/><circle cx="1930.2" cy="1084.3" r="2.4"/><circle cx="1928.4" cy="1049.0" r="2.4"/><circle cx="1920.2" cy="1198.9" r="2.4"/><circle cx="1917.2" cy="1032.0" r="2.4"/><circle cx="1934.3" cy="1046.9" r="2.4"/><circle cx="1930.1" cy="1065.8" r="2.4"/><circle cx="1917.2" cy="1122.0" r="2.4"/><circle cx="1922.8" cy="1110.2" r="2.4"/><circle cx="1927.7" cy="1107.4" r="2.4"/><circle cx="1925.0" cy="1112.4" r="2.4"/><circle cx="1923.9" cy="1083.2" r="2.4"/><circle cx="1926.3" cy="1010.3" r="2.4"/><circle cx="1922.8" cy="1100.6" r="2.4"/><circle cx="1931.3" cy="1137.1" r="2.4"/><circle cx="1918.0" cy="1097.3" r="2.4"/><circle cx="1923.1" cy="1133.8" r="2.4"/><circle cx="1929.9" cy="1127.8" r="2.4"/><circle cx="1926.6" cy="1164.6" r="2.4"/><circle cx="1917.4" cy="1097.6" r="2.4"/><circle cx="1923.4" cy="1102.5" r="2.4"/><circle cx="1921.4" cy="1079.2" r="2.4"/><circle cx="1914.7" cy="1089.4" r="2.4"/><circle cx="1928.2" cy="1160.6" r="2.4"/><circle cx="1923.8" cy="1051.5" r="2.4"/><circle cx="1929.9" cy="1135.7" r="2.4"/><circle cx="1927.6" cy="1146.0" r="2.4"/><circle cx="1918.2" cy="1071.5" r="2.4"/><circle cx="1924.7" cy="1030.4" r="2.4"/><circle cx="1924.2" cy="1151.0" r="2.4"/><circle cx="1930.0" cy="1058.7" r="2.4"/><circle cx="1912.5" cy="1067.0" r="2.4"/><circle cx="1914.1" cy="1065.4" r="2.4"/><circle cx="1926.1" cy="1046.5" r="2.4"/><circle cx="1920.5" cy="989.3" r="2.4"/><circle cx="1929.7" cy="1104.7" r="2.4"/><circle cx="1920.0" cy="1137.8" r="2.4"/><circle cx="1923.5" cy="1124.0" r="2.4"/><circle cx="1926.6" cy="1160.5" r="2.4"/><circle cx="1924.3" cy="1077.1" r="2.4"/><circle cx="1922.1" cy="1017.7" r="2.4"/><circle cx="1920.9" cy="1037.9" r="2.4"/><circle cx="1913.3" cy="1066.2" r="2.4"/><circle cx="1922.9" cy="1094.8" r="2.4"/><circle cx="1920.5" cy="1130.4" r="2.4"/><circle cx="1919.9" cy="1122.8" r="2.4"/><circle cx="1920.9" cy="1135.6" r="2.4"/><circle cx="1918.1" cy="1131.9" r="2.4"/><circle cx="1928.2" cy="1111.9" r="2.4"/><circle cx="1921.2" cy="1117.8" r="2.4"/><circle cx="1929.3" cy="1035.3" r="2.4"/><circle cx="1930.3" cy="1057.6" r="2.4"/><circle cx="1923.2" cy="1121.8" r="2.4"/><circle cx="1920.9" cy="1047.8" r="2.4"/><circle cx="1926.0" cy="1111.1" r="2.4"/><circle cx="1922.4" cy="1085.8" r="2.4"/><circle cx="1922.9" cy="1054.5" r="2.4"/><circle cx="1929.8" cy="1067.7" r="2.4"/><circle cx="1927.9" cy="1071.1" r="2.4"/><circle cx="1916.7" cy="1164.5" r="2.4"/><circle cx="1926.5" cy="1136.7" r="2.4"/><circle cx="1917.2" cy="1027.9" r="2.4"/><circle cx="1919.2" cy="1089.2" r="2.4"/><circle cx="1922.4" cy="1142.6" r="2.4"/><circle cx="1925.1" cy="1069.4" r="2.4"/><circle cx="1926.8" cy="902.2" r="2.4"/><circle cx="1922.7" cy="941.8" r="2.4"/><circle cx="1929.9" cy="947.3" r="2.4"/><circle cx="2047.8" cy="1083.7" r="2.4"/><circle cx="2058.3" cy="1094.4" r="2.4"/><circle cx="2055.8" cy="1124.4" r="2.4"/><circle cx="2047.2" cy="1147.6" r="2.4"/><circle cx="2049.7" cy="1141.8" r="2.4"/><circle cx="2062.3" cy="1144.7" r="2.4"/><circle cx="2054.9" cy="1119.6" r="2.4"/><circle cx="2048.9" cy="1099.7" r="2.4"/><circle cx="2055.3" cy="1093.4" r="2.4"/><circle cx="2056.5" cy="1182.5" r="2.4"/><circle cx="2055.7" cy="1106.7" r="2.4"/><circle cx="2050.9" cy="1068.8" r="2.4"/><circle cx="2057.3" cy="1108.2" r="2.4"/><circle cx="2059.8" cy="1160.0" r="2.4"/><circle cx="2046.0" cy="1180.2" r="2.4"/><circle cx="2047.2" cy="1107.8" r="2.4"/><circle cx="2044.2" cy="1131.2" r="2.4"/><circle cx="2047.0" cy="1124.4" r="2.4"/><circle cx="2044.8" cy="1114.4" r="2.4"/><circle cx="2051.7" cy="1110.5" r="2.4"/><circle cx="2052.8" cy="1124.6" r="2.4"/><circle cx="2045.9" cy="1122.2" r="2.4"/><circle cx="2048.1" cy="1125.7" r="2.4"/><circle cx="2055.5" cy="1143.6" r="2.4"/><circle cx="2049.8" cy="1154.9" r="2.4"/><circle cx="2055.0" cy="1165.7" r="2.4"/><circle cx="2048.7" cy="1132.1" r="2.4"/><circle cx="2057.6" cy="1163.1" r="2.4"/><circle cx="2056.4" cy="1151.1" r="2.4"/><circle cx="2042.8" cy="1110.5" r="2.4"/><circle cx="2053.2" cy="1166.7" r="2.4"/><circle cx="2057.5" cy="1114.4" r="2.4"/><circle cx="2038.6" cy="959.7" r="2.4"/></g><path d="M1794.9,912.3V1193.4" stroke="#000" stroke-width="1.8" fill="none"/><rect x="1775.2" y="1033.3" width="39.4" height="87.4" fill="none" stroke="#000" stroke-width="1.6"/><path d="M1773.2,1081.3H1816.6" stroke="#000" stroke-width="5.2" fill="none"/><path d="M1923.9,976.1V1199.7" stroke="#000" stroke-width="1.8" fill="none"/><rect x="1904.2" y="1071.8" width="39.4" height="66.1" fill="none" stroke="#000" stroke-width="1.6"/><path d="M1902.2,1108.6H1945.6" stroke="#000" stroke-width="5.2" fill="none"/><path d="M2053.2,1037.3V1193.1" stroke="#000" stroke-width="1.8" fill="none"/><rect x="2033.5" y="1102.6" width="39.4" height="56.3" fill="none" stroke="#000" stroke-width="1.6"/><path d="M2031.5,1133.0H2074.9" stroke="#000" stroke-width="5.2" fill="none"/><path d="M1730.7,813.4V1218.4H2118.8" stroke="#000" stroke-width="2.6" fill="none" stroke-linecap="square"/><path d="M1718.5,1200.3L1730.8,1200.3" stroke="#000" stroke-width="2.6" /><text x="1705.0" y="1209.3" font-size="22.4" text-anchor="end">0.0</text><path d="M1718.5,1127.0L1730.8,1127.0" stroke="#000" stroke-width="2.6" /><text x="1705.0" y="1136.0" font-size="22.4" text-anchor="end">0.2</text><path d="M1718.5,1053.6L1730.8,1053.6" stroke="#000" stroke-width="2.6" /><text x="1705.0" y="1062.6" font-size="22.4" text-anchor="end">0.4</text><path d="M1718.5,980.3L1730.8,980.3" stroke="#000" stroke-width="2.6" /><text x="1705.0" y="989.3" font-size="22.4" text-anchor="end">0.6</text><path d="M1718.5,906.9L1730.8,906.9" stroke="#000" stroke-width="2.6" /><text x="1705.0" y="915.9" font-size="22.4" text-anchor="end">0.8</text><path d="M1718.5,833.6L1730.8,833.6" stroke="#000" stroke-width="2.6" /><text x="1705.0" y="842.6" font-size="22.4" text-anchor="end">1.0</text><path d="M1794.9,1218.4L1794.9,1231.3" stroke="#000" stroke-width="2.6" /><text x="1794.9" y="1261.4" font-size="22.4" text-anchor="middle">C/C</text><path d="M1923.9,1218.4L1923.9,1231.3" stroke="#000" stroke-width="2.6" /><text x="1923.9" y="1261.4" font-size="22.4" text-anchor="middle">C/T</text><path d="M2053.2,1218.4L2053.2,1231.3" stroke="#000" stroke-width="2.6" /><text x="2053.2" y="1261.4" font-size="22.4" text-anchor="middle">T/T</text><text x="1923.9" y="1297.9" font-size="22.4" text-anchor="middle">rs3826007</text><text x="1648.9" y="1016.5" font-size="22.4" text-anchor="middle" transform="rotate(-90 1648.9 1016.5)">CD16+ % Myeloid cells</text><text x="117.0" y="1514.5" font-size="31.5" class="l" font-weight="bold">g</text><text x="429.5" y="1532.4" font-size="28.5" text-anchor="middle" class="l" font-weight="bold">csaQTL associations in Myeloid cells</text><rect x="133.8" y="1566.5" width="591.9" height="450" fill="none" stroke="#000" stroke-width="2"/><rect x="133.8" y="2030.9" width="591.9" height="97" fill="none" stroke="#000" stroke-width="2"/><path d="M119.2,2000.4L134.5,2000.4" stroke="#000" stroke-width="2" /><text x="97.5" y="2000.4" font-size="23" text-anchor="middle" class="l" transform="rotate(-90 97.5 2000.4)">0</text><path d="M119.2,1905.6L134.5,1905.6" stroke="#000" stroke-width="2" /><text x="97.5" y="1905.6" font-size="23" text-anchor="middle" class="l" transform="rotate(-90 97.5 1905.6)">2</text><path d="M119.2,1810.7L134.5,1810.7" stroke="#000" stroke-width="2" /><text x="97.5" y="1810.7" font-size="23" text-anchor="middle" class="l" transform="rotate(-90 97.5 1810.7)">4</text><path d="M119.2,1715.9L134.5,1715.9" stroke="#000" stroke-width="2" /><text x="97.5" y="1715.9" font-size="23" text-anchor="middle" class="l" transform="rotate(-90 97.5 1715.9)">6</text><path d="M119.2,1621.0L134.5,1621.0" stroke="#000" stroke-width="2" /><text x="97.5" y="1621.0" font-size="23" text-anchor="middle" class="l" transform="rotate(-90 97.5 1621.0)">8</text><text x="60.8" y="1789.0" font-size="24.3" text-anchor="middle" class="l" transform="rotate(-90 60.8 1789.0)">−<tspan dx="7">log</tspan><tspan dy="4.5" font-size="16.5">10</tspan><tspan dy="-6" font-size="31" dx="1">(</tspan><tspan dy="1.5" dx="2" font-style="italic">P</tspan><tspan dy="-1.5" dx="3" font-size="31">)</tspan></text><path d="M133.8,1654.3H666.4" stroke="#000" stroke-width="2" stroke-dasharray="10.5 5.81" fill="none"/><path d="M133.8,1715.8H666.4" stroke="#000" stroke-width="2" stroke-dasharray="10.5 5.81" fill="none"/><g fill="#000"><circle cx="156.3" cy="1990.0" r="4.0"/><circle cx="158.7" cy="1995.6" r="4.0"/><circle cx="161.1" cy="1990.0" r="4.0"/><circle cx="164.3" cy="1989.2" r="4.0"/><circle cx="166.7" cy="1990.8" r="4.0"/><circle cx="169.9" cy="1989.2" r="4.0"/><circle cx="172.8" cy="1990.8" r="4.0"/><circle cx="184.0" cy="1990.0" r="4.0"/><circle cx="187.2" cy="1995.1" r="4.0"/><circle cx="195.5" cy="1990.3" r="4.0"/><circle cx="198.7" cy="1991.6" r="4.0"/><circle cx="199.0" cy="1993.5" r="4.0"/><circle cx="212.7" cy="1993.5" r="4.0"/><circle cx="221.0" cy="1994.0" r="4.0"/><circle cx="235.7" cy="1991.9" r="4.0"/><circle cx="254.9" cy="1993.7" r="4.0"/><circle cx="261.7" cy="1993.7" r="4.0"/><circle cx="265.7" cy="1993.2" r="4.0"/><circle cx="268.1" cy="1990.8" r="4.0"/><circle cx="270.5" cy="1991.6" r="4.0"/><circle cx="268.9" cy="1996.7" r="4.0"/><circle cx="279.3" cy="1994.3" r="4.0"/><circle cx="283.3" cy="1992.4" r="4.0"/><circle cx="288.1" cy="1992.4" r="4.0"/><circle cx="288.9" cy="1994.8" r="4.0"/><circle cx="298.0" cy="1991.6" r="4.0"/><circle cx="309.6" cy="1998.5" r="4.0"/><circle cx="312.0" cy="1995.6" r="4.0"/><circle cx="313.6" cy="1999.6" r="4.0"/><circle cx="347.5" cy="1989.5" r="4.0"/><circle cx="354.7" cy="1995.1" r="4.0"/><circle cx="390.6" cy="1999.9" r="4.0"/><circle cx="391.9" cy="1998.3" r="4.0"/><circle cx="408.1" cy="1995.6" r="4.0"/><circle cx="172.3" cy="1869.3" r="4.0"/><circle cx="174.7" cy="1869.3" r="4.0"/><circle cx="261.7" cy="1849.8" r="4.0"/><circle cx="266.5" cy="1849.0" r="4.0"/><circle cx="353.9" cy="1865.5" r="4.0"/><circle cx="266.5" cy="1887.7" r="4.0"/><circle cx="317.1" cy="1889.1" r="4.0"/><circle cx="299.2" cy="1897.1" r="4.0"/><circle cx="164.8" cy="1918.5" r="4.0"/><circle cx="172.8" cy="1918.2" r="4.0"/><circle cx="176.6" cy="1917.8" r="4.0"/><circle cx="199.0" cy="1914.0" r="4.0"/><circle cx="221.5" cy="1912.9" r="4.0"/><circle cx="251.3" cy="1914.0" r="4.0"/><circle cx="259.3" cy="1913.7" r="4.0"/><circle cx="269.2" cy="1919.0" r="4.0"/><circle cx="275.3" cy="1918.3" r="4.0"/><circle cx="285.2" cy="1918.3" r="4.0"/><circle cx="291.3" cy="1918.2" r="4.0"/><circle cx="299.2" cy="1917.0" r="4.0"/><circle cx="303.2" cy="1917.5" r="4.0"/><circle cx="317.6" cy="1912.6" r="4.0"/><circle cx="203.8" cy="1930.1" r="4.0"/><circle cx="206.3" cy="1936.0" r="4.0"/><circle cx="212.2" cy="1935.7" r="4.0"/><circle cx="195.9" cy="1937.3" r="4.0"/><circle cx="182.4" cy="1938.8" r="4.0"/><circle cx="169.3" cy="1941.3" r="4.0"/><circle cx="237.9" cy="1935.6" r="4.0"/><circle cx="249.8" cy="1933.8" r="4.0"/><circle cx="251.0" cy="1932.8" r="4.0"/><circle cx="331.2" cy="1929.8" r="4.0"/><circle cx="335.2" cy="1930.1" r="4.0"/><circle cx="349.4" cy="1935.2" r="4.0"/><circle cx="237.8" cy="1954.9" r="4.0"/><circle cx="249.0" cy="1953.8" r="4.0"/><circle cx="258.1" cy="1954.2" r="4.0"/><circle cx="272.6" cy="1952.6" r="4.0"/><circle cx="187.2" cy="1958.9" r="4.0"/><circle cx="190.7" cy="1958.7" r="4.0"/><circle cx="208.6" cy="1956.5" r="4.0"/><circle cx="207.1" cy="1960.5" r="4.0"/><circle cx="219.4" cy="1960.8" r="4.0"/><circle cx="182.9" cy="1966.1" r="4.0"/><circle cx="333.3" cy="1962.1" r="4.0"/><circle cx="343.2" cy="1965.3" r="4.0"/><circle cx="167.5" cy="1973.7" r="4.0"/><circle cx="173.9" cy="1973.2" r="4.0"/><circle cx="177.1" cy="1974.0" r="4.0"/><circle cx="179.2" cy="1979.6" r="4.0"/><circle cx="199.0" cy="1974.0" r="4.0"/><circle cx="205.8" cy="1972.0" r="4.0"/><circle cx="227.9" cy="1972.9" r="4.0"/><circle cx="243.0" cy="1972.6" r="4.0"/><circle cx="263.8" cy="1972.6" r="4.0"/><circle cx="266.5" cy="1972.6" r="4.0"/><circle cx="277.7" cy="1972.6" r="4.0"/><circle cx="287.6" cy="1972.6" r="4.0"/><circle cx="310.4" cy="1978.5" r="4.0"/><circle cx="314.4" cy="1984.4" r="4.0"/><circle cx="323.2" cy="1986.8" r="4.0"/><circle cx="220.7" cy="1984.4" r="4.0"/><circle cx="622.9" cy="1889.7" r="4.0"/><circle cx="548.8" cy="1905.7" r="4.0"/><circle cx="450.8" cy="1958.9" r="4.0"/><circle cx="515.9" cy="1962.5" r="4.0"/><circle cx="517.3" cy="1982.8" r="4.0"/><circle cx="436.1" cy="1994.5" r="4.0"/><circle cx="484.6" cy="1991.9" r="4.0"/><circle cx="494.7" cy="1999.9" r="4.0"/><circle cx="556.1" cy="1990.8" r="4.0"/><circle cx="566.5" cy="1990.5" r="4.0"/><circle cx="585.2" cy="1999.9" r="4.0"/><circle cx="564.9" cy="1950.9" r="4.0"/><circle cx="565.4" cy="1956.5" r="4.0"/><circle cx="598.9" cy="1952.0" r="4.0"/><circle cx="607.2" cy="1953.3" r="4.0"/><circle cx="624.3" cy="1950.9" r="4.0"/><circle cx="589.7" cy="1989.7" r="4.0"/><circle cx="593.7" cy="1989.7" r="4.0"/><circle cx="598.0" cy="1990.3" r="4.0"/><circle cx="603.7" cy="1985.2" r="4.0"/><circle cx="609.1" cy="1991.6" r="4.0"/><circle cx="613.9" cy="1989.2" r="4.0"/><circle cx="620.0" cy="1978.8" r="4.0"/><circle cx="621.6" cy="1982.8" r="4.0"/><circle cx="624.8" cy="1974.0" r="4.0"/><circle cx="628.8" cy="1979.6" r="4.0"/><circle cx="629.6" cy="1974.8" r="4.0"/><circle cx="636.0" cy="1974.8" r="4.0"/><circle cx="640.4" cy="1974.4" r="4.0"/><circle cx="641.9" cy="1986.3" r="4.0"/><circle cx="651.9" cy="1978.8" r="4.0"/><circle cx="657.5" cy="1983.1" r="4.0"/><circle cx="661.5" cy="1941.3" r="4.0"/><circle cx="666.3" cy="1941.8" r="4.0"/><circle cx="663.9" cy="1967.7" r="4.0"/><circle cx="667.4" cy="1974.8" r="4.0"/><circle cx="669.5" cy="1952.2" r="4.0"/><circle cx="673.2" cy="1952.0" r="4.0"/><circle cx="675.1" cy="1978.0" r="4.0"/><circle cx="678.3" cy="1974.8" r="4.0"/><circle cx="680.7" cy="1981.2" r="4.0"/><circle cx="683.9" cy="1974.8" r="4.0"/><circle cx="678.8" cy="1995.1" r="4.0"/><circle cx="682.0" cy="1944.5" r="4.0"/><circle cx="686.7" cy="1952.5" r="4.0"/><circle cx="689.5" cy="1945.6" r="4.0"/><circle cx="691.9" cy="1951.7" r="4.0"/><circle cx="695.0" cy="1945.6" r="4.0"/><circle cx="689.9" cy="1975.3" r="4.0"/><circle cx="693.5" cy="1986.0" r="4.0"/><circle cx="697.4" cy="1979.6" r="4.0"/><circle cx="699.8" cy="1978.5" r="4.0"/><circle cx="697.0" cy="1952.5" r="4.0"/><circle cx="700.6" cy="1953.3" r="4.0"/><circle cx="593.7" cy="1959.7" r="4.0"/><circle cx="644.3" cy="1950.9" r="4.0"/></g><g fill="#5fb8e6"><circle cx="360.8" cy="1722.2" r="4.0"/></g><g fill="#e4e845"><circle cx="470.2" cy="1831.1" r="4.0"/><circle cx="473.9" cy="1831.1" r="4.0"/><circle cx="477.1" cy="1830.3" r="4.0"/><circle cx="480.3" cy="1831.1" r="4.0"/><circle cx="483.5" cy="1831.9" r="4.0"/><circle cx="485.9" cy="1832.7" r="4.0"/><circle cx="488.3" cy="1833.8" r="4.0"/><circle cx="491.5" cy="1834.3" r="4.0"/><circle cx="493.9" cy="1833.5" r="4.0"/><circle cx="496.3" cy="1835.4" r="4.0"/><circle cx="505.5" cy="1833.8" r="4.0"/><circle cx="513.0" cy="1835.9" r="4.0"/><circle cx="515.9" cy="1837.5" r="4.0"/><circle cx="521.0" cy="1850.8" r="4.0"/><circle cx="523.4" cy="1852.7" r="4.0"/><circle cx="462.3" cy="1854.8" r="4.0"/><circle cx="460.3" cy="1864.7" r="4.0"/><circle cx="364.8" cy="1722.9" r="4.0"/><circle cx="386.0" cy="1726.7" r="4.0"/><circle cx="365.3" cy="1753.3" r="4.0"/><circle cx="399.9" cy="1755.4" r="4.0"/></g><g fill="#62bce8"><circle cx="530.3" cy="1892.1" r="4.0"/><circle cx="538.6" cy="1889.4" r="4.0"/><circle cx="542.6" cy="1891.3" r="4.0"/><circle cx="546.2" cy="1892.6" r="4.0"/><circle cx="397.8" cy="1884.5" r="4.0"/><circle cx="369.3" cy="1739.4" r="4.0"/><circle cx="369.3" cy="1743.4" r="4.0"/><circle cx="379.4" cy="1796.7" r="4.0"/></g><g fill="#3d7fc0"><circle cx="488.3" cy="1857.8" r="4.0"/><circle cx="568.9" cy="1924.5" r="4.0"/><circle cx="526.1" cy="1965.7" r="4.0"/><circle cx="574.5" cy="1958.9" r="4.0"/><circle cx="579.3" cy="1958.9" r="4.0"/><circle cx="584.1" cy="1958.9" r="4.0"/><circle cx="595.3" cy="1958.9" r="4.0"/><circle cx="643.6" cy="1953.3" r="4.0"/><circle cx="399.4" cy="1905.9" r="4.0"/></g><g fill="#e0952e"><circle cx="407.9" cy="1650.3" r="4.0"/><circle cx="413.2" cy="1641.8" r="4.0"/><circle cx="416.4" cy="1645.5" r="4.0"/><circle cx="411.1" cy="1660.9" r="4.0"/><circle cx="415.8" cy="1661.5" r="4.0"/><circle cx="430.5" cy="1650.3" r="4.0"/><circle cx="435.8" cy="1648.2" r="4.0"/><circle cx="438.5" cy="1649.0" r="4.0"/><circle cx="452.6" cy="1649.0" r="4.0"/><circle cx="444.3" cy="1668.9" r="4.0"/><circle cx="440.3" cy="1713.6" r="4.0"/><circle cx="450.4" cy="1728.8" r="4.0"/></g><text x="428.5" y="1623.7" font-size="23.4" text-anchor="middle" class="l">rs3826007</text><text x="261.0" y="1649.5" font-size="16.4" class="l">BCL2A1 eQTL</text><text x="496.2" y="1709.4" font-size="16.4" class="l">PSC risk</text><path d="M376.7,1647.6L411,1653.2" stroke="#000" stroke-width="1.8" fill="none"/><path d="M404,1649L413.5,1653.6L403.2,1655.6" stroke="#000" stroke-width="1.8" fill="none"/><path d="M453.1,1641L489.8,1708.8" stroke="#000" stroke-width="1.8" fill="none"/><path d="M430,1632.7L438.3,1640.5L430,1648.3L421.7,1640.5Z" fill="#3a9d74"/><path d="M414,1644.5L422,1658.5H406Z" fill="#5b2dc2"/><path d="M453.1,1633.0L461.1,1647.0H445.1Z" fill="#5b2dc2"/><rect x="681.0" y="1570.0" width="119.0" height="185.0" fill="#fff" /><text x="730.6" y="1592.7" font-size="18.6" class="l">r<tspan dy="-13" dx="2" font-size="11.5">2</tspan></text><rect x="686.8" y="1610.1" width="15.7" height="13.8" rx="1" fill="#e0952e"/><text x="718.6" y="1623.3" font-size="18.6" class="l">1.0</text><rect x="686.8" y="1632.9" width="15.7" height="13.8" rx="1" fill="#e4e845"/><text x="718.6" y="1646.1" font-size="18.6" class="l">0.8</text><rect x="686.8" y="1655.7" width="15.7" height="13.8" rx="1" fill="#62bce8"/><text x="718.6" y="1668.9" font-size="18.6" class="l">0.6</text><rect x="686.8" y="1678.6" width="15.7" height="13.8" rx="1" fill="#3d7fc0"/><text x="718.6" y="1691.8" font-size="18.6" class="l">0.4</text><rect x="686.8" y="1701.4" width="15.7" height="13.8" rx="1" fill="#000"/><text x="718.6" y="1714.6" font-size="18.6" class="l">0.2</text><rect x="686.8" y="1724.2" width="15.7" height="13.8" rx="1" fill="#808080"/><text x="718.6" y="1737.4" font-size="18.6" class="l">Unknown</text><clipPath id="gc"><rect x="134.8" y="2031.9" width="589.9" height="95"/></clipPath><g clip-path="url(#gc)"><path d="M130.0,2049.4H171.5" stroke="#808080" stroke-width="7" stroke-linecap="round" fill="none"/><path d="M130.0,2079.4H171.5" stroke="#808080" stroke-width="7" stroke-linecap="round" fill="none"/><path d="M375.0,2109.4H431.0" stroke="#808080" stroke-width="7" stroke-linecap="round" fill="none"/><path d="M534.0,2049.4H538.0" stroke="#808080" stroke-width="7" stroke-linecap="round" fill="none"/><path d="M666.0,2079.4H675.0" stroke="#808080" stroke-width="7" stroke-linecap="round" fill="none"/><text x="120.5" y="2065.0" font-size="14.2" class="l" font-style="italic">ST20-MTHFS</text><text x="163.5" y="2094.4" font-size="14.2" text-anchor="middle" class="l" font-style="italic">ST20</text><text x="403.0" y="2124.4" font-size="14.2" text-anchor="middle" class="l" font-style="italic">BCL2A1</text><text x="534.5" y="2041.9" font-size="14.2" text-anchor="middle" class="l" font-style="italic">RP11-81A1.7</text><text x="670.0" y="2071.3" font-size="14.2" text-anchor="middle" class="l" font-style="italic">RP11-758M2.1</text></g><path d="M193.3,2127.9L193.3,2142.9" stroke="#000" stroke-width="2" /><text x="193.3" y="2177.0" font-size="23.6" text-anchor="middle" class="l">80,220,000</text><path d="M302.9,2127.9L302.9,2142.9" stroke="#000" stroke-width="2" /><path d="M411.9,2127.9L411.9,2142.9" stroke="#000" stroke-width="2" /><text x="411.9" y="2177.0" font-size="23.6" text-anchor="middle" class="l">80,260,000</text><path d="M521.5,2127.9L521.5,2142.9" stroke="#000" stroke-width="2" /><path d="M631.1,2127.9L631.1,2142.9" stroke="#000" stroke-width="2" /><text x="631.1" y="2177.0" font-size="23.6" text-anchor="middle" class="l">80,300,000</text><text x="429.5" y="2205.0" font-size="23.6" text-anchor="middle" class="l">Position on Chromosome 15</text><text x="871.0" y="1540.7" font-size="31.5" class="l" font-weight="bold">h</text><text x="998.5" y="1555.9" font-size="29" text-anchor="middle" class="l">Locus</text><text x="998.4" y="1630.4" font-size="29" text-anchor="middle" class="l">Lead SNP</text><text x="998.0" y="1668.2" font-size="29" text-anchor="middle" class="l">rs3826007</text><rect x="914.5" y="1720.4" width="160.5" height="27.8" fill="#d9d9d9" /><rect x="960.0" y="1702.1" width="67.0" height="46.1" fill="#d9d9d9" /><rect x="965.7" y="1706.1" width="55.3" height="37.8" fill="#fff" /><text x="993.3" y="1736.0" font-size="28.5" text-anchor="middle" class="l">T</text><rect x="914.5" y="1761.2" width="160.5" height="27.8" fill="#d9d9d9" /><rect x="960.0" y="1761.2" width="67.0" height="49.6" fill="#d9d9d9" /><rect x="965.7" y="1766.7" width="55.3" height="38.0" fill="#fff" /><text x="993.3" y="1795.6" font-size="28.5" text-anchor="middle" class="l">T</text><rect x="914.5" y="1907.2" width="160.5" height="27.8" fill="#d9d9d9" /><rect x="960.0" y="1888.9" width="67.0" height="46.1" fill="#d9d9d9" /><rect x="965.7" y="1892.9" width="55.3" height="37.8" fill="#fff" /><text x="993.3" y="1922.8" font-size="28.5" text-anchor="middle" class="l">T</text><rect x="914.5" y="1947.8" width="160.5" height="27.8" fill="#d9d9d9" /><rect x="960.0" y="1947.8" width="67.0" height="49.6" fill="#d9d9d9" /><rect x="965.7" y="1953.3" width="55.3" height="38.0" fill="#fff" /><text x="993.3" y="1982.2" font-size="28.5" text-anchor="middle" class="l">C</text><rect x="914.5" y="2081.5" width="160.5" height="27.8" fill="#d9d9d9" /><rect x="960.0" y="2063.2" width="67.0" height="46.1" fill="#d9d9d9" /><rect x="965.7" y="2067.2" width="55.3" height="37.8" fill="#fff" /><text x="993.3" y="2097.1" font-size="28.5" text-anchor="middle" class="l">C</text><rect x="914.5" y="2122.1" width="160.5" height="27.8" fill="#d9d9d9" /><rect x="960.0" y="2122.1" width="67.0" height="49.6" fill="#d9d9d9" /><rect x="965.7" y="2127.6" width="55.3" height="38.0" fill="#fff" /><text x="993.3" y="2156.5" font-size="28.5" text-anchor="middle" class="l">C</text><path d="M1089.4,1752H1183" stroke="#000" stroke-width="1.6" stroke-dasharray="6.2 3.8" fill="none"/><path d="M1089.4,1943.6H1183" stroke="#000" stroke-width="1.6" stroke-dasharray="6.2 3.8" fill="none"/><path d="M1089.4,2118.3H1183" stroke="#000" stroke-width="1.6" stroke-dasharray="6.2 3.8" fill="none"/><path d="M1204.2,1571.2H2074.6V2206.4H1204.2ZM1204.2,1619H2074.6M1463,1571.2V2206.4M1813.8,1571.2V2206.4" fill="none" stroke="#000" stroke-width="1.9"/><text x="1333.8" y="1556.2" font-size="29" text-anchor="middle" class="l">Molecule</text><text x="1333.8" y="1605.4" font-size="29" text-anchor="middle" class="l">Gene expression</text><text x="1639.0" y="1556.2" font-size="29" text-anchor="middle" class="l">Tissue</text><text x="1639.0" y="1605.4" font-size="29" text-anchor="middle" class="l">Cell state abundance</text><text x="1943.6" y="1556.2" font-size="29" text-anchor="middle" class="l">Organism</text><text x="1943.6" y="1605.4" font-size="29" text-anchor="middle" class="l">Disease risk</text><text x="1333.8" y="1664.0" font-size="24.8" text-anchor="middle" class="l"><tspan fill="#d4a73a" font-style="italic">BCL2A1</tspan> in</text><text x="1333.8" y="1694.6" font-size="24.8" text-anchor="middle" class="l">whole blood</text><text x="1639.0" y="1664.0" font-size="24.8" text-anchor="middle" class="l">Fractional abundance of</text><text x="1639.0" y="1694.6" font-size="24.8" text-anchor="middle" class="l" fill="#4caf80">CD16+ myeloid cells</text><text x="1943.6" y="1662.3" font-size="24.8" text-anchor="middle" class="l">Primary sclerosing</text><text x="1943.6" y="1692.3" font-size="24.8" text-anchor="middle" class="l">cholangitis risk</text><circle cx="1331.2" cy="1770.8" r="60" fill="#fff" stroke="#4d4d4d" stroke-width="1.6"/><path d="M1297.2,1769.8c7,-2.5 13,3 20,5c9,2 13,-10 22,-11c9,-1 13,10.5 20,10.5c3,0 5,-1 6.5,-3.5" fill="none" stroke="#d4a73a" stroke-width="3.1" stroke-linecap="round"/><circle cx="1331" cy="1947.3" r="60" fill="#fff" stroke="#4d4d4d" stroke-width="1.6"/><path d="M1301.5,1936.3c7,-2.5 13,3 20,5c9,2 13,-10 22,-11c9,-1 13,10.5 20,10.5c3,0 5,-1 6.5,-3.5M1301.5,1947.8c7,-2.5 13,3 20,5c9,2 13,-10 22,-11c9,-1 13,10.5 20,10.5c3,0 5,-1 6.5,-3.5M1295.0,1959.3c7,-2.5 13,3 20,5c9,2 13,-10 22,-11c9,-1 13,10.5 20,10.5c3,0 5,-1 6.5,-3.5" fill="none" stroke="#d4a73a" stroke-width="3.1" stroke-linecap="round"/><circle cx="1333.5" cy="2123.8" r="60" fill="#fff" stroke="#4d4d4d" stroke-width="1.6"/><path d="M1300.5,2094.3c7,-2.5 13,3 20,5c9,2 13,-10 22,-11c9,-1 13,10.5 20,10.5c3,0 5,-1 6.5,-3.5M1301.5,2107.8c7,-2.5 13,3 20,5c9,2 13,-10 22,-11c9,-1 13,10.5 20,10.5c3,0 5,-1 6.5,-3.5M1297.5,2118.8c7,-2.5 13,3 20,5c9,2 13,-10 22,-11c9,-1 13,10.5 20,10.5c3,0 5,-1 6.5,-3.5M1301.5,2137.3c7,-2.5 13,3 20,5c9,2 13,-10 22,-11c9,-1 13,10.5 20,10.5c3,0 5,-1 6.5,-3.5M1297.5,2154.8c7,-2.5 13,3 20,5c9,2 13,-10 22,-11c9,-1 13,10.5 20,10.5c3,0 5,-1 6.5,-3.5" fill="none" stroke="#d4a73a" stroke-width="3.1" stroke-linecap="round"/><g fill="#eceeed" stroke="#111" stroke-width="1.8"><circle cx="1572.7" cy="1751.8" r="16.6"/><circle cx="1637.7" cy="1737.7" r="16.6"/><circle cx="1689.2" cy="1750.2" r="16.6"/><circle cx="1650.5" cy="1783.4" r="16.6"/><circle cx="1708.3" cy="1785.4" r="16.6"/><circle cx="1583.9" cy="1802.0" r="16.6"/><circle cx="1626.5" cy="1816.5" r="16.6"/><circle cx="1678.8" cy="1816.5" r="16.6"/><circle cx="1636.9" cy="1912.7" r="16.6"/><circle cx="1688.7" cy="1925.2" r="16.6"/><circle cx="1542.8" cy="1958.3" r="16.6"/><circle cx="1707.3" cy="1960.6" r="16.6"/><circle cx="1625.7" cy="1991.5" r="16.6"/><circle cx="1678.0" cy="1991.5" r="16.6"/><circle cx="1689.7" cy="2099.1" r="16.6"/><circle cx="1651.0" cy="2133.5" r="16.6"/><circle cx="1584.2" cy="2152.1" r="16.6"/><circle cx="1679.3" cy="2166.7" r="16.6"/></g><g fill="#4caf7f" stroke="#111" stroke-width="1.8"><circle cx="1543.9" cy="1783.4" r="16.6"/><circle cx="1611.2" cy="1768.9" r="16.6"/><circle cx="1571.9" cy="1927.0" r="16.6"/><circle cx="1610.4" cy="1943.8" r="16.6"/><circle cx="1649.7" cy="1958.1" r="16.6"/><circle cx="1582.9" cy="1977.2" r="16.6"/><circle cx="1638.5" cy="2087.6" r="16.6"/><circle cx="1573.2" cy="2101.6" r="16.6"/><circle cx="1612.2" cy="2118.7" r="16.6"/><circle cx="1544.4" cy="2132.8" r="16.6"/><circle cx="1708.9" cy="2134.0" r="16.6"/><circle cx="1627.3" cy="2167.4" r="16.6"/></g><circle cx="1943.6" cy="1737.9" r="24.7" fill="#404040"/><path d="M1924.1,1762.6000000000001H1963.1V1767.9H1966.6C1981.6,1768.9 1998.1,1798.9 2001.6,1823.9C2003.1,1833.9 1996.1,1835.4 1988.6,1827.9C1983.6,1821.9 1978.6,1813.9 1974.6,1807.9L1979.1,1830.4H1908.1L1912.6,1807.9C1908.6,1813.9 1903.6,1821.9 1898.6,1827.9C1891.1,1835.4 1884.1,1833.9 1885.6,1823.9C1889.1,1798.9 1905.6,1768.9 1920.6,1767.9H1924.1Z" fill="#404040"/><circle cx="1943.6" cy="1911" r="24.7" fill="#999999"/><path d="M1924.1,1935.7H1963.1V1941H1966.6C1981.6,1942 1998.1,1972 2001.6,1997C2003.1,2007 1996.1,2008.5 1988.6,2001C1983.6,1995 1978.6,1987 1974.6,1981L1979.1,2003.5H1908.1L1912.6,1981C1908.6,1987 1903.6,1995 1898.6,2001C1891.1,2008.5 1884.1,2007 1885.6,1997C1889.1,1972 1905.6,1942 1920.6,1941H1924.1Z" fill="#999999"/><circle cx="1943.6" cy="2083.3" r="24.7" fill="#d9d9d9"/><path d="M1924.1,2108.0H1963.1V2113.3H1966.6C1981.6,2114.3 1998.1,2144.3 2001.6,2169.3C2003.1,2179.3 1996.1,2180.8 1988.6,2173.3C1983.6,2167.3 1978.6,2159.3 1974.6,2153.3L1979.1,2175.8H1908.1L1912.6,2153.3C1908.6,2159.3 1903.6,2167.3 1898.6,2173.3C1891.1,2180.8 1884.1,2179.3 1885.6,2169.3C1889.1,2144.3 1905.6,2114.3 1920.6,2113.3H1924.1Z" fill="#d9d9d9"/><text x="1943.8" y="1848.8" font-size="20.6" text-anchor="middle" class="l">Higher</text><text x="1943.8" y="2196.0" font-size="20.6" text-anchor="middle" class="l">Lower</text></svg></body></html>
